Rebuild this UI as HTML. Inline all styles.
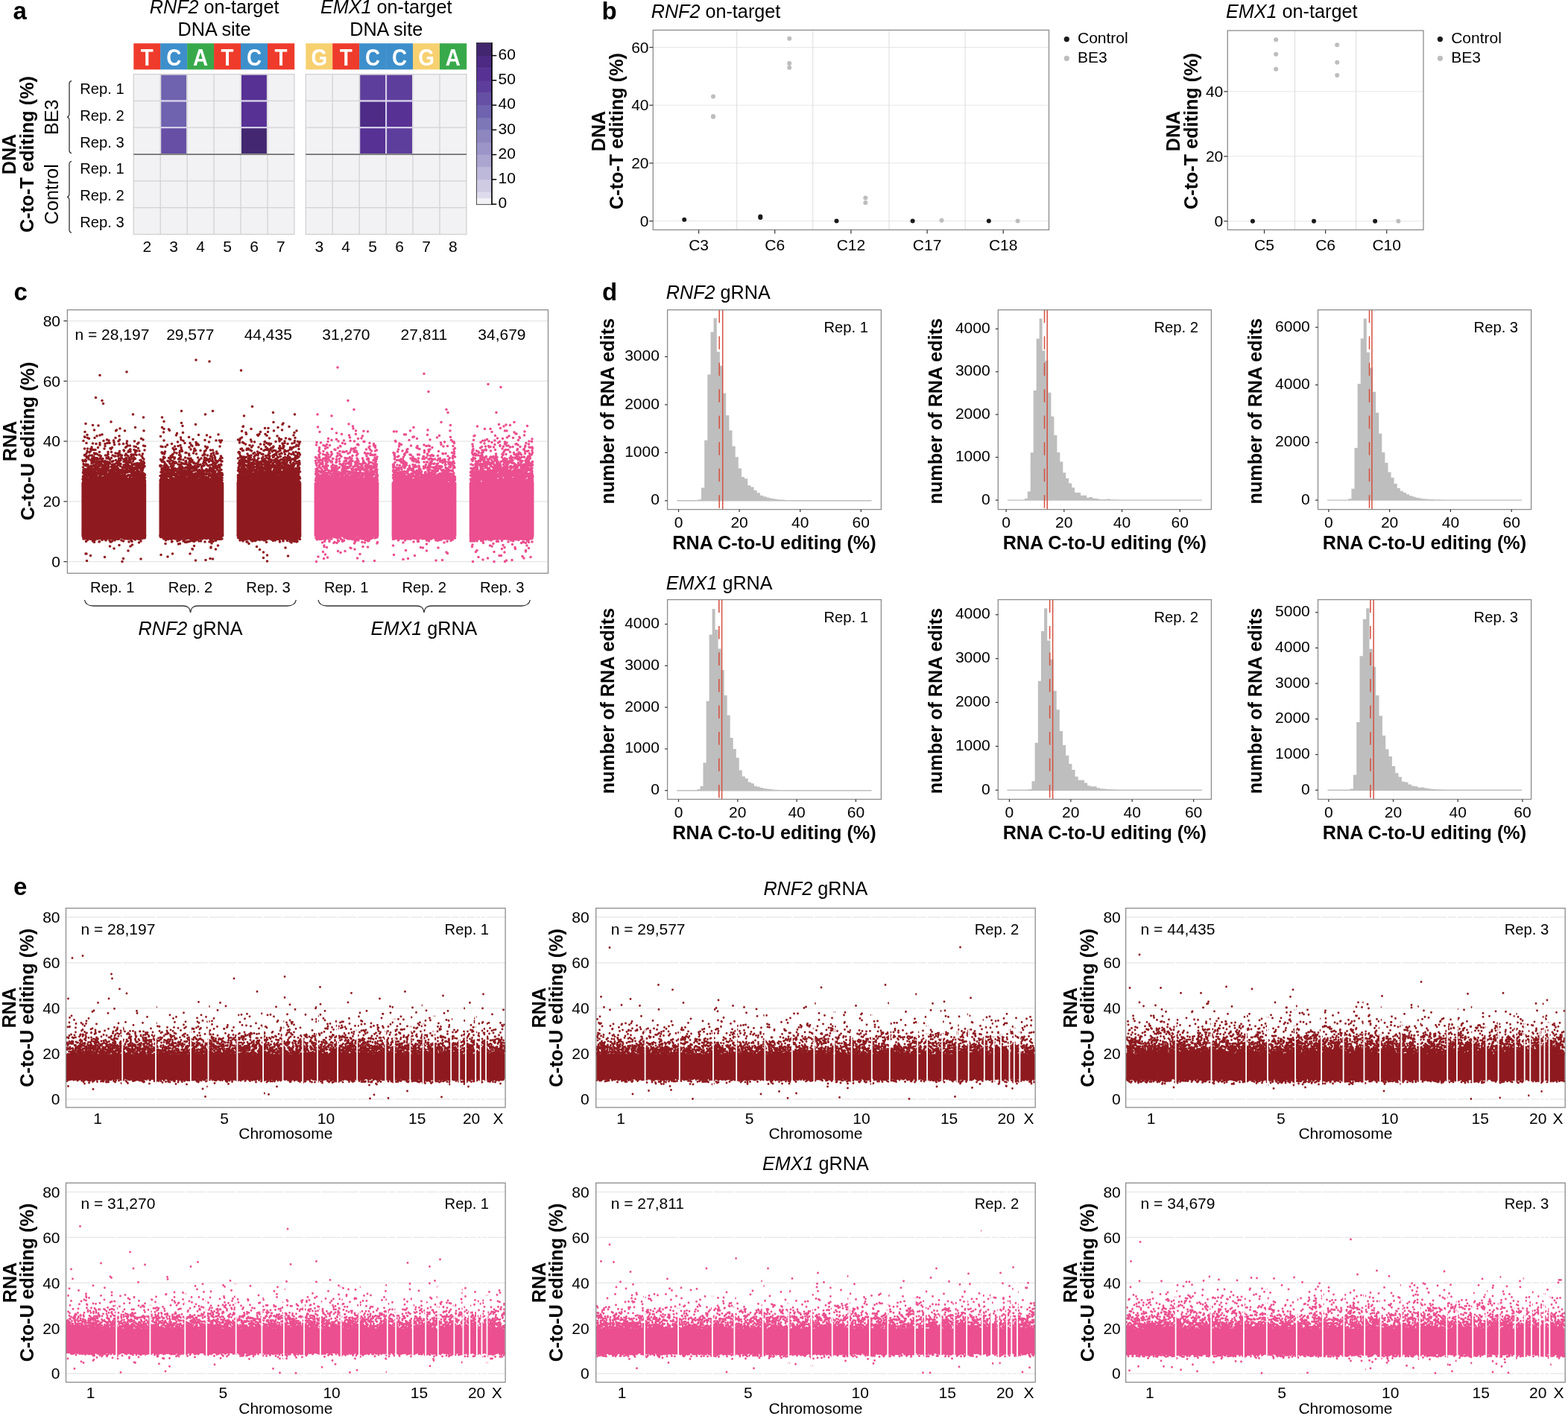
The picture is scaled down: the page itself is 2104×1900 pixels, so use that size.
<!DOCTYPE html>
<html><head><meta charset="utf-8"><title>Figure</title>
<style>html,body{margin:0;padding:0;background:#fff;overflow:hidden;width:2104px;height:1900px;}svg{display:block;}</style>
</head><body>
<svg width="2104" height="1900" viewBox="0 0 2104 1900" font-family="'Liberation Sans', Arial, sans-serif" font-size="21" fill="#000">
<rect width="2104" height="1900" fill="#fff"/>
<text x="17.5" y="25.5" font-size="33" font-weight="bold">a</text>
<text x="287.6" y="17.9" font-size="25.2" text-anchor="middle"><tspan font-style="italic">RNF2</tspan> on-target</text>
<text x="287.6" y="47.6" font-size="25.2" text-anchor="middle">DNA site</text>
<rect x="179.3" y="58.2" width="36.2" height="35.1" fill="#EE3B2C"/>
<text transform="translate(197.3 87.9) scale(0.91 1)" font-size="30.6" text-anchor="middle" font-weight="bold" fill="#fff">T</text>
<rect x="215.2" y="58.2" width="36.2" height="35.1" fill="#3D8FCB"/>
<text transform="translate(233.2 87.9) scale(0.91 1)" font-size="30.6" text-anchor="middle" font-weight="bold" fill="#fff">C</text>
<rect x="251.2" y="58.2" width="36.2" height="35.1" fill="#38A94B"/>
<text transform="translate(269.1 87.9) scale(0.91 1)" font-size="30.6" text-anchor="middle" font-weight="bold" fill="#fff">A</text>
<rect x="287.1" y="58.2" width="36.2" height="35.1" fill="#EE3B2C"/>
<text transform="translate(305.1 87.9) scale(0.91 1)" font-size="30.6" text-anchor="middle" font-weight="bold" fill="#fff">T</text>
<rect x="323" y="58.2" width="36.2" height="35.1" fill="#3D8FCB"/>
<text transform="translate(341 87.9) scale(0.91 1)" font-size="30.6" text-anchor="middle" font-weight="bold" fill="#fff">C</text>
<rect x="359" y="58.2" width="36.2" height="35.1" fill="#EE3B2C"/>
<text transform="translate(376.9 87.9) scale(0.91 1)" font-size="30.6" text-anchor="middle" font-weight="bold" fill="#fff">T</text>
<rect x="179.3" y="99.6" width="215.6" height="214.9" fill="#F2F2F5"/>
<line x1="215.2" y1="99.6" x2="215.2" y2="314.5" stroke="#D2D2D4" stroke-width="1.3"/>
<line x1="251.2" y1="99.6" x2="251.2" y2="314.5" stroke="#D2D2D4" stroke-width="1.3"/>
<line x1="287.1" y1="99.6" x2="287.1" y2="314.5" stroke="#D2D2D4" stroke-width="1.3"/>
<line x1="323" y1="99.6" x2="323" y2="314.5" stroke="#D2D2D4" stroke-width="1.3"/>
<line x1="359" y1="99.6" x2="359" y2="314.5" stroke="#D2D2D4" stroke-width="1.3"/>
<line x1="179.3" y1="135.4" x2="394.9" y2="135.4" stroke="#D2D2D4" stroke-width="1.3"/>
<line x1="179.3" y1="171.2" x2="394.9" y2="171.2" stroke="#D2D2D4" stroke-width="1.3"/>
<line x1="179.3" y1="242.9" x2="394.9" y2="242.9" stroke="#D2D2D4" stroke-width="1.3"/>
<line x1="179.3" y1="278.7" x2="394.9" y2="278.7" stroke="#D2D2D4" stroke-width="1.3"/>
<rect x="179.3" y="99.6" width="215.6" height="214.9" fill="none" stroke="#D0D0D2" stroke-width="1.3"/>
<rect x="216.2" y="100.6" width="33.9" height="33.8" fill="#6F62AE"/>
<rect x="216.2" y="136.4" width="33.9" height="33.8" fill="#6F62AE"/>
<rect x="216.2" y="172.2" width="33.9" height="33.8" fill="#664FA5"/>
<rect x="324" y="100.6" width="33.9" height="33.8" fill="#573194"/>
<rect x="324" y="136.4" width="33.9" height="33.8" fill="#573194"/>
<rect x="324" y="172.2" width="33.9" height="33.8" fill="#432871"/>
<line x1="215.2" y1="135.4" x2="251.2" y2="135.4" stroke="#D8D0EE" stroke-width="1.5"/>
<line x1="215.2" y1="171.2" x2="251.2" y2="171.2" stroke="#D8D0EE" stroke-width="1.5"/>
<line x1="323" y1="135.4" x2="359" y2="135.4" stroke="#D8D0EE" stroke-width="1.5"/>
<line x1="323" y1="171.2" x2="359" y2="171.2" stroke="#D8D0EE" stroke-width="1.5"/>
<line x1="179.3" y1="207.1" x2="394.9" y2="207.1" stroke="#707070" stroke-width="1.6"/>
<text x="197.3" y="337.9" text-anchor="middle">2</text>
<text x="233.2" y="337.9" text-anchor="middle">3</text>
<text x="269.1" y="337.9" text-anchor="middle">4</text>
<text x="305.1" y="337.9" text-anchor="middle">5</text>
<text x="341" y="337.9" text-anchor="middle">6</text>
<text x="376.9" y="337.9" text-anchor="middle">7</text>
<text x="518.2" y="17.9" font-size="25.2" text-anchor="middle"><tspan font-style="italic">EMX1</tspan> on-target</text>
<text x="518.2" y="47.6" font-size="25.2" text-anchor="middle">DNA site</text>
<rect x="410.3" y="58.2" width="36.2" height="35.1" fill="#F7D070"/>
<text transform="translate(428.3 87.9) scale(0.91 1)" font-size="30.6" text-anchor="middle" font-weight="bold" fill="#fff">G</text>
<rect x="446.2" y="58.2" width="36.2" height="35.1" fill="#EE3B2C"/>
<text transform="translate(464.2 87.9) scale(0.91 1)" font-size="30.6" text-anchor="middle" font-weight="bold" fill="#fff">T</text>
<rect x="482.2" y="58.2" width="36.2" height="35.1" fill="#3D8FCB"/>
<text transform="translate(500.1 87.9) scale(0.91 1)" font-size="30.6" text-anchor="middle" font-weight="bold" fill="#fff">C</text>
<rect x="518.1" y="58.2" width="36.2" height="35.1" fill="#3D8FCB"/>
<text transform="translate(536.1 87.9) scale(0.91 1)" font-size="30.6" text-anchor="middle" font-weight="bold" fill="#fff">C</text>
<rect x="554" y="58.2" width="36.2" height="35.1" fill="#F7D070"/>
<text transform="translate(572 87.9) scale(0.91 1)" font-size="30.6" text-anchor="middle" font-weight="bold" fill="#fff">G</text>
<rect x="590" y="58.2" width="36.2" height="35.1" fill="#38A94B"/>
<text transform="translate(607.9 87.9) scale(0.91 1)" font-size="30.6" text-anchor="middle" font-weight="bold" fill="#fff">A</text>
<rect x="410.3" y="99.6" width="215.6" height="214.9" fill="#F2F2F5"/>
<line x1="446.2" y1="99.6" x2="446.2" y2="314.5" stroke="#D2D2D4" stroke-width="1.3"/>
<line x1="482.2" y1="99.6" x2="482.2" y2="314.5" stroke="#D2D2D4" stroke-width="1.3"/>
<line x1="518.1" y1="99.6" x2="518.1" y2="314.5" stroke="#D2D2D4" stroke-width="1.3"/>
<line x1="554" y1="99.6" x2="554" y2="314.5" stroke="#D2D2D4" stroke-width="1.3"/>
<line x1="590" y1="99.6" x2="590" y2="314.5" stroke="#D2D2D4" stroke-width="1.3"/>
<line x1="410.3" y1="135.4" x2="625.9" y2="135.4" stroke="#D2D2D4" stroke-width="1.3"/>
<line x1="410.3" y1="171.2" x2="625.9" y2="171.2" stroke="#D2D2D4" stroke-width="1.3"/>
<line x1="410.3" y1="242.9" x2="625.9" y2="242.9" stroke="#D2D2D4" stroke-width="1.3"/>
<line x1="410.3" y1="278.7" x2="625.9" y2="278.7" stroke="#D2D2D4" stroke-width="1.3"/>
<rect x="410.3" y="99.6" width="215.6" height="214.9" fill="none" stroke="#D0D0D2" stroke-width="1.3"/>
<rect x="483.2" y="100.6" width="33.9" height="33.8" fill="#5E3E9C"/>
<rect x="483.2" y="136.4" width="33.9" height="33.8" fill="#4D2B86"/>
<rect x="483.2" y="172.2" width="33.9" height="33.8" fill="#573194"/>
<rect x="519.1" y="100.6" width="33.9" height="33.8" fill="#5E3E9C"/>
<rect x="519.1" y="136.4" width="33.9" height="33.8" fill="#573194"/>
<rect x="519.1" y="172.2" width="33.9" height="33.8" fill="#5E3E9C"/>
<line x1="482.2" y1="135.4" x2="518.1" y2="135.4" stroke="#D8D0EE" stroke-width="1.5"/>
<line x1="482.2" y1="171.2" x2="518.1" y2="171.2" stroke="#D8D0EE" stroke-width="1.5"/>
<line x1="518.1" y1="135.4" x2="554" y2="135.4" stroke="#D8D0EE" stroke-width="1.5"/>
<line x1="518.1" y1="171.2" x2="554" y2="171.2" stroke="#D8D0EE" stroke-width="1.5"/>
<line x1="518.1" y1="99.6" x2="518.1" y2="207.1" stroke="#D8D0EE" stroke-width="1.5"/>
<line x1="410.3" y1="207.1" x2="625.9" y2="207.1" stroke="#707070" stroke-width="1.6"/>
<text x="428.3" y="337.9" text-anchor="middle">3</text>
<text x="464.2" y="337.9" text-anchor="middle">4</text>
<text x="500.1" y="337.9" text-anchor="middle">5</text>
<text x="536.1" y="337.9" text-anchor="middle">6</text>
<text x="572" y="337.9" text-anchor="middle">7</text>
<text x="607.9" y="337.9" text-anchor="middle">8</text>
<text x="107.2" y="125.8" font-size="20.2">Rep. 1</text>
<text x="107.2" y="161.6" font-size="20.2">Rep. 2</text>
<text x="107.2" y="197.5" font-size="20.2">Rep. 3</text>
<text x="107.2" y="233.3" font-size="20.2">Rep. 1</text>
<text x="107.2" y="269.1" font-size="20.2">Rep. 2</text>
<text x="107.2" y="304.9" font-size="20.2">Rep. 3</text>
<path d="M96 108.5 C92 109.5 93 112.5 93 115.5 L93 152.1 C93 155.1 92 157.1 90 157.1 C92 157.1 93 159.1 93 162.1 L93 198.7 C93 201.7 92 204.7 96 205.7" fill="none" stroke="#333" stroke-width="1.3"/>
<path d="M96 216.3 C92 217.3 93 220.3 93 223.3 L93 259.3 C93 262.3 92 264.3 90 264.3 C92 264.3 93 266.3 93 269.3 L93 305.3 C93 308.3 92 311.3 96 312.3" fill="none" stroke="#333" stroke-width="1.3"/>
<text x="78" y="157.3" font-size="25.2" text-anchor="middle" transform="rotate(-90 78 157.3)">BE3</text>
<text x="78" y="260.7" font-size="25.2" text-anchor="middle" transform="rotate(-90 78 260.7)">Control</text>
<text x="21.3" y="207" font-size="25.2" text-anchor="middle" font-weight="bold" transform="rotate(-90 21.3 207)">DNA</text>
<text x="45.3" y="207" font-size="25.2" text-anchor="middle" font-weight="bold" transform="rotate(-90 45.3 207)">C-to-T editing (%)</text>
<rect x="639.5" y="265.7" width="20.5" height="8.7" fill="#F2F1F5"/>
<rect x="639.5" y="257.4" width="20.5" height="8.7" fill="#DDDBEC"/>
<rect x="639.5" y="240.8" width="20.5" height="17" fill="#CFCBE3"/>
<rect x="639.5" y="224.2" width="20.5" height="17" fill="#BDB9DA"/>
<rect x="639.5" y="207.5" width="20.5" height="17" fill="#ABA6D0"/>
<rect x="639.5" y="190.9" width="20.5" height="17" fill="#9C95C8"/>
<rect x="639.5" y="174.3" width="20.5" height="17" fill="#8D86BF"/>
<rect x="639.5" y="157.7" width="20.5" height="17" fill="#7D77B8"/>
<rect x="639.5" y="141.1" width="20.5" height="17" fill="#6F62AE"/>
<rect x="639.5" y="124.5" width="20.5" height="17" fill="#6650A5"/>
<rect x="639.5" y="107.8" width="20.5" height="17" fill="#5E3E9C"/>
<rect x="639.5" y="91.2" width="20.5" height="17" fill="#573194"/>
<rect x="639.5" y="74.6" width="20.5" height="17" fill="#4D2B85"/>
<rect x="639.5" y="57.7" width="20.5" height="17.3" fill="#42276F"/>
<rect x="639.5" y="57.5" width="20.5" height="216.8" fill="none" stroke="#222" stroke-width="0.8"/>
<line x1="660" y1="56.9" x2="660" y2="274.9" stroke="#000" stroke-width="1.5"/>
<line x1="660" y1="274" x2="666.3" y2="274" stroke="#000" stroke-width="1.5"/>
<text x="668.5" y="279.3">0</text>
<line x1="660" y1="240.8" x2="666.3" y2="240.8" stroke="#000" stroke-width="1.5"/>
<text x="668.5" y="246.1">10</text>
<line x1="660" y1="207.5" x2="666.3" y2="207.5" stroke="#000" stroke-width="1.5"/>
<text x="668.5" y="212.8">20</text>
<line x1="660" y1="174.3" x2="666.3" y2="174.3" stroke="#000" stroke-width="1.5"/>
<text x="668.5" y="179.6">30</text>
<line x1="660" y1="141.1" x2="666.3" y2="141.1" stroke="#000" stroke-width="1.5"/>
<text x="668.5" y="146.4">40</text>
<line x1="660" y1="107.8" x2="666.3" y2="107.8" stroke="#000" stroke-width="1.5"/>
<text x="668.5" y="113.1">50</text>
<line x1="660" y1="74.6" x2="666.3" y2="74.6" stroke="#000" stroke-width="1.5"/>
<text x="668.5" y="79.9">60</text>
<text x="807.5" y="25.5" font-size="33" font-weight="bold">b</text>
<line x1="876.3" y1="296.6" x2="1407.5" y2="296.6" stroke="#E6E6E6" stroke-width="1"/>
<line x1="876.3" y1="218.9" x2="1407.5" y2="218.9" stroke="#E6E6E6" stroke-width="1"/>
<line x1="876.3" y1="141.2" x2="1407.5" y2="141.2" stroke="#E6E6E6" stroke-width="1"/>
<line x1="876.3" y1="63.5" x2="1407.5" y2="63.5" stroke="#E6E6E6" stroke-width="1"/>
<line x1="988.7" y1="40.4" x2="988.7" y2="308.4" stroke="#DCDCDC" stroke-width="1"/>
<line x1="1090.8" y1="40.4" x2="1090.8" y2="308.4" stroke="#DCDCDC" stroke-width="1"/>
<line x1="1193" y1="40.4" x2="1193" y2="308.4" stroke="#DCDCDC" stroke-width="1"/>
<line x1="1295.1" y1="40.4" x2="1295.1" y2="308.4" stroke="#DCDCDC" stroke-width="1"/>
<rect x="876.3" y="40.4" width="531.2" height="268" fill="none" stroke="#8C8C8C" stroke-width="1.3"/>
<line x1="871.3" y1="296.6" x2="876.3" y2="296.6" stroke="#333" stroke-width="1.2"/>
<text x="870.5" y="303.6" text-anchor="end">0</text>
<line x1="871.3" y1="218.9" x2="876.3" y2="218.9" stroke="#333" stroke-width="1.2"/>
<text x="870.5" y="225.9" text-anchor="end">20</text>
<line x1="871.3" y1="141.2" x2="876.3" y2="141.2" stroke="#333" stroke-width="1.2"/>
<text x="870.5" y="148.2" text-anchor="end">40</text>
<line x1="871.3" y1="63.5" x2="876.3" y2="63.5" stroke="#333" stroke-width="1.2"/>
<text x="870.5" y="70.5" text-anchor="end">60</text>
<line x1="937.6" y1="308.4" x2="937.6" y2="313.4" stroke="#333" stroke-width="1.2"/>
<text x="937.6" y="335.9" text-anchor="middle">C3</text>
<line x1="1039.7" y1="308.4" x2="1039.7" y2="313.4" stroke="#333" stroke-width="1.2"/>
<text x="1039.7" y="335.9" text-anchor="middle">C6</text>
<line x1="1141.9" y1="308.4" x2="1141.9" y2="313.4" stroke="#333" stroke-width="1.2"/>
<text x="1141.9" y="335.9" text-anchor="middle">C12</text>
<line x1="1244.1" y1="308.4" x2="1244.1" y2="313.4" stroke="#333" stroke-width="1.2"/>
<text x="1244.1" y="335.9" text-anchor="middle">C17</text>
<line x1="1346.2" y1="308.4" x2="1346.2" y2="313.4" stroke="#333" stroke-width="1.2"/>
<text x="1346.2" y="335.9" text-anchor="middle">C18</text>
<circle cx="918.2" cy="294.7" r="3" fill="#1A1A1A"/>
<circle cx="957" cy="129.5" r="3" fill="#BDBDBD"/>
<circle cx="957" cy="156.7" r="3" fill="#BDBDBD"/>
<circle cx="957" cy="156" r="3" fill="#BDBDBD"/>
<circle cx="1020.3" cy="291.9" r="3" fill="#1A1A1A"/>
<circle cx="1020.3" cy="290.4" r="3" fill="#1A1A1A"/>
<circle cx="1059.2" cy="51.8" r="3" fill="#BDBDBD"/>
<circle cx="1059.2" cy="84.9" r="3" fill="#BDBDBD"/>
<circle cx="1059.2" cy="90.7" r="3" fill="#BDBDBD"/>
<circle cx="1122.5" cy="296.6" r="3" fill="#1A1A1A"/>
<circle cx="1161.3" cy="265.5" r="3" fill="#BDBDBD"/>
<circle cx="1161.3" cy="272.1" r="3" fill="#BDBDBD"/>
<circle cx="1224.6" cy="296.6" r="3" fill="#1A1A1A"/>
<circle cx="1263.5" cy="295.8" r="3" fill="#BDBDBD"/>
<circle cx="1326.8" cy="296.6" r="3" fill="#1A1A1A"/>
<circle cx="1365.6" cy="296.6" r="3" fill="#BDBDBD"/>
<text x="873.7" y="23.9" font-size="25.2"><tspan font-style="italic">RNF2</tspan> on-target</text>
<circle cx="1431.3" cy="52.6" r="3.6" fill="#1A1A1A"/>
<circle cx="1431.3" cy="78.3" r="3.6" fill="#BDBDBD"/>
<text x="1446" y="58.2">Control</text>
<text x="1446" y="83.8">BE3</text>
<text x="812" y="176" font-size="25.2" text-anchor="middle" font-weight="bold" transform="rotate(-90 812 176)">DNA</text>
<text x="836.3" y="176" font-size="25.2" text-anchor="middle" font-weight="bold" transform="rotate(-90 836.3 176)">C-to-T editing (%)</text>
<line x1="1647.2" y1="296.8" x2="1910" y2="296.8" stroke="#E6E6E6" stroke-width="1"/>
<line x1="1647.2" y1="209.8" x2="1910" y2="209.8" stroke="#E6E6E6" stroke-width="1"/>
<line x1="1647.2" y1="122.8" x2="1910" y2="122.8" stroke="#E6E6E6" stroke-width="1"/>
<line x1="1737.5" y1="41" x2="1737.5" y2="308.4" stroke="#DCDCDC" stroke-width="1"/>
<line x1="1819.7" y1="41" x2="1819.7" y2="308.4" stroke="#DCDCDC" stroke-width="1"/>
<rect x="1647.2" y="41" width="262.8" height="267.4" fill="none" stroke="#8C8C8C" stroke-width="1.3"/>
<line x1="1642.2" y1="296.8" x2="1647.2" y2="296.8" stroke="#333" stroke-width="1.2"/>
<text x="1641.3" y="303.8" text-anchor="end">0</text>
<line x1="1642.2" y1="209.8" x2="1647.2" y2="209.8" stroke="#333" stroke-width="1.2"/>
<text x="1641.3" y="216.8" text-anchor="end">20</text>
<line x1="1642.2" y1="122.8" x2="1647.2" y2="122.8" stroke="#333" stroke-width="1.2"/>
<text x="1641.3" y="129.8" text-anchor="end">40</text>
<line x1="1696.5" y1="308.4" x2="1696.5" y2="313.4" stroke="#333" stroke-width="1.2"/>
<text x="1696.5" y="335.9" text-anchor="middle">C5</text>
<line x1="1778.6" y1="308.4" x2="1778.6" y2="313.4" stroke="#333" stroke-width="1.2"/>
<text x="1778.6" y="335.9" text-anchor="middle">C6</text>
<line x1="1860.7" y1="308.4" x2="1860.7" y2="313.4" stroke="#333" stroke-width="1.2"/>
<text x="1860.7" y="335.9" text-anchor="middle">C10</text>
<circle cx="1680.9" cy="296.8" r="3" fill="#1A1A1A"/>
<circle cx="1712.1" cy="53.2" r="3" fill="#BDBDBD"/>
<circle cx="1712.1" cy="72.8" r="3" fill="#BDBDBD"/>
<circle cx="1712.1" cy="92.8" r="3" fill="#BDBDBD"/>
<circle cx="1763" cy="296.8" r="3" fill="#1A1A1A"/>
<circle cx="1794.2" cy="60.2" r="3" fill="#BDBDBD"/>
<circle cx="1794.2" cy="83.7" r="3" fill="#BDBDBD"/>
<circle cx="1794.2" cy="101.1" r="3" fill="#BDBDBD"/>
<circle cx="1845.1" cy="296.8" r="3" fill="#1A1A1A"/>
<circle cx="1876.3" cy="296.8" r="3" fill="#BDBDBD"/>
<text x="1645" y="23.9" font-size="25.2"><tspan font-style="italic">EMX1</tspan> on-target</text>
<circle cx="1932.4" cy="52.6" r="3.6" fill="#1A1A1A"/>
<circle cx="1932.4" cy="78.3" r="3.6" fill="#BDBDBD"/>
<text x="1947.2" y="58.2">Control</text>
<text x="1947.2" y="83.8">BE3</text>
<text x="1583" y="176" font-size="25.2" text-anchor="middle" font-weight="bold" transform="rotate(-90 1583 176)">DNA</text>
<text x="1607" y="176" font-size="25.2" text-anchor="middle" font-weight="bold" transform="rotate(-90 1607 176)">C-to-T editing (%)</text>
<text x="18.5" y="402.7" font-size="33" font-weight="bold">c</text>
<line x1="90.4" y1="753.6" x2="735.5" y2="753.6" stroke="#E6E6E6" stroke-width="1.3"/>
<line x1="85.4" y1="753.6" x2="90.4" y2="753.6" stroke="#333" stroke-width="1.2"/>
<text x="81" y="760.9" text-anchor="end">0</text>
<line x1="90.4" y1="672.9" x2="735.5" y2="672.9" stroke="#E6E6E6" stroke-width="1.3"/>
<line x1="85.4" y1="672.9" x2="90.4" y2="672.9" stroke="#333" stroke-width="1.2"/>
<text x="81" y="680.1" text-anchor="end">20</text>
<line x1="90.4" y1="592.1" x2="735.5" y2="592.1" stroke="#E6E6E6" stroke-width="1.3"/>
<line x1="85.4" y1="592.1" x2="90.4" y2="592.1" stroke="#333" stroke-width="1.2"/>
<text x="81" y="599.4" text-anchor="end">40</text>
<line x1="90.4" y1="511.4" x2="735.5" y2="511.4" stroke="#E6E6E6" stroke-width="1.3"/>
<line x1="85.4" y1="511.4" x2="90.4" y2="511.4" stroke="#333" stroke-width="1.2"/>
<text x="81" y="518.6" text-anchor="end">60</text>
<line x1="90.4" y1="430.6" x2="735.5" y2="430.6" stroke="#E6E6E6" stroke-width="1.3"/>
<line x1="85.4" y1="430.6" x2="90.4" y2="430.6" stroke="#333" stroke-width="1.2"/>
<text x="81" y="437.9" text-anchor="end">80</text>
<rect x="109.4" y="647.4" width="86.8" height="72.3" fill="#8E1A1F"/>
<path transform="scale(0.5)" fill="none" stroke="#8E1A1F" stroke-width="7.2" stroke-linecap="round" d="M222 1235h0m0 51h0m1 2h0m0 6h0m0 147h0m0-3h0m0-152h0m0-32h0m0-16h0m0 40h0m0-9h0m0 169h0m0-158h0m0-13h0m0 29h0m1 3h0m0-116h0m0 103h0m0 160h0m0-8h0m0-144h0m0 150h0m0-199h0m0 16h0m0 176h0m0 0h0m0-145h0m0-5h0m0 150h0m1-190h0m0 196h0m0-165h0m0-16h0m0 176h0m0 0h0m0-2h0m0 1h0m0-139h0m0 1h0m0 141h0m1-151h0m0 9h0m0 139h0m0-166h0m0 23h0m0-6h0m0 155h0m0-6h0m0-166h0m0 167h0m0-157h0m0-8h0m0 25h0m0 138h0m0-146h0m0 148h0m0-144h0m0-8h0m1-65h0m0 220h0m0 5h0m0-5h0m0 2h0m0-176h0m0 25h0m0-70h0m0 54h0m0 17h0m0-121h0m0 32h0m1-31h0m0 106h0m0 15h0m0 146h0m0-3h0m0-178h0m0-100h0m0 106h0m0 26h0m0-24h0m0 17h0m0-16h0m0 22h0m0-16h0m0 8h0m0-10h0m0 17h0m0 148h0m0 1h0m0-201h0m1 48h0m0 12h0m0-31h0m0 27h0m0-44h0m0 29h0m0-1h0m0-7h0m0-36h0m0 205h0m1-152h0m0 152h0m0-302h0m0 307h0m0-1h0m0-5h0m0-144h0m0 192h0m0-49h0m0-1h0m0-198h0m0 23h0m0 177h0m0-159h0m0 159h0m1-140h0m0-28h0m0-20h0m0 29h0m0 159h0m0 0h0m0 15h0m0-229h0m0 46h0m0 24h0m0-58h0m0 10h0m0 39h0m0 159h0m1-147h0m0-35h0m0 16h0m0-9h0m0-44h0m0-36h0m0 72h0m0 25h0m0 200h0m0-49h0m0-157h0m0 158h0m0-170h0m0-51h0m0 60h0m0 21h0m0 138h0m0-155h0m1 165h0m0-175h0m0 234h0m0-210h0m0-6h0m0-61h0m0 41h0m0 14h0m0 12h0m0 1h0m0-29h0m1 169h0m0-142h0m0-23h0m0 173h0m0-7h0m0-168h0m0-102h0m0 120h0m0 150h0m0-179h0m0-47h0m0 227h0m0-1h0m0 2h0m1-227h0m0 224h0m0-232h0m0 84h0m0 8h0m0-19h0m0 0h0m0 160h0m0 1h0m0-166h0m0 172h0m0-269h0m0 274h0m0-182h0m1 175h0m0-4h0m0-1h0m0-175h0m0-15h0m0 21h0m0 177h0m1-215h0m0 41h0m0 22h0m0 151h0m0-175h0m0 172h0m0-167h0m0 172h0m0-10h0m0-183h0m0 186h0m0 3h0m0-4h0m1-147h0m0-67h0m0 30h0m0 9h0m0 175h0m0-207h0m0 31h0m0 176h0m0-206h0m0 36h0m0 19h0m1-35h0m0 185h0m0-151h0m0-8h0m0 161h0m0-141h0m0-7h0m0-35h0m0 31h0m0 151h0m0-261h0m0 122h0m0-21h0m1 168h0m0-150h0m0 0h0m0 142h0m0 7h0m0-161h0m0 6h0m0 147h0m0 6h0m0-190h0m0 41h0m0-22h0m0 19h0m0-10h0m0 1h0m0 14h0m0 142h0m0-162h0m0-62h0m1 225h0m0-157h0m0 160h0m0-220h0m0 224h0m0-158h0m0-1h0m0 158h0m0-8h0m0 0h0m0-139h0m0-9h0m0 4h0m0 146h0m0-141h0m0-28h0m0 19h0m0-29h0m0 177h0m0-170h0m0 28h0m1 150h0m0-171h0m0 163h0m0-173h0m0 32h0m0-16h0m0 14h0m0 151h0m0-162h0m0 156h0m0-227h0m0 69h0m0 161h0m1-145h0m0 2h0m0-9h0m0 146h0m0 2h0m0 0h0m0-154h0m0-4h0m0 13h0m0-2h0m0-4h0m0-82h0m0 87h0m0 199h0m0-216h0m0 17h0m0 6h0m1 142h0m0-190h0m0 29h0m0 159h0m0-163h0m0 172h0m0-212h0m0 57h0m0-3h0m1-81h0m0 50h0m0 184h0m0 4h0m0-176h0m0 169h0m0-154h0m0 153h0m0 0h0m0 7h0m0-153h0m0 145h0m0 0h0m0-140h0m0-19h0m1-35h0m0 43h0m0-81h0m0 51h0m0-56h0m0 238h0m0-144h0m0-55h0m0 29h0m0 26h0m0 144h0m1-144h0m0-3h0m0-69h0m0 50h0m0 22h0m0-20h0m0-12h0m0 183h0m0-215h0m0 206h0m0-198h0m0-15h0m0 34h0m1-19h0m0 50h0m0-5h0m0 161h0m0-176h0m0 169h0m0-141h0m0 141h0m0-152h0m0 8h0m0 3h0m0 140h0m1 3h0m0-207h0m0 218h0m0-260h0m0 77h0m0 21h0m0-3h0m0 11h0m0-26h0m0-129h0m0 311h0m1-162h0m0-6h0m0-20h0m0-13h0m0 187h0m0-153h0m0 154h0m0 0h0m0-158h0m0-22h0m1 37h0m0 141h0m0-141h0m0-21h0m0 13h0m0-11h0m0 171h0m0-10h0m0-1h0m0 1h0m0-190h0m0-41h0m0 42h0m0 44h0m0 146h0m0-170h0m0 22h0m0 145h0m0-143h0m1-12h0m0-22h0m0 23h0m0 155h0m0 3h0m0-199h0m0 57h0m0-72h0m0 212h0m0 2h0m0-158h0m1-5h0m0-123h0m0 83h0m0 218h0m0-183h0m0 0h0m0 7h0m0-63h0m0 227h0m0-161h0m0-5h0m0 7h0m0-6h0m0 160h0m0 2h0m0-177h0m0 177h0m0-142h0m0 139h0m0 14h0m1-219h0m0 28h0m0 17h0m0 7h0m0-65h0m0-44h0m0 106h0m0-28h0m0 43h0m0 144h0m0-3h0m0-147h0m0-29h0m0-8h0m0 24h0m0 161h0m1 0h0m0-142h0m0 141h0m0-150h0m0 149h0m0-141h0m0-1h0m0 2h0m0 142h0m0-209h0m0 56h0m0-30h0m0 32h0m0-23h0m0 15h0m1 163h0m0 6h0m0-11h0m0-158h0m0 158h0m0-159h0m0 18h0m0-7h0m0 5h0m0-8h0m0-15h0m0-64h0m1-140h0m0 371h0m0-192h0m0 23h0m0 21h0m0 153h0m0-193h0m0 45h0m0 146h0m0-171h0m0 7h0m0 1h0m0-18h0m1 27h0m0 0h0m0 156h0m0-187h0m0-16h0m0 197h0m0-220h0m0 221h0m0-247h0m0 251h0m0-156h0m1-47h0m0 199h0m0-2h0m0-146h0m0-8h0m0-4h0m0 11h0m0-4h0m0 160h0m0-213h0m0 41h0m0-3h0m0-27h0m1 55h0m0-128h0m0 126h0m0 142h0m0 4h0m0-4h0m0-144h0m0-65h0m0 44h0m0 15h0m0 5h0m0 5h0m0-3h0m0 2h0m0-38h0m0-15h0m0-10h0m1-4h0m0 207h0m0-143h0m0 152h0m0-10h0m0 2h0m0 4h0m0 2h0m0-225h0m0 11h0m0 66h0m1-28h0m0-4h0m0 28h0m0-39h0m0 41h0m0-3h0m0 155h0m0-3h0m1-6h0m0 0h0m0 4h0m0-3h0m0-237h0m0 58h0m0 180h0m1-1h0m0-176h0m0-13h0m0 15h0m0-122h0m0 143h0m1-46h0m0 47h0m0 152h0m0-151h0m0-15h0m0 10h0m0 2h0m0 153h0m0-205h0m0 63h0m0 142h0m0-151h0m0 10h0m0 3h0m1-50h0m0 20h0m0 0h0m0-47h0m0 36h0m0-15h0m0 211h0m0-175h0m0-11h0m0 177h0m0-155h0m0 152h0m1-191h0m0-38h0m0 81h0m0 4h0m0 139h0m0 2h0m0-198h0m0 212h0m0-156h0m0 143h0m0 2h0m0-5h0m1-248h0m0 96h0m0-117h0m0 273h0m0-156h0m0 156h0m0-434h0m0 290h0m0-75h0m0 77h0m0-25h0m0 0h0m0-32h0m0 17h0m0 180h0m0-197h0m0-48h0m1 65h0m0 181h0m0-165h0m0-45h0m0 65h0m0-57h0m0 200h0m0-150h0m0-26h0m0 15h0m0 159h0m0-144h0m1-3h0m0 156h0m0-220h0m0 212h0m0 0h0m0-190h0m0 47h0m0-35h0m0 39h0m0 140h0m0 0h0m0 7h0m0-185h0m1-29h0m0 57h0m0-19h0m0 3h0m0 0h0m0 4h0m0-52h0m0 213h0m0-146h0m0 147h0m1-156h0m0 1h0m0-10h0m0 10h0m0-43h0m0 42h0m0-14h0m0 25h0m0 145h0m0 3h0m0-145h0m0-58h0m1 59h0m0 143h0m0-4h0m0 3h0m0-170h0m0-22h0m0 199h0m0-208h0m0 204h0m0-176h0m0 0h0m0-18h0m0 49h0m0-23h0m1 169h0m0-368h0m0 192h0m0 20h0m0 9h0m0 0h0m0-32h0m0-4h0m0 189h0m0-12h0m0-183h0m0 30h0m0-38h0m0-80h0m0 121h0m1 5h0m0 148h0m0 2h0m0-6h0m0-203h0m0-2h0m0 52h0m0 2h0m0 161h0m0-8h0m0-1h0m0 0h0m0-147h0m1-26h0m0 178h0m0 1h0m0-212h0m0 56h0m0-28h0m0 6h0m0 177h0m1-4h0m0-1h0m0-354h0m0 189h0m0 174h0m0-6h0m0-147h0m0 152h0m0-9h0m0-155h0m0 162h0m0-170h0m1-2h0m0-15h0m0-17h0m0 14h0m0 6h0m0 14h0m0 170h0m0-260h0m1 105h0m0-33h0m0 27h0m0 158h0m0-3h0m0-155h0m0-33h0m0 45h0m0-35h0m0 25h0m1 4h0m0 8h0m0-92h0m0 242h0m0-150h0m0 148h0m0-157h0m0-38h0m0 24h0m0 165h0m0-173h0m0 21h0m0 152h0m0 0h0m1-195h0m0 201h0m0-7h0m0 5h0m0-168h0m0 5h0m0-8h0m0 166h0m0 58h0m1-298h0m0 246h0m0-184h0m0-22h0m0 36h0m0 165h0m0-143h0m0-7h0m0 152h0m0-167h0m0 24h0m0-54h0m0 49h0m0-101h0m0 50h0m1 27h0m0 170h0m0-150h0m0 10h0m0 139h0m0-189h0m0 198h0m0-224h0m0 222h0m0-147h0m0-11h0m1 13h0m0-16h0m0-11h0m0 173h0m0-160h0m0 1h0m0 150h0m0 0h0m0-162h0m0-28h0m0 197h0m0-177h0m0 31h0m0 153h0m0-158h0m0-40h0m0 46h0m1-34h0m0 173h0m0-169h0m0 27h0m0 142h0m0-180h0m0 18h0m0 10h0m1 162h0m0-182h0m0 171h0m0-206h0m0 36h0m0 175h0m0-186h0m0-25h0m0 50h0m0 13h0m0-64h0m0 34h0m0 27h0m0 147h0m1-145h0m0 146h0m0-146h0m0 151h0m0-152h0m0 5h0m0-116h0m0 109h0m0 7h0m0 0h0m0 140h0m0-176h0m1-4h0m0 17h0m0 163h0m0-194h0m0 53h0m0-14h0m0-42h0m0 199h0m0-156h0m0 9h0m0-102h0m0 33h0m1 215h0m0-144h0m0 144h0m0-150h0m0 150h0m0-145h0m0-15h0m0 159h0m0-163h0m0-12h0m1 180h0m0-154h0m0-74h0m0 63h0m0-58h0m0 219h0m0-148h0m0 8h0m0-78h0m0 11h0m0 207h0m0-189h0m1-5h0m0 55h0m0-10h0m0 148h0m0 4h0m0-188h0m0 186h0m0-182h0m0 38h0m0 150h0m0-193h0m0 187h0m0-211h0m1 62h0m0-17h0m0 3h0m0 17h0m0 145h0m0-162h0m0 162h0m0 0h0m0-142h0m0-17h0m0 159h0m0 1h0m0-256h0m0 48h0m0 51h0m1 3h0m0 9h0m0-14h0m0 7h0m0 151h0m0 2h0m0-155h0m0-21h0m0 182h0m0-204h0m0 39h0m0 161h0m0-253h0m0 81h0m1 171h0m0 2h0m0-253h0m0 248h0m0 13h0m0-10h0m0-2h0m0-175h0m0 32h0m1-3h0m0-6h0m0 150h0m0-140h0m0-25h0m0 18h0m0-55h0m0 203h0m0-1h0m0-170h0m0-22h0m0 222h0m0-29h0m0 2h0m1-158h0m0 173h0m0-165h0m0 7h0m0 2h0m0 141h0m0-167h0m0 166h0m0-141h0m0 140h0m0 3h0m0-156h0m0 158h0m0-150h0m0 148h0m0 2h0m0-239h0m1 237h0m0-153h0m0-11h0m0-1h0m0-14h0m0 13h0m0 170h0m1-164h0m0 2h0m0 1h0m0 15h0m0-11h0m0-34h0m0 201h0m0-171h0m0-80h0m0 93h0m0-91h0m0 232h0m0 1h0m0-306h0m0 161h0m1 145h0m0-161h0m0 9h0m0-7h0m0 157h0m0-172h0m0-3h0m0-48h0m0 16h0m0 47h0m0 163h0m0-147h0m0-3h0m0 155h0m0-167h0m1-11h0m0 8h0m0-35h0m0 199h0m0-175h0m0 175h0m0-187h0m0 28h0m0 19h0m0 139h0m0 8h0m0-164h0m1-10h0m0-70h0m0 97h0m0 148h0m0-167h0m0 16h0m0 143h0m0 14h0m0-193h0m0-12h0m0 191h0m0-157h0m0-42h0m0 38h0m0-29h0m1 2h0m0 29h0m0 5h0m0-1h0m0 154h0m0 0h0m0 1h0m0 4h0m0-149h0m0-17h0m0 162h0m0-185h0m0-31h0m0 25h0m1 38h0m0 151h0m0 9h0m0-156h0m0 148h0m0-151h0m0 152h0m1-154h0m0-47h0m0 200h0m0-168h0m0-23h0m0 20h0m0-1h0m0 180h0m0-7h0m0 8h0m1-177h0m0 169h0m0 7h0m0-181h0m0 174h0m0-150h0m0 2h0m0 1h0m0 148h0m0-257h0m0 116h0m0 138h0m0-145h0m0-8h0m0-31h0m1 184h0m0 1h0m0-142h0m0 177h0m0-32h0m0-142h0m0-18h0m0 14h0m0-4h0m0-103h0m0 102h0m0-31h0m1 179h0m0-244h0m0 96h0m0 6h0m0-1h0m0-26h0m0-44h0m0 51h0m0-2h0m0 19h0m0-9h0m0-37h0m0 29h0m0 12h0m1-7h0m0-11h0m0 169h0m0-155h0m0-6h0m0 173h0m0-166h0m0 13h0m0-11h0m0 151h0m0-165h0m1 10h0m0-13h0m0 168h0m0-154h0m0 154h0m0-156h0m0-1h0m0 164h0m0-7h0m0 1h0m0-176h0m0-11h0m0 19h0m0 26h0m0-3h0m0-36h0m1 182h0m0 1h0m0-144h0m0-24h0m0-56h0m0 221h0m0-183h0m0-4h0m0-26h0m0-49h0m0 262h0m0 0h0m0-153h0m0 153h0m0-151h0m1-6h0m0 165h0m0-175h0m0 16h0m0 11h0m0 0h0m0-141h0m0 114h0m0-10h0m0 185h0m0-210h0m0 211h0m0-10h0m1-142h0m0-51h0m0 34h0m0 1h0m0 159h0m0 9h0m1-292h0m0 283h0m0-177h0m0 177h0m0 6h0m0 0h0m0-153h0m0 7h0m0-23h0m0 166h0m0-158h0m0 0h0m0 14h0m1 141h0m0-149h0m0 4h0m0 146h0m0-146h0m0-28h0m0 35h0m0 139h0m0 0h0m0-1h0m0-164h0m0 21h0m0-23h0m0 12h0m1-5h0m0 19h0m0-47h0m0 37h0m0 150h0m0-140h0m0 140h0m0 0h0m0-198h0m0 37h0m0 162h0m0-164h0m0 165h0m0-222h0m0 72h0m0-33h0m0 16h0m0 166h0m0-159h0m1 14h0m0 154h0m0-166h0m0-13h0m0 17h0m0-8h0m0 159h0m0 1h0m0 1h0m0-1h0m0-141h0m0 141h0m0-1h0m1-162h0m0 165h0m0-152h0m0-63h0m0 217h0m0-159h0m0-4h0m0-12h0m0 172h0m0-175h0m0-1h0m0-5h0m0-10h0m0 190h0m0 8h0m1-8h0m0 0h0m0 1h0m0-1h0m0-154h0m0-2h0m0 159h0m0-196h0m0 47h0m0-49h0m0 38h0m0-11h0m0-85h0m0 35h0m0 79h0m1 140h0m0 0h0m0-148h0m0 147h0m0 3h0m0-2h0m0 7h0m0-182h0m0 4h0m0-31h0m0 203h0m0-147h0m0-58h0m0 206h0m0-141h0m0 139h0m0-207h0m0 17h0m1-33h0m0-23h0m0 254h0m0-276h0m0 272h0m0-4h0m0-201h0m0 61h0m0 148h0m0-205h0m0 38h0m0-39h0m0 50h0m0 147h0m0 26h0m1-25h0m0-164h0m0 5h0m0 160h0m0-1h0m0-206h0m0 53h0m0 156h0m0-5h0m0-256h0m0 257h0m0-191h0m0-35h0m1 226h0m0-287h0m0 130h0m0 160h0m0-2h0m0-144h0m0-64h0m0 210h0m0-2h0m0-155h0m0-2h0m1 158h0m0-140h0m0-3h0m0-28h0m0-48h0m0 63h0m0-22h0m0 24h0m0 0h0m0-34h0m1 32h0m0-5h0m0 160h0m0-1h0m0-202h0m0-12h0m0 40h0m0 174h0m0-139h0m0-53h0m0 47h0m0-30h0m0 37h0m0 137h0m0 1h0m1 2h0m0-1h0m0-160h0m0 159h0m0-141h0m0-11h0m0 153h0m0-150h0m0-24h0m1 174h0m0-147h0m0 7h0m0-14h0m0 4h0m0 0h0m0 162h0m0-152h0m0-13h0m0 11h0m1-1h0m0 148h0m0-221h0m0 76h0m0-20h0m0-49h0m0 210h0m0-169h0m0 27h0m0-20h0m1 10h0m0 156h0m0-5h0m0-146h0m0-38h0m0 39h0m0-3h0m0-3h0m0 5h0m0 3h0m0-6h0m0-14h0m0 232h0m1-228h0m0-11h0m0 28h0m0 0h0m0 0h0m0-9h0m0 150h0m0 1h0m0-1h0m0-163h0m0 163h0m0-1h0m0-176h0m1 177h0m0-142h0m0 142h0m0-144h0m0-39h0m0 28h0m0-24h0m0 30h0m0-3h0m0 8h0m1-13h0m0 1h0m0 155h0m0-170h0m0-75h0m0 89h0m0 219h0m0-201h0m0-2h0m0-33h0m0 175h0m0-145h0m0 146h0m0-163h0m0 1h0m0 175h0m1-161h0m0 145h0m0-228h0m0 40h0m0 32h0m0-2h0m0 162h0m0-207h0m0 206h0m0-2h0m0-182h0m0 183h0m0-183h0m0 184h0m0-200h0m1 204h0m0-233h0m0 69h0m0 159h0m0-140h0m0-30h0m0 170h0m0 3h0m0-1h0m0-149h0m0 154h0m0-166h0m0-16h0m0 174h0m0 3h0m0-231h0m0 66h0m0 166h0m1-150h0m0-3h0m0 149h0m0 7h0m0-2h0m0-147h0m1 151h0m0-9h0m0-141h0m0-12h0m0 154h0m0-282h0m0 118h0m0 171h0m0-6h0m0-152h0m0 7h0m0 143h0m0-152h0m1 4h0m0 3h0m0 147h0m0-2h0m0-190h0m0-25h0m0 25h0m0 47h0m0 2h0m0-9h0m0-17h0m0-33h0m0-2h0m0 14h0m1-48h0m0 46h0m0 48h0m0 4h0m0-3h0m0 141h0m0 0h0m0-159h0m0 1h0m0-25h0m0 26h0m0 156h0m0-141h0m0-65h0m0 34h0m1 172h0m0-198h0m0 28h0m0 14h0m0-22h0m0 2h0m0 176h0m0 1h0m0-192h0m0-4h0m0-23h0m0 15h0m0 204h0m1-208h0m0-30h0m0 31h0m0 17h0m0 3h0m0-16h0m0 204h0m0-1h0m0-238h0m0 42h0m0 196h0m1 2h0m0-141h0m0-30h0m0 170h0m0-176h0m0-264h0m0 439h0m0-216h0m0-31h0m0 100h0m0-24h0m0-11h0m0 182h0m0 8h0m1-161h0m0 160h0m0-150h0m0-6h0m0 149h0m0-150h0m0-103h0m0 262h0m0-9h0m0 4h0m0-2h0m0-1h0m1-188h0m0 27h0m0 8h0m0-34h0m0-7h0m0 50h0m0 4h0m0 146h0m0-149h0m0 150h0m0-6h0m0-149h0m0-46h0m0 6h0m0 8h0m1 30h0m0 151h0m0 2h0m0-245h0m0 71h0m0 19h0m0-31h0m1 191h0m0 32h0m0-191h0m0 150h0m0-147h0m0-5h0m0-61h0m0 214h0m0-144h0m0 143h0m0-146h0m0-78h0m0 62h0m0 20h0m0-39h0m0 180h0m0-173h0m1 2h0m0-28h0m0 11h0m0 49h0m0 1h0m0-58h0m0 46h0m0 13h0m0 138h0m0 3h0m0-190h0m0-40h0m0 228h0m0-1h0m1 1h0m0-163h0m0-44h0m0 207h0m0 4h0m0 4h0m0-8h0m0 7h0m0-4h0m0-148h0m0 145h0m0 16h0m0-155h0m1 138h0m0-208h0m0 209h0m0-152h0m0-30h0m0-15h0m0 196h0m0 1h0m0 0h0m0 2h0m0-202h0m0 16h0m1 39h0m0 144h0m0-174h0m0 3h0m0 172h0m0 6h0m0-190h0m0 41h0m0 149h0m0-160h0m0-32h0m0 189h0m1-149h0m0-96h0m0 84h0m0-22h0m0-21h0m0 60h0m0 1h0m0 147h0m0-167h0m0-72h0m0 232h0m1-174h0m0 202h0m0-169h0m0-85h0m0 228h0m0-161h0m0-21h0m0 179h0m0-1h0m0-155h0m0 5h0m0 159h0m0-239h0m1 91h0m0-22h0m0-24h0m0 187h0m0-163h0m0 11h0m0-53h0m0 59h0m0 146h0m0-152h0m1 8h0m0-6h0m0-11h0m0-9h0m0 170h0m0-213h0m0 33h0m0 34h0m0 151h0m0-180h0m0 187h0m0-193h0m0 31h0m0-68h0m0 22h0m0 53h0m0 142h0m0-139h0m0-6h0m1 145h0m0-140h0m0-44h0m0 186h0m0 12h0m0-166h0m0 154h0m0-164h0m0-10h0m0 173h0m1-168h0m0 173h0m0 10h0m0-207h0m0 192h0m0 6h0m0-5h0m0-167h0m0 25h0m0 139h0m0 1h0m0 1h0m0-192h0m0 191h0m0-148h0m0 148h0m1 0h0m0 25h0m0-165h0m0 141h0m0-208h0m0 43h0m1-4h0m0 24h0m0 145h0m0 5h0m0-184h0m0-3h0m0-2h0m0 183h0m0-190h0m0-27h0m0 218h0m0 1h0m0-164h0m0 23h0m0-11h0m0 151h0m1 2h0m0-162h0m0-40h0m0 59h0m0-14h0m0-9h0m0-2h0m0-160h0m0 183h0m0-39h0m1 187h0m0-177h0m0 8h0m0-9h0m0 171h0m0-146h0m0-5h0m0 152h0m0-217h0m0 66h0m0-30h0m0-34h0m0 217h0m0-167h0m1 15h0m0 158h0m0-148h0m0-29h0m0 169h0m0-159h0m0 20h0m0-22h0m0 160h0m0 1h0m0-175h0m0-29h0m0 206h0m0-3h0m0 10h0m0-10h0m1-191h0m0 40h0m0 152h0m0 8h0m0-247h0m0 95h0m0-1h0m0 2h0m0 1h0m0 151h0m0-218h0m0 67h0m0-88h0m0 90h0m0-26h0m1 13h0m0 158h0m0-154h0m0 150h0m0-191h0m0 189h0m0 2h0m0-153h0m0 151h0m0 7h0m0-4h0m0-144h0m0-11h0m0-9h0m0 13h0m0-104h0m0 108h0m0-5h0m1 4h0m0-45h0m0 197h0m0-176h0m0 27h0m0 144h0m0-2h0m0 5h0m0-152h0m0-7h0m1 8h0m0-13h0m0 160h0m0-206h0m0-18h0m0 71h0m0-9h0m0-16h0m0 185h0m0-149h0m0-148h0m0 107h0m0 5h0m0 189h0m0-173h0m0-56h0m0 222h0m1-184h0m0 33h0m0-77h0m0 54h0m0 170h0m0 8h0m0-152h0m0 143h0m0-158h0m0 159h0m0 2h0m0-170h0m0 26h0m0-86h0m0 89h0m1-4h0m0-4h0m0 147h0m0-166h0m0-2h0m0 174h0m0 2h0m0-157h0m0 10h0m0 144h0m0 4h0m0-157h0m0-45h0m0 52h0m0-97h0m1 238h0m0-156h0m0 156h0m0-152h0m0-64h0m0 63h0m0 157h0m0-167h0m1-25h0m0 189h0m0-153h0m0-26h0m0 12h0m0 172h0m0-233h0m0 228h0m0-140h0m0-30h0m0 170h0m0-146h0m0 1h0m0-38h0m0 183h0m1-180h0m0 39h0m0 141h0m0-164h0m0 9h0m0-6h0m0-23h0m0-8h0m0 51h0m0-34h0m1 23h0m0-29h0m0 4h0m0-70h0m0 249h0m0-197h0m0 7h0m0 41h0m1-41h0m0 17h0m0 171h0m0-175h0m0 174h0m0 7h0m0-1h0m0-157h0m0-32h0m0-3h0m0 40h0m0 149h0m1-142h0m0 146h0m0-2h0m0 1h0m0-197h0m0 32h0m0 20h0m0-22h0m0 163h0m0-1h0m0-235h0m0 77h0m0 10h0m0 151h0m0 5h0m0-168h0m0 163h0m1 6h0m0-172h0m0 6h0m0 9h0m0 8h0m0-110h0m0 249h0m0-184h0m0 193h0m0-157h0m0-10h0m0 11h0m0 4h0m0-24h0m0 11h0m1-27h0m0 202h0m0-176h0m0 157h0m0-142h0m0-3h0m0 150h0m0-145h0m0-26h0m0 15h0m1 157h0m0-233h0m0 61h0m0-5h0m0 172h0m0 0h0m0-149h0m0 157h0m0-163h0m0 154h0m0 9h0m0-202h0m0 193h0m0-139h0m0-1h0m0-27h0m0-50h0m0 36h0m0 42h0m0 138h0m0 6h0m0-196h0m0 40h0m0 13h0m1-14h0m0-4h0m0 165h0m0-10h0m0 2h0m0-167h0m0 15h0m0-37h0m0 45h0m0 144h0m1-147h0m0-18h0m0 7h0m0 157h0m0-138h0m0-25h0m0 166h0m0-205h0m0 60h0m1-22h0m0 164h0m0 8h0m0-153h0m0-49h0m0 202h0m0-158h0m0-30h0m1 186h0m0 9h0m0-162h0m0 148h0m0-184h0m0 22h0m0 8h0m0 216h0m0-55h0m0-171h0m0-14h0m0-25h0m0 61h0m1-41h0m0-18h0m0 206h0m0-181h0m0 176h0m0-261h0m0 81h0m0 35h0m0 152h0m0-158h0m0 6h0m0 0h0m0-22h0m0 168h0m1-2h0m0 1h0m0-148h0m0 155h0m0-156h0m0 4h0m0 149h0m0 3h0m0-221h0m0 212h0m1 6h0m0-195h0m0 50h0m0-22h0m0 23h0m0 147h0m0-157h0m0-21h0m0 28h0m0-71h0m0 221h0m0-191h0m1 27h0m0-18h0m0 20h0m0 162h0m0-157h0m0-30h0m0 15h0m0-12h0m0 37h0m0-1h0m0-5h0m0-42h0m1 19h0m0 23h0m0-13h0m0-5h0m0-31h0m0-14h0m0 52h0m0-63h0m0 43h0m0 21h0m0 155h0m0-138h0m0-45h0m1-74h0m0 256h0m0-139h0m0-1h0m0-16h0m0 17h0m0 140h0m0-140h0m0-27h0m0 168h0m0-189h0m0 189h0m1-318h0m0 176h0m0 1h0m0-101h0m0 59h0m0 20h0m0-36h0m0 199h0m0-141h0m0-22h0m0 15h0m0 153h0m1-194h0m0 43h0m0-3h0m0 7h0m0-140h0m0 133h0m0-9h0m0 158h0m0-197h0m0 46h0m0 8h0m0-63h0m0 62h0m0 143h0m1 0h0m0-147h0m0 3h0m0-8h0m0 157h0m0-6h0m0-164h0m0 165h0m0-194h0m0 194h0m0-1h0m1-148h0m0-16h0m0 11h0m0-8h0m0 161h0m0-140h0m0 141h0m0-144h0m0-85h0m0 236h0m0-193h0m0 187h0m1 1h0m0-149h0m0 153h0m0-4h0m0-1h0m0-163h0m0 17h0m0-10h0m0 156h0m0-241h0m0 240h0m0 0h0"/>
<text x="150.4" y="456.3" text-anchor="middle">n = 28,197</text>
<text x="150.7" y="795.2" font-size="20.2" text-anchor="middle">Rep. 1</text>
<rect x="213.5" y="647.4" width="86.8" height="72.3" fill="#8E1A1F"/>
<path transform="scale(0.5)" fill="none" stroke="#8E1A1F" stroke-width="7.2" stroke-linecap="round" d="M430 1291h0m0-40h0m0-2h0m0 28h0m0 161h0m1-205h0m0 205h0m0-2h0m0-149h0m0-116h0m0 121h0m0-2h0m0 0h0m0 151h0m1 48h0m0-240h0m0 192h0m0-243h0m0 69h0m0 27h0m1-11h0m0 154h0m0 0h0m0-187h0m0 187h0m0-145h0m0-4h0m0 4h0m0 4h0m0 0h0m0-60h0m0 201h0m0 1h0m0-204h0m1 27h0m0 13h0m0 11h0m0-4h0m0-67h0m0 82h0m0 143h0m0-2h0m0-180h0m1 6h0m0 174h0m0-142h0m0-56h0m0 54h0m0 2h0m0 141h0m0-289h0m0-27h0m0 94h0m0 62h0m1 11h0m0 2h0m0 2h0m0-20h0m0-72h0m0 89h0m0-53h0m0 202h0m0 3h0m0-155h0m0-68h0m0 48h0m0 173h0m0-1h0m1-144h0m0-16h0m0 4h0m0 161h0m0-167h0m0 10h0m1-29h0m0 187h0m0-154h0m0-27h0m0 178h0m0-4h0m0-139h0m1 148h0m0-219h0m0 214h0m0-181h0m0 36h0m0-56h0m0 31h0m0-40h0m0-70h0m0 109h0m0 15h0m1 15h0m0-69h0m0 216h0m0-4h0m0-260h0m0 90h0m0-121h0m0 286h0m0-172h0m0-134h0m0 96h0m0 23h0m0 47h0m1-5h0m0 145h0m0-165h0m0 18h0m0-72h0m0 36h0m0 16h0m0 7h0m0 6h0m0 159h0m0-202h0m0 20h0m0 33h0m0 145h0m1-1h0m0 0h0m0-194h0m0 195h0m0-162h0m0-48h0m0 42h0m0 11h0m0 10h0m0 146h0m0 3h0m0-186h0m0-39h0m0 60h0m0-20h0m1-9h0m0 31h0m0-65h0m0 81h0m0-1h0m0-19h0m0 165h0m0-188h0m1 188h0m0-161h0m0-78h0m0 87h0m0 157h0m0-5h0m0 0h0m0 21h0m0-163h0m1 142h0m0-178h0m0 181h0m0-158h0m0 167h0m0-188h0m1-14h0m0 32h0m0 1h0m0 164h0m0-198h0m1 40h0m0 0h0m0-19h0m0 170h0m0-153h0m0 6h0m0 147h0m0 0h0m0-183h0m0 41h0m0-36h0m1 186h0m0-9h0m0 2h0m0-169h0m0 5h0m0-16h0m0-4h0m0 31h0m0 153h0m0-1h0m1-152h0m0 5h0m0 2h0m0-30h0m0 5h0m0-12h0m0 6h0m0 10h0m0-78h0m0 105h0m0-48h0m0 7h0m1 13h0m0-34h0m0 200h0m0 1h0m0 8h0m0-1h0m0-1h0m0-4h0m0 54h0m1-53h0m0-186h0m0 42h0m0 140h0m0-170h0m0-3h0m0 180h0m0-4h0m1-146h0m0-36h0m0 180h0m0-159h0m0 157h0m0 2h0m0-184h0m0 190h0m0 3h0m0-10h0m0 0h0m0 0h0m0-172h0m1 176h0m0-3h0m0-209h0m0 39h0m0-30h0m0 201h0m0-1h0m0-148h0m0-138h0m1 118h0m0 19h0m0-28h0m0 27h0m0 153h0m0-148h0m0-5h0m0 157h0m0-156h0m0-17h0m0-33h0m0 59h0m1-58h0m0 197h0m0-176h0m0-106h0m0 281h0m0-143h0m0-63h0m0 43h0m0 165h0m0-141h0m0-24h0m1 20h0m0-49h0m0 53h0m0-19h0m0 13h0m1 146h0m0-140h0m0-65h0m0 205h0m0-155h0m0-14h0m0 4h0m0-10h0m1 176h0m0-1h0m0 9h0m0-9h0m0 0h0m0-213h0m1 217h0m0-189h0m0-6h0m0 195h0m0-213h0m0 57h0m0 159h0m0-193h0m1 35h0m0-50h0m0 202h0m0-176h0m0 182h0m0-194h0m0 28h0m0-3h0m0 19h0m0 153h0m0-10h0m0-171h0m0 179h0m1 9h0m0-16h0m0-214h0m0-33h0m0 60h0m0 16h0m0 179h0m0-9h0m0-179h0m0 11h0m0 4h0m0-1h0m1 181h0m0-11h0m0-180h0m0 174h0m0-164h0m0-18h0m0 34h0m0-67h0m0 38h0m0 27h0m0 155h0m0-165h0m0 165h0m0-156h0m0 153h0m1-195h0m0 51h0m0-22h0m0 23h0m0 145h0m0-181h0m0 36h0m0 191h0m1-203h0m0 12h0m0-6h0m0 148h0m0-143h0m0-91h0m0 72h0m0-56h0m1 8h0m0 34h0m0 5h0m0-28h0m0 59h0m0-8h0m0 149h0m0 3h0m0-153h0m0-26h0m0 0h0m0-24h0m0 199h0m0 1h0m0-2h0m0-139h0m1-5h0m0-43h0m0 39h0m0 148h0m0 8h0m0-188h0m0 181h0m0-140h0m0 146h0m0-175h0m1 170h0m0-2h0m0-150h0m0-17h0m0 168h0m0 3h0m0-1h0m0-1h0m0 4h0m0-1h0m0 4h0m0-178h0m0-60h0m1 82h0m0-16h0m0 165h0m0 0h0m0-224h0m0 223h0m0-145h0m0 145h0m0-173h0m0 11h0m0-44h0m0 42h0m0 18h0m1 7h0m0-70h0m0 56h0m0 4h0m0-28h0m0 185h0m0-150h0m0-97h0m0 240h0m0 0h0m0-195h0m0 28h0m1 169h0m0-149h0m0 147h0m0-181h0m0 29h0m0 9h0m0-19h0m0 160h0m0-148h0m0 9h0m0-20h0m0 10h0m0 159h0m1-153h0m0 0h0m0 152h0m0-152h0m0 144h0m0-144h0m0-53h0m1 19h0m0 27h0m0 2h0m0 155h0m0-182h0m0 34h0m0-12h0m0 155h0m0-233h0m1 238h0m0-5h0m0-145h0m0-125h0m0 125h0m0-20h0m0 4h0m0 169h0m0-204h0m0 54h0m0 141h0m1 1h0m0 0h0m0-222h0m0 224h0m0-153h0m0-23h0m0 179h0m0-151h0m0 4h0m0-35h0m0 34h0m0 2h0m0-2h0m0-7h0m0-14h0m1-3h0m0 2h0m0 26h0m0-8h0m0 2h0m0-23h0m0-11h0m0-96h0m0 275h0m1-160h0m0 20h0m0 138h0m0-140h0m0 156h0m0-14h0m0 0h0m0 7h0m0-154h0m1 5h0m0 142h0m0 0h0m0 1h0m0-144h0m0-109h0m1 252h0m0-155h0m0 3h0m0-89h0m0 93h0m0-44h0m0 193h0m0-145h0m0 142h0m0 9h0m1-178h0m0 179h0m0 14h0m0-191h0m0-37h0m0 64h0m0 141h0m0-149h0m1 150h0m0 0h0m0-181h0m0 40h0m0 140h0m0-148h0m0 5h0m0 1h0m0 142h0m1 13h0m0-196h0m0 26h0m0 18h0m0-3h0m0 148h0m0-155h0m0-6h0m0-19h0m0-42h0m0 18h0m1-25h0m0 85h0m0-20h0m0 159h0m0-209h0m0 46h0m0 163h0m0-155h0m0 155h0m0-150h0m0-41h0m0 30h0m0-17h0m0-40h0m1 64h0m0 156h0m0-158h0m0 12h0m0-44h0m0 187h0m0-172h0m0 173h0m0-228h0m0 249h0m0-16h0m0-164h0m0 17h0m1 143h0m0-149h0m0 154h0m0-7h0m0-215h0m0 33h0m0 15h0m0 178h0m0-11h0m0-157h0m0 156h0m0 2h0m0-243h0m0 244h0m0-169h0m0-8h0m0 25h0m0-27h0m0 19h0m0-2h0m0 10h0m1-6h0m0 156h0m0-146h0m0-117h0m0 110h0m0-51h0m0 204h0m0 4h0m0-5h0m0-210h0m0 61h0m1-30h0m0 37h0m0-18h0m0-75h0m0 243h0m0-8h0m0 1h0m0-257h0m0 110h0m0-43h0m1 39h0m0 156h0m0-144h0m0-163h0m0 71h0m0 82h0m0-31h0m0 181h0m0-160h0m0 13h0m0 154h0m0 0h0m0-203h0m0 194h0m0-148h0m0-23h0m0 173h0m0-335h0m0 343h0m1-10h0m0 1h0m0-178h0m0 18h0m0 16h0m0 145h0m0-229h0m0 80h0m1 5h0m0-19h0m0 162h0m0-141h0m0-85h0m0 42h0m0 20h0m0-19h0m0 19h0m0 172h0m0-147h0m1-12h0m0 5h0m0 3h0m0 144h0m0-177h0m0 175h0m0 4h0m0-297h0m0 115h0m0 12h0m0 0h0m0-14h0m0 184h0m0-3h0m0 1h0m0-148h0m1-1h0m0 148h0m0-144h0m0 144h0m0-142h0m0-134h0m0 124h0m0-41h0m0 39h0m0 163h0m0-8h0m0-1h0m0-141h0m1-113h0m0 106h0m0 157h0m0-170h0m0-42h0m0 10h0m0 208h0m0-14h0m0-141h0m0-26h0m0 0h0m1 166h0m0-157h0m0 9h0m0 7h0m0-30h0m0 19h0m0 153h0m0-1h0m0 0h0m0-145h0m0 147h0m1-162h0m0 169h0m0-7h0m0-170h0m0 178h0m1-176h0m0 177h0m0-10h0m0-151h0m0 150h0m0 0h0m0 1h0m0-140h0m1 143h0m0-5h0m0 17h0m0-16h0m0-192h0m0-56h0m0 98h0m0-31h0m0 8h0m1 25h0m0-17h0m0-10h0m0 17h0m0 176h0m0-171h0m0-13h0m0 2h0m0-45h0m0 58h0m0 152h0m0-150h0m1 157h0m0-206h0m0 57h0m0-81h0m0 73h0m0-43h0m0 25h0m0 172h0m0-150h0m0 146h0m1-1h0m0-151h0m0 155h0m0-187h0m0 184h0m0-198h0m0-3h0m0 57h0m1 144h0m0-146h0m0 145h0m0 4h0m0-226h0m0 223h0m0 8h0m0-204h0m0 195h0m0-152h0m0-20h0m1 10h0m0 8h0m0 16h0m0-44h0m0 35h0m0 165h0m1-14h0m0-151h0m0 2h0m0 6h0m0-26h0m0 165h0m0 3h0m0-146h0m0-25h0m0 168h0m1 0h0m0 5h0m0-4h0m0 0h0m0 5h0m0-5h0m0-191h0m0 40h0m0-29h0m0 17h0m0 20h0m0-48h0m0 191h0m0 15h0m0-166h0m0-16h0m1-4h0m0 177h0m0-184h0m0 183h0m0-6h0m0-167h0m0-40h0m0 208h0m0-208h0m0 224h0m0-168h0m0 152h0m1-188h0m0 11h0m0 12h0m0 165h0m0 0h0m0-184h0m0 14h0m0 29h0m0-20h0m1-24h0m0 41h0m0-27h0m0 4h0m0 15h0m0 152h0m0-140h0m0 138h0m0-153h0m0 158h0m0-3h0m0-160h0m1 8h0m0 150h0m0-150h0m0 159h0m0-214h0m0 39h0m0 24h0m0 143h0m0-219h0m0 219h0m0-264h0m0 272h0m0-163h0m0-18h0m1-64h0m0 87h0m0 3h0m0 6h0m0-51h0m0-23h0m0 20h0m0 196h0m0-198h0m0 16h0m0 14h0m0 183h0m1-198h0m0 27h0m0 3h0m0-9h0m0-39h0m0 48h0m0-7h0m0-18h0m0-25h0m0 60h0m0-1h0m1-105h0m0 62h0m0 35h0m0 200h0m0-48h0m0-1h0m0-204h0m0 203h0m0 2h0m0-157h0m0-2h0m0-12h0m1 176h0m0-169h0m0 178h0m0-7h0m0-171h0m0-5h0m0 174h0m0-197h0m0 45h0m0-1h0m0 0h0m1-84h0m0 80h0m0-17h0m0 174h0m0-156h0m0 151h0m0-151h0m0-7h0m0-3h0m0 3h0m0 157h0m0 8h0m0-215h0m0 53h0m0 153h0m0-147h0m0-25h0m0-32h0m0 50h0m0 164h0m0-152h0m1-43h0m0 14h0m0-71h0m0 70h0m0 177h0m0-157h0m0 157h0m0 10h0m1-7h0m0-7h0m0-198h0m0 30h0m0 28h0m0 140h0m0-153h0m0-19h0m0 172h0m0 4h0m0-149h0m1 151h0m0-191h0m0 186h0m0-155h0m0-26h0m0 17h0m0 176h0m0-13h0m0 6h0m0-5h0m1 35h0m0-191h0m0 156h0m0 0h0m0 0h0m0-203h0m0 61h0m0-43h0m0-56h0m0 241h0m1-152h0m0-13h0m0-9h0m0 34h0m0 140h0m0 8h0m0-206h0m0 55h0m0-16h0m0 158h0m0 37h0m0-193h0m0 13h0m0-9h0m1 167h0m0-166h0m0-107h0m0 96h0m0 7h0m0 156h0m0 7h0m0-172h0m0 169h0m1-1h0m0 5h0m0-9h0m0-221h0m0 228h0m0-8h0m0-149h0m1-2h0m0 11h0m0 142h0m0-166h0m0 10h0m0-25h0m0 25h0m0 163h0m0-204h0m0 22h0m0-8h0m0 31h0m0 152h0m0-158h0m0 11h0m0-18h0m0-30h0m1 222h0m0-213h0m0 186h0m0-228h0m0 65h0m0 5h0m0 173h0m0-159h0m0-5h0m0-8h0m1 8h0m0 7h0m0-43h0m0 185h0m0-233h0m0 51h0m0 182h0m0-2h0m0-232h0m0 239h0m0-6h0m0-139h0m0-20h0m1 16h0m0-22h0m0 179h0m0-164h0m0 150h0m0-141h0m0-46h0m0 36h0m0 5h0m0 145h0m0 1h0m1-179h0m0 4h0m0 25h0m0 5h0m0-7h0m0 3h0m0 154h0m0-5h0m0 0h0m0-154h0m0 162h0m1-172h0m0 18h0m0 151h0m0-161h0m0-11h0m0-61h0m0 69h0m0 17h0m0-156h0m0 144h0m0 221h0m0-68h0m0 10h0m0-160h0m0-14h0m0 165h0m0-176h0m1 25h0m0 152h0m0 12h0m0-263h0m0 57h0m0 193h0m0-471h0m0 322h0m0 156h0m1-252h0m0 2h0m0 79h0m0 166h0m0-250h0m0 29h0m0 218h0m0-158h0m0 21h0m0 140h0m0-1h0m0-1h0m1-157h0m0-28h0m0 31h0m0 155h0m0-143h0m0-20h0m0 170h0m0-7h0m0 4h0m0-186h0m1 15h0m0 20h0m0 146h0m0 1h0m0-187h0m0 42h0m0-31h0m1 1h0m0 33h0m0 142h0m0-139h0m0 139h0m0 7h0m0-162h0m0 8h0m0-100h0m0 246h0m1 0h0m0-139h0m0-52h0m0 46h0m0-15h0m0 168h0m0-178h0m0 170h0m0-209h0m0 217h0m0-165h0m0 13h0m0 146h0m0-149h0m0 158h0m1-151h0m0 139h0m0-146h0m0-50h0m0 50h0m0-11h0m0-5h0m0 164h0m0-2h0m0-184h0m0 27h0m1-85h0m0-27h0m0 85h0m0 19h0m0-2h0m0 3h0m0 165h0m0-143h0m0 1h0m0 0h0m0-29h0m0 179h0m0-182h0m0 26h0m1-22h0m0 170h0m0-150h0m0 11h0m0-19h0m0-4h0m0 177h0m0-182h0m0-35h0m0 35h0m0-7h0m1 174h0m0-203h0m0 205h0m0 0h0m0-1h0m0-204h0m0 27h0m1 175h0m0-173h0m0 30h0m0 3h0m0 2h0m0 140h0m0-1h0m0 1h0m1 0h0m0-153h0m0-18h0m0 29h0m0-49h0m0 194h0m1-157h0m0 14h0m0 140h0m0 8h0m0-10h0m0-189h0m0 190h0m0-228h0m0 228h0m0-167h0m1 21h0m0 154h0m0 7h0m0-15h0m0-165h0m0 16h0m0 149h0m0-168h0m0 168h0m0 1h0m0-155h0m1 5h0m0 0h0m0 7h0m0-21h0m0-44h0m0 67h0m0-18h0m1 158h0m0 1h0m0-145h0m0-6h0m0 150h0m0-153h0m0-9h0m0 5h0m0 161h0m0-147h0m0-27h0m0 11h0m0-13h0m0 34h0m0-21h0m0 160h0m0-184h0m0 19h0m0 163h0m1-151h0m0-34h0m0 192h0m0-149h0m0-7h0m0 155h0m0-168h0m0-15h0m0 17h0m0-5h0m0 8h0m0 9h0m1 152h0m0-148h0m0-15h0m0 161h0m0-153h0m0 152h0m0-149h0m0 5h0m0-8h0m0 161h0m0-157h0m1-8h0m0-30h0m0 32h0m0-8h0m0 164h0m0-217h0m0 55h0m0 15h0m1-29h0m0 180h0m0-199h0m0 48h0m0-12h0m0-13h0m1 9h0m0 161h0m0 1h0m0-142h0m0-2h0m0 142h0m0-159h0m0 19h0m0-26h0m0 11h0m1-18h0m0 173h0m0-144h0m0-20h0m0 12h0m0 153h0m0-168h0m0-30h0m1 50h0m0 148h0m0-140h0m0-80h0m0 63h0m0 6h0m0-37h0m0-15h0m0 208h0m0-5h0m0 1h0m0-144h0m0 1h0m0-9h0m0 3h0m0-19h0m1-42h0m0-17h0m0 233h0m0-160h0m0 5h0m0-17h0m0 166h0m0-147h0m0-3h0m0-47h0m1 39h0m0-99h0m0 39h0m0 62h0m0 172h0m0-14h0m0 1h0m1-3h0m0-326h0m0 173h0m0 152h0m0-140h0m0-26h0m0 166h0m0 1h0m0-240h0m0 97h0m0-2h0m0-7h0m1 152h0m0-144h0m0-9h0m0 13h0m0-55h0m0 20h0m0-54h0m0 227h0m0 2h0m0 65h0m0-66h0m0-150h0m1 154h0m0-197h0m0 201h0m0-165h0m0-44h0m0-3h0m0 62h0m0-22h0m0 19h0m1-21h0m0-12h0m0 2h0m0-31h0m0 42h0m1 166h0m0-270h0m0 128h0m0 149h0m0-8h0m0-150h0m0-84h0m0 63h0m0 15h0m0 7h0m0 151h0m1-147h0m0-44h0m0 192h0m0-145h0m0 2h0m0-49h0m0 39h0m0 11h0m0-8h0m1-68h0m0 50h0m0-72h0m0 83h0m0 13h0m0-3h0m0 148h0m0-146h0m0 2h0m1-35h0m0 25h0m0 0h0m0 150h0m0-148h0m0 3h0m0-2h0m0 150h0m0-151h0m1 8h0m0-16h0m0 156h0m0 0h0m0-204h0m0 54h0m0 11h0m0 139h0m0-165h0m0 20h0m0-3h0m0-3h0m0-36h0m1 37h0m0-50h0m0 200h0m0-175h0m0 32h0m0 3h0m0-12h0m0 4h0m0-10h0m0 10h0m0 152h0m0-149h0m1-27h0m0-26h0m0 24h0m0 10h0m0 26h0m0 145h0m0-153h0m0-2h0m0 8h0m0 139h0m0 1h0m0-139h0m0 140h0m0-167h0m0-10h0m0-75h0m0 88h0m0 20h0m1-6h0m0 149h0m0-144h0m0 161h0m0-484h0m0 316h0m0 0h0m0 12h0m0-28h0m0 1h0m0 20h0m0-18h0m0 19h0m0 153h0m0-6h0m1-181h0m0 33h0m0-31h0m0 177h0m0 2h0m0 5h0m0-3h0m0-210h0m0 59h0m1-29h0m0 186h0m0-154h0m0-20h0m0 3h0m0 162h0m0-265h0m0 273h0m0-191h0m0 31h0m0-38h0m0 14h0m0 12h0m0 225h0m0-204h0m0 158h0m1-245h0m0 234h0m0 11h0m0-16h0m0-150h0m0 157h0m0-220h0m0 64h0m0-1h0m1 8h0m0 173h0m0-22h0m0-159h0m0 183h0m0-24h0m0-8h0m1-142h0m0-60h0m0 49h0m0 11h0m0-8h0m0 148h0m0 5h0m0-223h0m0 56h0m0 0h0m0-17h0m1 36h0m0-68h0m0 66h0m0 147h0m0-173h0m0 26h0m0-13h0m0 2h0m0 165h0m0-179h0m0 22h0m0 9h0m0-22h0m0 183h0m0-162h0m0-13h0m0 10h0m1-20h0m0 6h0m0 159h0m0-191h0m0 20h0m0 184h0m0-13h0m0-176h0m0 174h0m0-137h0m1-24h0m0 162h0m0-145h0m0 153h0m0-154h0m0-1h0m0-61h0m0 68h0m0-63h0m0 203h0m0 0h0m1-173h0m0 30h0m0 143h0m0-145h0m0-3h0m0 149h0m0-165h0m0-65h0m0 232h0m0-2h0m0 62h0m0-261h0m0 42h0m0-43h0m0-135h0m1 178h0m0 172h0m0-15h0m0-185h0m0-10h0m0 17h0m0 185h0m0-7h0m0-188h0m0 45h0m0 2h0m0 147h0m0-6h0m0-160h0m1-8h0m0 23h0m0-29h0m0 16h0m0-21h0m0 23h0m0-67h0m0 221h0m1 1h0m0-161h0m0 18h0m0-6h0m0 7h0m0-11h0m0 8h0m0-71h0m0 224h0m0-154h0m0-34h0m0 179h0m0-149h0m0 158h0m0-204h0m1 48h0m0 148h0m0 6h0m0-4h0m0-171h0m0-46h0m1 42h0m0 173h0m0-167h0m0 166h0m0 4h0m0-2h0m0-1h0m0-145h0m0-2h0m1 159h0m0-176h0m0-44h0m0 215h0m0-3h0m0-148h0m0-45h0m0 27h0m0 1h0m0-49h0m1 38h0m0 172h0m0-151h0m0 152h0m0-167h0m0 8h0m0-6h0m0-30h0m0 54h0m0-63h0m0 1h0m0 61h0m0-6h0m0-39h0m0-1h0m0 22h0m0-20h0m1 45h0m0 154h0m0-7h0m0-188h0m0-11h0m0 44h0m0-11h0m0 196h0m0-193h0m0 3h0m0 6h0m0 7h0m0 140h0m0-146h0m1 152h0m0-151h0m0 7h0m0-44h0m0 24h0m0 160h0m0-186h0m0 184h0m0-255h0m1 55h0m0 201h0m0 6h0m0-227h0m0 225h0m0 0h0m0-205h0m0 199h0m0-185h0m0 186h0m0-225h0m1 232h0m0-203h0m0 47h0m0-13h0m0 167h0m0-166h0m0 169h0m0-8h0m0-153h0m1 153h0m0 7h0m0-146h0m0-1h0m0-37h0m0 187h0m0-167h0m0-7h0m1-34h0m0 55h0m0-19h0m0 12h0m0 154h0m0-147h0m0 142h0m0-219h0m0 63h0m0 157h0m0-149h0m1 155h0m0-158h0m0 179h0m0-27h0m0-183h0m0 28h0m0-12h0m1 174h0m0-4h0m0-2h0m0-1h0m0-1h0m0-173h0m0 27h0m0 148h0m0-2h0m0-270h0m1 272h0m0-145h0m0 145h0m0-144h0m0 149h0m0-148h0m0-15h0m0 14h0m0-46h0m1 189h0m0-166h0m0-20h0m0 47h0m0-10h0m0 149h0m0-187h0m0 35h0m0 162h0m0-197h0m0-15h0m0 202h0m1-154h0m0 15h0m0 139h0m0-255h0m0 254h0m0 1h0m0 0h0m0-174h0m0 182h0m0-155h0m0 150h0m0-156h0m0 13h0m1-3h0m0 3h0m0-23h0m0-13h0m0 177h0m0-170h0m0 169h0m0-150h0m0 5h0m0-43h0m0 48h0m0-28h0m0 24h0m0-95h0m0 57h0m0 43h0m1-51h0m0 27h0m0 166h0m0-210h0m0 54h0m0-52h0m1 58h0m0 157h0m0-260h0m0 60h0m0 25h0m0 170h0m0-164h0m0 19h0m1-20h0m0 164h0m0-154h0m0 150h0m0-145h0m0-23h0m0-23h0m0 51h0m0-22h0m0-51h0m1 37h0m0 29h0m0 147h0m0-1h0m0 1h0m0 1h0m0-1h0m0-200h0m0 50h0m0-49h0m0 200h0m0-200h0m0 10h0m1 190h0m0-256h0m0 91h0m0 18h0m0 146h0m0-143h0m1 152h0m0-150h0m0-7h0m0-51h0m0 32h0m0-41h0m0 208h0m0-155h0m0 155h0m0-154h0m1-9h0m0 163h0m0 1h0m0-163h0m0 162h0"/>
<text x="255.3" y="456.3" text-anchor="middle">29,577</text>
<text x="255.6" y="795.2" font-size="20.2" text-anchor="middle">Rep. 2</text>
<rect x="317.5" y="647.4" width="86.8" height="72.3" fill="#8E1A1F"/>
<path transform="scale(0.5)" fill="none" stroke="#8E1A1F" stroke-width="7.2" stroke-linecap="round" d="M639 1277h0m0 166h0m0-147h0m0-8h0m0 155h0m0-213h0m0 208h0m0-163h0m0 16h0m0-9h0m0-102h0m0 101h0m0 157h0m0-147h0m0 146h0m0-143h0m0-11h0m0-20h0m0 180h0m0-146h0m0 141h0m1 0h0m0 1h0m0-160h0m0-15h0m0-50h0m0 224h0m0-182h0m0 40h0m0-39h0m0-14h0m1 31h0m0 11h0m0 158h0m0-146h0m0-35h0m0 23h0m0 5h0m0-28h0m0-9h0m0 185h0m0-225h0m0 79h0m0-1h0m0 150h0m0-148h0m0-9h0m0-9h0m0-33h0m0 196h0m1-157h0m0 157h0m0 0h0m0 6h0m0-150h0m0 143h0m0 4h0m0-189h0m0 44h0m0-1h0m0-3h0m0 3h0m0 142h0m0-188h0m1-35h0m0 70h0m0-47h0m0 200h0m0-1h0m0 6h0m0-4h0m0-146h0m0-25h0m0 27h0m0 3h0m0-115h0m0 105h0m0-46h0m0 54h0m0 146h0m0-4h0m0-219h0m0 55h0m0-9h0m0 179h0m0-6h0m0 0h0m0-186h0m0-63h0m1 73h0m0 185h0m0-2h0m0-6h0m0-164h0m0 163h0m0-178h0m0 23h0m0 13h0m0 150h0m0 5h0m0-173h0m0 159h0m0 1h0m0 0h0m0-170h0m0 178h0m0-163h0m0 162h0m0-6h0m0-154h0m0-5h0m0 13h0m1-5h0m0 159h0m0-163h0m0-60h0m0 72h0m0-28h0m0 5h0m0-45h0m0 59h0m0 12h0m0 0h0m0-63h0m0 10h0m0 193h0m0 0h0m0 7h0m0-268h0m0 90h0m1 175h0m0-180h0m0 176h0m0 0h0m0-142h0m0-10h0m0 154h0m0-235h0m0 89h0m0 2h0m0-18h0m0 158h0m0-142h0m0-6h0m0 8h0m0 141h0m0 7h0m0-2h0m1-154h0m0-3h0m0-44h0m0 42h0m0 9h0m0 1h0m0-16h0m0 160h0m0-210h0m0 215h0m0-148h0m0 1h0m0-301h0m0 231h0m1 62h0m0 6h0m0-31h0m0 17h0m0 159h0m0-146h0m0 1h0m0 2h0m0-14h0m0 159h0m0 2h0m0-196h0m0 198h0m0 2h0m0-151h0m0-11h0m0-16h0m1 171h0m0-3h0m0-170h0m0-11h0m0-10h0m0 9h0m0-9h0m0 50h0m0-12h0m0 154h0m0-199h0m0 199h0m0-205h0m0 66h0m0-141h0m0 136h0m0-89h0m0 39h0m0 45h0m0 1h0m0-41h0m0-74h0m0 118h0m0-31h0m0 188h0m0-192h0m1-14h0m0 18h0m0 176h0m0 0h0m0-161h0m0-42h0m0 202h0m0-206h0m0 50h0m0 158h0m0-145h0m0-37h0m0 182h0m0-142h0m0-8h0m0 9h0m0-67h0m1 208h0m0-170h0m0 176h0m0-7h0m0-158h0m0-70h0m0 235h0m0-214h0m0 39h0m0 169h0m0-148h0m0-64h0m0-39h0m1 110h0m0-6h0m0 161h0m0-164h0m0-143h0m0 299h0m0-3h0m0-146h0m0 146h0m0-169h0m0-2h0m0 15h0m0 154h0m0 5h0m0-6h0m1-229h0m0 60h0m0-125h0m0 142h0m0-4h0m0 154h0m0-198h0m0 51h0m0-58h0m0 211h0m0-203h0m0 20h0m0 186h0m0-194h0m0 186h0m0 0h0m0-162h0m0 8h0m0-19h0m0 174h0m0-182h0m0 190h0m0-149h0m1-2h0m0 143h0m0-203h0m0 32h0m0 171h0m0 0h0m0-175h0m0-16h0m0-1h0m0-9h0m0 34h0m0-40h0m0 52h0m0 155h0m0-190h0m0 40h0m0-47h0m0 196h0m0 1h0m0-206h0m0 206h0m0-151h0m0-98h0m0 97h0m0-29h0m0 19h0m0 161h0m1-145h0m0-49h0m0 11h0m0 191h0m0-219h0m0 72h0m0-17h0m0 157h0m0-322h0m0 322h0m0 3h0m0-211h0m0 36h0m0 173h0m0-164h0m0-36h0m0 200h0m0 7h0m0-210h0m1 42h0m0 165h0m0-164h0m0-9h0m0 167h0m0-173h0m0 173h0m0-143h0m0-31h0m0 177h0m0-2h0m0 0h0m0-140h0m0-32h0m0-34h0m0 33h0m1 21h0m0-16h0m0 21h0m0-8h0m0 16h0m0-5h0m0 143h0m0 0h0m0-187h0m0 187h0m0 11h0m1-155h0m0-2h0m0-1h0m0-27h0m0 173h0m0 2h0m0 7h0m0-150h0m0 142h0m0 0h0m0 0h0m0-148h0m0 150h0m0 5h0m0-1h0m0-160h0m1-47h0m0 43h0m0-52h0m0 211h0m0-180h0m0 189h0m0-153h0m0-24h0m0 171h0m0-157h0m0 6h0m0 149h0m0-191h0m0 20h0m0 9h0m0 159h0m0-244h0m0 99h0m0 1h0m0 150h0m0-145h0m1 1h0m0-2h0m0 144h0m0 6h0m0-8h0m0-160h0m0 3h0m0 3h0m0 152h0m0-140h0m0-57h0m0 199h0m0-154h0m0-57h0m0-66h0m1 276h0m0-156h0m0-42h0m0 23h0m0 0h0m0 2h0m0 176h0m0-2h0m0 4h0m0-146h0m0 143h0m0-156h0m0 15h0m0-3h0m0-32h0m0-26h0m0 59h0m0-17h0m0-114h0m0 280h0m1-7h0m0-152h0m0-14h0m0 9h0m0 15h0m0-15h0m0-74h0m0 230h0m0 7h0m0-6h0m0 7h0m0-157h0m0 166h0m0-7h0m0-176h0m0 167h0m0-198h0m1 37h0m0 163h0m0-236h0m0 234h0m0-1h0m0-150h0m0-38h0m0 188h0m0 2h0m0-177h0m0 175h0m0-146h0m0-41h0m0 187h0m1-148h0m0-51h0m0 199h0m0-1h0m0-145h0m0-7h0m0 1h0m0-67h0m0 236h0m0-167h0m0 7h0m0 143h0m0-184h0m0-16h0m0 12h0m0 42h0m0 149h0m0-2h0m0-158h0m0 157h0m0 7h0m0-6h0m1-157h0m0 18h0m0-9h0m0-10h0m0 10h0m0-26h0m0 174h0m0-162h0m0 14h0m0-22h0m1-6h0m0 32h0m0 146h0m0-160h0m0 158h0m0-160h0m0 161h0m0-3h0m0-151h0m0-28h0m0-33h0m0 213h0m0-143h0m0-2h0m0 152h0m0-213h0m0 55h0m1-45h0m0 38h0m0-12h0m0 171h0m0-140h0m0-94h0m0 233h0m0-158h0m0 11h0m0 147h0m0-175h0m0 27h0m0-3h0m0-20h0m0 177h0m0-5h0m0 0h0m0-232h0m0 235h0m0-196h0m0 33h0m0 160h0m1-140h0m0-53h0m0 32h0m0 161h0m0-164h0m0-13h0m0 198h0m0-221h0m0 19h0m0 181h0m0-144h0m0 152h0m0-193h0m0-30h0m0 215h0m0 7h0m0-175h0m0 26h0m0-28h0m0 27h0m0-9h0m0 9h0m1-21h0m0 20h0m0 145h0m0 1h0m0-143h0m0-65h0m0 56h0m0-13h0m0-3h0m1 14h0m0 0h0m0-9h0m0 18h0m0 151h0m0-159h0m0-5h0m0 14h0m0 142h0m0-1h0m0-147h0m0-95h0m0 99h0m0-3h0m0-42h0m0 48h0m0-36h0m0-16h0m0 47h0m0-65h0m0 39h0m0 170h0m0-139h0m1-25h0m0 165h0m0-140h0m0-11h0m0-31h0m0 185h0m0 1h0m0-146h0m0-21h0m0 5h0m0-8h0m0-12h0m0 7h0m0 172h0m0-154h0m0 154h0m0 3h0m0-152h0m1 155h0m0-169h0m0 165h0m0-183h0m0-6h0m0 32h0m0 12h0m0-53h0m0-34h0m0 69h0m0-30h0m0-18h0m0 66h0m0-28h0m0 174h0m0-154h0m0 149h0m0-147h0m1-61h0m0 219h0m0-153h0m0-15h0m0 159h0m0 8h0m0-9h0m0 8h0m0-7h0m0-258h0m0 109h0m0-8h0m0 15h0m0-25h0m0-26h0m0 24h0m0-7h0m0 33h0m0-61h0m1 203h0m0 4h0m0-146h0m0 143h0m0-1h0m0-286h0m0 146h0m0-20h0m0 4h0m0-4h0m0 173h0m0-156h0m0-72h0m0 74h0m0 146h0m0-146h0m0-2h0m0-45h0m1 24h0m0 166h0m0-169h0m0 24h0m0 0h0m0 150h0m0-158h0m0-36h0m0 187h0m0-237h0m0 95h0m0-9h0m0-18h0m0-17h0m0 24h0m0 162h0m0-161h0m0 10h0m0 6h0m0-1h0m0-38h0m0-68h0m0 252h0m0 1h0m0-228h0m1 49h0m0 20h0m0 160h0m0-195h0m0 193h0m0 0h0m0-194h0m0 49h0m0-15h0m0 10h0m0 149h0m0 0h0m0 0h0m0-172h0m0 27h0m0 146h0m0-182h0m0 31h0m1-15h0m0 27h0m0-16h0m0 155h0m0 15h0m0-4h0m0 1h0m0-173h0m0 160h0m0-150h0m0-195h0m0 349h0m0-4h0m0 11h0m0-151h0m0-9h0m0-14h0m0 22h0m0 150h0m1-160h0m0 151h0m0-146h0m0 148h0m0 14h0m0-14h0m0-197h0m0 33h0m0 163h0m0-241h0m0 242h0m0 7h0m0-169h0m0 15h0m0 6h0m0-18h0m0 17h0m1 149h0m0-171h0m0 164h0m0-194h0m0 46h0m0 2h0m0-59h0m0 56h0m0-18h0m0-31h0m0 58h0m0 141h0m0 0h0m0 2h0m1-156h0m0 4h0m0 0h0m0-10h0m0-3h0m0 162h0m0 0h0m0-139h0m0-12h0m0 159h0m0-10h0m0 0h0m0-161h0m0 7h0m0 5h0m0 151h0m0-221h0m0 30h0m0 43h0m0 152h0m0-194h0m0 0h0m0 189h0m0 14h0m0-14h0m1 3h0m0-177h0m0 17h0m0-24h0m0 180h0m0-160h0m0-22h0m0-8h0m0 42h0m0-6h0m0 160h0m0-5h0m0 2h0m0-160h0m0 159h0m0-195h0m0 199h0m1-160h0m0 14h0m0 141h0m0 7h0m0 4h0m0-175h0m0 169h0m0-5h0m0-183h0m0 24h0m0 162h0m0-154h0m0 155h0m0 0h0m0-146h0m0-18h0m0-51h0m0 58h0m0 156h0m1 11h0m0-4h0m0-194h0m0 193h0m0-168h0m0-63h0m0 47h0m0-76h0m0 89h0m0 162h0m0-176h0m0 24h0m0 3h0m0-52h0m0 52h0m0-18h0m0-38h0m0 65h0m0 141h0m0-148h0m0 4h0m0-29h0m1-21h0m0 204h0m0-156h0m0-29h0m0-40h0m0 62h0m0 152h0m0 10h0m0-156h0m0-12h0m0 5h0m0 5h0m0 5h0m0 157h0m0-14h0m1-160h0m0 169h0m0-152h0m0-32h0m0 175h0m0-148h0m0 149h0m0-158h0m0 162h0m0-151h0m0 147h0m0-144h0m0 4h0m0-24h0m0 22h0m0-29h0m0-2h0m0 173h0m0-1h0m0 1h0m0-162h0m0 15h0m0-25h0m1 29h0m0 1h0m0 143h0m0-168h0m0 15h0m0-10h0m0 175h0m0-163h0m0 152h0m0 4h0m0-7h0m0 1h0m0-193h0m0 43h0m0 150h0m1-1h0m0-163h0m0 6h0m0 162h0m0 3h0m0-184h0m0 33h0m0 144h0m0-164h0m0 21h0m0 146h0m0-204h0m1 6h0m0 198h0m0-187h0m0-34h0m0 225h0m0-208h0m0 23h0m0 31h0m0 149h0m0-143h0m0-4h0m0-19h0m0 162h0m1 9h0m0-177h0m0-17h0m0 186h0m0 0h0m0-173h0m0-9h0m0 212h0m0-175h0m0 146h0m0-154h0m0-10h0m0 163h0m0-142h0m0-13h0m0 163h0m0-1h0m0-5h0m0 6h0m0-6h0m1-182h0m0-10h0m0 199h0m0 0h0m0-8h0m0-146h0m0-1h0m0 152h0m0-2h0m0-3h0m0-146h0m0-57h0m1-68h0m0 85h0m0-40h0m0 67h0m0 14h0m0-21h0m0-34h0m0 200h0m1-153h0m0 158h0m0-157h0m0 151h0m0 1h0m0-150h0m0 150h0m0 10h0m0-226h0m0 49h0m0-13h0m0 178h0m0-193h0m1-27h0m0 74h0m0-49h0m0 197h0m0 0h0m0-1h0m0 0h0m0-159h0m0-48h0m0 214h0m0-153h0m0-122h0m0 49h0m0 222h0m1 3h0m0-154h0m0-59h0m0 16h0m0-46h0m0 97h0m0 146h0m0-165h0m0 160h0m0-171h0m1 29h0m0 1h0m0 140h0m0-158h0m0-27h0m0 13h0m0 178h0m0-164h0m0 164h0m0-149h0m0-38h0m0 11h0m0 179h0m0-9h0m1-149h0m0 148h0m0 1h0m0-155h0m0 8h0m0 5h0m0 149h0m0-187h0m0 42h0m0-59h0m0 20h0m0 33h0m0 5h0m0-133h0m0 272h0m0 1h0m0-1h0m0-140h0m0-14h0m0 153h0m1 1h0m0-160h0m0 163h0m0-160h0m0 1h0m0 168h0m0-12h0m0-164h0m0-3h0m0 29h0m0 139h0m0 3h0m0-4h0m0 0h0m0-143h0m0-79h0m0 79h0m0 181h0m0-35h0m0-149h0m1 152h0m0-148h0m0-15h0m0 158h0m0-144h0m0-5h0m0 148h0m0-143h0m0 150h0m0-171h0m0 6h0m0 163h0m0-197h0m0 43h0m0 157h0m0-158h0m0 8h0m0 143h0m0-172h0m0 11h0m1 16h0m0 153h0m0-254h0m0 48h0m0 197h0m0-191h0m0 51h0m0-138h0m0 106h0m0 180h0m0-7h0m0-142h0m0 143h0m0-186h0m0 193h0m0-8h0m1-152h0m0 160h0m0-8h0m0-149h0m0 7h0m0-19h0m0-32h0m0 194h0m0-159h0m0 156h0m0-190h0m0 192h0m0-164h0m0 18h0m0-31h0m0 37h0m0-3h0m1-52h0m0 49h0m0-17h0m0 14h0m0-35h0m0 42h0m0 140h0m0 1h0m0-232h0m0 236h0m0-163h0m0 8h0m0 155h0m0-143h0m0-18h0m0 164h0m0-146h0m0-59h0m0 206h0m1-5h0m0-180h0m0 27h0m0 153h0m0-167h0m0-20h0m0 18h0m0-4h0m0-49h0m0 37h0m0 183h0m0-143h0m0-45h0m0-10h0m0 35h0m0 10h0m0-29h0m1 33h0m0-43h0m0-16h0m0 210h0m0 8h0m0-11h0m0 2h0m0 3h0m0-158h0m0-13h0m0 167h0m0-201h0m0 60h0m0-1h0m0 140h0m1-149h0m0 150h0m0-144h0m0 148h0m0-4h0m0-155h0m0 2h0m0 161h0m0-159h0m0 150h0m0 9h0m0-8h0m0-160h0m0-7h0m0 26h0m0-14h0m0-43h0m0 49h0m0-23h0m1 4h0m0 177h0m0-213h0m0 64h0m0 141h0m0-1h0m0-162h0m0 15h0m0-9h0m0 15h0m0-1h0m0 144h0m0-185h0m0 22h0m0 161h0m1 4h0m0-158h0m0 4h0m0-6h0m0 158h0m0-157h0m0-43h0m0 53h0m0 145h0m0-173h0m0 179h0m0-6h0m0-218h0m0 223h0m0-145h0m0-71h0m0 58h0m0 154h0m0-146h0m0-56h0m1 202h0m0 4h0m0-158h0m0 213h0m0-205h0m0-21h0m0 211h0m0-205h0m0 161h0m0-2h0m0-141h0m0-16h0m0-4h0m0 12h0m0 2h0m0-31h0m0-20h0m1 201h0m0 10h0m0-154h0m0 150h0m0-167h0m0-32h0m0 30h0m0-6h0m0 167h0m0-228h0m0 228h0m0-179h0m0 26h0m0 9h0m1 143h0m0 0h0m0 5h0m0-4h0m0-148h0m0 2h0m0-2h0m0 148h0m0-244h0m0 102h0m0 144h0m0 11h0m0-163h0m0 150h0m0-159h0m0 159h0m0 0h0m0-1h0m1-141h0m0 142h0m0-167h0m0 9h0m0-5h0m0-4h0m0-15h0m0 19h0m0 8h0m0-34h0m0 6h0m0 19h0m0 24h0m0-65h0m0 211h0m0-154h0m0-3h0m0 2h0m0 148h0m0 4h0m0 2h0m0-256h0m1 96h0m0 155h0m0 0h0m0-288h0m0 138h0m0 152h0m0-197h0m0-57h0m0 252h0m0 6h0m0-171h0m0-13h0m0 11h0m0 21h0m1 153h0m0-6h0m0-1h0m0 2h0m0 3h0m0 2h0m0-8h0m0-201h0m0 32h0m0 30h0m0-90h0m0 38h0m0 192h0m0-171h0m0-26h0m0 53h0m0 0h0m0 144h0m0-140h0m0-17h0m0-115h0m0 93h0m1-59h0m0 78h0m0 172h0m0-183h0m0 170h0m0 6h0m0-158h0m0-39h0m0 47h0m0-13h0m0 17h0m0-15h0m0-5h0m0-53h0m1 59h0m0 11h0m0 144h0m0 1h0m0-168h0m0 169h0m0-2h0m0-161h0m0-16h0m0 180h0m0-158h0m0 155h0m0-163h0m0-19h0m0 181h0m0-146h0m0 2h0m0 154h0m0-154h0m0-44h0m0 46h0m0-15h0m0 19h0m0-61h0m0 52h0m1-44h0m0 24h0m0-18h0m0-5h0m0 39h0m0 8h0m0-45h0m0 189h0m0-209h0m0 65h0m0 145h0m0-151h0m0-3h0m0 171h0m0-17h0m0 9h0m1-6h0m0-172h0m0 13h0m0 163h0m0-9h0m0-140h0m0-7h0m0 148h0m0-159h0m0 160h0m0-147h0m0-1h0m0 9h0m0-110h0m0 98h0m0 11h0m0-4h0m0 149h0m0-185h0m0-89h0m0 83h0m0 191h0m1-168h0m0 8h0m0 207h0m0-46h0m0-7h0m0-154h0m0 7h0m0-32h0m0 178h0m0-179h0m0 16h0m0 172h0m0-242h0m0 4h0m0 61h0m0 172h0m0 66h0m0-68h0m0-187h0m1 190h0m0 0h0m0 1h0m0-152h0m0 156h0m0-159h0m0-2h0m0-42h0m0 45h0m0 148h0m0-154h0m0 156h0m0-141h0m0 140h0m0-145h0m0-41h0m1-92h0m0 133h0m0 146h0m0-152h0m0-64h0m0 21h0m0 195h0m0 7h0m0-215h0m0 207h0m0-170h0m0 8h0m0 163h0m0-142h0m0-24h0m0 165h0m0-174h0m0 31h0m0-42h0m0 190h0m0-4h0m0-162h0m0 4h0m0 6h0m0 160h0m0-185h0m0 176h0m0 0h0m1-156h0m0 2h0m0 9h0m0-51h0m0 53h0m0 143h0m0-141h0m0-48h0m0 9h0m0 187h0m0-295h0m0 289h0m0-199h0m0 25h0m0 177h0m0-150h0m0-45h0m0 44h0m0-40h0m0-59h0m0 89h0m0 3h0m1-51h0m0 205h0m0-172h0m0 174h0m0-220h0m0 57h0m0 166h0m0-212h0m0 210h0m0-1h0m0-1h0m0-144h0m0-47h0m0 51h0m0 140h0m0-2h0m0 1h0m1 1h0m0-231h0m0 230h0m0 2h0m0-141h0m0-26h0m0 22h0m0 145h0m0-226h0m0 67h0m0 156h0m0-144h0m0-31h0m0-71h0m0 97h0m0 158h0m1-269h0m0 30h0m0 83h0m0 147h0m0-208h0m0 67h0m0 145h0m0-4h0m0-138h0m0 141h0m0-147h0m0 1h0m0-49h0m0 194h0m0-143h0m0 145h0m0-157h0m0-7h0m0-23h0m0 13h0m0 171h0m0-146h0m1-33h0m0 22h0m0 2h0m0-58h0m0 73h0m0-26h0m0 12h0m0-10h0m0 17h0m0-56h0m0 208h0m0-4h0m0 4h0m0-226h0m0-22h0m0 243h0m0-161h0m1 169h0m0-9h0m0-199h0m0 200h0m0-204h0m0 58h0m0 147h0m0-160h0m0 167h0m0-148h0m0 140h0m0-171h0m0 9h0m0 165h0m0 6h0m0-8h0m0-174h0m0 23h0m0-17h0m0 168h0m0-166h0m0 12h0m0-11h0m0 19h0m1-23h0m0 167h0m0-163h0m0 164h0m0 1h0m0 1h0m0-179h0m0 182h0m0-176h0m0-27h0m0 205h0m0-164h0m0-31h0m0 189h0m0-203h0m0 48h0m0-75h0m1 228h0m0-184h0m0 189h0m0-156h0m0-2h0m0 163h0m0-9h0m0-246h0m0 104h0m0 144h0m0-168h0m1 12h0m0 159h0m0-167h0m0-26h0m0 6h0m0-15h0m0 198h0m0-236h0m0 66h0m0-63h0m0-3h0m0 86h0m0-54h0m0 64h0m1 138h0m0 12h0m0-10h0m0-146h0m0 154h0m0-150h0m0-44h0m0 14h0m0 179h0m0-3h0m0-147h0m0-25h0m0 2h0m0 172h0m0-148h0m1-27h0m0 23h0m0-14h0m0 20h0m0 145h0m0-153h0m0 6h0m0-45h0m0 187h0m0-141h0m0-43h0m0-6h0m0 26h0m0 7h0m0 7h0m0 1h0m0-54h0m0 64h0m0 145h0m0-148h0m1 141h0m0 3h0m0-156h0m0 157h0m0-153h0m0-42h0m0 191h0m0 2h0m0-146h0m0 143h0m0-170h0m0-54h0m0 224h0m1-184h0m0 36h0m0 153h0m0-3h0m0-157h0m0 163h0m0-6h0m0-142h0m0-48h0m0 49h0m0 140h0m0 0h0m0-142h0m0-5h0m0-11h0m0 162h0m0-143h0m0-75h0m1 217h0m0 11h0m0-152h0m0-4h0m0-7h0m0 3h0m0 149h0m0-333h0m0 333h0m0-162h0m0-51h0m0 71h0m0 141h0m0-167h0m0 6h0m0 161h0m0-141h0m0-5h0m0-92h0m0 69h0m0 178h0m0-206h0m0 3h0m0 192h0m1 6h0m0-164h0m0-28h0m0 28h0m0-70h0m0 68h0m0 7h0m0 13h0m0-28h0m0-48h0m0 58h0m0-2h0m0 165h0m0-5h0m0 13h0m0-179h0m0 175h0m0-1h0m0-8h0m0-153h0m0 153h0m0 0h0m0-304h0m0 133h0m0-68h0m1 81h0m0 165h0m0 2h0m0-8h0m0-1h0m0-160h0m0 12h0m0-64h0m0 61h0m0 155h0m0-149h0m0-31h0m0-105h0m0 122h0m0-14h0m0 10h0m1-39h0m0 60h0m0-2h0m0-53h0m0 204h0m0-7h0m0-153h0m0 152h0m0-215h0m0 216h0m0-143h0m0-40h0m0 184h0m0 0h0m0 2h0m0-1h0m0 7h0m0-170h0m1 9h0m0-14h0m0 5h0m0-17h0m0 33h0m0 153h0m0-8h0m0-157h0m0 15h0m0 1h0m0-16h0m1 5h0m0 151h0m0-184h0m0-43h0m0 228h0m0-154h0m0-34h0m0 188h0m0-149h0m0-14h0m0-55h0m0 228h0m0-187h0m0 8h0m0-10h0m1 30h0m0 155h0m0 2h0m0-210h0m0 202h0m0 7h0m0-2h0m0-6h0m0 1h0m0 4h0m0-3h0m0 3h0m0-2h0m0 11h0m1-156h0m0-9h0m0 14h0m0-20h0m0 9h0m0-3h0m0-54h0m0 62h0m0 144h0m0 0h0m0-184h0m0-43h0m0-25h0m0 103h0m0 10h0m0-34h0m0 173h0m1 1h0m0-185h0m0 190h0m0-161h0m0-2h0m0 14h0m0 150h0m0-211h0m0 56h0m0-31h0m0 180h0m0 6h0m1-153h0m0-38h0m0 43h0m0 1h0m0-32h0m0 23h0m0 149h0m0 3h0m0-161h0m0-58h0m0 75h0m0-16h0m0-48h0m0 34h0m0 32h0m0 140h0m0-159h0m0-28h0m0 34h0m0-47h0m0 5h0m0 11h0m0 182h0m0-147h0m0-74h0m1 80h0m0 142h0m0-152h0m0 0h0m0-5h0m0-3h0m0 169h0m0-163h0m0 14h0m0 149h0m0-189h0m0 188h0m1-7h0m0-204h0m0 206h0m0-151h0m0-52h0m0 199h0m0-266h0m0 273h0m0-204h0m0 32h0m0-33h0m0 49h0m0 9h0m0-4h0m0-44h0m0 189h0m0-173h0m1-19h0m0-18h0m0 71h0m0-13h0m0 157h0m0 5h0m0-202h0m0 51h0m0-8h0m0-37h0m0 45h0m0 141h0m0-149h0m0 148h0m0-155h0m0 163h0m0-195h0m0 188h0m1-144h0m0-48h0m0 196h0m0-3h0m0-151h0m0 153h0m0-159h0m0 164h0m0-163h0m0-2h0m0-14h0m0 17h0m0 9h0m0-4h0m0 1h0m0 9h0m0 140h0m0-291h0m0 148h0m0-28h0m0 12h0m0 158h0m0-182h0m0 26h0m0-2h0m0 13h0m1-2h0m0 148h0m0-226h0m0 227h0m0-145h0m0 144h0m0 2h0m0 3h0m0-5h0m0-180h0m0 181h0m0-3h0m0-141h0m0-13h0m0 6h0m0 150h0m0 0h0m0-202h0m0-9h0m1 66h0m0-22h0m0 19h0m0-2h0m0 151h0m0 8h0m0-7h0m0 4h0m0-159h0m0 7h0m0-4h0m0 150h0m0-150h0m0-16h0m0 164h0m0-166h0m0 24h0m0-9h0m0 153h0m0-175h0m1-10h0m0 184h0m0 1h0m0 7h0m0-7h0m0-235h0m0 68h0m0-16h0m0-79h0m0 111h0m0 159h0m0-182h0m0 181h0m0-152h0m0 6h0m0-34h0m0 24h0m0 5h0m0-8h0m0 3h0m0-39h0m0 48h0m0-41h0m1 185h0m0-2h0m0-1h0m0-220h0m0 221h0m0-179h0m0 18h0m0-95h0m0 253h0m0-257h0m0 257h0m0-176h0m0 5h0m0 27h0m0-21h0m0 173h0m0-2h0m0-167h0m0-18h0m0 180h0m0-148h0m0-49h0m0 195h0m1-255h0m0 92h0m0 15h0m0 10h0m0-27h0m0-65h0m0 88h0m0 143h0m0-240h0m0 49h0m0 14h0m0 194h0m0-17h0m0 0h0m0-171h0m0 187h0m1-16h0m0-151h0m0-13h0m0-64h0m0 237h0m0-177h0m0-44h0m0 218h0m0-7h0m0 1h0m0 1h0m0-203h0m0 52h0m0-52h0m0 26h0m1 33h0m0 143h0m0 4h0m0-174h0m0 171h0m0-171h0m0 32h0m0-74h0m0 211h0m0 3h0m0-195h0m0 193h0m0-180h0m0-23h0m0 63h0m1-1h0m0-27h0m0 5h0m0 9h0m0-3h0m0-77h0m0 85h0m0-18h0m0 174h0m0-155h0m0 148h0m0-169h0m1-18h0m0 24h0m0 168h0m0-6h0m0-203h0m0 9h0m0-26h0m0 81h0m0-7h0m0-3h0m0-10h0m0 162h0m0-260h0m1 258h0m0-153h0m0-14h0m0 171h0m0-3h0m0-142h0m0-79h0m0 64h0m0-15h0m0 26h0m0-23h0m0 24h0m0 144h0m0 7h0m0-172h0m0-19h0m0 185h0m1-171h0m0 170h0m0 1h0m0-151h0m0 5h0m0-37h0m0 1h0m0-102h0m0 98h0m0 189h0m0 3h0m0-3h0m0-2h0m1-154h0m0 3h0m0 149h0m0 9h0m0-307h0m0 149h0m0-98h0m0 92h0m0 15h0m0-1h0m0 151h0m0-8h0m0-2h0m0-196h0m0 54h0m0 143h0m0-144h0m0-6h0m0 7h0m0 142h0m0 0h0m1-154h0m0 157h0m0-147h0m0 144h0m0-152h0m0-82h0m0 83h0m0-52h0m0 204h0m0-185h0m0 185h0m0-246h0m0 246h0m1-1h0m0-142h0m0 2h0m0-26h0m0 174h0m0-199h0m0 8h0m0 27h0m0 12h0m0 159h0m0-158h0m0 144h0m0-302h0m0 62h0m0 59h0m0 189h0m0-174h0m1 2h0m0-41h0m0 31h0m0 174h0m0-163h0m0 167h0m0 0h0m0-165h0m0 163h0m0-2h0m0-208h0m0 208h0m0-140h0m0-14h0m0-29h0m0-55h0m0 93h0m0 145h0m0-209h0m0 53h0m1 16h0m0-38h0m0-63h0m0 242h0m0-151h0m0-49h0m0 38h0m0 163h0m0-198h0m0-7h0m0 24h0m0 18h0m0 160h0m0 6h0m0-186h0m0 181h0m0 2h0m1-3h0m0 3h0m0-158h0m0-26h0m0 12h0m0 24h0m0 147h0m0-162h0m0 17h0m0 152h0m0-168h0m0 2h0m0-67h0m1 224h0m0 5h0m0-181h0m0 23h0m0 14h0m0 139h0m0-198h0m0 14h0m0-69h0m0 63h0m0 50h0m0 141h0m0-165h0m0 17h0m0-101h0m0 19h0m0 230h0m1 0h0m0-143h0m0 145h0m0-188h0m0 185h0m0 0h0m0 1h0m0-211h0m0-8h0m0 61h0m0-19h0m0 180h0m0-4h0m0-151h0m0-20h0m0 18h0m0-41h0m0 194h0m0-175h0m1 174h0m0 2h0m0 5h0m0-186h0m0 22h0m0-11h0m0 168h0m0-144h0m0-22h0m0 24h0m0-1h0m0-38h0m0 189h0m0-2h0m0-160h0m0 188h0m0-236h0m1 40h0m0 19h0m0 2h0m0-119h0m0 262h0m0 0h0m0-152h0m0-44h0m0 34h0m0-7h0m0 0h0m0-7h0m0 34h0m0-32h0m0 13h0m0 160h0m1 6h0m0-162h0m0-1h0m0 15h0m0-49h0m0 39h0m0 1h0m0-75h0m0 59h0m0-2h0m0-18h0m0 47h0m0 140h0m0 9h0m0-8h0m1-143h0m0 149h0m0-7h0m0-180h0m0 23h0m0 15h0m0-61h0m0 202h0m0 4h0m0 3h0m0-5h0m0 0h0m0-150h0m0-24h0m0-17h0m0 25h0m0 26h0m0 140h0m0-167h0m1-5h0m0-16h0m0 186h0m0-208h0m0 69h0m0-15h0m0-41h0m0 204h0m0-217h0m0 210h0m0 5h0m0-159h0m0 6h0m0-16h0m1-11h0m0 26h0m0 153h0m0-5h0m0 10h0m0-199h0m0 192h0m0-155h0m0-37h0m0-11h0m0 45h0m0 157h0m0-147h0m0-62h0m0 67h0m0 0h0m0-28h0m0 169h0m0-147h0m0 3h0m0-32h0m0 189h0m1-13h0m0 8h0m0-10h0m0-170h0m0 171h0m0 0h0m0 1h0m0-167h0m0 166h0m0-148h0m0-25h0m0-33h0m0 35h0m0-75h0m0 247h0m0 0h0m0-165h0m0 15h0m1 150h0m0-140h0m0-12h0m0-18h0m0 7h0m0 14h0m0 155h0m0 48h0m0-282h0m0 38h0m0 13h0m0 15h0m0 161h0m0 1h0m0-149h0m0 2h0m0-68h0m0 42h0m0 29h0m0 0h0m0-16h0m0 168h0m1-154h0m0-39h0m0 191h0m0-175h0m0 13h0m0-6h0m0-22h0m0 185h0m0 7h0m0-8h0m0-145h0m0-24h0m0 178h0m0-159h0m0 148h0m1-155h0m0 1h0m0 16h0m0-24h0m0 23h0m0-22h0m0 161h0m0-142h0m0-16h0m0-23h0m0 20h0m0 162h0m0-177h0m1-3h0m0 40h0m0-15h0m0 156h0m0-2h0m0-147h0m0-31h0m0 182h0m0 2h0m0-264h0m0 85h0m0 175h0m0-150h0m0-32h0m0 181h0m0-167h0m0 167h0m0-145h0m0-9h0m0-138h0m0 72h0m0 47h0m1 175h0m0-1h0m0-143h0m0 142h0m0-154h0m0-9h0m0-19h0m0 23h0m0-51h0m0 63h0m0 156h0m0-211h0m0 54h0m0-9h0m0-30h0m0-20h0m0 207h0m0-183h0m1 17h0m0 182h0m0-224h0m0 53h0m0 11h0m0 0h0m0 144h0m0 1h0m0 0h0m0 6h0m0 3h0m0-9h0m0-1h0m0 0h0m0-209h0m0 40h0m0-62h0m0 66h0m1 14h0m0 160h0m0-8h0m0-196h0m0 53h0m0 3h0m0 140h0m0 0h0m0-1h0m0-149h0m0 9h0m0-118h0m0 115h0m0 145h0m0-146h0m0-38h0m0-54h0m0 60h0m0 19h0m1 6h0m0 156h0m0-144h0m0-1h0m0 0h0m0-25h0m0 25h0m0-45h0m0-15h0m0-5h0m0 41h0m0 165h0m0-156h0m0 167h0m1-200h0m0 2h0m0 29h0m0 158h0m0-1h0m0-138h0m0 139h0m0-184h0m0 183h0m0-1h0m0-183h0m0 25h0m0 167h0m0-8h0m0-185h0m0 40h0m0-22h0m0 169h0m0-162h0m1-19h0m0-52h0m0 250h0m0-161h0m0-2h0m0 143h0m0-142h0m0 145h0m0-172h0m0 19h0m0-21h0m0 176h0m0-222h0m0 226h0m0-7h0m0 0h0m0-1h0m1-190h0m0 42h0m0-3h0m0-7h0m0 167h0m0-9h0m0-155h0m0 16h0m0-27h0m0 6h0m0 163h0m0-169h0m0 15h0m0 154h0m0-165h0m0 164h0m1-249h0m0 97h0m0-19h0m0 177h0m0-243h0m0 47h0m0 38h0m0 149h0m0-139h0m0-40h0m0 36h0m0 144h0m0-165h0m0 1h0m0-41h0m0 29h0m0 176h0m1 1h0m0-141h0m0-12h0m0 13h0m0 138h0m0-167h0m0 26h0m0-5h0m0 156h0m0-3h0m0-1h0m0 8h0m0-185h0m0-6h0m0-57h0m0 60h0m1 176h0m0-171h0m0 174h0m0-159h0m0-13h0m0-2h0m0 14h0m0 14h0m0-1h0m0 143h0m0 3h0m0-156h0m0-38h0m0 198h0m0-159h0m0 151h0m0 8h0m0-197h0m0 13h0m0 14h0m0-1h0m0 165h0m0 10h0m0-164h0m0 4h0m0 163h0m1-197h0m0 22h0m0 167h0m0-211h0m0 208h0m0-3h0m0-221h0m0 54h0m0 168h0m0-224h0m0 42h0m0 34h0m0-48h0m0 36h0m0 159h0m1-172h0m0-65h0m0 51h0m0 192h0m0-210h0m0 31h0m0 24h0m0 148h0m0 9h0m0-195h0m0 187h0m0 1h0m0 4h0m0 1h0m0-6h0m0-269h0m0 104h0m0 166h0m0 8h0m0-149h0m0-31h0m0 32h0m0 148h0m0 0h0m0-163h0m1 154h0m0 1h0m0-189h0m0 43h0m0-24h0m0 14h0m0 156h0m0-147h0m0 146h0m0-161h0m0 162h0m0-169h0m0 5h0m0 164h0m0-218h0m1 217h0m0-166h0m0 182h0m0-158h0m0 150h0m0-257h0m0 249h0m0 6h0m0-5h0m0-141h0m0 2h0m0-8h0m0 149h0m0 4h0m0 0h0m0-154h0m0-11h0m0 174h0m0-186h0m0 28h0m0 141h0m0 11h0m0-11h0m0-139h0m0 141h0m0-175h0m0-102h0m1 275h0m0-174h0m0 20h0m0-37h0m0 192h0m0 1h0m0-326h0m0 325h0m0 1h0m0-202h0m0 32h0m0 26h0m0-35h0m0-76h0m0 262h0m1-8h0m0 1h0m0-142h0m0-59h0m0 201h0m0-1h0m0-139h0m0-20h0m0-50h0m0 211h0m0-159h0m0 158h0m0-145h0m0-118h0m1 123h0m0-8h0m0 155h0m0-164h0m0 165h0m0-155h0m0 153h0m0-4h0m0-3h0m0 6h0m0-156h0m0 1h0m0-21h0m0 179h0m0-9h0m0-141h0m0-33h0m0-40h0m0 228h0m0-219h0m0 36h0m0 171h0m1-153h0m0-10h0m0 14h0m0-12h0m0-21h0m0 9h0m0 171h0m0-239h0m0 101h0m0 149h0m0-152h0m0 144h0m0-149h0m0-25h0m0 172h0m0-225h0m0 18h0m0 55h0m1 12h0m0-15h0m0 160h0m0-157h0m0-27h0m0 8h0m0 171h0m0-153h0m0-21h0m0 16h0m0 158h0m0-199h0m1 56h0m0 141h0m0-171h0m0 22h0m0-93h0m0 83h0m0 0h0m0 177h0m0-16h0m0-145h0m0-20h0m0 168h0m0-285h0m0 282h0m0-162h0m1 21h0m0 0h0m0 1h0m0-56h0m0 55h0m0-36h0m0 186h0m0-9h0m0-142h0m0 148h0m0-157h0m1 150h0m0-193h0m0 50h0m0-6h0m0 150h0m0-143h0m0 0h0m0 142h0m0 1h0m0-141h0m0-25h0m0 17h0m0-64h0m0 66h0m0 0h0m0-20h0m0 11h0m0-53h0m0 64h0m0 144h0m0 0h0m0 9h0m0-223h0m0 230h0m0-154h0m1-8h0m0-25h0m0 171h0m0-163h0m0 13h0m0 155h0m0-216h0m0-9h0m0 46h0m0 32h0m0 142h0m0 2h0m0-254h0m0 253h0m0-145h0m0-4h0m0-38h0m0 40h0m0 0h0m1 147h0m0-155h0m0 13h0m0-6h0m0 7h0m0-50h0m0 194h0m0-182h0m0 179h0m0-165h0m0 173h0m0-177h0m0 26h0m0-5h0m0-2h0m0-32h0m0 40h0m0-17h0m0 10h0m0 3h0m0-1h0m0 1h0m1-95h0m0 102h0m0-23h0m0-38h0m0 200h0m0-143h0m0-57h0m0 45h0m0-35h0m0 25h0m0 169h0m0-185h0m0 180h0m0-152h0m0 11h0m0-6h0m0 147h0m0-222h0m0 57h0m0-13h0m1 178h0m0-221h0m0 229h0m0-9h0m0-156h0m0 18h0m0-3h0m0-3h0m0-8h0m0-58h0m0 69h0m0 149h0m0-239h0m0 94h0m0 144h0m1-147h0m0-59h0m0 18h0m0 183h0m0 4h0m0-251h0m0 93h0m0-18h0m0 172h0m0-146h0m0 150h0m0-226h0m0 81h0m0-38h0m1 177h0m0-153h0m0-17h0m0-24h0m0 4h0m0 38h0m0-4h0m0 0h0m0 158h0m0 3h0m0-148h0m0-12h0m0 156h0m0-141h0m0 142h0m0 0h0m1-218h0m0-34h0m0 80h0m0 171h0m0 3h0m0 7h0m0-10h0m0-153h0"/>
<text x="359.8" y="456.3" text-anchor="middle">44,435</text>
<text x="360.1" y="795.2" font-size="20.2" text-anchor="middle">Rep. 3</text>
<rect x="421.6" y="647.4" width="86.8" height="72.3" fill="#EB4F8F"/>
<path transform="scale(0.5)" fill="none" stroke="#EB4F8F" stroke-width="7.2" stroke-linecap="round" d="M847 1227h0m0 10h0m0 52h0m0-17h0m1-13h0m0 32h0m0-7h0m0-18h0m0 22h0m0 3h0m0 153h0m0-7h0m0-150h0m0 4h0m0-48h0m0 200h0m1 64h0m0-220h0m0 0h0m0 0h0m0-42h0m0-51h0m0 67h0m1 31h0m0-49h0m0-56h0m0 43h0m0 50h0m0-3h0m0-5h0m0 0h0m0 164h0m0-137h0m0-50h0m1 199h0m0-188h0m0 30h0m0 6h0m0-6h0m0-11h0m0 0h0m0 159h0m0-2h0m0 2h0m1 0h0m0-142h0m0 1h0m0-185h0m0 156h0m0 170h0m0-181h0m0-1h0m0 26h0m0 156h0m0 3h0m0 6h0m0-156h0m1-15h0m0 18h0m0-17h0m0-131h0m0 128h0m0-11h0m0 178h0m0-155h0m0 158h0m1-160h0m0 4h0m0 148h0m0-201h0m0 202h0m0-171h0m0 228h0m1-231h0m0 175h0m0-165h0m0 163h0m0-148h0m0-8h0m0 1h0m0-6h0m1-49h0m0 216h0m0-4h0m0-148h0m0-10h0m0 159h0m0-141h0m0-87h0m0 29h0m0-19h0m1 15h0m0 17h0m0 45h0m0-33h0m0-37h0m0-2h0m0 59h0m0-79h0m0 233h0m0-189h0m0 186h0m0-235h0m0 235h0m0-155h0m1 2h0m0 154h0m0 0h0m0-152h0m0-20h0m0-18h0m0-88h0m0 138h0m0 150h0m1-161h0m0 151h0m0-153h0m0-49h0m0-19h0m0 222h0m1-204h0m0 203h0m0-146h0m0 146h0m0-141h0m0-40h0m1 40h0m0-28h0m0-25h0m0-55h0m0 90h0m0 6h0m1 160h0m0-8h0m0-160h0m0 21h0m1-22h0m0-33h0m0 42h0m0 155h0m0-161h0m0 169h0m0-3h0m1-182h0m0-17h0m0 19h0m0 180h0m0-7h0m0-139h0m0-38h0m0-25h0m1 44h0m0 177h0m0-170h0m0-6h0m0 157h0m0-142h0m1-52h0m0 3h0m0 42h0m0-36h0m0 33h0m0-48h0m1 31h0m0 213h0m0-43h0m0-143h0m0-5h0m0-71h0m0 66h0m0 1h0m0-55h0m0 42h0m0-5h0m0 15h0m0-5h0m0 164h0m0-5h0m0-163h0m1-79h0m0 57h0m0-41h0m0 67h0m0 9h0m0-6h0m0 3h0m0-12h0m0 10h0m0 7h0m1-22h0m0-2h0m0 178h0m0-169h0m0 4h0m0 221h0m0-53h0m0-164h0m1 154h0m0 1h0m0 27h0m0 3h0m0-202h0m0 15h0m0-1h0m0-49h0m0 42h0m0-2h0m0 167h0m0 2h0m0-171h0m1 169h0m0 16h0m0-16h0m0-140h0m0-41h0m0 31h0m0-17h0m0 24h0m1-5h0m0 5h0m0-1h0m0 145h0m0-156h0m0 8h0m0 148h0m0-144h0m0-16h0m0-23h0m0 183h0m0-160h0m0 159h0m1-161h0m0-4h0m0-68h0m0 29h0m0 29h0m0-33h0m0 209h0m0 2h0m0 8h0m0-251h0m0 94h0m0 197h0m0-192h0m0-75h0m0 30h0m1 25h0m0 0h0m0-5h0m0 14h0m0 160h0m0-191h0m0-18h0m0 2h0m0 17h0m0 183h0m0-156h0m1-27h0m0 23h0m0-46h0m0 20h0m0 34h0m0 151h0m0-144h0m0 2h0m0 142h0m0-143h0m0-49h0m0 15h0m0-2h0m0 38h0m0-27h0m1-32h0m0 61h0m0-47h0m0-16h0m0-10h0m0 60h0m0-59h0m0 211h0m0 6h0m0-196h0m0 190h0m0 1h0m0 4h0m1-152h0m0 2h0m0 1h0m0 3h0m0-39h0m0 38h0m0 174h0m0-184h0m0 3h0m0-95h0m1 81h0m0-13h0m0-41h0m0-5h0m0 67h0m1 14h0m0 146h0m0-202h0m0 42h0m0 214h0m0-265h0m0-30h0m0 85h0m1 12h0m0-48h0m0 19h0m0 176h0m0-149h0m0-16h0m0 19h0m0-6h0m0-108h0m1 102h0m0-67h0m0 75h0m0-26h0m0-92h0m0 119h0m0-5h0m0-62h0m0-2h0m0 53h0m1 18h0m0-14h0m0-6h0m0-15h0m0 28h0m0 146h0m0-149h0m0 154h0m1-144h0m0 139h0m0-142h0m0 3h0m0-16h0m0-5h0m0 19h0m0-10h0m1-4h0m0-47h0m0 60h0m0-3h0m0-4h0m0 165h0m0-165h0m0 150h0m0 12h0m0-154h0m1 146h0m0-247h0m0 242h0m0-145h0m0-7h0m1-14h0m0 19h0m0-26h0m0 33h0m0-71h0m0 70h0m0-1h0m0-31h0m1 174h0m0-151h0m0 151h0m0-150h0m0 3h0m0 148h0m1-173h0m0-27h0m0 206h0m0-155h0m0-8h0m0 1h0m0 6h0m1 6h0m0-55h0m0-27h0m0 224h0m0-157h0m0 7h0m0-66h0m0 216h0m0 1h0m0-157h0m1-27h0m0-73h0m0 70h0m0 186h0m0 9h0m0-10h0m0-198h0m0-122h0m0 182h0m0-24h0m1 163h0m0-198h0m0 1h0m0-22h0m0 70h0m0-2h0m0 3h0m0 149h0m0-174h0m0-113h0m0 109h0m1 12h0m0 4h0m0 162h0m0 1h0m0-176h0m1-8h0m0-8h0m0 16h0m0-16h0m0 50h0m0-66h0m0 206h0m1-153h0m0 154h0m0-182h0m0-25h0m0 207h0m0-146h0m0 148h0m0-183h0m0 28h0m1-15h0m0 168h0m0-155h0m0 8h0m0 7h0m0-21h0m0 161h0m0-141h0m0-1h0m1 140h0m0 1h0m0-154h0m0 6h0m0 168h0m0-16h0m0-152h0m1-21h0m0 169h0m0-155h0m0 10h0m0 144h0m0-145h0m0 146h0m0-143h0m0-24h0m1 22h0m0-32h0m0 4h0m0 173h0m0-231h0m0 249h0m0-18h0m0 0h0m0-160h0m0-17h0m0-10h0m1 13h0m0 3h0m0-10h0m0 31h0m0 5h0m0-20h0m0 169h0m0-171h0m1 168h0m0-2h0m0-152h0m0 153h0m0-161h0m0 13h0m0-21h0m0-61h0m0 47h0m1 5h0m0 35h0m0-3h0m0 4h0m0 143h0m1-197h0m0 201h0m0-192h0m0 30h0m1-40h0m0-61h0m0 108h0m0-36h0m0-15h0m0 206h0m0-280h0m0 102h0m0 30h0m0-17h0m0 162h0m0-207h0m1 62h0m0 3h0m0-22h0m0-12h0m0 27h0m0 153h0m0-218h0m0 8h0m0 37h0m0 12h0m0 14h0m0 161h0m1-178h0m0-8h0m1 173h0m0-221h0m0 76h0m0 140h0m0-144h0m0-309h0m0 272h0m0 24h0m0-66h0m1 224h0m0 39h0m0-189h0m0-9h0m0 11h0m0-21h0m0 11h0m0 168h0m0-248h0m1 54h0m0 22h0m0-94h0m0 268h0m0-168h0m0-5h0m0 159h0m0-140h0m0 142h0m0-144h0m1-22h0m0 25h0m0 138h0m0 15h0m0-14h0m0-144h0m1-27h0m0 25h0m0-37h0m0 16h0m0 166h0m0 1h0m0 1h0m0-151h0m1-6h0m0 155h0m0-183h0m0-16h0m0-7h0m0 40h0m0 169h0m0 2h0m1-5h0m0-218h0m0 219h0m0-227h0m0 34h0m0 193h0m1-145h0m0-7h0m0-89h0m0 101h0m0-6h0m0-70h0m1 261h0m0-285h0m0 247h0m0-158h0m0-1h0m1 152h0m0 9h0m0-173h0m0 2h0m0 161h0m1 1h0m0-152h0m0 2h0m0-17h0m0-46h0m0 47h0m1 18h0m0 158h0m0-174h0m0-109h0m0 129h0m0 143h0m0-141h0m0-28h0m0 12h0m0-32h0m0 47h0m1-35h0m0 2h0m0 176h0m0-162h0m0 4h0m1-7h0m0-12h0m0 6h0m0 19h0m0-2h0m0-16h0m0 18h0m0-97h0m0 264h0m0-167h0m0 7h0m1-27h0m0 10h0m0-64h0m0 1h0m0 84h0m0-7h0m0-39h0m0 4h0m0 11h0m0 22h0m0-17h0m0 19h0m0-45h0m0 53h0m1-53h0m0 51h0m0-24h0m0 166h0m0-153h0m0 152h0m0-191h0m0 191h0m0-148h0m0-33h0m0 38h0m1 144h0m0-194h0m0 17h0m0 178h0m0-146h0m0-13h0m0 157h0m1-1h0m0 15h0m0-198h0m0 33h0m0-104h0m0 268h0m0-13h0m1-168h0m0 13h0m0-12h0m0 27h0m0-43h0m0 4h0m0-5h0m0 1h0m0-41h0m0 25h0m0 205h0m0-150h0m1-24h0m0-1h0m0 23h0m0 6h0m0-33h0m0 30h0m0 1h0m0 142h0m0-185h0m0 45h0m0 1h0m1-20h0m0-27h0m0 19h0m0 1h0m0 21h0m0 144h0m0-141h0m0 4h0m0 180h0m0-250h0m0-38h0m0 106h0m1-29h0m0-6h0m0 175h0m0 0h0m0-201h0m0 45h0m0-23h0m0 23h0m0-2h0m0 162h0m0-171h0m1 18h0m0-2h0m0-5h0m0-15h0m0 6h0m0-8h0m0-19h0m0 33h0m0 9h0m0 9h0m1-11h0m0 13h0m0-10h0m0 8h0m0-60h0m0 201h0m0-181h0m0-18h0m0 46h0m1 152h0m0-182h0m0 184h0m0-227h0m0 233h0m0-161h0m1 5h0m0-58h0m0 208h0m0-152h0m0-29h0m0 41h0m0-11h0m1-3h0m0 153h0m0-144h0m0 152h0m1-168h0m0-24h0m0 29h0m0-17h0m0 30h0m1-52h0m0 43h0m0 4h0m0-73h0m0 229h0m0-169h0m0-2h0m0 170h0m0-158h0m0-212h0m0 371h0m0-10h0m0-183h0m1 43h0m0-28h0m0-12h0m0 31h0m0-43h0m0 26h0m0 9h0m0 160h0m0-159h0m0 13h0m0-13h0m0-12h0m0 22h0m1-152h0m0 300h0m0 0h0m0 0h0m0-142h0m0-24h0m0-42h0m0 69h0m1 143h0m0-274h0m0 73h0m0 55h0m0-1h0m0 142h0m0 0h0m0-157h0m0-26h0m0 39h0m0 2h0m0 148h0m0 2h0m0-7h0m1 2h0m0-170h0m0 176h0m0-206h0m0 47h0m0 12h0m0-33h0m0-28h0m0 199h0m0 1h0m1 2h0m0 6h0m0-219h0m0-13h0m0 224h0m0-264h0m0 269h0m0-163h0m0 8h0m0 9h0m1-46h0m0 219h0m0-190h0m0 13h0m0-7h0m0 7h0m0-45h0m0 41h0m0 9h0m0-4h0m0 0h0m0 142h0m0-253h0m0 114h0m1 140h0m0-193h0m0 47h0m0 153h0m0-173h0m0 16h0m0-5h0m1-1h0m0 157h0m0-2h0m0-192h0m0 194h0m0 33h0m0-237h0m0-26h0m0 236h0m0-146h0m0 139h0m0-188h0m0 28h0m0 17h0m0 144h0m1-234h0m0 236h0m0-202h0m0 20h0m0 21h0m0 20h0m0-5h0m0 145h0m0-162h0m1 19h0m0-8h0m0 149h0m0 6h0m0-152h0m0-22h0m0 167h0m0 2h0m0 5h0m0-213h0m0 207h0m0 2h0m1-176h0m0 184h0m0-182h0m0 31h0m1-73h0m0 36h0m0 178h0m0-173h0m0 1h0m0 180h0m0-157h0m0 0h0m0-10h0m0-41h0m0 23h0m1 31h0m0 151h0m0-150h0m0 2h0m0 143h0m0-293h0m0 136h0m0-12h0m0 171h0m1-167h0m0 11h0m0 155h0m0-154h0m0-8h0m0 162h0m0-288h0m0 103h0m0 193h0m0-163h0m1 154h0m0-233h0m0 234h0m0-167h0m0 169h0m0-161h0m0 6h0m0 155h0m0-3h0m1-230h0m0 83h0m0-78h0m0 236h0m0-168h0m0-181h0m0 339h0m0-155h0m0 12h0m1-27h0m0 170h0m0-254h0m0 106h0m0 168h0m0-21h0m1 7h0m0 30h0m0-181h0m0-7h0m0-3h0m0-32h0m0 29h0m0 14h0m0 151h0m0-185h0m1 9h0m0-8h0m0 177h0m0-153h0m0-72h0m0 241h0m0-160h0m0-20h0m0 3h0m0 17h0m0-54h0m0 27h0m1 15h0m0-3h0m0-12h0m0 17h0m0-16h0m0 16h0m0-3h0m0-79h0m0 44h0m0 51h0m0 142h0m1-153h0m0-121h0m0 81h0m0 21h0m0 169h0m0-140h0m0-140h0m1 140h0m0-20h0m0-66h0m0 48h0m0 192h0m0-183h0m0 171h0m0-150h0m0 10h0m0 139h0m0-142h0m0-1h0m0-24h0m0 26h0m1-74h0m0 27h0m0 47h0m0-83h0m0 74h0m0-15h0m0 21h0m0-21h0m0 21h0m0-44h0m0 48h0m0-12h0m0-43h0m0 39h0m0 157h0m0-188h0m0 32h0m1 163h0m0-7h0m0-1h0m0-140h0m0-60h0m0 36h0m0 16h0m0-28h0m0 14h0m0-3h0m0-42h0m1 20h0m0 195h0m0 53h0m0-200h0m0-105h0m0 76h0m0 169h0m0-201h0m1 61h0m0-5h0m0 1h0m0-12h0m0-90h0m0 244h0m0-218h0m0 15h0m1 64h0m0 139h0m0 2h0m0-181h0m0-80h0m1 113h0m0-46h0m0 8h0m0 22h0m0 11h0m0 165h0m0-13h0m0-152h0m0-91h0m0 44h0m0 198h0m1-167h0m0 6h0m0 170h0m0-7h0m0-185h0m1 35h0m0 4h0m0 3h0m0-4h0m0 145h0m0-158h0m0 160h0m0-168h0m0-9h0m1 7h0m0 169h0m0 0h0m1 0h0m0-148h0m0 198h0m0-195h0m0 144h0m0 1h0m0-192h0m1 42h0m0 1h0m0 151h0m0-176h0m0 24h0m0-31h0m0 185h0m0-3h0m1 2h0m0-143h0m0 141h0m0-155h0m0 8h0m0-9h0m0-13h0m0 1h0m0 16h0m1 152h0m0-147h0m0-12h0m0 158h0m0-143h0m1 152h0m0-9h0m0-187h0m0-74h0m0 264h0m0-164h0m0-29h0m1 32h0m0 166h0m0-165h0m0 4h0m0-2h0m0 156h0m0-188h0m0 0h0m0 32h0m0-25h0m0 39h0m0 141h0m1-160h0m0 178h0m0-165h0m0-31h0m0 179h0m0-142h0m0-10h0m0-27h0m0 11h0m0 167h0m0-186h0m0 37h0m1-44h0m0 194h0m0-182h0m0-26h0m0 65h0m0-125h0m0 118h0m1-30h0m0 186h0m0-167h0m0 15h0m0 0h0m0 150h0m0-172h0m0 2h0m0-16h0m0 211h0m1-181h0m0-44h0m0 44h0m0-15h0m0 15h0m0 220h0m0-262h0m0 202h0m0 0h0m0-9h0m0-201h0m0 24h0m0-22h0m1-53h0m0 111h0m0-139h0m0 281h0m0-154h0m0-41h0m0 17h0m1-20h0m0 197h0m0-145h0m0-2h0m1 153h0m0-181h0m0 27h0m0 148h0m0 0h0m0-252h0m0 257h0m0-155h0m1 154h0m0-157h0m0-12h0m0 23h0m0 4h0m0-84h0m0 79h0m0 162h0m0-19h0m1 12h0m0-163h0m0-35h0m0 11h0m0 176h0m0-147h0m0-22h0m0 27h0m0 149h0m0-8h0m1-145h0m0-11h0m0 155h0m0-146h0m0 147h0m0-193h0m0 0h0m0 33h0m0 15h0m0-21h0m1 168h0m0-1h0m0-167h0m0 10h0m0-24h0m0-3h0m0 37h0m0 7h0m0-80h0m1 58h0m0-70h0m0 44h0m0 32h0m0-3h0m0 168h0m0-9h0m0-1h0m0-154h0m0 3h0m0-22h0m0 4h0m0 3h0m0 24h0m1-27h0m0 8h0m0-17h0m0 36h0m0-15h0m0-14h0m0 28h0m0 143h0m0 1h0m0-214h0m0 68h0m1 6h0m0-48h0m0 48h0m0-66h0m0 48h0m0 160h0m0-2h0m0-152h0m0 160h0m0-152h0m1-28h0m0 170h0m0-154h0m0-1h0m0 6h0m0 11h0m0-22h0m0 175h0m0-155h0m0 151h0m0-199h0m1-31h0m0 62h0m0 158h0m0-150h0m0 181h0m0-189h0m0 8h0m0 2h0m0-131h0m1 131h0m0-16h0m0 7h0m0-16h0m0 30h0m0-38h0m0 31h0m0-53h0m0 218h0m0-222h0m0 52h0m0 5h0m1-56h0m0 2h0m1 10h0m0 35h0m0 18h0m0-26h0m0-69h0m0 72h0m0 17h0m0-51h0m0 16h0m0 38h0m0 5h0m1-17h0m0 7h0m0 162h0m0-7h0m0-166h0m0-27h0m0 43h0m1 2h0m0 151h0m0-8h0m0 2h0m0-155h0m0-8h0m0 12h0m0-91h0m0-9h0m1 105h0m0-3h0m0 154h0m0-7h0m0-163h0m0-69h0m0 93h0m1-8h0m0 146h0m0-220h0m0 219h0m0-161h0m0 12h0m0-66h0m0 39h0m0 34h0m1-21h0m0 6h0m0-28h0m0 34h0m0-16h0m0 2h0m0-1h0m0 8h0m0 14h0m0-26h0m0-9h0m0 185h0m0-165h0m1-14h0m0 182h0m0-157h0m0 4h0m0-7h0m0-44h0m0 45h0m0-36h0m1-40h0m0 58h0m0 170h0m0-1h0m0-178h0m0 36h0m0-33h0m0 28h0m0-3h0m1 150h0m0 1h0m0-170h0m0 20h0m0-14h0m0 163h0m0-185h0m1 15h0m0 177h0m0-146h0m0-77h0m0 50h0m0-7h0m0 175h0m0-153h0m0-10h0m0 162h0m0-142h0m1 142h0m0-151h0m0-5h0m0 12h0m0-7h0m0 2h0m1-33h0m0 19h0m0-54h0m0 22h0m1 194h0m0-142h0m0-60h0m0 53h0m0 6h0m1-103h0m0 55h0m0-50h0m0 91h0m0 7h0m0-6h0m0 148h0m1-163h0m0 14h0m0 11h0m0 140h0m0-186h0m1 185h0m0-216h0m0 12h0m0 32h0m0 173h0m0 67h0m0-238h0m0 27h0m1-4h0m0 154h0m0-3h0m0-178h0m0-15h0m0 190h0m0 2h0m0-212h0m0 67h0m0-12h0m1 155h0m0-144h0m0-74h0m0 217h0m0 1h0m0-199h0m0-29h0m0 226h0m0-240h0m0 60h0m0-55h0m1 236h0m0-139h0m0-31h0m0 14h0m0-19h0m0 21h0m0-23h0m0-16h0m0-14h0m1 48h0m0-16h0m0-24h0m0 25h0m0 30h0m0 144h0m0-179h0m1 27h0m0-34h0m0 37h0m0-35h0m0-6h0m0 191h0m0 0h0m0 4h0m0-193h0m0 38h0m1 9h0m0-88h0m0 24h0m0 65h0m0-51h0m0 49h0m0-22h0m0-8h0m0 32h0m0-14h0m0-13h0m0 24h0m0 143h0m1-153h0m0-4h0m0 162h0m0-150h0m0 5h0m0-71h0m0 34h0m0 37h0m0-1h0m0-9h0m0 171h0m1-159h0m0-24h0m0 163h0m0-140h0m0-21h0m0 160h0m0-141h0m0-7h0m0 166h0"/>
<text x="464.4" y="456.3" text-anchor="middle">31,270</text>
<text x="464.7" y="795.2" font-size="20.2" text-anchor="middle">Rep. 1</text>
<rect x="525.6" y="647.4" width="86.8" height="72.3" fill="#EB4F8F"/>
<path transform="scale(0.5)" fill="none" stroke="#EB4F8F" stroke-width="7.2" stroke-linecap="round" d="M1055 1247h0m0 200h0m0-183h0m0 200h0m0-24h0m0-3h0m0-183h0m0 189h0m0-6h0m0-155h0m0-7h0m0 162h0m1-186h0m0 10h0m0 33h0m0 3h0m0-51h0m0 3h0m0-34h0m1 52h0m0 170h0m0-152h0m0-31h0m0 182h0m0-156h0m0 209h0m0-207h0m0-13h0m0 167h0m0-182h0m0 186h0m0-154h0m0-38h0m0 190h0m0-154h0m0-126h0m1 288h0m0-169h0m0 14h0m0-27h0m0 31h0m0 142h0m0-217h0m0 217h0m1-220h0m0 222h0m0-207h0m0-9h0m0 62h0m0 160h0m0 1h0m0-165h0m1 155h0m0-167h0m0-6h0m0 174h0m0-147h0m0 147h0m0 0h0m0 1h0m0 2h0m0-3h0m0-210h0m0 68h0m0-41h0m0-13h0m0 203h0m1-152h0m0-14h0m0 20h0m0-11h0m0 2h0m0-16h0m0 168h0m0-4h0m0-254h0m1 102h0m0-1h0m0 13h0m0-33h0m0-79h0m0 98h0m0 157h0m0-2h0m1-1h0m0 4h0m0-5h0m0-145h0m0-14h0m0 19h0m0-9h0m1 156h0m0-187h0m0-98h0m0 131h0m0-4h0m0 153h0m0 2h0m0-178h0m1-3h0m0 26h0m0 152h0m0 1h0m0-148h0m0 148h0m0 7h0m0-210h0m0 59h0m0-7h0m0-10h0m1 1h0m0 14h0m0-23h0m0 168h0m0-151h0m0-38h0m0 20h0m0 168h0m0 5h0m0-2h0m1-227h0m0 76h0m0-16h0m0 12h0m0-58h0m0 69h0m1 150h0m0-7h0m0 3h0m0 2h0m0-6h0m0-164h0m1 8h0m0 155h0m0-152h0m0 158h0m0-236h0m0 244h0m0-157h0m0-21h0m0 19h0m1 145h0m0 2h0m0-214h0m0 56h0m0 158h0m0-168h0m0-35h0m0 201h0m0 0h0m0-181h0m0 6h0m0 175h0m0 2h0m1 4h0m0-4h0m0-163h0m0-16h0m0 187h0m0-1h0m0-7h0m0-158h0m0-82h0m1 98h0m0-103h0m0 252h0m0-147h0m0-31h0m0 23h0m0-100h0m0 253h0m0-158h0m1 152h0m0 0h0m0-155h0m0-15h0m0-18h0m0 191h0m0-3h0m0-162h0m0-3h0m0 22h0m0 142h0m0 3h0m1-153h0m0 6h0m0 1h0m0 144h0m0 2h0m0-2h0m0-146h0m0-5h0m1-14h0m0-35h0m0 1h0m0 41h0m0-3h0m0 8h0m1-1h0m0-11h0m0-40h0m0 66h0m0-59h0m0 199h0m0-166h0m1 165h0m0 8h0m0-149h0m0 141h0m0-168h0m0 3h0m0 165h0m0-147h0m0-97h0m0 88h0m0-26h0m0-14h0m0 197h0m1-179h0m0 15h0m0 11h0m0 11h0m0 0h0m0 0h0m0-31h0m0 171h0m0-147h0m0 0h0m0 149h0m1 8h0m0-207h0m0 49h0m0 150h0m0 1h0m0 7h0m0-163h0m0 10h0m0 150h0m0-201h0m0 196h0m1-168h0m0-60h0m0 69h0m0 163h0m0-159h0m0 14h0m0-30h0m0 170h0m1-161h0m0 161h0m0 0h0m0 0h0m0-144h0m0-50h0m0 36h0m0-47h0m0 58h0m1 151h0m0-146h0m0 145h0m0 61h0m0-63h0m0-1h0m0 1h0m0-188h0m0 22h0m0 165h0m0 8h0m0-153h0m0 4h0m0 0h0m0 160h0m0-165h0m0-1h0m1-15h0m0 15h0m0 147h0m0 1h0m0-1h0m0-192h0m0 49h0m0-43h0m0 47h0m0-4h0m0-57h0m0 205h0m0-147h0m0-27h0m0-42h0m0 218h0m0-169h0m0 161h0m1 2h0m0-189h0m0 188h0m0-184h0m0 25h0m0 13h0m0 4h0m0 0h0m0 4h0m0-26h0m0-25h0m1 45h0m0-74h0m0 67h0m0 11h0m0-14h0m0 12h0m0-6h0m0-23h0m0-1h0m0-99h0m0 74h0m0 45h0m0 152h0m0-154h0m1 158h0m0-151h0m0-17h0m0-18h0m0 184h0m0-183h0m0 19h0m0 13h0m0 7h0m0 1h0m0 142h0m0 2h0m0-174h0m0-45h0m1 71h0m0 1h0m0 0h0m0-10h0m0 155h0m0 2h0m0-2h0m0 12h0m0-5h0m0-205h0m0 57h0m1-81h0m0 70h0m0 151h0m0 1h0m0-189h0m0 188h0m0 1h0m0-2h0m0-153h0m0-35h0m0 194h0m1-197h0m0 39h0m0-34h0m0 30h0m0 157h0m0 0h0m0 2h0m0-142h0m0-131h0m0 311h0m1-187h0m0 150h0m0 0h0m0-2h0m0 4h0m0-164h0m0 168h0m0-5h0m0-1h0m0-2h0m1 4h0m0-199h0m0 43h0m0-6h0m0 5h0m0-37h0m0 21h0m0-57h0m0 233h0m1-163h0m0 13h0m0 146h0m0-3h0m0-231h0m0 89h0m0 140h0m0 3h0m0-174h0m0 175h0m1-4h0m0-158h0m0 3h0m0 7h0m0-75h0m0 72h0m0 152h0m0 0h0m1 0h0m0-140h0m0 140h0m0-232h0m0 59h0m0 15h0m0 157h0m1 63h0m0-208h0m0-20h0m0 171h0m0 4h0m0-182h0m0 22h0m0-1h0m0 151h0m0-144h0m0-33h0m0 179h0m1-148h0m0 0h0m0 147h0m0 7h0m0-167h0m0 20h0m0 139h0m0 10h0m0-3h0m0-5h0m0 4h0m1-144h0m0-4h0m0 4h0m0 140h0m0 0h0m0-140h0m1-14h0m0 152h0m0 1h0m0-256h0m0 105h0m0-30h0m0 30h0m0 12h0m0 140h0m1-159h0m0 13h0m0-38h0m0-4h0m0 189h0m0-185h0m0 187h0m1-221h0m0 57h0m0 160h0m0-1h0m0 1h0m0 1h0m1 0h0m0-164h0m0 9h0m0 154h0m0 9h0m0-151h0m0 3h0m0-142h0m0 104h0m0-2h0m0 17h0m1 22h0m0 150h0m0-8h0m0 2h0m0-161h0m0 11h0m0-11h0m0-50h0m0 214h0m0-1h0m1-149h0m0-73h0m0 68h0m0-10h0m0 4h0m0 156h0m0-158h0m0-6h0m0 7h0m0 10h0m0-96h0m1 75h0m0 14h0m0 5h0m0-12h0m0 5h0m0-25h0m0 180h0m0-1h0m0-162h0m0 161h0m0-152h0m0 152h0m1-159h0m0 21h0m0 0h0m0-19h0m0-2h0m0-15h0m0 179h0m0-4h0m0-150h0m1 4h0m0 3h0m0 144h0m0-144h0m0-2h0m0 145h0m0-202h0m1 43h0m0 166h0m0-154h0m0 147h0m0-150h0m0 150h0m0-158h0m0-1h0m0 0h0m1 160h0m0-145h0m0 146h0m0-148h0m0-44h0m0-21h0m0 73h0m0 141h0m0-167h0m0 21h0m0 1h0m0-66h0m0 209h0m0-145h0m0-120h0m1 270h0m0-177h0m0-8h0m0 178h0m0-174h0m0 2h0m0 174h0m1-1h0m0-199h0m0 205h0m0-7h0m0-199h0m0 199h0m0-289h0m0 121h0m0 1h0m0-2h0m0-3h0m0-33h0m0 223h0m0-203h0m0 38h0m0 147h0m0-182h0m1 0h0m0 25h0m0 16h0m0 150h0m0-8h0m0-160h0m0-105h0m1 120h0m0 1h0m0 149h0m0-155h0m0 9h0m0-19h0m0 160h0m0-141h0m0 149h0m0-155h0m1 146h0m0-158h0m0 159h0m0 54h0m0-194h0m0-8h0m0 149h0m0-151h0m0-55h0m1 67h0m0-18h0m0 159h0m0 3h0m0-5h0m0 0h0m0-142h0m0-48h0m1 40h0m0 5h0m0 4h0m0 140h0m0-168h0m0 20h0m1-36h0m0 13h0m0 171h0m0-160h0m0-44h0m0 205h0m0-168h0m0 19h0m1-50h0m0 44h0m0 154h0m0-1h0m0-162h0m0 5h0m0-8h0m0-3h0m0-16h0m0 47h0m0 138h0m1 9h0m0-245h0m0 74h0m0-12h0m0-23h0m0 197h0m0-1h0m1 1h0m0-173h0m0 174h0m0-147h0m0-114h0m0 105h0m0-11h0m0 173h0m0-5h0m0-169h0m0 3h0m0 0h0m0 2h0m0 15h0m1-9h0m0-4h0m0 163h0m0-174h0m0-69h0m0 240h0m1-234h0m0 92h0m0-75h0m0 71h0m0-4h0m0 166h0m1-216h0m0 58h0m0 145h0m0-143h0m0-27h0m0 9h0m0 10h0m0 155h0m0 5h0m0-162h0m0-20h0m0 171h0m0-1h0m0 1h0m0-158h0m0-2h0m1 11h0m0-26h0m0 190h0m0-160h0m0 148h0m0-3h0m0 0h0m0-145h0m0 144h0m0 0h0m0-207h0m0 67h0m0 141h0m0-148h0m1-2h0m0-47h0m0 205h0m0-155h0m0 6h0m0-25h0m0 165h0m0-174h0m0 33h0m0-35h0m0 6h0m0-12h0m0 43h0m0-48h0m0 190h0m0-187h0m0 184h0m1 1h0m0-178h0m0 178h0m0 0h0m0-186h0m0 47h0m0-26h0m0 164h0m0-217h0m0 217h0m0 7h0m1-7h0m0-155h0m0-77h0m0 238h0m1-7h0m0 8h0m0-161h0m0-18h0m0 172h0m1-168h0m0 23h0m0-33h0m0 12h0m0 166h0m0-157h0m1 157h0m0-144h0m0 3h0m0 141h0m0 3h0m0-147h0m0-12h0m0 188h0m0-176h0m1-12h0m0 159h0m0 4h0m0-174h0m0 5h0m0 18h0m1 4h0m0-4h0m0-20h0m0 165h0m0-141h0m0-10h0m0-22h0m0 29h0m0-28h0m0 172h0m1-1h0m0 5h0m0-6h0m0-157h0m0 2h0m1 156h0m0 1h0m0-147h0m0 150h0m0-145h0m0 144h0m1 6h0m0-167h0m0-48h0m1 65h0m0-21h0m0-44h0m0 50h0m0-1h0m0 7h0m0 8h0m0 175h0m0-174h0m1 141h0m0-212h0m0 220h0m0-148h0m1-45h0m0-27h0m0 62h0m0 151h0m0-1h0m0 1h0m0 0h0m0-181h0m0 38h0m0 144h0m1-245h0m0 92h0m0-92h0m0 58h0m0 37h0m0 153h0m0-161h0m0 158h0m0-199h0m0-237h0m0 290h0m1-62h0m0 44h0m0 162h0m0-149h0m0 149h0m0-226h0m0 76h0m0 151h0m0-229h0m0 5h0m0 223h0m0 0h0m0 2h0m0-1h0m1-148h0m0 151h0m0 0h0m0-185h0m0 182h0m0-1h0m1 1h0m0-185h0m0 184h0m0-169h0m0 1h0m0 167h0m0-164h0m0 173h0m0-8h0m0-162h0m1 162h0m0-154h0m0-15h0m0-1h0m0 26h0m0-14h0m0 1h0m0 8h0m0 151h0m0-150h0m0 1h0m1 148h0m0-155h0m0-36h0m0 35h0m0 155h0m0 1h0m0 2h0m0-163h0m0 17h0m0 144h0m1-241h0m0 86h0m0 161h0m0-164h0m0 161h0m0-145h0m0 148h0m0-216h0m1 222h0m0-4h0m0-8h0m0 1h0m0-147h0m0-19h0m0-33h0m0 220h0m0-182h0m0 9h0m0 191h0m0-194h0m0-8h0m0 20h0m0 149h0m0-8h0m1-148h0m0 153h0m0-5h0m0-1h0m0 2h0m0-147h0m0-5h0m0 151h0m1-197h0m0 39h0m0-24h0m0-37h0m0 63h0m0 157h0m0-2h0m0-269h0m0 270h0m1-215h0m0 64h0m0 164h0m0-296h0m0 134h0m0-33h0m0 6h0m0 27h0m0 149h0m1-184h0m0 30h0m0-31h0m0 47h0m0-14h0m0 157h0m0 0h0m0-157h0m0-27h0m0 28h0m0-24h0m0 14h0m0 165h0m0-157h0m0 154h0m1 0h0m0 0h0m0-206h0m0-36h0m0-145h0m0 386h0m0-175h0m0 5h0m0-60h0m0 63h0m0 11h0m0 164h0m1-174h0m0-59h0m0 227h0m0-152h0m0-33h0m0 43h0m0 141h0m0-152h0m0-13h0m0 175h0m0-177h0m0 165h0m0 16h0m1-192h0m0 7h0m0-34h0m0 209h0m0-150h0m0 144h0m0 5h0m0-157h0m0 159h0m0-4h0m0-193h0m0 193h0m1-171h0m0 14h0m0-37h0m0 200h0m0 1h0m0-249h0m1 51h0m0 189h0m0 0h0m0-206h0m0 207h0m0-232h0m0 81h0m0-107h0m0 258h0m0-164h0m0 23h0m0-37h0m1-13h0m0 22h0m0-46h0m0 215h0m0-152h0m0 159h0m0-9h0m0-157h0m0-26h0m0-13h0m0 199h0m0-150h0m0 148h0m0-152h0m1 7h0m0-15h0m0 21h0m0 1h0m0-69h0m0 215h0m0-9h0m0-142h0m0 152h0m0-8h0m0-1h0m0-154h0m0-4h0m1-2h0m0 165h0m0 2h0m0-148h0m0 141h0m0-148h0m0-10h0m0 10h0m1-10h0m0 17h0m0-6h0m0-11h0m0-9h0m0 13h0m0 8h0m0-1h0m0 156h0m0-202h0m0-13h0m0 43h0m1 11h0m0-47h0m0 200h0m0-147h0m0 145h0m0-215h0m0 16h0m0 36h0m0 164h0m0 0h0m0 0h0m1 7h0m0-243h0m0 88h0m0-23h0m0-3h0m0 8h0m0 26h0m1 140h0m0-172h0m0-11h0m0 27h0m0 158h0m0-216h0m0 75h0m1-4h0m0 142h0m0-146h0m0-57h0m0 210h0m0-153h0m0 6h0m0-16h0m0 19h0m0-16h0m1 156h0m0-141h0m0 139h0m0-214h0m0 68h0m1-9h0m0-37h0m0 51h0m0-10h0m0 5h0m0-27h0m0 9h0m0-18h0m0 185h0m1-159h0m0-7h0m0 3h0m0 163h0m1 0h0m0-196h0m0 23h0m0-11h0m0 181h0m0-1h0m0-164h0m0 166h0m0-178h0m1 22h0m0 3h0m0 152h0m0-205h0m0 56h0m0 149h0m0 6h0m0-154h0m1-17h0m0 9h0m0-17h0m0 182h0m0-193h0m0 18h0m0 165h0m0 7h0m0-157h0m0 9h0m0 143h0m0 2h0m0-3h0m1 0h0m0-142h0m0 141h0m0 0h0m0 2h0m0-156h0m0-2h0m1 2h0m0 16h0m0 206h0m0-54h0m0-152h0m0-7h0m0-1h0m0 0h0m0 155h0m0-189h0m0-3h0m1 183h0m0-182h0m0 24h0m0 167h0m0-8h0m1-172h0m0 33h0m0 140h0m0-151h0m0 150h0m0-188h0m0 30h0m1 158h0m0 1h0m0-148h0m0-45h0m0 37h0m0 154h0m0-262h0m0 103h0m0 2h0m0-17h0m0 16h0m0 159h0m0-192h0m1-10h0m0 62h0m0 140h0m0-1h0m0-152h0m0 6h0m1 151h0m0-163h0m0 173h0m0-191h0m0 3h0m0 13h0m0-19h0m0 32h0m0 149h0m0-147h0m0 145h0m0-213h0m0 21h0m0 43h0m0 149h0m1-149h0m0-8h0m0 7h0m0 9h0m0-1h0m0-21h0m0 171h0m0 26h0m0-176h0m0-8h0m1-11h0m0 22h0m0-66h0m0 68h0m0 143h0m0-160h0m0 159h0m0 8h0m0-152h0m0-86h0m1 86h0m0 141h0m0-158h0m0-4h0m0 3h0m0 159h0m0-142h0m0-5h0m0-7h0m0-33h0m1 27h0m0 160h0m0-184h0m0 35h0m0 1h0m0-36h0m0-85h0m0 112h0m0 9h0m1 7h0m0-6h0m0 152h0m0-148h0m0 141h0m0 3h0m0-158h0m0-50h0m0 205h0m0-165h0m0 12h0m1 2h0m0-3h0m0-52h0m0 59h0m0-32h0m0 25h0m0-25h0m0 15h0m0-38h0m0 210h0m0-205h0m0 58h0m0 152h0m0-11h0m0 0h0m0-143h0m0-43h0m1 186h0m0 9h0m0-10h0m0-155h0m0 16h0m0-3h0m0-44h0m1-63h0m0 250h0m0-2h0m0-149h0m0-12h0m0 167h0m0-3h0m0-141h0m1-165h0m0 313h0m0-164h0m0 159h0m0 1h0m0-163h0m0-5h0m0 164h0m0-184h0m0-61h0m0 247h0m0-203h0m1 40h0m0 4h0m0 11h0m0-30h0m0 186h0m0-210h0m0 200h0m0 0h0m0-168h0m0 24h0m1 143h0m0-141h0m0-19h0m0 161h0m0-154h0m0-3h0m0 156h0m0 0h0m0-185h0m0 44h0m0 140h0m1 3h0m0 4h0m0-162h0m0 11h0m0-2h0m0 147h0m0 66h0m0-240h0m0 180h0m0-1h0m0-144h0m1-81h0m0 220h0m0-142h0m0 0h0m0 3h0m0 146h0m0-6h0m0-196h0m0 37h0m1-5h0m0 12h0m0 151h0m0 0h0m0-1h0m0-202h0m0 65h0m0-12h0m0-26h0m0-43h0m0 72h0m0 153h0m1-245h0m0 89h0m0-22h0m0 1h0m0 11h0m0 165h0m0-146h0m0 3h0m0-26h0m1 165h0m0-144h0m0-24h0m0 167h0m0-170h0m0 31h0m0-6h0m0-21h0m0 166h0m1-170h0m0 178h0m0-2h0m0-169h0m0 163h0m0 19h0m0-18h0m0 0h0m0-199h0m0 35h0m1 163h0m0 0h0m0-251h0m0 93h0m0 157h0m1-203h0m0 44h0m0 7h0m0-11h0m0 21h0m0 148h0m1 2h0m0-166h0m0 7h0m0 153h0m0-159h0m0 11h0m0-2h0m0 158h0m0-184h0m0-15h0m0 34h0m0 157h0m0 6h0m0-203h0m0 7h0m1 188h0m0-189h0m0 191h0m0-154h0m0 0h0m0-11h0m0 172h0m0-190h0m0-38h0m0 63h0m0-41h0m1 58h0m0-8h0m0 148h0m0-174h0m0 177h0m0-157h0m0 5h0m0 150h0m0-160h0m1 204h0m0-198h0m0-6h0m0 20h0m0-30h0m0 170h0m0-150h0m0 2h0m0-191h0m0 344h0m0 2h0m0-147h0m1 139h0m0-1h0m0-139h0m0-1h0m1-11h0m0 11h0m0 149h0m0-188h0m0 38h0m0-19h0m0 162h0m0 15h0m0-16h0m1-167h0m0 28h0m0 141h0m0-163h0m0 209h0m0-288h0m0 63h0m0 186h0m0-184h0m0 6h0m1 29h0m0-40h0m0-33h0m0 216h0m0-333h0m0 163h0m0 10h0m0 157h0m0-152h0m1 158h0m0-154h0m0-4h0m0 154h0m0-199h0m0 204h0m0-6h0m1-1h0m0-166h0m0 175h0m0-148h0m0 143h0m0-153h0m0 156h0m0-170h0m0-41h0m0 45h0m0 167h0m0-200h0m0 193h0m0-160h0m1 160h0m0-166h0m0-8h0m0 177h0m0-180h0m0 24h0m1-33h0m0 25h0m0-1h0m0 3h0m0 0h0m0 3h0m0 0h0m0-10h0m1 172h0m0-215h0m0 207h0m0-140h0m0 140h0m0-196h0m0 58h0m1-16h0m0-126h0m0 284h0m0-157h0m0 15h0m0-22h0m0 19h0m0-5h0m1-10h0m0-9h0m0 11h0m0-109h0m0 77h0m0 4h0m0 191h0m0-203h0m0 54h0m0-155h0m0 145h0m0 7h0m0 144h0m1-195h0m0 195h0m0-1h0m0 15h0m0-170h0m0-35h0m1 197h0m0-262h0m0 257h0m0 5h0m0-5h0m0 6h0m0-6h0m0-175h0m1 35h0m0-10h0m0 150h0m0-149h0m0 150h0m0-151h0m1-44h0m0 45h0m0-2h0m0-6h0m0 157h0m0-142h0m0-13h0m0-68h0m0 58h0m1 8h0m0 161h0m0 2h0m0-182h0m1 12h0m0 165h0m0-254h0m0 40h0m0 213h0m0-143h0m0-9h0m0-46h0m0 208h0m0-218h0m0 10h0m0 24h0m0 179h0m0-164h0m0-14h0m0 173h0m0 8h0m0-10h0m1-147h0m0-66h0m0 58h0m0 14h0m0-10h0m0-35h0m0-53h0m0 101h0m0 140h0m0 1h0m0-3h0m0 0h0m0-143h0m0 144h0m1 0h0m0 5h0m0-161h0m0-43h0m0 59h0m0 140h0m0-187h0m0 6h0m1-70h0m0 112h0m0-92h0m0 231h0m0-151h0m0-16h0m0 7h0m1 161h0m0-160h0m0-60h0m0 34h0m0 40h0m0-80h0m0 68h0m0-91h0m0 54h0m1 56h0m0 143h0m0-5h0m0 4h0m0-145h0m0-13h0m0 154h0m0-182h0m0 183h0m1 6h0m0-241h0m0 83h0m0-60h0m0 54h0m0 8h0"/>
<text x="568.9" y="456.3" text-anchor="middle">27,811</text>
<text x="569.2" y="795.2" font-size="20.2" text-anchor="middle">Rep. 2</text>
<rect x="629.7" y="647.4" width="86.8" height="72.3" fill="#EB4F8F"/>
<path transform="scale(0.5)" fill="none" stroke="#EB4F8F" stroke-width="7.2" stroke-linecap="round" d="M1263 1448h0m0-2h0m0-8h0m0-162h0m0-8h0m0 184h0m0-11h0m0-155h0m0 151h0m0 6h0m0-176h0m0 171h0m1 3h0m0-1h0m0 0h0m0-144h0m0 2h0m0 140h0m0-1h0m0 0h0m0-147h0m0 148h0m0-192h0m0 198h0m0-187h0m0 180h0m1 2h0m0-174h0m0 173h0m0-152h0m0 10h0m0-7h0m1-3h0m0 151h0m0-204h0m0 62h0m0-17h0m0 159h0m0 0h0m0 6h0m0-168h0m0 163h0m0-145h0m1-36h0m0 37h0m0 151h0m0-5h0m0 27h0m0-190h0m0-12h0m0 172h0m0-159h0m0-63h0m0 79h0m0-6h0m0 150h0m0-168h0m0 167h0m0 1h0m1-148h0m0-23h0m0-75h0m0 102h0m0 144h0m0-164h0m0 9h0m0-74h0m0 51h0m0 28h0m0-5h0m0-46h0m0 225h0m0-19h0m0 9h0m0-15h0m0 1h0m1 8h0m0-8h0m0 0h0m0-179h0m0-11h0m0 189h0m0 3h0m0 6h0m0-3h0m0-146h0m0-99h0m0 22h0m0 54h0m0 233h0m0-66h0m0-176h0m0 31h0m1-7h0m0 157h0m0-148h0m0 144h0m0-157h0m0-76h0m0 229h0m0 0h0m0-149h0m0 148h0m0-232h0m0 233h0m0-144h0m0 144h0m0-156h0m0 5h0m0 2h0m0-61h0m0 46h0m1 1h0m0-94h0m0 112h0m0-17h0m0-44h0m0 57h0m0 9h0m0 140h0m1-158h0m0 19h0m0 137h0m0 1h0m0-152h0m0 151h0m0-216h0m0 77h0m0-18h0m0-109h0m0 268h0m0-1h0m0 0h0m0 5h0m0 4h0m0-226h0m0 65h0m0 161h0m0-164h0m1 156h0m0-168h0m0 0h0m0 2h0m0 168h0m0-154h0m0-31h0m0 5h0m0-39h0m0 216h0m0-170h0m0 23h0m0-10h0m0 157h0m0 15h0m0-156h0m1-1h0m0 148h0m0-151h0m0 146h0m0 2h0m0-181h0m0 32h0m0 150h0m0-272h0m0 268h0m0-148h0m0-6h0m0-66h0m0 221h0m0 0h0m0-207h0m1 211h0m0-5h0m0-167h0m0 14h0m0-16h0m0 170h0m0-208h0m1 209h0m0-2h0m0-190h0m0 190h0m0-143h0m0 3h0m0 1h0m0 139h0m0-160h0m0 161h0m0-169h0m0-24h0m0 191h0m0-159h0m0 20h0m1-77h0m0 219h0m0-155h0m0-33h0m0 187h0m0-148h0m0 191h0m0-199h0m0 165h0m0-176h0m0 166h0m0-215h0m0 215h0m0-199h0m0 205h0m0-148h0m1-20h0m0-9h0m0-10h0m0 182h0m0-154h0m0 9h0m0-74h0m0 219h0m0 10h0m0-11h0m0-158h0m0 3h0m0-34h0m0 189h0m0-167h0m0 18h0m0 149h0m0-143h0m0-33h0m0 20h0m1 157h0m0-1h0m0-163h0m0 164h0m0-154h0m0 160h0m0-7h0m0-227h0m0 227h0m0-146h0m0-26h0m0 33h0m0 140h0m0-152h0m0 1h0m1 3h0m0-5h0m0 151h0m0-187h0m0 196h0m0 1h0m0-181h0m0 173h0m0-1h0m0-187h0m0 227h0m0-217h0m0 38h0m0 146h0m0 8h0m0-177h0m1 163h0m0-174h0m0 174h0m0 0h0m0-185h0m0 184h0m0-148h0m0-47h0m0 54h0m0 141h0m0-179h0m0 178h0m0-166h0m0 168h0m0 1h0m0-295h0m0 144h0m1 158h0m0-9h0m0-175h0m0 176h0m0 1h0m0-147h0m0 155h0m0-6h0m0-3h0m0 6h0m0-155h0m0 150h0m0 4h0m0 0h0m0-5h0m0-157h0m1 12h0m0-71h0m0 76h0m0 143h0m0-164h0m0 16h0m0 146h0m0-1h0m0-149h0m1-52h0m0 48h0m0-46h0m0 7h0m0 192h0m0 57h0m0-56h0m0-151h0m0 155h0m0-159h0m0-72h0m0 225h0m1 6h0m0-147h0m0 143h0m0 0h0m0-169h0m0 26h0m0 141h0m0 1h0m0 1h0m0-2h0m0 2h0m0 5h0m0-153h0m0-15h0m0-4h0m0 18h0m0 147h0m0-162h0m0-8h0m0 27h0m0 143h0m0-222h0m1 80h0m0 151h0m0-7h0m0 5h0m0-6h0m0 5h0m0-5h0m0-152h0m0 156h0m0-5h0m0-140h0m0-3h0m0 151h0m0-9h0m0-159h0m1 165h0m0-152h0m0 147h0m0 3h0m0-164h0m0 7h0m0 156h0m0-146h0m0-14h0m0 2h0m0 164h0m0-9h0m0 5h0m1-196h0m0 193h0m0 0h0m0 3h0m0 4h0m0-7h0m0-189h0m0-2h0m0 190h0m0-155h0m0-47h0m0 46h0m0 7h0m0 150h0m0 3h0m1-164h0m0 163h0m0-158h0m0 6h0m0-65h0m0 215h0m0 8h0m0-160h0m0 151h0m0-139h0m0 138h0m0 2h0m0-176h0m0 24h0m0 150h0m0-234h0m0 27h0m1 26h0m0 8h0m0-76h0m0 256h0m0-6h0m0-164h0m0 168h0m0-157h0m0 158h0m0-179h0m0-19h0m0 200h0m0-7h0m0-190h0m0-10h0m0-4h0m0 33h0m1 172h0m0-1h0m0 9h0m0-212h0m0 36h0m0 166h0m0-171h0m0 15h0m0 157h0m0 0h0m0-192h0m0 200h0m0-186h0m0 183h0m0-5h0m0 1h0m0-174h0m0 19h0m0 168h0m1-9h0m0-176h0m0-34h0m0 65h0m0 141h0m0-222h0m0 44h0m0 19h0m0 158h0m0-168h0m0-4h0m0 171h0m0-138h0m0 140h0m0-175h0m0 35h0m0 140h0m0-1h0m1-182h0m0-9h0m0 26h0m0-73h0m0 238h0m0 1h0m0 4h0m0-4h0m0-166h0m0 165h0m0-158h0m0-46h0m0 207h0m0-156h0m0-1h0m1-75h0m0 233h0m0-3h0m0-214h0m0 75h0m0-47h0m0-37h0m0 6h0m0 60h0m0 155h0m0 2h0m0-143h0m0 3h0m0 140h0m0 0h0m1-140h0m0-115h0m0 261h0m0-6h0m0-170h0m0-4h0m0 14h0m0 16h0m0 146h0m0-183h0m0 22h0m0 158h0m0-1h0m0 4h0m0-4h0m0-206h0m0 207h0m0 1h0m0 9h0m1-183h0m0 182h0m0-185h0m0 177h0m0 64h0m0-230h0m0 25h0m0 141h0m0 0h0m0-193h0m0 207h0m0-163h0m0 149h0m0 8h0m0-175h0m0 166h0m0-144h0m0 145h0m0 0h0m0-224h0m1 225h0m0 18h0m0-9h0m0-10h0m0-153h0m0 5h0m0 155h0m0 3h0m1-11h0m0-209h0m0 210h0m0-200h0m0 208h0m0-161h0m0 158h0m0-6h0m0-150h0m0 154h0m0-177h0m0 3h0m0 175h0m0-211h0m0 206h0m0-140h0m0 148h0m0-236h0m1 229h0m0 5h0m0-178h0m0 172h0m0-197h0m0 55h0m0 148h0m0-175h0m0 19h0m0-49h0m0 2h0m0 10h0m0-15h0m0 203h0m0 4h0m1-200h0m0 195h0m0-188h0m0 36h0m0 152h0m0-204h0m0 42h0m0 18h0m0 149h0m0-168h0m0 2h0m0 10h0m0 152h0m0-143h0m0 1h0m0-13h0m0-1h0m0-92h0m0 89h0m0-42h0m1-55h0m0 255h0m0-157h0m0 158h0m0 5h0m0-154h0m0-138h0m0 142h0m0-1h0m0 144h0m0 0h0m0 1h0m1-142h0m0 141h0m0 0h0m0-162h0m0-35h0m0 205h0m0-188h0m0 34h0m0-19h0m0 166h0m0-172h0m0 18h0m0 6h0m0-16h0m0 166h0m0-187h0m0 186h0m0 3h0m0-160h0m1 159h0m0-146h0m0 150h0m0-202h0m0-44h0m0 79h0m0 170h0m0-241h0m0 238h0m0-6h0m0-141h0m0-70h0m0 48h0m0 164h0m0-194h0m0-18h0m0 27h0m0 182h0m1-149h0m0-6h0m0 161h0m0-5h0m0-140h0m0 141h0m0 0h0m0 10h0m0-162h0m0 151h0m0 1h0m0-157h0m1 2h0m0-12h0m0 14h0m0-43h0m0 43h0m0 8h0m0-68h0m0 211h0m0 1h0m0 1h0m0-230h0m0 230h0m0 7h0m0-149h0m0-26h0m0 23h0m0-22h0m0 15h0m0 151h0m0-146h0m0-4h0m0-41h0m1 199h0m0-157h0m0 158h0m0-149h0m0-48h0m0 188h0m0 3h0m0-4h0m0 3h0m0-164h0m0-31h0m0 47h0m0-38h0m0 190h0m0 1h0m0-6h0m1-191h0m0 29h0m0 161h0m0 7h0m0-6h0m0-1h0m0-1h0m0 1h0m0 0h0m0-258h0m0 259h0m0-1h0m0 4h0m0-147h0m1 150h0m0-1h0m0-211h0m0 205h0m0 1h0m0-166h0m0 13h0m0-46h0m0 26h0m0 179h0m0-4h0m0-141h0m0-16h0m0 154h0m1-164h0m0 225h0m0-55h0m0-187h0m0 20h0m0 12h0m0 149h0m0-145h0m0-6h0m0-16h0m0 21h0m0 148h0m0 6h0m0 0h0m0-185h0m0 180h0m0-164h0m0 16h0m0-9h0m0-16h0m0 4h0m0 165h0m0-196h0m1 41h0m0 161h0m0-411h0m0 406h0m0 0h0m0-157h0m0 166h0m0-10h0m0 6h0m0-4h0m0-1h0m0-198h0m0 37h0m0 161h0m0-163h0m0 162h0m0 1h0m0-164h0m1-4h0m0 11h0m0 16h0m0 147h0m0 4h0m0-171h0m0-13h0m0 17h0m0 160h0m0-157h0m0-49h0m0 6h0m0 198h0m0 0h0m0-151h0m0 151h0m0-163h0m0 162h0m0-240h0m0 92h0m0 149h0m0 1h0m1 9h0m0-186h0m0 36h0m0 140h0m0-194h0m0 1h0m0-12h0m0 208h0m0-4h0m0-253h0m0 260h0m0-146h0m0-22h0m0-4h0m1-7h0m0 172h0m0-181h0m0 7h0m0 8h0m0 23h0m0 145h0m0-198h0m0 197h0m0-150h0m0 3h0m0-5h0m0 9h0m0 150h0m0-245h0m0 71h0m0 15h0m1 159h0m0-151h0m0-2h0m0-17h0m0 162h0m0-138h0m0 139h0m0-171h0m0 171h0m0-148h0m0 152h0m0-152h0m1 8h0m0-7h0m0 146h0m0 1h0m0-168h0m0 0h0m0 13h0m0 161h0m0-216h0m0 19h0m0 217h0m0-187h0m0-16h0m0 26h0m0 152h0m0 1h0m1-170h0m0 171h0m0-4h0m0-149h0m0 150h0m0 0h0m0 4h0m0-151h0m0 146h0m0-286h0m0 48h0m0 44h0m0 52h0m0-18h0m0 160h0m0-173h0m1-17h0m0-21h0m0 210h0m0 2h0m0-156h0m0 155h0m0-187h0m0-40h0m1 228h0m0 5h0m0-6h0m0 9h0m0-8h0m0-149h0m0 148h0m0-151h0m0-23h0m0 4h0m0 179h0m0-9h0m0-192h0m0 205h0m0-154h0m1 140h0m0-159h0m0-7h0m0 22h0m0 144h0m0 6h0m0-160h0m0 16h0m0-20h0m0-44h0m0 210h0m0-6h0m0-143h0m0 142h0m0-167h0m0 1h0m0-1h0m1-111h0m0 132h0m0 154h0m0-7h0m0-145h0m0 173h0m0-28h0m0-157h0m0-10h0m0 23h0m0-13h0m0 160h0m0 6h0m0-155h0m0-4h0m0 151h0m0-158h0m0-94h0m0 110h0m0-56h0m0 56h0m1-70h0m0 210h0m0-184h0m0 20h0m0 164h0m0 4h0m0-150h0m0-28h0m0 175h0m0 7h0m0-8h0m0-145h0m1 146h0m0 5h0m0 2h0m0-7h0m0 4h0m0-179h0m0 184h0m1-9h0m0-174h0m0 25h0m0-45h0m0 196h0m0-3h0m0 8h0m0-206h0m0 197h0m0-153h0m0-20h0m1 175h0m0-196h0m0 217h0m0-234h0m0 213h0m0-155h0m0 159h0m0-173h0m0 175h0m0-183h0m1-61h0m0 72h0m0 165h0m0 2h0m0 2h0m0-150h0m0-14h0m0-19h0m0 181h0m0-151h0m0 4h0m0-4h0m0 150h0m0 0h0m0 5h0m1-213h0m0 24h0m0 227h0m0-202h0m0 161h0m0-144h0m0 147h0m0-196h0m0 192h0m0-149h0m0 217h0m0-221h0m0 151h0m0-140h0m0 143h0m1-154h0m0-33h0m0 40h0m0 144h0m0 4h0m0-155h0m0-54h0m0 61h0m0-19h0m0 19h0m0-30h0m0 183h0m0-8h0m0-179h0m0 25h0m0 8h0m1-56h0m0 201h0m0-154h0m0-27h0m0-63h0m0 245h0m0 0h0m0-256h0m0 264h0m0-159h0m1-118h0m0 270h0m0-149h0m0-20h0m0 168h0m0-203h0m0-28h0m0 84h0m0 151h0m0-4h0m0-156h0m1 156h0m0-1h0m0-148h0m0 8h0m0-64h0m0 39h0m0-41h0m0 20h0m0 189h0m0-2h0m0-160h0m0-11h0m0 170h0m0-148h0m0 149h0m1 1h0m0-145h0m0-32h0m0-37h0m0 212h0m0-214h0m0 33h0m0-38h0m0 64h0m0-33h0m0 47h0m0-9h0m0-4h0m0 153h0m1-204h0m0 17h0m0 188h0m0-147h0m0-21h0m0 167h0m0 3h0m0-1h0m0 4h0m0-335h0m0 330h0m0 0h0m0-143h0m0 143h0m0 2h0m0-152h0m0 4h0m0 147h0m1 8h0m0-5h0m0-5h0m0-142h0m0 147h0m0 12h0m0-11h0m0-6h0m0 2h0m0-194h0m0 12h0m0-16h0m0 201h0m0-3h0m1-140h0m0 146h0m0-8h0m0 4h0m0-176h0m0 174h0m0-2h0m0-156h0m0-23h0m0 181h0m0-211h0m0 211h0m0 7h0m0-192h0m0 191h0m0-210h0m0 211h0m0-151h0m0 5h0m0-34h0m0-20h0m1 50h0m0-42h0m0 195h0m0-10h0m0-164h0m0 163h0m0-191h0m0 191h0m0-173h0m0 34h0m0-122h0m0 274h0m0-6h0m1-205h0m0 19h0m0 17h0m0 162h0m0 7h0m0-156h0m0 150h0m0 6h0m0-191h0m0 186h0m0 0h0m0-182h0m0 180h0m0-1h0m0-190h0m0 9h0m1 5h0m0 181h0m0 3h0m0 9h0m0-160h0m0-43h0m0 195h0m0-154h0m0-103h0m0 90h0m0 160h0m0 7h0m0-7h0m0-161h0m0-35h0m0 51h0m1-1h0m0 6h0m0-40h0m0-14h0m0 17h0m0 33h0m0-44h0m0 187h0m0 1h0m0-139h0m1 139h0m0-144h0m0-30h0m0 29h0m0 144h0m0-298h0m0 159h0m0 147h0m0-174h0m0 167h0m0 5h0m0-7h0m0-144h0m0 2h0m0 144h0m0-159h0m0 159h0m1-1h0m0-142h0m0 143h0m0 1h0m0-149h0m0-46h0m0 194h0m0 0h0m0-1h0m0 0h0m0 0h0m0 54h0m0-246h0m0 200h0m0-151h0m0 143h0m0 1h0m0-191h0m0 190h0m1-155h0m0 155h0m0-252h0m0 100h0m0 156h0m0-167h0m0 170h0m0-175h0m0 169h0m0 7h0m0-177h0m0 23h0m0 1h0m0 149h0m0-4h0m1-156h0m0 14h0m0 143h0m0-140h0m0-32h0m0-8h0m0-1h0m0 41h0m0-36h0m0-65h0m0 57h0m0-9h0m0 44h0m0 153h0m0 3h0m0-199h0m0 192h0m0-158h0m0 15h0m0-100h0m1 241h0m0 0h0m0 3h0m0-3h0m0 0h0m0-181h0m0 40h0m0-40h0m0 188h0m0-6h0m0-288h0m1 109h0m0 181h0m0 3h0m0-161h0m0-1h0m0 157h0m0-198h0m0 46h0m0 153h0m0-139h0m0-1h0m0-10h0m0 2h0m0 146h0m0-162h0m0-24h0m0-211h0m1 399h0m0-142h0m0-11h0m0-25h0m0 186h0m0-6h0m0 3h0m0-6h0m0 7h0m0-174h0m0-8h0m0-2h0m0 231h0m0-50h0m1-178h0m0 184h0m0-1h0m0-163h0m0 160h0m0-1h0m0-5h0m0 1h0m0 0h0m1 35h0m0-178h0m0-14h0m0 9h0m0-16h0m0 167h0m0 2h0m0-216h0m0 42h0m0 25h0m0 157h0m0-163h0m0-20h0m0 179h0m1-157h0m0 155h0m0 2h0m0-4h0m0-145h0m0-79h0m0 52h0m0-12h0m0-55h0m0 234h0m1 7h0m0 0h0m0-224h0m0 221h0m0-205h0m0 35h0m0-95h0m0 265h0m0-4h0m0 1h0m0-166h0m0 167h0m0-2h0m0-141h0m0 140h0m1 3h0m0-142h0m0-43h0m0 183h0m0-1h0m0 0h0m0-216h0m0 219h0m0-168h0m0 166h0m0 25h0m1-25h0m0-171h0m0 26h0m0-31h0m0 176h0m0 4h0m0-227h0m0 72h0m0-52h0m0-3h0m0 14h0m0 199h0m0-247h0m0 90h0m1 149h0m0-163h0m0 164h0m0-1h0m0-179h0m0-114h0m0 95h0m0 200h0m0 2h0m0-164h0m0 22h0m0 139h0m0 3h0m0-3h0m0 6h0m0-7h0m0-139h0m0 139h0m1-201h0m0 201h0m0-143h0m0 145h0m0 1h0m0-184h0m0 185h0m0-144h0m0 140h0m0 9h0m0-8h0m0-146h0m0 2h0m0-26h0m0-57h0m0 230h0m0-208h0m0 203h0m0-168h0m0 29h0m0-28h0m0-17h0m0 185h0m0 6h0m1-187h0m0 182h0m0 2h0m0-4h0m0-172h0m0 173h0m0-196h0m0 203h0m0-189h0m0-24h0m0 57h0m0 3h0m0 147h0m0 31h0m0-33h0m0 46h0m1-37h0m0-8h0m0-154h0m0-75h0m0 28h0m0 205h0m0-3h0m0-148h0m0 217h0m0-316h0m0 61h0m0-96h0m0 287h0m0-257h0m0 44h0m0 66h0m0 149h0m1-9h0m0-181h0m0 25h0m0 158h0m0-144h0m0 148h0m0-250h0m0 251h0m0-150h0m0-7h0m0-22h0m0 28h0m0-1h0m0 5h0m0 144h0m0-248h0m0 245h0m0-141h0m0 144h0m1-1h0m0-157h0m0 162h0m0-165h0m0 159h0m0-140h0m0-29h0m0 174h0m0-158h0m0-43h0m0 57h0m0-15h0m0 152h0m0-175h0m0 8h0m0 18h0m1-20h0m0 171h0m0-1h0m0-1h0m0-157h0m0-60h0m0-79h0m0 125h0m0 12h0m0 161h0m0-231h0m0 48h0m0 27h0m0 160h0m0-169h0m0-11h0m0 179h0m0-3h0m0 7h0m0-198h0m0 192h0m1-150h0m0-8h0m0 157h0m0 0h0m0 4h0m0 3h0m0-154h0m0 152h0m0 3h0m0-153h0m0-24h0m0 174h0m0-182h0m0-28h0m0 25h0m0 246h0m0-215h0m0 148h0m0 4h0m1-285h0m0 131h0m0-5h0m0 156h0m0-206h0m0 205h0m0-241h0m0-8h0m0 101h0m0-6h0m0 2h0m0-28h0m0 181h0m0-157h0m1 159h0m0-189h0m0 188h0m0 1h0m0-147h0m0-119h0m0 267h0m0 4h0m0-170h0m0 161h0m0-147h0m0 157h0m0-187h0m0 40h0m0 143h0m0-204h0m1 198h0m0 1h0m0-195h0m0 32h0m0 17h0m0 147h0m0-182h0m0 180h0m0 2h0m0-1h0m0-161h0m0 161h0m0 1h0m0-1h0m0 0h0m0-152h0m0 2h0m0-15h0m1 171h0m0 2h0m0-171h0m0 4h0m0-2h0m0-30h0m0 191h0m0 0h0m0-139h0m0 138h0m1-169h0m0 21h0m0 149h0m0-171h0m0-70h0m0 242h0m0 7h0m0-166h0m0-12h0m0-60h0m0 247h0m0-183h0m0 167h0m1 9h0m0-4h0m0 0h0m0-6h0m0-195h0m0 195h0m0-150h0m0 0h0m0 151h0m0-139h0m0-35h0m0 179h0m0-150h0m0-53h0m0 205h0m1-3h0m0-5h0m0 1h0m0-198h0m0 47h0m0 157h0m0-157h0m0-24h0m0 173h0m0-173h0m0-93h0m0 99h0m0 27h0m0 145h0m0-160h0m1-7h0m0 169h0m0-6h0m0 1h0m0-200h0m0 199h0m0 0h0m0 0h0m0-142h0m0 143h0m1 0h0m0-172h0m0 180h0m0-6h0m0-162h0m0 159h0m0-174h0m0 175h0m0 7h0m0-8h0m0-140h0m0-61h0m0 200h0m0-183h0m0 183h0m0-158h0m0 160h0m0 0h0m0-209h0m1 61h0m0 148h0m0-2h0m0 2h0m0-225h0m0 232h0m0-304h0m0 122h0m0-1h0m0 11h0m0 164h0m0 6h0m0-2h0m0 2h0m0-178h0m0 171h0m0-236h0m1 71h0m0 172h0m0-159h0m0 153h0m0 2h0m0-180h0m0 179h0m0-178h0m0 16h0m0-25h0m0 188h0m0-185h0m0-18h0m0 48h0m1-43h0m0 196h0m0-145h0m0 158h0m0-152h0m0-15h0m0 154h0m0 5h0m0-167h0m0-51h0m0 58h0m0-29h0m0 36h0m0-20h0m0 25h0m1 143h0m0 0h0m0-186h0m0 5h0m0 181h0m0-199h0m0 52h0m0-14h0m1 162h0m0-1h0m0 0h0m0-206h0m0 206h0m0 1h0m0-142h0m0 143h0m0-142h0m0 143h0m0 0h0m0 4h0m0-154h0m0-23h0m1 236h0m0-66h0m0-169h0m0 16h0m0 153h0m1-164h0m0 164h0m0-170h0m0 194h0m0-166h0m0-67h0m0 57h0m0 5h0m0 151h0m0 4h0m0-5h0m0-197h0m0 51h0m0 144h0m1-161h0m0 168h0m0-180h0m0 2h0m0 175h0m0 4h0m0-9h0m0-202h0m0-36h0m0 55h0m0 40h0m1-1h0m0 152h0m0-2h0m0-1h0m0 10h0m0-159h0m0-29h0m0 173h0m0-262h0m0 270h0m0-8h0m0-195h0m0 32h0m1 20h0m0 3h0m0 140h0m0-148h0m0 3h0m0 150h0m0-177h0m0 172h0m0-174h0m0 174h0m1-162h0m0-60h0m0 71h0m0 152h0m0 3h0m0-171h0m0 169h0m0-170h0m0-17h0m0 32h0m0 13h0m0 143h0m0-197h0m0 195h0m1-305h0m0 127h0m0 181h0m0-222h0m0 79h0m0-28h0m0 168h0m0 2h0m0-154h0m0-1h0m0-15h0m0 177h0m0-287h0m0 282h0m1-5h0m0 2h0m0-177h0m0 177h0m0 0h0m0-211h0m0 42h0m0 16h0m0-1h0m0 152h0m0-143h0m0 144h0m0 7h0m0-159h0m0 156h0m0-151h0m0-4h0m0 152h0m0-3h0m0-187h0m0-4h0m1-15h0m0 59h0m0 156h0m0-149h0m0 173h0m0-188h0m0-22h0m0-9h0m0 192h0m0 4h0m0-8h0m0-172h0m0 0h0m0 10h0m1-25h0m0 187h0m0 7h0m0 3h0m0-186h0m0 211h0m0-217h0m0-36h0m0 216h0m0-180h0m0 34h0m0 8h0m0-3h0m0 148h0m0-176h0m0-14h0m1 39h0m0 5h0m0-24h0m0 166h0m0 5h0m0-252h0m0 245h0m0-140h0m0 141h0m0-146h0m0-10h0m0 14h0m0-132h0m0 273h0m0-162h0m0-28h0m1 196h0m0-156h0m0 151h0m0 2h0m0-170h0m0-6h0m0 173h0m0 6h0m0-148h0m0 151h0m0-174h0m0 173h0m0-164h0m1-1h0m0-116h0m0 116h0m0 160h0m0-4h0m0 10h0m0-165h0m0-51h0m0 206h0m0 9h0m0-8h0m0-210h0m0 218h0m0-9h0m0 2h0m0-247h0m1 81h0m0 169h0m0-149h0m0 144h0m0-161h0m0-51h0m0 214h0m0-1h0m0 10h0m0-7h0m0-184h0m0 19h0m1 3h0m0-25h0m0-35h0m0 77h0m0 143h0m0 0h0m0-144h0m0 148h0m0-4h0m0 0h0m0-1h0m0-140h0m0-22h0m0 5h0m0-72h0m1-2h0m0 83h0m0-57h0m0 29h0m0 183h0m0-6h0m0 6h0m0-239h0m0 92h0m0 139h0m0 8h0m0-154h0m0-36h0m0 42h0m0-9h0m0 4h0m1 5h0m0-47h0m0-55h0m0 101h0m0 4h0m0 139h0m0-149h0m0-22h0m0 8h0m0 162h0m1-203h0m0 211h0m0-1h0m0-8h0m0-255h0m0 256h0m0-194h0m0 204h0m0 2h0m0-11h0m0-168h0m0 7h0m0 159h0m0-206h0m0 207h0m0-195h0m1-22h0m0 221h0m0 8h0m0-6h0m0-166h0m0 161h0m0-151h0m0 150h0m0-161h0m0-2h0m0 7h0m1 15h0m0-35h0m0 13h0m0 163h0m0 3h0m0-3h0m0-157h0m0 1h0m0-54h0m0-13h0m0 81h0m0-10h0m0-8h0m0 165h0m0-211h0m0 214h0m0-7h0m0-150h0m1 156h0m0-8h0m0 2h0m0 1h0m0-1h0m0 8h0m0-185h0m0-13h0m0 190h0m0-1h0m0 1h0m0-158h0m0 156h0m0-153h0m0 158h0m0-268h0m0 268h0m1-143h0m0-22h0m0 168h0m0-269h0m0 106h0m0-18h0m1 0h0m0 26h0m0-73h0m0 51h0m0 27h0m0 143h0m0-153h0m0 152h0m0-237h0m0 90h0m0 152h0m0-207h0m0 54h0m0-8h0m0 2h0m0-36h0m0-17h0m0 38h0m1 170h0m0 1h0m0-200h0m0 54h0m0 144h0m0-149h0m0-38h0m0 13h0m0 174h0m0 4h0m0-2h0m0-165h0m0 164h0m0 1h0m1-175h0m0 174h0m0 1h0m0 5h0m0-166h0m0 169h0m0-9h0m0-153h0m0 156h0m0-157h0m0 8h0m0 151h0m0 4h0m0-10h0m0-172h0m0 174h0m0-191h0m0 8h0m0 20h0m0-11h0m1 177h0m0-159h0m0-5h0m0 10h0m0 8h0m0-2h0m0 153h0m0-226h0m0 42h0m0 183h0m0-7h0m0-141h0m0-60h0m0 46h0m0 163h0m0-172h0m0 183h0m0-216h0m1 196h0m0-145h0m0 149h0m0-214h0m0 31h0m0 40h0m0-29h0m0 12h0m0-32h0m0 187h0m0 2h0m0 2h0m0-166h0m0-8h0m0 173h0m0-1h0m0 4h0m0-194h0m0 35h0m0 153h0m0-187h0m0 188h0m1 2h0m0-3h0m0 1h0m0-177h0m0 178h0m0-144h0m0 143h0m0-150h0m0 9h0m0 140h0m0 2h0m0 6h0m0-188h0m1 182h0m0 2h0m0-142h0m0 143h0m0-152h0m0-39h0m0 194h0m0-207h0m0 256h0m0-220h0m0 165h0m1-140h0m0-35h0m0-1h0m0 178h0m0-160h0m0 159h0m0-188h0m0 187h0m0 1h0m0 16h0m0-158h0m1 143h0m0-3h0m0 0h0m0-184h0m0 185h0m0-164h0m0 174h0m0-3h0m0-8h0m0-165h0m0 14h0m0 151h0m0-1h0m1 0h0m0 8h0m0-4h0m0-160h0m0-24h0m0 180h0m0-230h0m0 48h0m0-1h0m0 185h0m0-142h0m0-7h0m0 151h0m0-2h0m0 0h0m0-2h0m0 11h0m0-152h0m0-15h0m1 175h0m0-177h0m0 162h0m0-170h0m0 174h0m0-148h0m0-13h0m0-6h0m0 221h0m0-272h0m0 20h0m0 199h0m0-151h0m0 143h0m0 0h0m0-152h0m1 153h0m0-169h0m0 175h0m0-8h0m0-169h0m0-99h0m0 59h0m0 24h0m0 38h0m0-32h0m0 2h0m0-54h0m1-47h0m0 281h0m0-161h0m0 169h0m0-172h0m0 164h0m0-143h0m0-26h0m0 17h0m0-17h0m0 168h0m0 6h0m0-146h0m0-1h0m0-10h0m0 2h0m1 148h0m0 0h0m0-148h0m0 148h0m0-220h0m0-18h0m0 238h0m0 7h0m0-6h0m0-160h0m0 159h0m0-226h0m0 49h0m0 181h0m1-144h0m0 141h0m0-185h0m0 29h0m0 14h0m0-24h0m0-36h0m0 42h0m0 160h0m0-2h0m0 6h0m0-168h0m0 164h0m0-242h0m1 84h0m0-33h0m0-9h0m0 242h0m0-210h0m0 23h0m0 145h0m0-188h0m0 187h0m0 1h0m0 39h0m0-20h0m0-161h0m0 146h0m0-205h0m1 52h0m0 149h0m0-184h0m0-12h0m0 47h0m0 9h0m0-34h0m0-7h0m0 190h0m0-1h0m0-257h0m0 248h0m0 1h0m1-141h0m0 141h0m0 9h0m0-184h0m0 32h0m0 142h0m0-201h0m0 205h0m0-2h0m0-172h0m0 27h0m0 143h0m0-146h0m0-31h0m0 177h0m0-177h0m1-1h0m0 1h0m0-30h0m0 64h0m0-45h0m0 39h0m0-56h0m0 32h0m0-23h0m0 195h0m0-142h0m0 143h0m0 27h0m0-18h0m0-10h0m0-199h0m0 199h0m0-183h0m1 183h0m0 2h0m0-208h0m0-87h0m0 293h0m0 1h0m0-226h0m0 25h0m0 20h0m0 33h0m0-17h0m0 179h0m1-173h0m0 166h0m0-154h0m0 4h0m0 143h0m0 5h0m0-185h0m0 179h0m0-178h0m0 2h0m0 13h0m0 167h0m0-3h0m1-149h0m0-62h0m0 20h0m0-21h0m0 218h0m0-5h0m0-142h0m0-23h0m0 3h0m0 162h0m1-2h0m0-163h0m0 1h0m0 13h0m0-77h0m0 241h0m0-193h0m0 178h0m0-161h0m0 167h0m1 29h0m0-236h0m0-43h0m0 65h0m0 180h0m0 7h0m0-166h0m0 19h0m0-47h0m0 189h0m0-200h0m0 20h0m0 30h0m0 153h0m0-2h0m0 15h0m0-212h0m0 45h0m0 5h0m0-4h0m0 149h0m0 1h0m0-2h0m0-155h0m1 162h0m0-7h0m0-190h0m0 27h0m0-74h0m0 71h0m0 166h0m0-176h0m0-3h0m0 188h0m0-262h0m0 62h0m0 25h0m0 166h0m0-1h0m0-148h0m0-43h0m0 197h0m0-169h0m1-27h0m0 37h0m0-39h0m0 193h0m0-220h0m0 220h0m0-209h0m0 34h0m0 33h0m0-6h0m1 149h0m0-177h0m0 17h0m0 160h0m0-213h0m0 55h0m0-59h0m0 75h0m0 142h0m0 1h0m0-2h0m0-145h0m0 0h0m1-34h0m0 187h0m0-4h0m0-3h0m0-191h0m0 49h0m0 141h0m0-187h0m0 32h0m0 155h0m0 7h0m0-5h0m0-160h0m0-78h0m0 75h0m0 0h0m0-33h0m0-13h0m0 209h0m1 3h0m0-144h0m0-19h0m0 167h0m0-3h0m0-5h0m0-1h0m0-164h0m0 222h0m0-58h0m0-140h0m0-27h0m1 168h0m0 2h0m0-165h0m0 1h0m0 15h0m0 153h0m0-5h0m0 1h0m0-171h0m0 16h0m0 2h0m0 154h0m0-4h0m1-161h0m0 163h0m0-148h0m0 150h0m0-4h0m0-163h0m0 170h0m0-188h0m0 19h0m0-26h0m0 188h0m0-173h0m0-21h0m0 194h0m1-141h0m0-22h0m0-30h0m0 44h0m0 149h0m0 0h0m0-252h0m0 95h0m0 157h0m0 0h0m0-178h0m0 9h0m0 169h0m0-217h0m0 217h0m0-138h0m1-50h0m0 188h0m0-228h0m0 82h0m0 148h0m0-174h0m0-87h0m0 259h0m0 0h0m0-152h0m0 169h0m0-17h0m0-188h0m0 196h0m0-5h0m0-240h0m0 236h0m0-165h0m0 167h0m0-182h0m0 183h0m1-152h0m0 1h0m0-40h0m0 190h0m0-235h0m0 234h0m0 1h0m0-223h0m0 60h0m0 163h0m0-1h0m0-146h0m0 5h0m0-57h0m0 8h0m0-7h0m0 199h0m0-146h0m0-12h0m0 160h0m1-162h0"/>
<text x="673.4" y="456.3" text-anchor="middle">34,679</text>
<text x="673.7" y="795.2" font-size="20.2" text-anchor="middle">Rep. 3</text>
<rect x="90.4" y="415.8" width="645.1" height="353.4" fill="none" stroke="#8C8C8C" stroke-width="1.3"/>
<path d="M113.5 805 C114.5 811 118.5 813 125.5 813 L245.6 813 C251.6 813 254.6 815 255.6 822 C256.6 815 259.6 813 265.6 813 L385.3 813 C392.3 813 396.3 811 397.3 805" fill="none" stroke="#333" stroke-width="1.3"/>
<text x="255.6" y="851.6" font-size="25.2" text-anchor="middle"><tspan font-style="italic">RNF2</tspan> gRNA</text>
<path d="M427 805 C428 811 432 813 439 813 L559 813 C565 813 568 815 569 822 C570 815 573 813 579 813 L699.3 813 C706.3 813 710.3 811 711.3 805" fill="none" stroke="#333" stroke-width="1.3"/>
<text x="569" y="851.6" font-size="25.2" text-anchor="middle"><tspan font-style="italic">EMX1</tspan> gRNA</text>
<text x="22" y="592" font-size="25.2" text-anchor="middle" font-weight="bold" transform="rotate(-90 22 592)">RNA</text>
<text x="45.6" y="592" font-size="25.2" text-anchor="middle" font-weight="bold" transform="rotate(-90 45.6 592)">C-to-U editing (%)</text>
<text x="808" y="403" font-size="33" font-weight="bold">d</text>
<text x="893.8" y="401.3" font-size="25.2"><tspan font-style="italic">RNF2</tspan> gRNA</text>
<text x="893.8" y="791.3" font-size="25.2"><tspan font-style="italic">EMX1</tspan> gRNA</text>
<line x1="908.3" y1="671.8" x2="1169.5" y2="671.8" stroke="#BEBEBE" stroke-width="1.4"/>
<path d="M936.9 671.8V670.3H941V654.6H945.2V590.8H949.3V502.6H953.5V445.5H957.6V427.1H961.8V471.9H965.9V490.7H970.1V527.4H974.2V557.3H978.4V577.5H982.5V598.7H986.7V613.2H990.8V628.4H995V640.1H999.1V642.3H1003.3V651.3H1007.4V653.4H1011.6V658H1015.7V661.3H1019.9V664.7H1024V666.2H1028.2V667.4H1032.3V668.5H1036.5V669.2H1040.6V669.9H1044.8V670.4H1049V670.6H1053.1V670.9H1057.3V671.2H1061.4V671.3H1065.6V671.4H1069.7V671.5H1073.9V671.8 Z" fill="#BEBEBE"/>
<line x1="965.2" y1="415.8" x2="965.2" y2="683.6" stroke="#D4503F" stroke-width="1.5" stroke-dasharray="17.5 18"/>
<line x1="969.7" y1="415.8" x2="969.7" y2="683.6" stroke="#D4503F" stroke-width="1.5"/>
<rect x="895.6" y="415.8" width="286.8" height="267.8" fill="none" stroke="#8C8C8C" stroke-width="1.3"/>
<line x1="892.1" y1="671.8" x2="895.6" y2="671.8" stroke="#333" stroke-width="1.2"/>
<text x="884.9" y="677.3" text-anchor="end">0</text>
<line x1="892.1" y1="607.4" x2="895.6" y2="607.4" stroke="#333" stroke-width="1.2"/>
<text x="884.9" y="612.9" text-anchor="end">1000</text>
<line x1="892.1" y1="543" x2="895.6" y2="543" stroke="#333" stroke-width="1.2"/>
<text x="884.9" y="548.5" text-anchor="end">2000</text>
<line x1="892.1" y1="478.6" x2="895.6" y2="478.6" stroke="#333" stroke-width="1.2"/>
<text x="884.9" y="484.1" text-anchor="end">3000</text>
<line x1="910.5" y1="683.6" x2="910.5" y2="687.1" stroke="#333" stroke-width="1.2"/>
<text x="910.5" y="708.2" text-anchor="middle">0</text>
<line x1="992.1" y1="683.6" x2="992.1" y2="687.1" stroke="#333" stroke-width="1.2"/>
<text x="992.1" y="708.2" text-anchor="middle">20</text>
<line x1="1073.7" y1="683.6" x2="1073.7" y2="687.1" stroke="#333" stroke-width="1.2"/>
<text x="1073.7" y="708.2" text-anchor="middle">40</text>
<line x1="1155.3" y1="683.6" x2="1155.3" y2="687.1" stroke="#333" stroke-width="1.2"/>
<text x="1155.3" y="708.2" text-anchor="middle">60</text>
<text x="1039" y="737.2" font-size="25.2" text-anchor="middle" font-weight="bold">RNA C-to-U editing (%)</text>
<text x="1164.9" y="445.8" font-size="20.2" text-anchor="end">Rep. 1</text>
<text x="823.9" y="551.7" font-size="25.2" text-anchor="middle" font-weight="bold" transform="rotate(-90 823.9 551.7)">number of RNA edits</text>
<line x1="1351.9" y1="671.1" x2="1612.8" y2="671.1" stroke="#BEBEBE" stroke-width="1.4"/>
<path d="M1374.8 671.1V669.1H1378.8V659.6H1382.7V607.2H1386.7V523.9H1390.6V454.6H1394.6V427.5H1398.6V470.5H1402.5V483.9H1406.5V526.8H1410.4V558.7H1414.4V583.9H1418.4V606.9H1422.3V619.5H1426.3V634.3H1430.2V641.7H1434.2V648.4H1438.2V654.3H1442.1V661H1446.1V661H1450V664.7H1454V664.7H1458V667.7H1461.9V667H1465.9V668.7H1469.8V669.1H1473.8V669.9H1477.8V670.2H1481.7V669.9H1485.7V669.6H1489.6V670.5H1493.6V670.6H1497.6V670.8H1501.5V671.1 Z" fill="#BEBEBE"/>
<line x1="1401.5" y1="415.8" x2="1401.5" y2="683.6" stroke="#D4503F" stroke-width="1.5" stroke-dasharray="17.5 18"/>
<line x1="1405.2" y1="415.8" x2="1405.2" y2="683.6" stroke="#D4503F" stroke-width="1.5"/>
<rect x="1339.3" y="415.8" width="286.1" height="267.8" fill="none" stroke="#8C8C8C" stroke-width="1.3"/>
<line x1="1335.8" y1="671.1" x2="1339.3" y2="671.1" stroke="#333" stroke-width="1.2"/>
<text x="1328.6" y="676.6" text-anchor="end">0</text>
<line x1="1335.8" y1="613.6" x2="1339.3" y2="613.6" stroke="#333" stroke-width="1.2"/>
<text x="1328.6" y="619.1" text-anchor="end">1000</text>
<line x1="1335.8" y1="556.2" x2="1339.3" y2="556.2" stroke="#333" stroke-width="1.2"/>
<text x="1328.6" y="561.7" text-anchor="end">2000</text>
<line x1="1335.8" y1="498.8" x2="1339.3" y2="498.8" stroke="#333" stroke-width="1.2"/>
<text x="1328.6" y="504.2" text-anchor="end">3000</text>
<line x1="1335.8" y1="441.3" x2="1339.3" y2="441.3" stroke="#333" stroke-width="1.2"/>
<text x="1328.6" y="446.8" text-anchor="end">4000</text>
<line x1="1350.1" y1="683.6" x2="1350.1" y2="687.1" stroke="#333" stroke-width="1.2"/>
<text x="1350.1" y="708.2" text-anchor="middle">0</text>
<line x1="1427.8" y1="683.6" x2="1427.8" y2="687.1" stroke="#333" stroke-width="1.2"/>
<text x="1427.8" y="708.2" text-anchor="middle">20</text>
<line x1="1505.5" y1="683.6" x2="1505.5" y2="687.1" stroke="#333" stroke-width="1.2"/>
<text x="1505.5" y="708.2" text-anchor="middle">40</text>
<line x1="1583.2" y1="683.6" x2="1583.2" y2="687.1" stroke="#333" stroke-width="1.2"/>
<text x="1583.2" y="708.2" text-anchor="middle">60</text>
<text x="1482.3" y="737.2" font-size="25.2" text-anchor="middle" font-weight="bold">RNA C-to-U editing (%)</text>
<text x="1607.9" y="445.8" font-size="20.2" text-anchor="end">Rep. 2</text>
<text x="1263.9" y="551.7" font-size="25.2" text-anchor="middle" font-weight="bold" transform="rotate(-90 1263.9 551.7)">number of RNA edits</text>
<line x1="1781.1" y1="671.1" x2="2042" y2="671.1" stroke="#BEBEBE" stroke-width="1.4"/>
<path d="M1809.3 671.1V669.2H1813.4V655.8H1817.5V601H1821.6V515H1825.7V454.2H1829.7V427.5H1833.8V472.7H1837.9V493.5H1842V525.8H1846.1V553.8H1850.2V581.7H1854.3V606.9H1858.4V621H1862.5V633.6H1866.6V641H1870.6V649.1H1874.7V655.1H1878.8V658.8H1882.9V661H1887V663.3H1891.1V665.2H1895.2V666.5H1899.3V667.7H1903.4V668.4H1907.5V669.2H1911.5V669.6H1915.6V669.9H1919.7V669.9H1923.8V670.4H1927.9V670.6H1932V670.8H1936.1V670.9H1940.2V671.1 Z" fill="#BEBEBE"/>
<line x1="1837.5" y1="415.8" x2="1837.5" y2="683.6" stroke="#D4503F" stroke-width="1.5" stroke-dasharray="17.5 18"/>
<line x1="1840.9" y1="415.8" x2="1840.9" y2="683.6" stroke="#D4503F" stroke-width="1.5"/>
<rect x="1768.5" y="415.8" width="286.1" height="267.8" fill="none" stroke="#8C8C8C" stroke-width="1.3"/>
<line x1="1765" y1="671.1" x2="1768.5" y2="671.1" stroke="#333" stroke-width="1.2"/>
<text x="1757.8" y="676.6" text-anchor="end">0</text>
<line x1="1765" y1="593.8" x2="1768.5" y2="593.8" stroke="#333" stroke-width="1.2"/>
<text x="1757.8" y="599.3" text-anchor="end">2000</text>
<line x1="1765" y1="516.5" x2="1768.5" y2="516.5" stroke="#333" stroke-width="1.2"/>
<text x="1757.8" y="522" text-anchor="end">4000</text>
<line x1="1765" y1="439.2" x2="1768.5" y2="439.2" stroke="#333" stroke-width="1.2"/>
<text x="1757.8" y="444.7" text-anchor="end">6000</text>
<line x1="1782.8" y1="683.6" x2="1782.8" y2="687.1" stroke="#333" stroke-width="1.2"/>
<text x="1782.8" y="708.2" text-anchor="middle">0</text>
<line x1="1864.6" y1="683.6" x2="1864.6" y2="687.1" stroke="#333" stroke-width="1.2"/>
<text x="1864.6" y="708.2" text-anchor="middle">20</text>
<line x1="1946.4" y1="683.6" x2="1946.4" y2="687.1" stroke="#333" stroke-width="1.2"/>
<text x="1946.4" y="708.2" text-anchor="middle">40</text>
<line x1="2028.2" y1="683.6" x2="2028.2" y2="687.1" stroke="#333" stroke-width="1.2"/>
<text x="2028.2" y="708.2" text-anchor="middle">60</text>
<text x="1911.5" y="737.2" font-size="25.2" text-anchor="middle" font-weight="bold">RNA C-to-U editing (%)</text>
<text x="2037.1" y="445.8" font-size="20.2" text-anchor="end">Rep. 3</text>
<text x="1693.1" y="551.7" font-size="25.2" text-anchor="middle" font-weight="bold" transform="rotate(-90 1693.1 551.7)">number of RNA edits</text>
<line x1="908.3" y1="1060.7" x2="1169.5" y2="1060.7" stroke="#BEBEBE" stroke-width="1.4"/>
<path d="M935.5 1060.7V1059.1H939.5V1055.1H943.5V1023.4H947.6V940.8H951.6V851.6H955.6V817H959.6V844.9H963.6V870.5H967.7V898.9H971.7V933H975.7V959.8H979.7V989.9H983.7V1005.1H987.8V1016.7H991.8V1033.5H995.8V1041.7H999.8V1044.6H1003.8V1049.5H1007.9V1051.3H1011.9V1054.7H1015.9V1055.8H1019.9V1056.9H1023.9V1058H1028V1058.5H1032V1059H1036V1059.5H1040V1059.8H1044V1060H1048.1V1060.2H1052.1V1060.3H1056.1V1060.4H1060.1V1060.7 Z" fill="#BEBEBE"/>
<line x1="964.8" y1="804.6" x2="964.8" y2="1072.5" stroke="#D4503F" stroke-width="1.5" stroke-dasharray="17.5 18"/>
<line x1="968.6" y1="804.6" x2="968.6" y2="1072.5" stroke="#D4503F" stroke-width="1.5"/>
<rect x="895.6" y="804.6" width="286.8" height="267.9" fill="none" stroke="#8C8C8C" stroke-width="1.3"/>
<line x1="892.1" y1="1060.7" x2="895.6" y2="1060.7" stroke="#333" stroke-width="1.2"/>
<text x="884.9" y="1066.2" text-anchor="end">0</text>
<line x1="892.1" y1="1004.9" x2="895.6" y2="1004.9" stroke="#333" stroke-width="1.2"/>
<text x="884.9" y="1010.4" text-anchor="end">1000</text>
<line x1="892.1" y1="949.1" x2="895.6" y2="949.1" stroke="#333" stroke-width="1.2"/>
<text x="884.9" y="954.6" text-anchor="end">2000</text>
<line x1="892.1" y1="893.3" x2="895.6" y2="893.3" stroke="#333" stroke-width="1.2"/>
<text x="884.9" y="898.8" text-anchor="end">3000</text>
<line x1="892.1" y1="837.5" x2="895.6" y2="837.5" stroke="#333" stroke-width="1.2"/>
<text x="884.9" y="843" text-anchor="end">4000</text>
<line x1="910.5" y1="1072.5" x2="910.5" y2="1076" stroke="#333" stroke-width="1.2"/>
<text x="910.5" y="1097.1" text-anchor="middle">0</text>
<line x1="989.8" y1="1072.5" x2="989.8" y2="1076" stroke="#333" stroke-width="1.2"/>
<text x="989.8" y="1097.1" text-anchor="middle">20</text>
<line x1="1069.1" y1="1072.5" x2="1069.1" y2="1076" stroke="#333" stroke-width="1.2"/>
<text x="1069.1" y="1097.1" text-anchor="middle">40</text>
<line x1="1148.4" y1="1072.5" x2="1148.4" y2="1076" stroke="#333" stroke-width="1.2"/>
<text x="1148.4" y="1097.1" text-anchor="middle">60</text>
<text x="1039" y="1126.1" font-size="25.2" text-anchor="middle" font-weight="bold">RNA C-to-U editing (%)</text>
<text x="1164.9" y="834.6" font-size="20.2" text-anchor="end">Rep. 1</text>
<text x="823.9" y="940.5" font-size="25.2" text-anchor="middle" font-weight="bold" transform="rotate(-90 823.9 940.5)">number of RNA edits</text>
<line x1="1351.4" y1="1060.2" x2="1612.8" y2="1060.2" stroke="#BEBEBE" stroke-width="1.4"/>
<path d="M1380.3 1060.2V1059H1384.5V1048.3H1388.6V996.8H1392.8V913.7H1396.9V847H1401.1V816.3H1405.2V859.6H1409.4V884.8H1413.5V927.1H1417.7V952.3H1421.8V980.9H1426V999.7H1430.1V1013.8H1434.3V1024.9H1438.4V1033.1H1442.6V1042H1446.7V1046.7H1450.9V1046.7H1455V1050.5H1459.2V1054.3H1463.3V1055.3H1467.5V1055.3H1471.6V1057.3H1475.8V1058.3H1479.9V1058.6H1484.1V1059H1488.2V1059.3H1492.4V1059.4H1496.5V1059.7H1500.7V1059.9H1504.8V1060.2 Z" fill="#BEBEBE"/>
<line x1="1408.6" y1="804.6" x2="1408.6" y2="1072.5" stroke="#D4503F" stroke-width="1.5" stroke-dasharray="17.5 18"/>
<line x1="1412.6" y1="804.6" x2="1412.6" y2="1072.5" stroke="#D4503F" stroke-width="1.5"/>
<rect x="1339.3" y="804.6" width="286.1" height="267.9" fill="none" stroke="#8C8C8C" stroke-width="1.3"/>
<line x1="1335.8" y1="1060.2" x2="1339.3" y2="1060.2" stroke="#333" stroke-width="1.2"/>
<text x="1328.6" y="1065.7" text-anchor="end">0</text>
<line x1="1335.8" y1="1001.4" x2="1339.3" y2="1001.4" stroke="#333" stroke-width="1.2"/>
<text x="1328.6" y="1006.9" text-anchor="end">1000</text>
<line x1="1335.8" y1="942.5" x2="1339.3" y2="942.5" stroke="#333" stroke-width="1.2"/>
<text x="1328.6" y="948" text-anchor="end">2000</text>
<line x1="1335.8" y1="883.7" x2="1339.3" y2="883.7" stroke="#333" stroke-width="1.2"/>
<text x="1328.6" y="889.2" text-anchor="end">3000</text>
<line x1="1335.8" y1="824.8" x2="1339.3" y2="824.8" stroke="#333" stroke-width="1.2"/>
<text x="1328.6" y="830.3" text-anchor="end">4000</text>
<line x1="1354.4" y1="1072.5" x2="1354.4" y2="1076" stroke="#333" stroke-width="1.2"/>
<text x="1354.4" y="1097.1" text-anchor="middle">0</text>
<line x1="1436.8" y1="1072.5" x2="1436.8" y2="1076" stroke="#333" stroke-width="1.2"/>
<text x="1436.8" y="1097.1" text-anchor="middle">20</text>
<line x1="1519.2" y1="1072.5" x2="1519.2" y2="1076" stroke="#333" stroke-width="1.2"/>
<text x="1519.2" y="1097.1" text-anchor="middle">40</text>
<line x1="1601.6" y1="1072.5" x2="1601.6" y2="1076" stroke="#333" stroke-width="1.2"/>
<text x="1601.6" y="1097.1" text-anchor="middle">60</text>
<text x="1482.3" y="1126.1" font-size="25.2" text-anchor="middle" font-weight="bold">RNA C-to-U editing (%)</text>
<text x="1607.9" y="834.6" font-size="20.2" text-anchor="end">Rep. 2</text>
<text x="1263.9" y="940.5" font-size="25.2" text-anchor="middle" font-weight="bold" transform="rotate(-90 1263.9 940.5)">number of RNA edits</text>
<line x1="1781.5" y1="1060.2" x2="2042" y2="1060.2" stroke="#BEBEBE" stroke-width="1.4"/>
<path d="M1811.5 1060.2V1058.6H1815.8V1039.7H1820.2V969H1824.5V880.3H1828.8V830.7H1833.2V816.3H1837.5V870.7H1841.8V894.7H1846.2V933H1850.5V960.4H1854.9V987.1H1859.2V1005.2H1863.5V1015H1867.9V1027.9H1872.2V1037.2H1876.5V1042.4H1880.9V1048.7H1885.2V1049.4H1889.5V1052.6H1893.9V1054.6H1898.2V1055.3H1902.5V1056.8H1906.9V1056.5H1911.2V1057.5H1915.5V1058.3H1919.9V1058.7H1924.2V1059.2H1928.5V1059.5H1932.9V1059.7H1937.2V1059.9H1941.6V1060.2 Z" fill="#BEBEBE"/>
<line x1="1838.9" y1="804.6" x2="1838.9" y2="1072.5" stroke="#D4503F" stroke-width="1.5" stroke-dasharray="17.5 18"/>
<line x1="1843.1" y1="804.6" x2="1843.1" y2="1072.5" stroke="#D4503F" stroke-width="1.5"/>
<rect x="1768.5" y="804.6" width="286.1" height="267.9" fill="none" stroke="#8C8C8C" stroke-width="1.3"/>
<line x1="1765" y1="1060.2" x2="1768.5" y2="1060.2" stroke="#333" stroke-width="1.2"/>
<text x="1757.8" y="1065.7" text-anchor="end">0</text>
<line x1="1765" y1="1012.5" x2="1768.5" y2="1012.5" stroke="#333" stroke-width="1.2"/>
<text x="1757.8" y="1018" text-anchor="end">1000</text>
<line x1="1765" y1="964.8" x2="1768.5" y2="964.8" stroke="#333" stroke-width="1.2"/>
<text x="1757.8" y="970.3" text-anchor="end">2000</text>
<line x1="1765" y1="917.1" x2="1768.5" y2="917.1" stroke="#333" stroke-width="1.2"/>
<text x="1757.8" y="922.6" text-anchor="end">3000</text>
<line x1="1765" y1="869.4" x2="1768.5" y2="869.4" stroke="#333" stroke-width="1.2"/>
<text x="1757.8" y="874.9" text-anchor="end">4000</text>
<line x1="1765" y1="821.7" x2="1768.5" y2="821.7" stroke="#333" stroke-width="1.2"/>
<text x="1757.8" y="827.2" text-anchor="end">5000</text>
<line x1="1782.8" y1="1072.5" x2="1782.8" y2="1076" stroke="#333" stroke-width="1.2"/>
<text x="1782.8" y="1097.1" text-anchor="middle">0</text>
<line x1="1869.5" y1="1072.5" x2="1869.5" y2="1076" stroke="#333" stroke-width="1.2"/>
<text x="1869.5" y="1097.1" text-anchor="middle">20</text>
<line x1="1956.2" y1="1072.5" x2="1956.2" y2="1076" stroke="#333" stroke-width="1.2"/>
<text x="1956.2" y="1097.1" text-anchor="middle">40</text>
<line x1="2042.9" y1="1072.5" x2="2042.9" y2="1076" stroke="#333" stroke-width="1.2"/>
<text x="2042.9" y="1097.1" text-anchor="middle">60</text>
<text x="1911.5" y="1126.1" font-size="25.2" text-anchor="middle" font-weight="bold">RNA C-to-U editing (%)</text>
<text x="2037.1" y="834.6" font-size="20.2" text-anchor="end">Rep. 3</text>
<text x="1693.1" y="940.5" font-size="25.2" text-anchor="middle" font-weight="bold" transform="rotate(-90 1693.1 940.5)">number of RNA edits</text>
<text x="18" y="1201.3" font-size="33" font-weight="bold">e</text>
<text x="1094.4" y="1201.3" font-size="25.2" text-anchor="middle"><tspan font-style="italic">RNF2</tspan> gRNA</text>
<text x="1094.4" y="1570" font-size="25.2" text-anchor="middle"><tspan font-style="italic">EMX1</tspan> gRNA</text>
<line x1="88.5" y1="1474.9" x2="678.1" y2="1474.9" stroke="#E6E6E6" stroke-width="1.3"/>
<text x="80.5" y="1482.1" text-anchor="end">0</text>
<line x1="88.5" y1="1413.9" x2="678.1" y2="1413.9" stroke="#E6E6E6" stroke-width="1.3"/>
<text x="80.5" y="1421.1" text-anchor="end">20</text>
<line x1="88.5" y1="1352.8" x2="678.1" y2="1352.8" stroke="#E6E6E6" stroke-width="1.3"/>
<text x="80.5" y="1360" text-anchor="end">40</text>
<line x1="88.5" y1="1291.8" x2="678.1" y2="1291.8" stroke="#E6E6E6" stroke-width="1.3"/>
<text x="80.5" y="1299" text-anchor="end">60</text>
<line x1="88.5" y1="1230.7" x2="678.1" y2="1230.7" stroke="#E6E6E6" stroke-width="1.3"/>
<text x="80.5" y="1237.9" text-anchor="end">80</text>
<rect x="89" y="1414.2" width="588.6" height="33.6" fill="#8E1A1F"/>
<path transform="scale(0.5)" fill="none" stroke="#8E1A1F" stroke-width="5.8" stroke-linecap="round" d="M179 2784h0m1 117h0m0-99h0m0 10h0m0 5h0m0-19h0m0 98h0m2-67h0m0-30h0m0 7h0m0-50h0m1-76h0m0 135h0m0 100h0m0-86h0m1-43h0m0-2h0m0 114h0m1-97h0m0 97h0m0-76h0m1-10h0m0 3h0m0-36h0m0 16h0m0-51h0m1 12h0m0-25h0m0 24h0m0 142h0m0-68h0m0 67h0m1 1h0m0-87h0m0 6h0m1 7h0m0 6h0m1-29h0m0 14h0m0 11h0m0 72h0m0-98h0m1 2h0m0-4h0m0 28h0m0-49h0m0 120h0m0-2h0m1-68h0m0 2h0m0-6h0m0-96h0m0 102h0m1-4h0m0-27h0m0 99h0m0-102h0m0 33h0m1-43h0m0 14h0m0 23h0m0-250h0m1 242h0m0-12h0m0 14h0m0 14h0m1-29h0m0 16h0m0 9h0m0-3h0m0-2h0m0-25h0m0 31h0m1 0h0m0-40h0m0 112h0m1 0h0m0-2h0m0-111h0m0 35h0m1 7h0m0-90h0m1 159h0m0 1h0m0-92h0m0-27h0m0 51h0m1-7h0m1 73h0m0-67h0m0-13h0m0-10h0m1 5h0m0 4h0m0-44h0m0 48h0m0-60h0m0 68h0m0 71h0m0-113h0m0 21h0m1-9h0m0-49h0m0 148h0m2-1h0m0-67h0m0 70h0m1-99h0m0 96h0m0-73h0m0-7h0m1-5h0m0 91h0m0-75h0m0 69h0m1-70h0m0-26h0m0 17h0m1 5h0m0 6h0m0-15h0m0 83h0m0-72h0m0 2h0m0 74h0m0-2h0m1-75h0m1 74h0m0-89h0m0 90h0m0-89h0m0 90h0m1-84h0m0 13h0m0 2h0m0-2h0m0-44h0m0 45h0m0-17h0m0 7h0m1 8h0m0 70h0m0-77h0m0-2h0m0 10h0m0-34h0m0 21h0m0 83h0m1-117h0m0 31h0m0-10h0m0 7h0m0-6h0m1-11h0m0-14h0m0 40h0m0 6h0m0-17h0m1 2h0m0-12h0m0 15h0m0 8h0m0 11h0m0-19h0m0 12h0m1 73h0m0-150h0m1 51h0m0 101h0m0 3h0m0-73h0m0-20h0m0-41h0m0 62h0m1-35h0m0 10h0m0 97h0m0-74h0m1-1h0m0 72h0m0-67h0m0-12h0m1 0h0m0-4h0m0-65h0m0 14h0m0 13h0m0-211h0m0 251h0m0-10h0m0-25h0m1 19h0m0 14h0m0 7h0m1 82h0m0-77h0m0 3h0m0 68h0m0-120h0m1 47h0m0 72h0m1-89h0m0 93h0m1-98h0m0-13h0m0 119h0m0-79h0m0-30h0m0-46h0m0 16h0m0 45h0m1 0h0m0 83h0m0-97h0m0 1h0m0 7h0m0 21h0m1-14h0m0 15h0m0-19h0m0-2h0m0 86h0m0-85h0m0 12h0m1-30h0m0-13h0m0 40h0m0 78h0m0-76h0m0-35h0m0 23h0m0 15h0m0 73h0m0-83h0m1-41h0m0 121h0m0-111h0m0-36h0m1 147h0m0-86h0m0 15h0m0 72h0m0-155h0m0 88h0m0-15h0m0 84h0m1-86h0m0 6h0m0-45h0m0 50h0m0 4h0m1-1h0m0 72h0m1-84h0m0-11h0m1 23h0m0 69h0m0-72h0m0 0h0m1 1h0m0-17h0m0 94h0m0-103h0m0 26h0m0 5h0m1-14h0m0-81h0m0 79h0m0 83h0m0-110h0m1 30h0m0 7h0m0-3h0m0 87h0m0-97h0m0-3h0m0 18h0m1-19h0m0 24h0m0-18h0m1 90h0m0-3h0m0-87h0m1-4h0m0 23h0m0-33h0m0 17h0m1 4h0m0-7h0m0 6h0m0-2h0m0 10h0m0 2h0m0-4h0m1-61h0m0 38h0m0 3h0m0 9h0m0 86h0m0-75h0m1-20h0m0-19h0m0-12h0m0 58h0m0-59h0m0 58h0m0-17h0m1 2h0m0 84h0m0-92h0m0-12h0m0 31h0m0-3h0m0-32h0m1 107h0m0-84h0m1-98h0m0 45h0m0 49h0m0 90h0m1-77h0m0 2h0m0 79h0m1-8h0m0-79h0m0-9h0m0 89h0m0-2h0m0 29h0m1-128h0m0 33h0m0-8h0m0-32h0m0 108h0m1-69h0m0-16h0m0 86h0m0-185h0m0 183h0m1-87h0m0 5h0m0 2h0m0-5h0m0 90h0m0-104h0m1 100h0m0-96h0m0 26h0m0-11h0m0-40h0m1 41h0m0 8h0m0-12h0m0-23h0m0 22h0m0 83h0m1-89h0m0-6h0m0 97h0m0-101h0m0 101h0m0-67h0m0-60h0m0-5h0m1 59h0m0-19h0m0 25h0m0-38h0m0 32h0m0-13h0m0-5h0m0 13h0m0-10h0m0-7h0m0 4h0m0-32h0m1 122h0m0-65h0m1-40h0m0 39h0m0-4h0m0-9h0m0 4h0m0 74h0m0-68h0m0-36h0m0-42h0m0 77h0m0-41h0m1 1h0m0 113h0m0-101h0m0 29h0m0-5h0m1-30h0m0 7h0m0 21h0m0 3h0m0 81h0m0-110h0m0-4h0m0 114h0m1-81h0m0-17h0m0 89h0m0-81h0m1 3h0m0-8h0m0 14h0m0-34h0m0-97h0m0 126h0m1-20h0m0 19h0m0 79h0m0-79h0m0-8h0m1 88h0m0-85h0m0 2h0m1-44h0m0 32h0m1 23h0m0 3h0m0-19h0m1-39h0m0 54h0m0-16h0m0 88h0m0-82h0m1 8h0m0 73h0m0 1h0m0-69h0m1-9h0m0-14h0m0 93h0m1-71h0m0 77h0m0-81h0m0-2h0m1-25h0m0 27h0m0 3h0m0-42h0m0 46h0m1-22h0m0 21h0m0 69h0m0-69h0m1 2h0m0-5h0m0-22h0m1 22h0m0-23h0m0 98h0m0-85h0m1-3h0m0 5h0m0 86h0m1-3h0m0-80h0m0 5h0m0 75h0m1 3h0m0-74h0m0-35h0m0-16h0m0 42h0m0 77h0m0-74h0m0-3h0m0-9h0m0 90h0m1-2h0m0-101h0m1 2h0m0 23h0m0 75h0m0-3h0m0-79h0m1-49h0m0 47h0m1 10h0m0 6h0m0-6h0m1-8h0m0 13h0m0-4h0m0-13h0m0-20h0m1 10h0m0 25h0m0-9h0m1-23h0m0 23h0m0-10h0m0 88h0m0 9h0m0-3h0m1 3h0m0-102h0m0-23h0m0 50h0m1 66h0m0-70h0m0-18h0m0 20h0m1 67h0m0-73h0m0-17h0m0 13h0m0 4h0m0-24h0m1 100h0m0-73h0m1-20h0m0 90h0m0-76h0m0-7h0m0-92h0m1 182h0m0-140h0m0 143h0m0-9h0m0-74h0m1-141h0m0 146h0m0-17h0m0 4h0m0 4h0m0 7h0m0 72h0m0-2h0m0-70h0m0-40h0m0 28h0m1 4h0m0-21h0m0 102h0m1-1h0m0 1h0m0-87h0m1 85h0m0-70h0m0-23h0m0 93h0m0-76h0m0-10h0m0-7h0m1 1h0m0 3h0m0-2h0m0 2h0m0-22h0m0 113h0m1-75h0m0-15h0m0 6h0m1 5h0m0 78h0m0 2h0m0-76h0m0-40h0m0 37h0m1-205h0m0 206h0m0-31h0m0 105h0m0-114h0m1 33h0m1 11h0m0-198h0m0 181h0m0-4h0m0 15h0m1 77h0m0-83h0m0 6h0m0-5h0m1-42h0m0 57h0m0-55h0m0 25h0m0 29h0m0-36h0m0 29h0m1 74h0m0 2h0m0-128h0m0 59h0m0-20h0m0 15h0m1 79h0m0-7h0m0-96h0m0 97h0m1-83h0m0 1h0m0-14h0m0-11h0m0 39h0m1-34h0m0-7h0m0-29h0m0 139h0m0-72h0m0-14h0m0-6h0m0-97h0m0 99h0m0 22h0m1-48h0m0 42h0m0-26h0m0 30h0m0-30h0m0 3h0m1-4h0m0 109h0m1-80h0m0-48h0m0 24h0m0 24h0m0-26h0m0 20h0m1 79h0m0-110h0m0 40h0m0-61h0m0 46h0m0 82h0m0-88h0m0 94h0m1-6h0m0-66h0m1-8h0m0-56h0m0 66h0m1-67h0m1 52h0m0-57h0m0 52h0m0-5h0m0 9h0m0-41h0m0 32h0m0-44h0m0 57h0m0-30h0m1 40h0m1 67h0m0-79h0m0 11h0m0-20h0m1 1h0m0 17h0m0-4h0m0-40h0m0-35h0m1 154h0m0-71h0m0-15h0m0 6h0m0 5h0m1-50h0m1-121h0m0 172h0m0-7h0m1 11h0m0-29h0m0-3h0m0 25h0m1-11h0m0 85h0m0-88h0m0 7h0m0-10h0m1 13h0m0-24h0m0-29h0m0 43h0m0 11h0m1-21h0m0 99h0m0-76h0m0-50h0m1 8h0m0 20h0m0 6h0m0 101h0m1-13h0m0-82h0m0 85h0m0-76h0m1 74h0m0-91h0m0 26h0m0-63h0m0 131h0m1-77h0m0 75h0m0-67h0m0-3h0m0-5h0m0 5h0m1-32h0m0 34h0m0-5h0m0-65h0m0 69h0m0-10h0m1-27h0m0-28h0m1 132h0m0-69h0m0 5h0m0-8h0m0 76h0m0-73h0m1 3h0m0-15h0m0 16h0m0-13h0m0-2h0m0-6h0m1 21h0m0-3h0m0-2h0m0 5h0m1-61h0m0 44h0m1-11h0m0 2h0m1 10h0m0-70h0m1 85h0m0 73h0m0-89h0m1-16h0m0 99h0m0-85h0m0 19h0m1-16h0m0 3h0m0-26h0m0-124h0m0 237h0m0-9h0m0-82h0m0 15h0m0-16h0m0 5h0m1-22h0m0 100h0m0-66h0m0-53h0m1 44h0m0 75h0m0-80h0m0 81h0m1-101h0m0 101h0m0 12h0m0-80h0m0 0h0m1-24h0m0 16h0m0 8h0m0 70h0m0-75h0m0-50h0m1 36h0m0 88h0m0-66h0m0 0h0m0-9h0m1-7h0m0 15h0m0-12h0m0-42h0m0 11h0m1 19h0m0 2h0m0 13h0m0-36h0m1 39h0m0 75h0m0-116h0m0-6h0m0 49h0m1-9h0m0-16h0m0-33h0m0 34h0m1 19h0m0 7h0m0-41h0m0 111h0m0-110h0m1 6h0m0 4h0m0-8h0m0 33h0m0-31h0m1 14h0m0-23h0m0 113h0m0-87h0m0-3h0m0 91h0m1-78h0m0-3h0m2-8h0m0-7h0m0 23h0m0-10h0m1-5h0m0 87h0m0 5h0m0-93h0m0-6h0m0 13h0m0 5h0m0-15h0m1-37h0m0 134h0m0-75h0m0-9h0m1 84h0m0-78h0m0-1h0m0-71h0m0 146h0m1-76h0m0 77h0m1-72h0m0-9h0m1-14h0m0 16h0m0-12h0m0 88h0m1 5h0m0-82h0m1-5h0m0-23h0m0-16h0m0-4h0m0 18h0m1 20h0m0 22h0m0-18h0m0-19h0m0-14h0m0 118h0m0-92h0m0 20h0m1-1h0m0-41h0m0 46h0m0 67h0m1 0h0m0-99h0m0 31h0m0-47h0m0 117h0m0-70h0m0-1h0m1-114h0m0 108h0m0-8h0m1-94h0m0 107h0m0-14h0m0 1h0m1-2h0m0 5h0m0-20h0m1 32h0m0-8h0m0-16h0m0 92h0m0 2h0m1-81h0m0 81h0m0-3h0m0-77h0m1-29h0m0 25h0m1-3h0m0 5h0m0 81h0m1-105h0m0 9h0m0 96h0m1-67h0m0-17h0m0-45h0m0 132h0m0-85h0m0-9h0m0 14h0m1-7h0m0 11h0m0-14h0m0 16h0m0-58h0m0 60h0m1-26h0m0 97h0m0-84h0m1 14h0m0-49h0m0 24h0m0 11h0m0-9h0m0-28h0m0 47h0m1-24h0m0 93h0m0-95h0m0 97h0m0-95h0m0 27h0m1 67h0m0-79h0m0-1h0m1 83h0m0-75h0m0 78h0m1-83h0m0 8h0m0-5h0m0 4h0m0 71h0m0-82h0m0 12h0m1 75h0m0-71h0m0-85h0m0 39h0m1 44h0m0 75h0m0-3h0m0-76h0m0-8h0m0-28h0m1-10h0m0 24h0m0 2h0m0-36h0m0 25h0m1 28h0m0 5h0m0 78h0m0-9h0m0-94h0m0 25h0m1-8h0m0 2h0m0-9h0m0 3h0m0-5h0m0 94h0m0-80h0m0 5h0m1-21h0m0 7h0m0 9h0m0 3h0m0-25h0m0 95h0m0-95h0m0-7h0m0 24h0m1-27h0m0 103h0m0-99h0m0-10h0m0 25h0m1 84h0m0-67h0m0-2h0m0 0h0m0-48h0m0 119h0m1-125h0m0 46h0m0-45h0m1 13h0m0 1h0m1 22h0m0-15h0m0 19h0m0 82h0m0-96h0m0-7h0m0 8h0m0 96h0m1 2h0m1-94h0m0-28h0m0-46h0m1 96h0m0-33h0m0-21h0m1 48h0m0-3h0m0 4h0m0-5h0m0 11h0m0-12h0m1-4h0m1-10h0m0-20h0m0 38h0m0 5h0m0 1h0m0-45h0m0 44h0m0-41h0m1 31h0m0 4h0m0-35h0m0 113h0m0-1h0m0-70h0m1-29h0m0 113h0m0-102h0m0 14h0m0 9h0m0-38h0m0 12h0m0-7h0m0 99h0m1-81h0m0 9h0m0 76h0m0-77h0m0 5h0m1 71h0m0-68h0m0 67h0m0-70h0m0 69h0m0-80h0m0 4h0m1 76h0m0-71h0m0-6h0m1-13h0m0-46h0m1 31h0m0 103h0m0-85h0m0-13h0m1 19h0m0 15h0m1-8h0m0 1h0m0-45h0m0 45h0m0-3h0m0 75h0m0-93h0m0 6h0m1 15h0m1-53h0m0 51h0m1-7h0m0 81h0m1-82h0m0 83h0m0-114h0m0 112h0m0-106h0m1 29h0m0-6h0m0 5h0m1 3h0m0-28h0m0 107h0m0 3h0m0-73h0m0-39h0m1 13h0m0 94h0m1 0h0m0-82h0m0-35h0m0 41h0m1-21h0m0 20h0m1 84h0m0-101h0m1-56h0m0-43h0m0 194h0m0-108h0m0 11h0m0-7h0m1 12h0m0 12h0m0 8h0m0 71h0m1-97h0m0 97h0m0-67h0m0 66h0m1 5h0m0-81h0m0 10h0m0-8h0m0-11h0m0-2h0m0-14h0m1 23h0m0-63h0m0 56h0m0 15h0m0-32h0m0 105h0m1-3h0m0-75h0m1-34h0m0 31h0m1 84h0m0-4h0m1 0h0m0-104h0m0 104h0m1-130h0m0 59h0m0 70h0m0-141h0m0 72h0m1-4h0m0 2h0m0 3h0m0-8h0m1-2h0m0-34h0m0 6h0m0 105h0m0-75h0m1-12h0m0 1h0m0 15h0m0-4h0m1-14h0m0 91h0m0-90h0m0 18h0m0-53h0m0 129h0m0-112h0m1 9h0m0 29h0m1 1h0m1-43h0m0-15h0m0 51h0m0-1h0m0 7h0m1 68h0m0-83h0m0 5h0m0 88h0m1-78h0m1-17h0m0-5h0m0 16h0m0 75h0m1-69h0m0 71h0m0-70h0m0 0h0m0-10h0m1 78h0m0-69h0m0-30h0m0 102h0m0-119h0m1 11h0m1 22h0m0-22h0m0 28h0m0 77h0m1-87h0m0 12h0m0-9h0m0 83h0m1-72h0m0 71h0m0-68h0m0-50h0m0 53h0m0-3h0m1 77h0m0-86h0m1-24h0m0 21h0m0 8h0m1-24h0m0 12h0m1 14h0m0 4h0m0-62h0m0 9h0m0 26h0m1 95h0m0-126h0m0 29h0m0-42h0m0 67h0m0-10h0m0 16h0m0-38h0m1 33h0m0 4h0m0-32h0m0 27h0m1 78h0m0-112h0m0-17h0m0 54h0m1-37h0m0-17h0m0 47h0m0-12h0m0 92h0m0 3h0m0-106h0m0 26h0m1-9h0m0 80h0m0-104h0m0 107h0m0-86h0m0 83h0m1-74h0m0-20h0m0 26h0m1 71h0m0-93h0m0 19h0m1 72h0m0-171h0m0 173h0m0 7h0m0-110h0m0 32h0m1-13h0m0 81h0m0-117h0m1 12h0m0-7h0m0 116h0m0-77h0m0-57h0m0 40h0m1 2h0m0 91h0m0-1h0m1 2h0m0-114h0m0 42h0m1-46h0m0 118h0m0-72h0m0-25h0m1 19h0m0-39h0m0 116h0m0-72h0m0 69h0m0 1h0m1-80h0m0 7h0m0-31h0m0 8h0m0 28h0m0-22h0m0 92h0m0-101h0m0 18h0m0 83h0m1-130h0m0 59h0m0-22h0m1-71h0m0 75h0m0-2h0m0 17h0m0-11h0m1 13h0m0-25h0m0 101h0m0-80h0m0 75h0m1-116h0m0-23h0m1 69h0m0-54h0m0 47h0m1 78h0m0-3h0m0-109h0m0 112h0m0-67h0m0-87h0m0 159h0m0-1h0m1-112h0m0 20h0m0 88h0m0-2h0m0-96h0m0 26h0m1-12h0m0-5h0m1 101h0m0-135h0m0 45h0m0-19h0m1 14h0m0 5h0m0 7h0m0-97h0m1 86h0m0-28h0m1 30h0m0 79h0m0-90h0m1 21h0m0-12h0m0 80h0m1-91h0m0 91h0m0-1h0m0 3h0m0-75h0m0-5h0m1 87h0m0-8h0m0-137h0m0 63h0m0-24h0m0 28h0m1-21h0m0 3h0m0 92h0m0-75h0m0-3h0m0 73h0m0-79h0m0-20h0m0 102h0m0-2h0m1-76h0m0 2h0m0 1h0m1 71h0m0-96h0m0-1h0m0 28h0m1 70h0m0-93h0m1 23h0m0-41h0m1 41h0m0-29h0m0 101h0m1-132h0m0 59h0m0 5h0m0 0h0m1-38h0m0 34h0m0-20h0m0-3h0m0 93h0m0 2h0m0-70h0m1-10h0m0-15h0m0 98h0m0-73h0m1 69h0m0-2h0m0 8h0m1-76h0m0-2h0m0 79h0m0-93h0m1 87h0m0-2h0m0-87h0m0 8h0m0-12h0m0-25h0m0 45h0m0-24h0m1 8h0m0 87h0m0 2h0m0-2h0m1-67h0m0-11h0m0 2h0m1-1h0m0 79h0m0-121h0m0 50h0m0-76h0m0-32h0m1 107h0m0 1h0m0-6h0m0 74h0m1-135h0m0 36h0m0 34h0m0-8h0m0-18h0m0 93h0m0 5h0m0-119h0m2 114h0m0-122h0m0 41h0m1-73h0m0 73h0m0 10h0m0-12h0m1 13h0m0-17h0m0-13h0m0-1h0m0-39h0m0 69h0m0 0h0m0 2h0m0 71h0m1-4h0m0-81h0m0 8h0m0 6h0m1 83h0m0-15h0m0-87h0m1 6h0m0 82h0m0-101h0m0 12h0m0 9h0m0 10h0m1 73h0m0-113h0m0 25h0m0-4h0m0-29h0m1 46h0m0-6h0m0-29h0m0 22h0m1 12h0m0 0h0m1 71h0m0-87h0m0 12h0m0 3h0m0 77h0m1-2h0m0-113h0m0 111h0m1 1h0m0-104h0m0 37h0m0-29h0m1 26h0m0 73h0m0-93h0m0-8h0m1 99h0m0-103h0m0 35h0m0-1h0m0-39h0m0 38h0m0-10h0m1-14h0m0-1h0m0 94h0m0-95h0m1-31h0m0 37h0m0 88h0m1-99h0m0 100h0m0 1h0m0-109h0m0 109h0m0-109h0m0-26h0m0 132h0m0-73h0m1-4h0m0 77h0m0-105h0m0 36h0m1-65h0m0 60h0m0 78h0m0-82h0m0-10h0m0 23h0m1 69h0m0-81h0m1 9h0m0-21h0m0-2h0m0 26h0m0-30h0m0 96h0m0-77h0m1-57h0m0 136h0m0-84h0m0 84h0m0-72h0m1-22h0m0 95h0m0-3h0m0-78h0m0-27h0m1 13h0m0-42h0m0 24h0m0 42h0m0-2h0m0-3h0m0-13h0m1 88h0m0-71h0m0 70h0m0-81h0m0-46h0m1 61h0m0 66h0m0-82h0m0 9h0m0-23h0m1 94h0m0-111h0m1 43h0m0-17h0m0 89h0m0-79h0m1 78h0m0-70h0m0 67h0m0-68h0m0 71h0m1-109h0m0-1h0m1-29h0m0 138h0m0-86h0m0-6h0m0 90h0m1 2h0m0-77h0m0 83h0m0-77h0m0-28h0m0 20h0m0-28h0m0 109h0m1-166h0m0 86h0m1 11h0m0-50h0m0 48h0m0-2h0m0 3h0m0-86h0m0 80h0m1-30h0m0 14h0m0-6h0m0 23h0m0-22h0m0 2h0m1-1h0m0-3h0m0 17h0m0 83h0m0 5h0m0-104h0m0 1h0m0-46h0m1 148h0m0-100h0m0 21h0m0 76h0m0-70h0m0-141h0m1 56h0m0 152h0m1-3h0m0-106h0m0-16h0m0 17h0m0 106h0m1-95h0m0 95h0m0-70h0m0-63h0m0 56h0m1 76h0m0-77h0m0 7h0m0 74h0m0-119h0m1 118h0m0-78h0m0-32h0m1-28h0m0 140h0m0-94h0m0 89h0m0-88h0m0 93h0m1-175h0m0 176h0m0-80h0m0 8h0m0 68h0m0-70h0m0 70h0m1 0h0m0-77h0m0-6h0m0 81h0m0-77h0m0-27h0m0 29h0m0-15h0m0 25h0m1-2h0m0-5h0m1-1h0m0-2h0m0-11h0m0 18h0m0-23h0m0 25h0m0 1h0m1-5h0m0-85h0m0 77h0m0 6h0m0 73h0m0-78h0m0 105h0m1-114h0m0 5h0m0 83h0m0-104h0m0 20h0m1 86h0m0-89h0m0 87h0m0-73h0m0-27h0m0 28h0m1-3h0m1 0h0m0 75h0m1-1h0m0 2h0m0-1h0m0-75h0m0 75h0m0 2h0m1-83h0m0 7h0m0-47h0m1 120h0m0-66h0m0 114h0m0-116h0m0-21h0m0 89h0m0-90h0m0 91h0m0-85h0m1 16h0m0-25h0m0-2h0m1 94h0m0-165h0m0 173h0m1-81h0m0 4h0m0-9h0m0 11h0m1 0h0m0-9h0m0-16h0m1-44h0m1 45h0m0 113h0m0-112h0m0-62h0m1 155h0m0-98h0m0 101h0m0-4h0m0-2h0m1-67h0m0 69h0m0-154h0m0 152h0m0-72h0m0-21h0m0 9h0m0-21h0m1 107h0m0 2h0m1-197h0m0 40h0m0 155h0m0-95h0m0 26h0m0-31h0m0-28h0m0 45h0m0 15h0m0-56h0m1 124h0m0-72h0m0-48h0m1 48h0m0 74h0m0-83h0m0 80h0m0-93h0m0-2h0m1-35h0m0 27h0m0 102h0m0-74h0m0-12h0m0 21h0m0 65h0m1-76h0m0 10h0m0-7h0m0-45h0m1 46h0m0-6h0m0 7h0m1-9h0m0-6h0m0-10h0m0-4h0m0 15h0m0-7h0m0 15h0m1-35h0m0 4h0m0 13h0m0 95h0m0-65h0m1-5h0m0 5h0m0-80h0m0-9h0m0 87h0m1-1h0m0 72h0m0-92h0m0 21h0m0-11h0m1-27h0m0 41h0m0 65h0m1-86h0m0-24h0m0-9h0m1 9h0m0 9h0m0 8h0m1-41h0m0 135h0m0-76h0m0-29h0m0 22h0m0 81h0m0-91h0m0-70h0m0 71h0m1 90h0m0 0h0m0 4h0m0-71h0m0-32h0m0 13h0m0 90h0m1-79h0m0 88h0m0-97h0m1 85h0m0 4h0m0-73h0m0 71h0m1-3h0m0-70h0m0 4h0m0 69h0m0-84h0m0 81h0m0-64h0m1 0h0m0-35h0m0 18h0m0-26h0m0 5h0m0 15h0m1 93h0m0-86h0m1 16h0m0-20h0m0 4h0m0 14h0m0-12h0m1 80h0m0-71h0m1-70h0m0 45h0m0 22h0m1-22h0m0 25h0m0 71h0m0 0h0m0-185h0m0 86h0m0-18h0m1 29h0m0 15h0m0-27h0m0 22h0m0 79h0m1-72h0m0-15h0m1-1h0m0-19h0m0 23h0m0 82h0m0-67h0m1-7h0m0-34h0m0 14h0m1 21h0m0-14h0m0 89h0m0-72h0m0-24h0m1 15h0m0 8h0m0-7h0m1 6h0m0-132h0m0 208h0m0-80h0m1 76h0m0-93h0m0 28h0m0-42h0m0 1h0m1 18h0m0 18h0m0-11h0m0 80h0m1-90h0m0-14h0m0 104h0m1-97h0m0 31h0m0-22h0m0 92h0m0-109h0m0 38h0m1 70h0m0-92h0m0-1h0m0 10h0m1 82h0m0-81h0m0 84h0m0-89h0m0-17h0m1 101h0m1-75h0m0-33h0m0 16h0m1 23h0m0 70h0m0-92h0m0 17h0m0-15h0m0 25h0m1-34h0m0 99h0m0-134h0m0 58h0m0 4h0m0 0h0m0 72h0m0 0h0m0-86h0m1 6h0m0-54h0m0 59h0m1 2h0m0 6h0m0 66h0m0-65h0m1 68h0m1-3h0m0-96h0m0-25h0m1 127h0m0-200h0m0 123h0m0-17h0m0 21h0m0-4h0m0-3h0m1 3h0m0 5h0m0-8h0m0 74h0m0 8h0m1-77h0m0-10h0m0 7h0m1 75h0m0-73h0m0-67h0m0 140h0m0-81h0m1-60h0m0 147h0m0-78h0m0-10h0m0-8h0m0 22h0m0-4h0m0 74h0m1-1h0m0-79h0m0-14h0m0 92h0m0-146h0m0 47h0m1 19h0m0 1h0m0-37h0m1 33h0m0 9h0m0 72h0m0-103h0m0 6h0m0 111h0m1-122h0m0 35h0m0-45h0m1 49h0m0-13h0m0 12h0m0-1h0m0-39h0m1 37h0m0 78h0m0-70h0m0-14h0m0 13h0m0-15h0m1 4h0m0 76h0m0-65h0m0-20h0m0 10h0m0 78h0m1-93h0m0 26h0m0-21h0m1-16h0m0 7h0m0 94h0m1-71h0m0-28h0m0 25h0m0-15h0m0-20h0m0 44h0m1-26h0m0-3h0m0-3h0m0 100h0m1-72h0m0 3h0m0-10h0m0 5h0m1 72h0m0-75h0m0 79h0m0-78h0m0 82h0m0-137h0m0 49h0m1 6h0m0 73h0m0-104h0m0 28h0m1 77h0m0-68h0m0-21h0m0 16h0m0 74h0m0-83h0m1-27h0m0-9h0m1 44h0m0-33h0m0 26h0m0 9h0m0 74h0m0-140h0m1 138h0m0-71h0m0-198h0m0 204h0m1-24h0m1 18h0m0 72h0m1-105h0m0-7h0m0 27h0m1 3h0m1 84h0m0 0h0m0-74h0m0-45h0m0 37h0m1-5h0m0-19h0m0 37h0m0-32h0m0 26h0m0 6h0m1-23h0m0 23h0m0 65h0m0-67h0m0-7h0m0-6h0m0 7h0m0-4h0m1 9h0m0 69h0m0-92h0m0 94h0m0-74h0m0 0h0m0-25h0m0-8h0m0 37h0m0 3h0m0-12h0m1-18h0m0 16h0m0 11h0m0 1h0m0 72h0m0-82h0m1 3h0m0 74h0m0-94h0m0 27h0m0-38h0m1 21h0m0-1h0m0 10h0m0-45h0m0 54h0m0-24h0m1-6h0m0 100h0m0-175h0m0 104h0m1-15h0m0-28h0m0 22h0m0-1h0m1-8h0m0 30h0m1 68h0m0-84h0m0 6h0m0 76h0m0-105h0m0 20h0m0 11h0m0-47h0m1 125h0m0-2h0m0-153h0m0 43h0m0 31h0m1 4h0m0-15h0m0 90h0m0-1h0m0-1h0m1 6h0m0-2h0m0-68h0m0 65h0m1-97h0m0 22h0m0 7h0m0 70h0m0-87h0m0 3h0m1-32h0m0-58h0m1 88h0m0 84h0m0-80h0m0 5h0m0 7h0m0-43h0m1 44h0m0-77h0m1 146h0m0-71h0m0-37h0m0 14h0m1-22h0m0 115h0m0-96h0m0 11h0m0 13h0m1-9h0m0 79h0m0-69h0m0 71h0m0-105h0m0 103h0m0-74h0m0-39h0m1 45h0m0 4h0m0 66h0m0-111h0m0 38h0m1-11h0m0-30h0m0 16h0m0 25h0m0-14h0m1 19h0m0-2h0m0-9h0m0-47h0m1-36h0m0 73h0m1 19h0m0 75h0m0-88h0m0-37h0m1 50h0m0-6h0m0-31h0m0-9h0m0 36h0m0 79h0m1 2h0m0-83h0m0 83h0m0-88h0m0 89h0m0-77h0m1-69h0m0 68h0m0-13h0m1 7h0m0 0h0m1 16h0m0-109h0m1 85h0m0-28h0m0 30h0m0 19h0m0-15h0m0 83h0m0-98h0m1 98h0m0-70h0m1-15h0m0 8h0m0-5h0m0 83h0m0-95h0m0 11h0m1 7h0m1-3h0m0-13h0m0 5h0m0 90h0m0-2h0m1-121h0m0 30h0m0 13h0m0 10h0m0-24h0m1 14h0m0-90h0m0 99h0m0-47h0m0 34h0m0 3h0m0-40h0m0 24h0m1 26h0m0-17h0m0 85h0m0-1h0m0 7h0m0-119h0m1 9h0m0 0h0m0-7h0m0-6h0m0 117h0m1-141h0m0 143h0m0-125h0m1 52h0m0 4h0m1 68h0m0-97h0m0 0h0m0 27h0m1-52h0m0 22h0m0 23h0m0 78h0m0 0h0m0-74h0m1 76h0m0-91h0m1 86h0m0 1h0m0-90h0m0 13h0m1-1h0m0-1h0m0 81h0m0-101h0m0 30h0m0-5h0m0 74h0m1-71h0m0-3h0m0-5h0m0 78h0m1 0h0m0-100h0m0 6h0m0-7h0m0 25h0m1-14h0m0 20h0m0-51h0m0 37h0m1-4h0m0 1h0m0 91h0m1-84h0m0 11h0m0 71h0m0-86h0m0 86h0m0-67h0m0-20h0m1 3h0m1-4h0m0 87h0m1-91h0m0 100h0m0-6h0m0-71h0m0-13h0m0-68h0m1 150h0m0-91h0m0 91h0m0-99h0m0 14h0m0-25h0m1 108h0m0-119h0m1-114h0m0 140h0m1-15h0m0 7h0m1 28h0m0 74h0m0-100h0m1 33h0m0-35h0m0 102h0m0-95h0m1 96h0m0-98h0m1 101h0m0-139h0m0 65h0m0-5h0m0 75h0m0-121h0m0 43h0m1 5h0m0-30h0m0 10h0m0-9h0m0 14h0m1 90h0m0-70h0m0-14h0m0 83h0m0-91h0m1 89h0m0-70h0m0-1h0m1-3h0m1-11h0m0-2h0m1 6h0m0 17h0m0-4h0m0-5h0m0 81h0m0-75h0m0-42h0m0 32h0m0-7h0m1-58h0m0 67h0m0 9h0m1-108h0m0 177h0m0-80h0m0 13h0m0 68h0m1-100h0m0 12h0m1 8h0m0 11h0m1-8h0m0 6h0m0-18h0m0-53h0m0 143h0m0-74h0m1 69h0m0-109h0m0 19h0m0 9h0m1 10h0m0-21h0m1 7h0m0 2h0m0-20h0m0 16h0m0 9h0m0 118h0m1-35h0m0-4h0m0-88h0m0-15h0m0-11h0m0-7h0m0 124h0m0-69h0m0-58h0m1 57h0m0-5h0m0 75h0m0-69h0m0-38h0m0 104h0m1-73h0m0-7h0m0 81h0m0-91h0m0-3h0m1 93h0m0 1h0m0-141h0m0 35h0m0 106h0m0-90h0m0 19h0m0-1h0m1-13h0m0-14h0m1 7h0m0-12h0m1 35h0m0-42h0m0 119h0m0-146h0m0 140h0m1-88h0m1 18h0m0 69h0m0-71h0m0-36h0m0 14h0m0-80h0m0 92h0m0-4h0m1 83h0m0-71h0m1 77h0m0-102h0m1 30h0m0-2h0m0 110h0m0-42h0m0-95h0m0 27h0m1-7h0m0 5h0m1 0h0m0 3h0m0-22h0m0-21h0m0 33h0m1-3h0m0 82h0m1-86h0m0 12h0m0-4h0m1 1h0m0-97h0m0 97h0m0 78h0m0-77h0m0-33h0m0 114h0m1-85h0m0 78h0m0-92h0m1 10h0m0 4h0m0-1h0m1 2h0m0 76h0m0-77h0m0-22h0m0 100h0m0-77h0m1-35h0m0-12h0m0 57h0m1-18h0m0 92h0m0-80h0m1 3h0m0-8h0m0 7h0m0 72h0m0-73h0m0-54h0m0 46h0m1 79h0m0-76h0m1-34h0m0 114h0m1-3h0m0-167h0m1 170h0m0-98h0m0 94h0m0-74h0m0-18h0m0 8h0m1-5h0m0 19h0m0 73h0m0 5h0m0-94h0m1 86h0m1-114h0m0 37h0m1 77h0m0 3h0m0-73h0m1-42h0m0 8h0m0-88h0m0 124h0m0 2h0m1-25h0m0 0h0m0 21h0m0-9h0m0-11h0m0 11h0m1-14h0m0 115h0m1-174h0m0 152h0m0-64h0m0-28h0m0 94h0m1-72h0m0 72h0m0-66h0m0-24h0m0-15h0m0 29h0m1-81h0m0 161h0m0-2h0m0-100h0m0 11h0m1 85h0m0-102h0m0 105h0m0-91h0m1-1h0m0 91h0m0-121h0m0 39h0m0-6h0m0-17h0m1 105h0m0 1h0m0-72h0m0-18h0m0 7h0m1 6h0m2 75h0m0 0h0m0-81h0m0-48h0m0 36h0m0 18h0m0 74h0m0 2h0m0-73h0m0-37h0m1 26h0m0 13h0m0 71h0m0-1h0m0 1h0m0-73h0m0 77h0m0-86h0m0 3h0m1 79h0m0-135h0m0-3h0m0 55h0m0 2h0m1 13h0m0-41h0m0 110h0m0-84h0m0-11h0m1-25h0m0 36h0m0 4h0m0-38h0m1 41h0m0-31h0m0 108h0m1-102h0m0 31h0m0-25h0m0 2h0m1 27h0m1-89h0m0 17h0m0 42h0m0 14h0m1 80h0m0-85h0m0 8h0m0 3h0m1-7h0m0 4h0m0 9h0m0 70h0m0-85h0m1 6h0m0 78h0m0-100h0m0 102h0m0-84h0m0 7h0m1-199h0m0 56h0m0 145h0m0-9h0m0 7h0m1 3h0m0-21h0m0 23h0m0-26h0m1 21h0m0 9h0m0 65h0m1-72h0m0 72h0m0 3h0m0-77h0m0 4h0m0-20h0m0-4h0m0 30h0m0-3h0m1 68h0m0-117h0m0 26h0m0 21h0m0-1h0m1-48h0m0 53h0m0-85h0m1 53h0m0 9h0m0 0h0m0-7h0m0 96h0m1-173h0m0 100h0m0-50h0m0-22h0m0 49h0m1 96h0m0-90h0m0 22h0m0-62h0m0 60h0m0 70h0m1-105h0m0 22h0m0 87h0m0-105h0m0 5h0m1 27h0m0 0h0m0-71h0m0 45h0m1 1h0m0-3h0m0 98h0m0-69h0m0-1h0m1-16h0m0-40h0m0 45h0m0-30h0m1-22h0m0 133h0m0-77h0m0-22h0m0 100h0m0-133h0m0 49h0m1 84h0m0-85h0m0 84h0m0 3h0m0-161h0m0-42h0m0 207h0m1-9h0m0-74h0m1-38h0m0 34h0m0 80h0m0 7h0m0-4h0m0-84h0m0 10h0m0 78h0m1-130h0m1 2h0m0 50h0m0-82h0m0 71h0m1 84h0m0-73h0m0-78h0m1 72h0m1-7h0m0-69h0m0 55h0m0-21h0m0 40h0m1-16h0m0 95h0m0-67h0m0-8h0m0-12h0m0 17h0m1-15h0m0 18h0m0-22h0m1 20h0m1-77h0m0 43h0m0-23h0m0 125h0m0-73h0m1-39h0m0 117h0m0-72h0m1 69h0m0-104h0m0 37h0m0 68h0m0-4h0m1-185h0m0 90h0m0 28h0m1-4h0m0 71h0m1-99h0m0-34h0m0 46h0m0-5h0m0 0h0m0 25h0m1-9h0m0 80h0m0-83h0m1 1h0m0 78h0m0-82h0m0 13h0m0 3h0m1 69h0m0-1h0m0-90h0m1 90h0m0-68h0m0-6h0m0-11h0m0-3h0m1 14h0m0 73h0m0-68h0m0-2h0m0-7h0m1 79h0m0-71h0m0-41h0m0 33h0m1 80h0m0-98h0m0-3h0m0 104h0m1-83h0m0 81h0m0-75h0m1-31h0m0 104h0m0-90h0m1 11h0m0-2h0m0 3h0m1-4h0m0 88h0m0-85h0m0-8h0m1-15h0m0 103h0m0-91h0m0-13h0m0 26h0m0-11h0m0 19h0m0-11h0m0-28h0m0-31h0m1 71h0m0 0h0m0-50h0m0 25h0m0 24h0m0-28h0m0-4h0m0 101h0m0-84h0m0 14h0m1 69h0m0-68h0m1-15h0m0 86h0m1-71h0m0-15h0m0-31h0m1 45h0m1-18h0m0-16h0m0 103h0m0-1h0m0-68h0m0 69h0m0-104h0m0 104h0m1-102h0m0 7h0m0 12h0m0-12h0m0 20h0m0-9h0m1 83h0m0 10h0m0-89h0m0 79h0m0-78h0m1 12h0m0-10h0m0-13h0m0-18h0m0 39h0m1 73h0m0-104h0m1 33h0m0-1h0m0 2h0m0-52h0m0 41h0m0-11h0m0 5h0m0 82h0m1-75h0m0-6h0m1-1h0m0 10h0m0 79h0m0-74h0m1-14h0m0-91h0m0 59h0m0 17h0m0 23h0m0-5h0m0-18h0m0 22h0m0 81h0m1-7h0m0-70h0m0 72h0m0-80h0m0-4h0m0 0h0m1-11h0m0-26h0m0 121h0m1-88h0m0 88h0m0-86h0m0-5h0m0-28h0m0 35h0m0-11h0m1-18h0m0 34h0m0-4h0m0 13h0m0 1h0m0 1h0m1-21h0m0-1h0m0 21h0m0-29h0m0 19h0m0-3h0m1 79h0m0-76h0m0 79h0m0-70h0m1 1h0m0 1h0m0 0h0m1-3h0m0 70h0m0-75h0m0 6h0m1 67h0m0-66h0m1-2h0m0-1h0m0-43h0m0 115h0m0-2h0m0 1h0m0 0h0m1 1h0m0 0h0m0-69h0m1 74h0m0-107h0m0 102h0m0-67h0m0 64h0m1-82h0m0-4h0m1 17h0m0 0h0m0-16h0m0 20h0m0-38h0m0 36h0m1-15h0m0 5h0m0-32h0m1 26h0m1-11h0m0 30h0m0-34h0m0 30h0m0 1h0m0-14h0m0 91h0m0-119h0m1 30h0m0 80h0m0-159h0m0 29h0m1 15h0m0 35h0m0 81h0m0-73h0m0 73h0m0-99h0m1 27h0m0-19h0m0 91h0m0-94h0m1-3h0m0 27h0m1 1h0m0 2h0m0 68h0m0-116h0m1 27h0m0 1h0m0 17h0m0-8h0m1-43h0m1 41h0m0-7h0m0 95h0m0-91h0m0-14h0m1 98h0m0-106h0m0 13h0m0-17h0m0-6h0m1 37h0m0-112h0m0 191h0m0-70h0m1 67h0m0 3h0m0-75h0m1-20h0m0 22h0m0 5h0m0-87h0m0 154h0m0-70h0m0-123h0m0 125h0m0-93h0m1 87h0m0-10h0m0-20h0m0 37h0m1 70h0m0-5h0m0 2h0m0-100h0m0-20h0m0 25h0m1 14h0m0 3h0m0 2h0m0 76h0m0-81h0m1 88h0m0-6h0m0-2h0m0-168h0m0 13h0m1 157h0m0-101h0m0 11h0m0 20h0m0 71h0m1-1h0m0-75h0m0-12h0m0 10h0m1-46h0m0 38h0m0-17h0m0 99h0m1 0h0m0 4h0m0-74h0m0-1h0m0 4h0m1 0h0m0-51h0m0 37h0m0 8h0m0-43h0m1 117h0m0 2h0m0-1h0m0-247h0m0 163h0m0-1h0m0 14h0m1-21h0m0-81h0m0 106h0m0-134h0m0 132h0m1-3h0m0 78h0m0-85h0m1-10h0m0 3h0m0 20h0m0 0h0m0-4h0m1-4h0m0-5h0m0-45h0m0 24h0m1 34h0m0-15h0m0-12h0m0 93h0m0-80h0m0-14h0m1 92h0m0 12h0m0-87h0m0-22h0m0 104h0m1-85h0m0 13h0m1-8h0m0 0h0m0 76h0m1-164h0m0 76h0m0-18h0m0 6h0m1 99h0m0 0h0m0-81h0m1 81h0m0-66h0m0 67h0m0-128h0m0 50h0m0 5h0m1-10h0m0-23h0m0 37h0m1-28h0m0-87h0m0 25h0m0 68h0m1 90h0m0-1h0m0-83h0m0-52h0m0 69h0m0-3h0m1 3h0m0-34h0m0 3h0m1 98h0m0-111h0m0 15h0m1 29h0m0-13h0m0 1h0m0-6h0m0 84h0m0-98h0m0 3h0m1 0h0m0-40h0m0 65h0m0 69h0m0 2h0m1-70h0m0 3h0m0-13h0m0 81h0m1 4h0m0-93h0m0-60h0m0 11h0m0 2h0m0 138h0m1-145h0m2 140h0m0-84h0m0-3h0m1-3h0m0-1h0m0 99h0m0 2h0m1-75h0m1-47h0m0 114h0m0-80h0m0 2h0m0-28h0m0-8h0m0 114h0m1-149h0m0 80h0m0 0h0m1 73h0m0-81h0m0 0h0m0-3h0m0-12h0m1 96h0m0-130h0m0 125h0m0-68h0m0-29h0m0 14h0m0 8h0m0 9h0m1-44h0m0 12h0m0 33h0m0-5h0m0 69h0m1-97h0m0 23h0m0 8h0m1-47h0m0 24h0m0 93h0m0-91h0m0-50h0m1 148h0m0-8h0m0-68h0m1 75h0m0-81h0m0 1h0m0-25h0m0-22h0m0 120h0m0-3h0m0-80h0m0 2h0m1 3h0m0 8h0m1-49h0m0 45h0m0-60h0m0 65h0m0-17h0m1 10h0m0 82h0m0-76h0m0 2h0m0 1h0m1 68h0m1-75h0m0-19h0m0 92h0m0 1h0m0-2h0m0-79h0m0 14h0m1-6h0m0 2h0m0-33h0m0 107h0m0-74h0m0-35h0m0 1h0m0-8h0m0 33h0m0 12h0m1-12h0m0 9h0m0-18h0m1-6h0m0 19h0m0 73h0m0 2h0m1-80h0m0 2h0m0 2h0m0 0h0m0-79h0m0 78h0m0 83h0m0-97h0m1 20h0m0 70h0m0-82h0m0 82h0m0-114h0m1 47h0m0-31h0m0 24h0m0 77h0m0-77h0m0 2h0m0 6h0m0-76h0m1 30h0m0 112h0m0-99h0m0 21h0m0 10h0m0-25h0m1-39h0m0 61h0m0-11h0m0-16h0m1 97h0m0-96h0m0 97h0m0-135h0m1 68h0m1-74h0m0 149h0m0-88h0m0 5h0m1 2h0m0-42h0m1 43h0m0 72h0m0-109h0m0 114h0m0-88h0m1 14h0m0-44h0m0 25h0m0 20h0m0 67h0m0-64h0m1-24h0m0 3h0m0 7h0m0 80h0m0-152h0m0 48h0m0 37h0m1-2h0m0-7h0m0 75h0m0-69h0m1-44h0m0 37h0m0 81h0m0-81h0m0-11h0m0-49h0m1 137h0m0-89h0m0 2h0m0 21h0m1-40h0m0-38h0m0 74h0m0-42h0m1 20h0m0-62h0m1 74h0m0 4h0m0-63h0m1 23h0m0 117h0m0-69h0m0-12h0m0 88h0m0-76h0m1-6h0m0-12h0m0-9h0m0-59h0m0 72h0m0 1h0m0 10h0m0-2h0m0-3h0m1-4h0m0 5h0m0 76h0m1-67h0m0-47h0m0 37h0m1-47h0m0 53h0m0-42h0m1 39h0m0 0h0m0 4h0m0 67h0m1-69h0m0 4h0m0-36h0m0 18h0m0 2h0m0 10h0m0-67h0m1 47h0m0 93h0m0-118h0m0 52h0m0-10h0m0-36h0m0 112h0m1-68h0m0-38h0m0 17h0m0 20h0m1-66h0m0 135h0m0-69h0m0-9h0m1 77h0m0-95h0m0 13h0m1 7h0m0 10h0m0-12h0m1-18h0m0-15h0m0 40h0m0-12h0m0 13h0m0-32h0m0 15h0m1 88h0m0 1h0m0-102h0m0-1h0m0 28h0m0 1h0m1-3h0m0 8h0m0-139h0m0 138h0m0-1h0m0-20h0m0 7h0m1-23h0m0 23h0m0-21h0m0 1h0m0 26h0m0 8h0m1-55h0m0 126h0m0-100h0m0 12h0m0 85h0m0-80h0m1 13h0m0 74h0m0-91h0m0 8h0m0-87h0m0 85h0m1 2h0m0-13h0m0-60h0m0 53h0m0 97h0m1-93h0m0 5h0m0 8h0m0 1h0m1 79h0m0-92h0m0-20h0m0 112h0m0-2h0m1-66h0m0-16h0m0-12h0m0 28h0m0-8h0m1 7h0m0-13h0m0-27h0m0 39h0m0-23h0m0 10h0m0-5h0m0-47h0m1 67h0m0-20h0m0 21h0m0-165h0m0 141h0m0-8h0m0 98h0m0-109h0m0 10h0m1 104h0m0-86h0m0 82h0m0-67h0m0-3h0m0-1h0m0-3h0m0-52h0m1 34h0m0 23h0m0-7h0m0-24h0m1 32h0m0-3h0m0-22h0m0-11h0m0 7h0m0 95h0m1-74h0m0 5h0m0-45h0m0 36h0m0 86h0m1-82h0m0 77h0m0-88h0m0 19h0m1-12h0m0 10h0m0-18h0m0 87h0m0-90h0m0-15h0m0-16h0m1 119h0m0 1h0m0-80h0m0 82h0m0-2h0m0-126h0m1 54h0m0 78h0m0-78h0m0-18h0m2 13h0m0-19h0m0 16h0m0 9h0m0-71h0m1 75h0m0-19h0m0-15h0m0 100h0m0 1h0m1-81h0m0 13h0m0-14h0m1 16h0m0-12h0m0 10h0m0 1h0m1-36h0m0 105h0m0-67h0m0-3h0m0 1h0m0-27h0m1 93h0m0 0h0m0-65h0m0-1h0m0-30h0m0-33h0m0 54h0m0 76h0m0-80h0m1 80h0m0-84h0m0 86h0m0-75h0m0-19h0m1 91h0m0-67h0m0 1h0m0-5h0m0-3h0m0-23h0m1 20h0m0-38h0m0 25h0m0 91h0m0-142h0m0 64h0m0-8h0m1-6h0m0-1h0m1-74h0m0 91h0m0-29h0m0 36h0m0 68h0m1-64h0m0 71h0m0-5h0m0 4h0m1-106h0m0 100h0m0-76h0m0 78h0m0 2h0m0-3h0m0-125h0m1 58h0m0-10h0m0-11h0m0 89h0m0-106h0m0 6h0m0 33h0m0-111h0m0 78h0m1 18h0m0 6h0m0-13h0m1 9h0m0-4h0m0-5h0m1 23h0m0 66h0m0-157h0m0 156h0m0-71h0m0 73h0m1-76h0m0 3h0m0-21h0m0 12h0m0-66h0m0 66h0m0 88h0m0-111h0m0-26h0m1 63h0m0-1h0m0 66h0m0-83h0m1 9h0m0-79h0m0 153h0m0 4h0m0-84h0m0 12h0m0-38h0m1 108h0m0-95h0m0-9h0m0 107h0m0-73h0m1 77h0m0-97h0m0 91h0m0-1h0m0-110h0m0 36h0m0 3h0m0-26h0m0 22h0m0 5h0m1-36h0m0-25h0m0 59h0m0-3h0m1-43h0m0 38h0m0 4h0m0-9h0m0 86h0m0-3h0m0-65h0m0-28h0m1 102h0m0-79h0m0 72h0m0-79h0m0 5h0m0-8h0m0-19h0m0 29h0m1-14h0m0-21h0m0 29h0m0-19h0m0-33h0m1-18h0m0 21h0m0 51h0m0 9h0m0-2h0m0-15h0m1-6h0m0-6h0m0 18h0m0 85h0m0-104h0m1 29h0m0-30h0m0 96h0m0-84h0m0 20h0m0 72h0m0-128h0m1 38h0m0 8h0m0-56h0m0 55h0m0 2h0m1 3h0m0-8h0m1 4h0m0 0h0m0-107h0m0 112h0m1 4h0m0-26h0m0 19h0m0-7h0m1 13h0m0-57h0m0 123h0m0-76h0m0-21h0m0 9h0m1 21h0m0-32h0m0 19h0m0 15h0m0-9h0m1-4h0m0 81h0m0-1h0m1 1h0m0-90h0m0-12h0m0-8h0m0 42h0m0-11h0m0 85h0m0-87h0m0-14h0m1 94h0m0-110h0m1 126h0m0-87h0m1-13h0m0 13h0m0-5h0m0-12h0m1 140h0m0-120h0m0-22h0m0 19h0m1-12h0m0 9h0m0-27h0m0 0h0m0 101h0m1-140h0m0 70h0m0-1h0m0-37h0m0 116h0m1-75h0m0-73h0m0-10h0m0 39h0m0 40h0m1-19h0m0 14h0m1 82h0m0 2h0m0-124h0m1 29h0m0-1h0m0 18h0m0-15h0m0 5h0m1-19h0m1-9h0m0 38h0m0-14h0m1 83h0m0 3h0m0-109h0m0 109h0m0-77h0m1 5h0m0-12h0m0-6h0m0-55h0m1 66h0m0 3h0m0-1h0m0 117h0m1-121h0m0-42h0m0 36h0m1 85h0m0-89h0m0 1h0m0-1h0m0 4h0m1 5h0m0-3h0m0-13h0m0-4h0m1 30h0m0-1h0m0-14h0m0-10h0m1-14h0m0-15h0m0 123h0m0 13h0m0-79h0m0-19h0m0 15h0m1-2h0m0-3h0m0-9h0m0 84h0m0-84h0m0 18h0m0-4h0m1 85h0m0-13h0m0-80h0m1 77h0m0 4h0m0-81h0m0-10h0m0 7h0m0-15h0m0 28h0m0 71h0m0-118h0m0 36h0m1-6h0m0-59h0m0 78h0m0-13h0m1-54h0m0 141h0m0-146h0m0 69h0m0 3h0m0-28h0m0 8h0m0-15h0m1 34h0m0 67h0m1-66h0m0 66h0m0-137h0m0 9h0m0 61h0m1 0h0m0 68h0m0 1h0m0-84h0m0 9h0m1-7h0m0 80h0m0-110h0m0 115h0m0-96h0m1 93h0m0-123h0m0 35h0m0 14h0m0-143h0m1 113h0m0 22h0m1-11h0m0-12h0m0-22h0m1 59h0m0-8h0m0 8h0m0 65h0m0-109h0m0 33h0m0 10h0m0 75h0m0-92h0m1 14h0m0-16h0m0-17h0m0 103h0m0-1h0m0-91h0m1 93h0m0-102h0m0 27h0m0-89h0m0 164h0m0-87h0m1 87h0m0-103h0m0 25h0m0 9h0m1-15h0m0 16h0m0-12h0m0 81h0m1-143h0m0 70h0m0 6h0m0-109h0m0 78h0m1 4h0m0-82h0m0 177h0m0-3h0m0-94h0m0 96h0m1-139h0m0 26h0m0 31h0m0 11h0m1-7h0m1 75h0m0-69h0m0 5h0m0-6h0m0-9h0m1-7h0m0 21h0m1-41h0m0 26h0m0 84h0m0-92h0m0 90h0m0 0h0m1 1h0m0-77h0m1-52h0m0 28h0m1-21h0m0 42h0m0 79h0m1-1h0m0-123h0m0 40h0m0 84h0m0-94h0m0 3h0m0 19h0m1 71h0m0-80h0m0-7h0m0-5h0m0 25h0m1-8h0m0-29h0m0 4h0m0-2h0m1 36h0m0 68h0m0-1h0m0-106h0m0 25h0m0 1h0m1-49h0m0 31h0m0 31h0m1-43h0m0 16h0m0 98h0m0-87h0m0 82h0m0-93h0m0 7h0m0 12h0m0-66h0m0 147h0m0 45h0m1-138h0m0 15h0m0 1h0m0 3h0m1-17h0m0 14h0m1 70h0m1-118h0m0 118h0m0-71h0m1 73h0m0-85h0m0-111h0m0 127h0m0 67h0m1-146h0m0-31h0m0 53h0m0 51h0m0-17h0m1 12h0m0 79h0m0-69h0m0 67h0m0-72h0m1 80h0m0-104h0m0 96h0m0-69h0m0-22h0m1 98h0m0-75h0m0 3h0m1 70h0m0-111h0m0 23h0m1 15h0m0-1h0m0-12h0m0 15h0m0-34h0m0 101h0m1-66h0m0-126h0m0 126h0m0-85h0m0 53h0m0 19h0m0 3h0m1 85h0m0-94h0m0 90h0m0-83h0m1 11h0m0-6h0m0 5h0m0 68h0m0-66h0m1-4h0m0 72h0m1-68h0m0-51h0m0-43h0m0 160h0m0-103h0m0 103h0m0-110h0m0 109h0m0-128h0m1-2h0m0 45h0m0 87h0m2-75h0m0 7h0m0 69h0m1-120h0m0 38h0m0-13h0m0-35h0m1 136h0m0-107h0m0 7h0m1-27h0m0 11h0m0 43h0m0-18h0m0 17h0m0 74h0m1-83h0m0-32h0m0 17h0m0 25h0m0-67h0m1-9h0m0 143h0m0-1h0m0-71h0m1-30h0m0 33h0m1-7h0m0-5h0m0 83h0m0-1h0m0-96h0m0 101h0m1-8h0m0 2h0m0-2h0m0-160h0m0 160h0m1-100h0m0 18h0m0 8h0m0-10h0m1 84h0m0-88h0m0-36h0m0 55h0m1 3h0m0-8h0m0-15h0m0 23h0m0-2h0m0-1h0m1-23h0m0-2h0m0 27h0m0-3h0m0-5h0m0-8h0m0 7h0m0 81h0m1-127h0m0 35h0m0 91h0m0-151h0m0 26h0m1 44h0m0-29h0m0 32h0m1-1h0m0-57h0m0 65h0m0-17h0m0 90h0m0-116h0m0-57h0m1 97h0m1-25h0m0 94h0m0-67h0m0-7h0m0-17h0m0 25h0m1-14h0m0 82h0m0-68h0m1-1h0m0-27h0m0-37h0m0 134h0m0 0h0m0-89h0m1 88h0m0-84h0m0 85h0m1-69h0m0-14h0m0-4h0m1 17h0m0-9h0m0 1h0m0-36h0m0-47h0m1 75h0m0-32h0m0 3h0m0 33h0m1 9h0m0-27h0m0 100h0m0-103h0m0 30h0m0-62h0m1 62h0m0 70h0m1 3h0m0-83h0m0-8h0m0-145h0m0 163h0m0-17h0m1 3h0m1 86h0m0-69h0m0 70h0m0-73h0m1 72h0m0-73h0m0 6h0m0-23h0m0-22h0m0 44h0m1 67h0m0-88h0m0 87h0m0 8h0m0-87h0m1 2h0m0-22h0m0 106h0m0-103h0m1-8h0m0 24h0m0-30h0m0 113h0m0 31h0m0-111h0m0-29h0m0 25h0m0 13h0m0-72h0m1 50h0m0 98h0m0-74h0m0-46h0m0 41h0m1 7h0m0 64h0m0-70h0m0 80h0m0-9h0m0-86h0m1 86h0m0-78h0m1-39h0m0 35h0m0-5h0m1 20h0m0-25h0m1 5h0m0 18h0m0 69h0m0-85h0m0 91h0m1-72h0m0-29h0m0 94h0m1-77h0m0-17h0m0 2h0m0 11h0m0-58h0m1 139h0m0-79h0m0-33h0m0-13h0m0 29h0m0 97h0m0-65h0m1-19h0m0 10h0m0 1h0m0-33h0m1 32h0m0-91h0m0 65h0m2 8h0m0 98h0m0 1h0m0-129h0m0 127h0m0-4h0m1-75h0m0 5h0m0-12h0m0-34h0m0-76h0m1 116h0m0 77h0m0 0h0m1-89h0m0-18h0m0 107h0m0 0h0m1-2h0m0 3h0m0-89h0m0 5h0m0 2h0m0 10h0m0-4h0m0 78h0m0-73h0m1 74h0m0-6h0m0-126h0m0 42h0m0-53h0m0 139h0m0-78h0m1-13h0m0-38h0m1 52h0m0 8h0m0-7h0m1-8h0m0 84h0m0-73h0m0 4h0m0-13h0m0 85h0m1-73h0m0-18h0m0 15h0m0-15h0m0-4h0m0-3h0m0 4h0m0 2h0m0 86h0m1-68h0m0 69h0m0-94h0m0 5h0m1 7h0m0 6h0m0-102h0m0 184h0m0-122h0m0-19h0m1 134h0m0-65h0m0-53h0m0 122h0m1-71h0m0-45h0m1 116h0m0-1h0m0-139h0m0 62h0m0 81h0m1-76h0m0 78h0m0-100h0m0-10h0m0 33h0m1-14h0m0 83h0m0-148h0m1 74h0m0 2h0m0-12h0m0 85h0m0-103h0m0 17h0m0 93h0m1-83h0m0-25h0m1 3h0m0-47h0m0 42h0m0 24h0m0-10h0m0-12h0m0 29h0m0 80h0m0-80h0m1-31h0m0 20h0m1-69h0m0 71h0m0-9h0m0 23h0m0-6h0m0 2h0m0-2h0m1 73h0m0 4h0m0 2h0m0-77h0m0 77h0m0-101h0m1-33h0m1 18h0m0 37h0m0-38h0m0 9h0m1 24h0m0 76h0m0-78h0m0 9h0m0-29h0m0 4h0m0 24h0m1-44h0m0 1h0m0-27h0m0 67h0m0-27h0m1 108h0m0-126h0m0 121h0m0-79h0m0 11h0m0 69h0m0-74h0m1-33h0m0 25h0m0-11h0m0-107h0m0 131h0m0-7h0m0-20h0m0 96h0m0-85h0m1 10h0m0 7h0m0-29h0m0 105h0m1-123h0m0 4h0m0 110h0m0-1h0m0-148h0m1 147h0m0 0h0m0-93h0m0 9h0m0 1h0m0 86h0m1-71h0m0-12h0m0 82h0m1-73h0m0 5h0m0 74h0m0-88h0m0-29h0m0-21h0m1 130h0m1 3h0m0 9h0m0-86h0m0-43h0m0 39h0m0 82h0m0-147h0m0 54h0m0 15h0m0 3h0m0 1h0m0-8h0m1-19h0m0 26h0m0-27h0m0-4h0m0 29h0m0 6h0m0-89h0m1 90h0m0 67h0m0 1h0m0-80h0m0 81h0m1-186h0m2 184h0m0-114h0m0 41h0m0-45h0m0 123h0m1-99h0m0 95h0m0-74h0m0 4h0m1 1h0m0-19h0m0-7h0m0-4h0m1 1h0m0 98h0m0-96h0m0 15h0m0-14h0m0 95h0m0-72h0m1-13h0m0 85h0m0-107h0m0 8h0m0 6h0m1 6h0m0-6h0m0 93h0m0-72h0m0 75h0m0-74h0m1 70h0m0-83h0m1 7h0m0 8h0m0 68h0m0-88h0m0-76h0m0 89h0m1 74h0m0-85h0m0 92h0m0-93h0m0 6h0m0 86h0m0-74h0m1-89h0m0 80h0m0-45h0m0 125h0m0-76h0m1 6h0m0 1h0m0-14h0m0 13h0m1 1h0m0 67h0m0-94h0m0 105h0m0-94h0m1 83h0m0-94h0m0 16h0m0 0h0m0-12h0m1 17h0m0-44h0m0 40h0m1-17h0m0 18h0m0 84h0m1-90h0m0 3h0m0 10h0m0 67h0m0-66h0m1 69h0m0-118h0m0 21h0m0 16h0m0-12h0m0 100h0m0-84h0m1 5h0m0 69h0m0-80h0m0 10h0m1-56h0m0 129h0m0-1h0m0-95h0m0 95h0m1-66h0m0-2h0m0-3h0m0-98h0m1 75h0m0 97h0m0-77h0m0-1h0m0-44h0m1 120h0m0-111h0m0 33h0m1-30h0m0 24h0m0 0h0m0-5h0m0-3h0m1-2h0m0 23h0m0-13h0m0 5h0m1 5h0m0 1h0m0-23h0m0 97h0m0-69h0m0 73h0m1-72h0m0-3h0m0-8h0m0 79h0m1-77h0m0 74h0m1-72h0m0-1h0m0 6h0m0 68h0m0-85h0m1-43h0m0 48h0m0 11h0m1-17h0m0-55h0m0 30h0m0 117h0m0-89h0m0-19h0m1 10h0m0 90h0m1-64h0m0-28h0m0-56h0m0 151h0m0-87h0m0 85h0m1-92h0m0 10h0m0 84h0m1-79h0m0-1h0m0 2h0m0 85h0m1-81h0m0-62h0m0 52h0m0 11h0m0-60h0m0 44h0m0 21h0m1 67h0m0-70h0m0 71h0m1-72h0m0-42h0m0 17h0m1-45h0m0 7h0m0 65h0m0 75h0m0-122h0m1 118h0m0-84h0m0-3h0m1 10h0m0 73h0m0 50h0m0-48h0m0 0h0m0-95h0m0 0h0m0-17h0m0 34h0m1 10h0m0-10h0m0-5h0m1 6h0m0-3h0m0 11h0m0 69h0m0-103h0m1 11h0m0 1h0m0-23h0m0 8h0m1 106h0m0-224h0m0 230h0m0-103h0m0 8h0m1 21h0m0 67h0m0-71h0m0 6h0m1-47h0m0 117h0m1-4h0m0-73h0m0 4h0m0-20h0m0-88h0m0 110h0m1-1h0m0 68h0m0 4h0m0-5h0m1-72h0m0 2h0m0 74h0m0-88h0m0 8h0m0 4h0m0-8h0m1 15h0m0 65h0m0 0h0m0-84h0m0-26h0m0 10h0m0 34h0m1-3h0m1 70h0m0-67h0m0-35h0m0 36h0m0-1h0m0-34h0m0 103h0m0-75h0m1-86h0m0 160h0m1-1h0m0-83h0m1 3h0m0 87h0m0-73h0m0-6h0m0-2h0m1-47h0m0 44h0m0-51h0m1 128h0m0-75h0m0-25h0m0 100h0m0-74h0m0-109h0m1 100h0m0 84h0m0-3h0m0-84h0m0 13h0m1-84h0m0 90h0m0-40h0m0 39h0m0 0h0m1-9h0m0 6h0m0-33h0m0-36h0m0 32h0m1 21h0m0 11h0m0 78h0m0-95h0m0-5h0m0 12h0m0 12h0m0-71h0m0 47h0m0 106h0m0-10h0m0-91h0m1 92h0m0 15h0m0-14h0m0-85h0m0 19h0m1 66h0m0 3h0m0-71h0m0-18h0m1 17h0m0-1h0m0-25h0m0 19h0m1 5h0m0-11h0m0 7h0m0-7h0m0 7h0m1-1h0m0-12h0m0-26h0m0 26h0m0-4h0m0 6h0m0-3h0m0 12h0m1-30h0m0 39h0m0 67h0m0-160h0m1 159h0m0-109h0m0 35h0m0 74h0m1-72h0m0-37h0m0 20h0m0 89h0m0-76h0m0 8h0m0-15h0m1-2h0m0 88h0m0-96h0m0-31h0m0 55h0m0 1h0m0-39h0m0 25h0m0-31h0m0 47h0m0-19h0m0-5h0m1 93h0m1-116h0m0 115h0m0-97h0m1 96h0m0-70h0m0-13h0m0 86h0m0-81h0m0 8h0m1 5h0m0-26h0m0-40h0m0 133h0m1-79h0m0-1h0m0 8h0m1 1h0m0 3h0m0-43h0m0 110h0m0 1h0m0-73h0m1-9h0m0 15h0m0-20h0m0 14h0m0-24h0m1-30h0m0 51h0m0 0h0m0-2h0m0 5h0m0 3h0m1-14h0m0 88h0m0-78h0m0-21h0m0 12h0m1-45h0m0 129h0m0-79h0m0 7h0m0-22h0m1-17h0m0 38h0m0-9h0m1 10h0m0-1h0m1 71h0m0-79h0m0 6h0m0-23h0m0 24h0m1-26h0m0 11h0m0 17h0m0 0h0m0-61h0m1 34h0m0 30h0m0-24h0m0 12h0m0 81h0m0 1h0m1-73h0m0 77h0m1-110h0m0 13h0m0 1h0m0 91h0m1-106h0m0 0h0m0 14h0m1 92h0m0-78h0m0 75h0m0-68h0m1-17h0m0-2h0m1 18h0m1-4h0m0-5h0m1 77h0m0 9h0m0-77h0m0-29h0m0 97h0m1-115h0m0 116h0m0-1h0m1-88h0m0 89h0m0-68h0m0 67h0m1-81h0m0 82h0m1-81h0m0-8h0m0-11h0m0 10h0m0 17h0m0 74h0m1 7h0m0-8h0m0-91h0m1-11h0m0 30h0m0-1h0m1-45h0m0-9h0m0 20h0m1 30h0m0 1h0m0 90h0m0-96h0m0 86h0m0-101h0m1 19h0m0 87h0m0-198h0m0 33h0m0 56h0m0 6h0m1 16h0m0 80h0m0-84h0m0-39h0m0 21h0m0 99h0m0 2h0m1-74h0m0-3h0m0 9h0m1-6h0m0 75h0m0-82h0m0 1h0m0-1h0m0-32h0m0 35h0m1 8h0m0-25h0m0 11h0m0 18h0m0-4h0m1-23h0m0 1h0m0 20h0m0 1h0m0-15h0m0 86h0m0-74h0m0 7h0m1 74h0m0-75h0m0 68h0m0-103h0m0-7h0m0 32h0m0 8h0m0-40h0m0 23h0m1 86h0m0 3h0m0-68h0m1-29h0m0 23h0m0-56h0m1 13h0m0 39h0m0-14h0m0 3h0m1 19h0m0-22h0m0 8h0m0 14h0m0 67h0m0 21h0m0-102h0m0 80h0m0-115h0m0 34h0m1 85h0m0-75h0m0-13h0m0 15h0m0 72h0m0-76h0m0-7h0m0 3h0m1 8h0m0 4h0m0-54h0m0 124h0m1 1h0m0-92h0m0 89h0m0 2h0m0-85h0m0-10h0m1 1h0m0-114h0m0 127h0m0 9h0m0-15h0m0-24h0m1 19h0m1 10h0m0 2h0m0-55h0m0 133h0m0-85h0m1 2h0m0 5h0m0 5h0m0-3h0m0-70h0m0 54h0m0 5h0m0 11h0m1 82h0m0-8h0m0-66h0m0-1h0m0-33h0m1 100h0m0-79h0m0-25h0m0 36h0m0-4h0m0-2h0m0-30h0m1-22h0m0 24h0m0 25h0m0-33h0m0 22h0m0 17h0m1-2h0m0-24h0m0 11h0m0 87h0m0-131h0m0 64h0m0 1h0m1-21h0m0-4h0m0 16h0m0 75h0m0-66h0m1-73h0m0 11h0m0 45h0m1-17h0m0 102h0m0 4h0m0-124h0m1 40h0m0-18h0m0 22h0m1 75h0m0-2h0m0-92h0m0 15h0m0-26h0m0 104h0m0-76h0m1-25h0m0-51h0m0 157h0m0-161h0m0 80h0m1-87h0m0 86h0m0 75h0m0-65h0m1-73h0m0 140h0m0-67h0m1 1h0m0-1h0m0-100h0m1 41h0m0 41h0m0 15h0m0-22h0m0 90h0m2 6h0m0-99h0m0 21h0m0 6h0m1-1h0m0-7h0m0-11h0m1 88h0m0-92h0m0-14h0m1 104h0m0-72h0m0 2h0m1-46h0m0 33h0m0 16h0m0-2h0m1 70h0m0-86h0m0 85h0m0-67h0m0-55h0m1 38h0m0-19h0m0-45h0m0 61h0m0 17h0m1-14h0m0 86h0m0-107h0m0-9h0m0 30h0m0 83h0m1-79h0m0 81h0m1-79h0m0 5h0m0 8h0m1 71h0m0-74h0m0-9h0m0 8h0m0-21h0m0 17h0m1 0h0m0 83h0m0-92h0m0-8h0m1-7h0m0 31h0m0-3h0m1-13h0m0 9h0m0-6h0m0 81h0m1-131h0m0 138h0m0-116h0m0 32h0m0-75h0m0 51h0m0 20h0m0 79h0m0-79h0m1 80h0m0-67h0m0-7h0m0 2h0m0-5h0m0-113h0m1 37h0m0 68h0m0 13h0m0 3h0m0-27h0m1 8h0m0-14h0m0 36h0m0-162h0m0 126h0m0 20h0m1-42h0m0 55h0m0 68h0m0-74h0m1-20h0m0 23h0m0-16h0m0 11h0m1-1h0m0-23h0m0-19h0m0-15h0m0 48h0m0 4h0m0-3h0m0-4h0m1-5h0m0 14h0m0-23h0m0-20h0m0 124h0m1-77h0m0 79h0m0-103h0m0 8h0m0 94h0m0-100h0m0 29h0m0-12h0m1 83h0m0-86h0m1 10h0m0 3h0m0-16h0m0 86h0m1-64h0m0-9h0m0 8h0m0-19h0m1 88h0m0-100h0m0 5h0m1-56h0m0 78h0m0 0h0m0 70h0m0-66h0m0-33h0m0 33h0m0-14h0m1 3h0m0-51h0m0 36h0m0 15h0m0 77h0m0-113h0m0 3h0m0 17h0m1 92h0m0-106h0m1 106h0m0-67h0m0 75h0m0-76h0m1-7h0m0-12h0m1 0h0m0 91h0m0-153h0m0 78h0m1-49h0m0 29h0m0 95h0m0-77h0m2-10h0m0-52h0m0 137h0m0-67h0m0 68h0m0-2h0m0-82h0m0 90h0m1-102h0m0-9h0m1 17h0m0 14h0m0 77h0m0-71h0m1-11h0m0-26h0m0 16h0m0 87h0m1-92h0m1-37h0m0 129h0m0-83h0m0 83h0m1-69h0m0-104h0m0 175h0m1-2h0m0-78h0m0 81h0m1-107h0m0 18h0m0 20h0m0 66h0m0 8h0m0-85h0m0 6h0m1 72h0m0-66h0m0-58h0m1 54h0m0 71h0m0-101h0m0-32h0m0 62h0m0 0h0m0 70h0m0-84h0m1 13h0m1 69h0m0-68h0m0-2h0m1 1h0m0-26h0m0-17h0m0 30h0m0-20h0m0 3h0m1 101h0m0-67h0m0-14h0m0-25h0m0 104h0m0-96h0m0 22h0m0 84h0m0-122h0m1 48h0m0-1h0m0-66h0m0 135h0m0-83h0m1 10h0m0-14h0m0 4h0m0 85h0m0-84h0m1 6h0m1-8h0m0 15h0m0-4h0m1 69h0m0 1h0m0-107h0m0 31h0m0 4h0m0-14h0m1 6h0m1 0h0m0-1h0m0 84h0m0-97h0m0 16h0m1 8h0m0-37h0m0 11h0m0 24h0m1-7h0m0-18h0m0 98h0m0-80h0m0 13h0m1-35h0m0 21h0m0-26h0m0-11h0m0 122h0m1-78h0m0 1h0m0 73h0m0-82h0m0 6h0m0 76h0m0-2h0m0-64h0m1-13h0m0 79h0m1-83h0m0 14h0m0 70h0m0-103h0m0 30h0m1-17h0m0-62h0m0 26h0m0 41h0m0 96h0m0-80h0m0-34h0m1 34h0m0-25h0m0 24h0m0-29h0m0 26h0m0-33h0m1 15h0m0 92h0m0-83h0m0-6h0m0 88h0m0 0h0m0-79h0m1-5h0m0-11h0m0 27h0m0-14h0m0 11h0m0 3h0m0-45h0m0 33h0m0 3h0m0-31h0m1-38h0m0 61h0m1 86h0m0-136h0m0 36h0m0 24h0m0 74h0m0-88h0m1 18h0m0-72h0m1 67h0m0 0h0m0-15h0m0 90h0m0-71h0m0-4h0m0 8h0m1 68h0m0-105h0m0-82h0m0 108h0m1 5h0m0 6h0m1-30h0m0-49h0m0 68h0m1 4h0m0-16h0m0 14h0m0-7h0m0-3h0"/>
<line x1="164.2" y1="1219.6" x2="164.2" y2="1485" stroke="#fff" stroke-width="1.8"/>
<line x1="209" y1="1219.6" x2="209" y2="1485" stroke="#fff" stroke-width="1.8"/>
<line x1="255.9" y1="1219.6" x2="255.9" y2="1485" stroke="#fff" stroke-width="1.8"/>
<line x1="279.5" y1="1219.6" x2="279.5" y2="1485" stroke="#fff" stroke-width="1.8"/>
<line x1="318.4" y1="1219.6" x2="318.4" y2="1485" stroke="#fff" stroke-width="1.8"/>
<line x1="353.1" y1="1219.6" x2="353.1" y2="1485" stroke="#fff" stroke-width="1.8"/>
<line x1="379.5" y1="1219.6" x2="379.5" y2="1485" stroke="#fff" stroke-width="1.8"/>
<line x1="406.2" y1="1219.6" x2="406.2" y2="1485" stroke="#fff" stroke-width="1.8"/>
<line x1="426" y1="1219.6" x2="426" y2="1485" stroke="#fff" stroke-width="1.8"/>
<line x1="453.1" y1="1219.6" x2="453.1" y2="1485" stroke="#fff" stroke-width="1.8"/>
<line x1="479.2" y1="1219.6" x2="479.2" y2="1485" stroke="#fff" stroke-width="1.8"/>
<line x1="517.4" y1="1219.6" x2="517.4" y2="1485" stroke="#fff" stroke-width="1.8"/>
<line x1="528.8" y1="1219.6" x2="528.8" y2="1485" stroke="#fff" stroke-width="1.8"/>
<line x1="550.3" y1="1219.6" x2="550.3" y2="1485" stroke="#fff" stroke-width="1.8"/>
<line x1="567.7" y1="1219.6" x2="567.7" y2="1485" stroke="#fff" stroke-width="1.8"/>
<line x1="582.3" y1="1219.6" x2="582.3" y2="1485" stroke="#fff" stroke-width="1.8"/>
<line x1="605.2" y1="1219.6" x2="605.2" y2="1485" stroke="#fff" stroke-width="1.8"/>
<line x1="616.3" y1="1219.6" x2="616.3" y2="1485" stroke="#fff" stroke-width="1.8"/>
<line x1="625" y1="1219.6" x2="625" y2="1485" stroke="#fff" stroke-width="1.8"/>
<line x1="638.2" y1="1219.6" x2="638.2" y2="1485" stroke="#fff" stroke-width="1.8"/>
<line x1="644.8" y1="1219.6" x2="644.8" y2="1485" stroke="#fff" stroke-width="1.8"/>
<line x1="652.1" y1="1219.6" x2="652.1" y2="1485" stroke="#fff" stroke-width="1.8"/>
<rect x="88.5" y="1218.6" width="589.6" height="267.4" fill="none" stroke="#8C8C8C" stroke-width="1.3"/>
<text x="131.2" y="1507.5" text-anchor="middle">1</text>
<text x="301" y="1507.5" text-anchor="middle">5</text>
<text x="437.5" y="1507.5" text-anchor="middle">10</text>
<text x="559.7" y="1507.5" text-anchor="middle">15</text>
<text x="632.6" y="1507.5" text-anchor="middle">20</text>
<text x="668.4" y="1507.5" text-anchor="middle">X</text>
<text x="383.3" y="1528.3" text-anchor="middle">Chromosome</text>
<text x="108.5" y="1253.6">n = 28,197</text>
<text x="656.1" y="1253.6" font-size="20.2" text-anchor="end">Rep. 1</text>
<text x="21.5" y="1352.3" font-size="25.2" text-anchor="middle" font-weight="bold" transform="rotate(-90 21.5 1352.3)">RNA</text>
<text x="45.2" y="1352.3" font-size="25.2" text-anchor="middle" font-weight="bold" transform="rotate(-90 45.2 1352.3)">C-to-U editing (%)</text>
<line x1="799.7" y1="1474.9" x2="1389.2" y2="1474.9" stroke="#E6E6E6" stroke-width="1.3"/>
<text x="790.7" y="1482.1" text-anchor="end">0</text>
<line x1="799.7" y1="1413.9" x2="1389.2" y2="1413.9" stroke="#E6E6E6" stroke-width="1.3"/>
<text x="790.7" y="1421.1" text-anchor="end">20</text>
<line x1="799.7" y1="1352.8" x2="1389.2" y2="1352.8" stroke="#E6E6E6" stroke-width="1.3"/>
<text x="790.7" y="1360" text-anchor="end">40</text>
<line x1="799.7" y1="1291.8" x2="1389.2" y2="1291.8" stroke="#E6E6E6" stroke-width="1.3"/>
<text x="790.7" y="1299" text-anchor="end">60</text>
<line x1="799.7" y1="1230.7" x2="1389.2" y2="1230.7" stroke="#E6E6E6" stroke-width="1.3"/>
<text x="790.7" y="1237.9" text-anchor="end">80</text>
<rect x="800.2" y="1414.2" width="588.5" height="33.6" fill="#8E1A1F"/>
<path transform="scale(0.5)" fill="none" stroke="#8E1A1F" stroke-width="5.8" stroke-linecap="round" d="M1601 2827h0m1-9h0m0-4h0m0 85h0m1-75h0m0-43h0m0 33h0m0 16h0m0-21h0m0-74h0m1 92h0m0-42h0m0 7h0m0 35h0m1-50h0m0-5h0m0 124h0m0-88h0m0 4h0m0-2h0m1 9h0m0 8h0m0-24h0m0 9h0m1-4h0m0 6h0m0-69h0m1 82h0m0 70h0m0-74h0m0-12h0m1-23h0m0 25h0m0 83h0m0-86h0m0-36h0m0-10h0m0 136h0m1-152h0m0 51h0m0-71h0m1 171h0m0-5h0m1-92h0m0 2h0m1 96h0m0-120h0m0 34h0m0 11h0m0-79h0m0-71h0m1 137h0m0-14h0m0 15h0m0-4h0m0 3h0m0 84h0m0-71h0m1-8h0m0 79h0m0-76h0m0-26h0m0 104h0m0-68h0m0 65h0m0-81h0m0 6h0m1 8h0m0-24h0m0-50h0m0 61h0m0 9h0m0-11h0m1 13h0m0-7h0m0-12h0m1 6h0m0 81h0m0-93h0m0-2h0m0 30h0m0-17h0m1 6h0m0-18h0m0-17h0m0 40h0m0 6h0m0-25h0m0-5h0m0 12h0m0-5h0m1 90h0m0-69h0m0-50h0m1 29h0m0-103h0m0 125h0m0-21h0m0-4h0m1 6h0m0-9h0m0 17h0m0 2h0m1 5h0m0-17h0m0 5h0m0-15h0m0 18h0m1 87h0m0-80h0m0 8h0m1-2h0m0 68h0m0-70h0m1-2h0m1-13h0m0 19h0m0-4h0m0 70h0m1-88h0m0 11h0m0 7h0m0-37h0m1 112h0m0-79h0m0 75h0m1-79h0m0-5h0m0 12h0m1-17h0m0-4h0m0-18h0m1 113h0m0-89h0m0 84h0m0-85h0m0-15h0m2 106h0m0-70h0m0-6h0m0 72h0m2-75h0m0-6h0m0-272h0m0 230h0m1 37h0m0-100h0m1 43h0m0 43h0m1 34h0m0-25h0m1 10h0m0 8h0m0-27h0m0 29h0m1 3h0m0 67h0m0-83h0m1 9h0m0-33h0m0 36h0m1-8h0m0 83h0m0-99h0m0-38h0m1 67h0m0-50h0m0 43h0m0-61h0m0 59h0m0 77h0m1-3h0m0 1h0m0-73h0m0 0h0m0-20h0m1 20h0m0 75h0m0-88h0m0-3h0m0 89h0m0-147h0m1 76h0m0-47h0m0 118h0m1 1h0m0-107h0m0 25h0m1 0h0m0 10h0m0 72h0m0-80h0m0 78h0m0-95h0m0 97h0m0 1h0m0-86h0m1-16h0m0-13h0m0 19h0m0-19h0m0 112h0m0 2h0m0-75h0m1 76h0m0-68h0m2 0h0m0-4h0m0-2h0m1-10h0m1 3h0m0-3h0m1-14h0m0 97h0m0-67h0m0-25h0m0 25h0m0-25h0m1 92h0m0-111h0m0 40h0m0 79h0m0-97h0m1-21h0m0 43h0m0-9h0m0 75h0m0-87h0m0 10h0m1 3h0m0 77h0m0-79h0m0-41h0m0 12h0m0 14h0m0 19h0m1-11h0m0 8h0m0 2h0m0-11h0m0-14h0m1-40h0m0 63h0m0-27h0m0 13h0m1 90h0m0-1h0m0-79h0m1 81h0m0-73h0m0 2h0m0-31h0m0 32h0m0 68h0m0-128h0m0 128h0m0-90h0m0 22h0m1-36h0m0 18h0m1-7h0m1-12h0m1 27h0m0 79h0m0-101h0m0 100h0m1-1h0m0-69h0m0-7h0m0-121h0m0 53h0m1 146h0m0-148h0m0 153h0m0-71h0m0 67h0m1-1h0m0-90h0m0 22h0m0-4h0m0 71h0m0-70h0m0 5h0m0-17h0m1 3h0m0-19h0m0 28h0m0-5h0m0-56h0m1 45h0m0 20h0m0-28h0m0 18h0m0 8h0m0-25h0m0 95h0m1 0h0m0 2h0m0-74h0m0-9h0m0 78h0m0-81h0m1 85h0m1-73h0m0 2h0m0-3h0m1-39h0m0 112h0m0-1h0m0-2h0m0 2h0m1-1h0m0 6h0m0-76h0m0-16h0m1 94h0m0-123h0m0 42h0m1 73h0m0-65h0m0-12h0m0 2h0m0-74h0m0 66h0m1 82h0m0 1h0m0-78h0m0 81h0m1-2h0m0-76h0m1 83h0m0-9h0m0-80h0m0-15h0m0-30h0m1 127h0m0-72h0m1-5h0m0-2h0m0 8h0m0-4h0m0 1h0m1-47h0m0 33h0m1-1h0m0-20h0m0 109h0m1-132h0m0 48h0m0-16h0m0 103h0m0-82h0m0 12h0m0-16h0m0-47h0m1 131h0m0-73h0m0 73h0m0-72h0m0 69h0m0-69h0m1 5h0m0-17h0m0-63h0m1 78h0m0-43h0m0 111h0m1-88h0m0-2h0m0 92h0m0-102h0m1-115h0m1 215h0m0-118h0m0-12h0m0 131h0m1-151h0m0 42h0m0 107h0m0-68h0m1-10h0m0-1h0m0 86h0m0-73h0m1-16h0m0 9h0m0 81h0m0-162h0m0 161h0m1-97h0m0 8h0m0 15h0m0-33h0m0 13h0m0-48h0m1 135h0m0-104h0m0 110h0m0 35h0m1-109h0m0 68h0m1-81h0m0 4h0m0 5h0m0-13h0m0 10h0m0-6h0m0 10h0m1-16h0m0 21h0m1-10h0m0 0h0m0-11h0m1-22h0m0 41h0m0-21h0m1 7h0m0 17h0m1 65h0m0-80h0m0-21h0m1 101h0m0-1h0m0-65h0m0-8h0m0-55h0m1 44h0m0 87h0m1-96h0m0 6h0m0 1h0m1 89h0m0-145h0m1 13h0m0-2h0m1 138h0m0-85h0m0 5h0m0-5h0m0 9h0m0 0h0m1-21h0m1 9h0m0 3h0m0 82h0m1-88h0m0 13h0m0 2h0m1-17h0m0 2h0m0 87h0m0-92h0m0 15h0m0-13h0m0 90h0m0 0h0m0-1h0m1-83h0m0-5h0m0-12h0m0 8h0m1 15h0m0-120h0m1 131h0m0-15h0m0 7h0m0-65h0m0 44h0m0 11h0m1 10h0m0-30h0m0 35h0m0-17h0m0-11h0m0 18h0m0 77h0m1 2h0m0-134h0m0 54h0m0 13h0m1-2h0m0-100h0m0 63h0m0 26h0m0 80h0m0-81h0m0-15h0m0 3h0m0 92h0m0-68h0m0-45h0m1 45h0m0 3h0m0-4h0m0-4h0m1-8h0m0 84h0m0-115h0m0 27h0m0 8h0m0 79h0m1-109h0m0 20h0m1 2h0m0-5h0m0 15h0m0-16h0m0 19h0m1 74h0m0-124h0m0 45h0m0 8h0m0-31h0m0 100h0m1-124h0m0 42h0m0 1h0m0 83h0m0-127h0m0 33h0m1 27h0m0-1h0m0 68h0m0-69h0m0-7h0m0 0h0m0 0h0m0-1h0m1 77h0m0 0h0m0-99h0m1 15h0m0-20h0m1 36h0m0-64h0m0 37h0m0-33h0m0 58h0m1 1h0m0-9h0m0 78h0m1-76h0m0-2h0m0 5h0m1-62h0m0 63h0m0 0h0m0-12h0m0 13h0m0-11h0m1-28h0m1 21h0m0 12h0m0-22h0m0 23h0m0 84h0m0-8h0m0-110h0m0 39h0m2-12h0m0-1h0m0 10h0m1-5h0m0-18h0m0 30h0m0-70h0m1 68h0m0-15h0m1 15h0m0-8h0m0 107h0m0-109h0m0 11h0m1 66h0m0-65h0m0-49h0m0 23h0m1 21h0m0 5h0m0-7h0m0 4h0m1-26h0m0-16h0m1 17h0m0 17h0m0-48h0m0-5h0m1 17h0m0 20h0m0 91h0m0-64h0m1-21h0m0 6h0m1 82h0m0-83h0m1 1h0m0 0h0m0 83h0m0-70h0m1 68h0m0 3h0m0 5h0m0-80h0m0-12h0m0-13h0m0 17h0m1 8h0m1-25h0m0 20h0m0 4h0m0 72h0m0-67h0m0-25h0m0 0h0m0-64h0m1 79h0m0-5h0m0 5h0m1 78h0m0-113h0m0 14h0m0 14h0m1 12h0m0-63h0m0 60h0m0 75h0m0 4h0m0-71h0m1-3h0m1 2h0m0 70h0m0-75h0m0 1h0m1-8h0m1 3h0m0-41h0m0 22h0m0 25h0m0 81h0m1 3h0m0-90h0m0 7h0m0-5h0m0 74h0m0-76h0m0-12h0m0 12h0m1 4h0m0-9h0m0 83h0m1-70h0m1-11h0m0-38h0m0 41h0m0-55h0m2 47h0m0-59h0m0 72h0m1 1h0m0 3h0m0 70h0m1-254h0m0 131h0m0 121h0m1-78h0m0 86h0m0-194h0m0 116h0m0 70h0m1-65h0m0-8h0m0-1h0m0-33h0m0-16h0m0 32h0m1 5h0m0-12h0m1 99h0m1-81h0m0 87h0m0 2h0m0-100h0m0 15h0m0-38h0m0 13h0m1 9h0m0 91h0m0 6h0m0-6h0m1-69h0m0 70h0m0-120h0m0 126h0m0-111h0m0 36h0m1 83h0m0-115h0m0 31h0m0 69h0m0-83h0m0-42h0m0 54h0m1-22h0m0 26h0m0-11h0m0 81h0m0 0h0m1-87h0m0-6h0m0 15h0m0-4h0m0 4h0m1 75h0m0-93h0m0 95h0m0-77h0m0 78h0m0-80h0m1 2h0m0-5h0m0 5h0m1 78h0m0-79h0m0 7h0m0-12h0m0 15h0m0 66h0m1-115h0m0-12h0m0 142h0m1-10h0m0-2h0m0-68h0m0 74h0m0-6h0m1-69h0m0 68h0m0-139h0m0 63h0m0-4h0m1 7h0m0 2h0m0-27h0m0 13h0m1 16h0m0 2h0m0 67h0m1-78h0m0 78h0m0-94h0m0 28h0m0-17h0m0-5h0m1 88h0m0-1h0m0 0h0m0 9h0m1-143h0m0 57h0m0 9h0m0-8h0m0 11h0m0-5h0m0-25h0m0 18h0m0 1h0m1-2h0m0 3h0m0 78h0m0-88h0m1 15h0m0-2h0m0-14h0m0 6h0m1 1h0m0 10h0m0-2h0m0-13h0m1 0h0m0 85h0m1-83h0m0 81h0m0-97h0m0 98h0m0-70h0m1-4h0m0-53h0m1 11h0m0 33h0m0-16h0m0 106h0m0-85h0m0-63h0m0 71h0m1-24h0m0 26h0m1-9h0m0-4h0m0 84h0m1-123h0m0 140h0m0-117h0m1 99h0m1-3h0m1-76h0m0 77h0m0 30h0m0-102h0m0-32h0m0 36h0m0-35h0m0 32h0m0 73h0m0-79h0m0 77h0m1-154h0m0 156h0m0 0h0m0-81h0m0-2h0m1-23h0m0 110h0m0-72h0m1 66h0m0-80h0m0 14h0m0 69h0m1-72h0m0-170h0m0 134h0m0 7h0m0-46h0m1 143h0m0-105h0m0 18h0m0 89h0m0-67h0m0-21h0m1-8h0m0 95h0m0-90h0m0 91h0m1 6h0m0-91h0m1 86h0m0-88h0m0 10h0m0 5h0m0-16h0m1 16h0m0 71h0m0-87h0m0 21h0m0-4h0m1-6h0m0 11h0m1-17h0m0-8h0m0 97h0m1-73h0m0-18h0m0 6h0m0 7h0m0-15h0m1-36h0m1 53h0m0-18h0m1 22h0m0-37h0m0 33h0m1 75h0m0-77h0m0 72h0m1-77h0m0 8h0m0-18h0m1 6h0m0 6h0m0 4h0m0-4h0m0 4h0m1-6h0m0-12h0m0-17h0m0 17h0m0-17h0m1 105h0m0-124h0m0 31h0m0 93h0m0-73h0m1 3h0m1 2h0m0 68h0m0-81h0m0 11h0m0-37h0m1-17h0m0 38h0m0 12h0m0 6h0m1-8h0m0 1h0m0 5h0m0-6h0m0 79h0m0-86h0m1-23h0m0 109h0m0-98h0m1 18h0m0-27h0m0 105h0m0-97h0m0 29h0m1-65h0m0 50h0m0 83h0m0-69h0m0 74h0m1-111h0m0 104h0m0-82h0m1 2h0m0 80h0m0 0h0m0-136h0m1 6h0m0 21h0m1 16h0m0-18h0m0 46h0m1-8h0m0 4h0m0-1h0m0 72h0m0-106h0m1-26h0m0 55h0m0 5h0m0-1h0m0-132h0m0 204h0m1-84h0m0 84h0m0-110h0m1 113h0m0-95h0m1 94h0m0-82h0m0 13h0m0 68h0m0-96h0m0 25h0m1-9h0m0-25h0m0 29h0m1-36h0m0 16h0m0 96h0m0-108h0m0 9h0m0-40h0m0 65h0m1 8h0m1-10h0m0-39h0m0 16h0m0 21h0m1 79h0m0-2h0m1-77h0m0 11h0m0-16h0m1 1h0m0 8h0m0-47h0m0 50h0m0-43h0m1 15h0m1 23h0m0 74h0m0-72h0m0 0h0m1 72h0m0-86h0m0-63h0m0 152h0m0-74h0m0-55h0m0 47h0m0 86h0m1-116h0m0 37h0m0-15h0m1 21h0m0-2h0m0-4h0m0-11h0m0 10h0m1-4h0m0-36h0m0 44h0m0-5h0m1 3h0m0-10h0m0 5h0m1 91h0m0-102h0m0 94h0m0-110h0m1 32h0m0 74h0m0-94h0m0 22h0m1-13h0m0-10h0m0 3h0m0 14h0m0-85h0m0 160h0m1-120h0m0 129h0m2-99h0m0 20h0m0 3h0m0-6h0m0 9h0m1 64h0m0-66h0m0-5h0m0 4h0m0 69h0m1-80h0m0 133h0m0-122h0m1 67h0m0 16h0m0-83h0m0-5h0m2 72h0m1-78h0m0-18h0m1 18h0m0 12h0m0-18h0m2-22h0m0 5h0m0 26h0m1 2h0m0-14h0m1 17h0m0-31h0m0 15h0m0 89h0m1-106h0m0 28h0m1-30h0m0 40h0m1-20h0m0-13h0m0 20h0m1 13h0m0 74h0m0-85h0m1 77h0m1-76h0m1-8h0m0-41h0m0 31h0m0 16h0m0 77h0m1-104h0m0 30h0m0 75h0m0-113h0m0-7h0m0 53h0m1-36h0m0 109h0m0-100h0m0 16h0m0-6h0m1-34h0m0 40h0m0 84h0m1-5h0m0-128h0m0 23h0m0 105h0m0-68h0m0 71h0m0-86h0m1 83h0m0 2h0m0-69h0m0-1h0m1 67h0m1-72h0m0 71h0m1 3h0m0-80h0m0 77h0m1 1h0m0-97h0m0 9h0m0 90h0m0-2h0m1-75h0m0 4h0m0 72h0m0-88h0m0 95h0m0-140h0m1 45h0m0-68h0m1 83h0m0-11h0m0 10h0m0-13h0m1 91h0m0-74h0m0 73h0m0-3h0m0-97h0m1 6h0m0-5h0m0-31h0m0 49h0m0 85h0m1-7h0m0-107h0m0-28h0m0 32h0m0 102h0m1 1h0m0-72h0m1 71h0m0 7h0m0-107h0m0-1h0m1 101h0m0-88h0m0-20h0m1 116h0m0-8h0m0-67h0m1 69h0m0-93h0m0 23h0m0 69h0m1-70h0m0 1h0m0-32h0m0 100h0m1-72h0m0-9h0m0 87h0m1-6h0m0-120h0m0 126h0m0-80h0m0 74h0m0-99h0m1 25h0m0 82h0m0-103h0m0-11h0m0 27h0m0-9h0m0 22h0m1 65h0m0-65h0m1 75h0m0-96h0m0 22h0m0-9h0m1-4h0m0-69h0m0 50h0m1 9h0m0 22h0m1-9h0m0-6h0m0-58h0m1 73h0m0 69h0m0-1h0m0-71h0m1-39h0m0 110h0m0-81h0m0-42h0m0 26h0m1 28h0m0 67h0m0-91h0m0 9h0m0-8h0m1 16h0m0 9h0m0-7h0m0-25h0m0 21h0m0-33h0m1 39h0m0 72h0m1-70h0m0-6h0m0 8h0m0 67h0m0-129h0m1 43h0m0 3h0m1 97h0m0-13h0m0-71h0m1 72h0m0-68h0m0-57h0m0 124h0m0-86h0m0 85h0m0-96h0m1 12h0m0 1h0m1 95h0m0-12h0m0-74h0m0-4h0m0 80h0m0-90h0m0 92h0m1-76h0m0-3h0m0 4h0m0 70h0m1-79h0m0-18h0m0 23h0m0-11h0m0 16h0m0 70h0m0-123h0m0 13h0m1 11h0m0 24h0m0-112h0m0 120h0m0 68h0m1-82h0m0 14h0m0-10h0m0-11h0m0 21h0m1-13h0m0 79h0m0-91h0m1 16h0m0-8h0m0-49h0m0 51h0m0 13h0m0-5h0m1 81h0m0-83h0m0-5h0m0-10h0m0-100h0m1 120h0m0-11h0m0 81h0m0-66h0m0-2h0m1-5h0m0-12h0m0-11h0m0-38h0m1 65h0m0-8h0m0 76h0m0 12h0m1-88h0m0 11h0m0-26h0m0 19h0m0-11h0m0-97h0m1 86h0m0 27h0m0-29h0m0 9h0m0-46h0m0 134h0m0 3h0m0-160h0m0 92h0m0 67h0m0-124h0m1 31h0m0-120h0m0 220h0m0-137h0m0 56h0m1 7h0m0 0h0m0-26h0m1 23h0m0-16h0m0 86h0m0-72h0m0-16h0m1 5h0m0 5h0m0 75h0m0-84h0m0-3h0m0 14h0m1 73h0m0-78h0m1 2h0m0 1h0m0 6h0m0-10h0m1 10h0m0-14h0m1-56h0m0 141h0m0-97h0m0 24h0m1-4h0m0-78h0m1 156h0m0-79h0m0-76h0m0 155h0m1-79h0m0-5h0m1 11h0m0-10h0m0-7h0m0 8h0m0 3h0m0 76h0m1-77h0m0-4h0m0 2h0m0 12h0m1 68h0m0-73h0m0 6h0m0 69h0m0-106h0m0 28h0m0-2h0m1-86h0m0 53h0m0 16h0m1 95h0m1-1h0m1-78h0m0 0h0m0 3h0m0 11h0m0-2h0m1 67h0m0-74h0m0-34h0m0 28h0m1 83h0m0-1h0m1-109h0m0 106h0m1 2h0m0-90h0m0 21h0m1 69h0m0-101h0m0 33h0m0-55h0m0 133h0m1-97h0m0 13h0m1 5h0m0-21h0m0 89h0m0-1h0m1-89h0m0 21h0m0 70h0m0-88h0m1 0h0m0 86h0m0-97h0m1 14h0m2 3h0m1 5h0m0 84h0m0-80h0m0 72h0m0-101h0m0 19h0m0 83h0m0-69h0m1-49h0m0 34h0m0-6h0m0 7h0m0 13h0m1 4h0m0-25h0m0-17h0m0 30h0m1 11h0m0-14h0m0 80h0m0-148h0m0 82h0m0-9h0m1-1h0m0-48h0m0 128h0m0-2h0m2-3h0m0 2h0m0-71h0m0 72h0m0-104h0m1 21h0m0-3h0m0 6h0m0-55h0m0 53h0m0 83h0m0-81h0m1 10h0m0-14h0m0 4h0m0 78h0m0-68h0m0-51h0m0 42h0m0 2h0m1-121h0m0 101h0m0 94h0m0-69h0m0-24h0m0 25h0m0-27h0m1 13h0m0-41h0m0 54h0m0-40h0m0 39h0m0-23h0m0 25h0m1 1h0m0-29h0m0-16h0m0 43h0m1 70h0m0-90h0m0 0h0m0-31h0m0 53h0m1-13h0m0 13h0m0 71h0m0-70h0m0-87h0m1 65h0m0 23h0m0 69h0m0-3h0m1-128h0m0 59h0m0 70h0m1-80h0m0 9h0m1-42h0m0 41h0m1 0h0m0 70h0m0-65h0m0-9h0m1-11h0m0-17h0m0 19h0m0-3h0m0 92h0m0-96h0m1 15h0m0 10h0m0 1h0m0-15h0m0-52h0m0 133h0m0 1h0m0-121h0m1 120h0m0-100h0m0-43h0m0 61h0m0 10h0m0-3h0m0 7h0m0-15h0m1-3h0m0 15h0m0 4h0m2-47h0m0 46h0m0-19h0m0 0h0m0 87h0m0-77h0m1 78h0m0-1h0m0-66h0m0 70h0m1-84h0m0 0h0m0 78h0m1 5h0m0-5h0m0-73h0m0-54h0m0 30h0m1 9h0m0 90h0m0 0h0m1-123h0m0 31h0m0 21h0m0 72h0m0-71h0m1-21h0m0 99h0m0-104h0m0 4h0m0-52h0m1 58h0m0-4h0m1 93h0m0-4h0m0-80h0m0 80h0m0 1h0m1 1h0m0 4h0m0-75h0m0-6h0m0 8h0m1-8h0m0-10h0m0 85h0m1-79h0m1-20h0m0 25h0m0 5h0m0-5h0m1 4h0m0 5h0m0-17h0m0-62h0m0 147h0m1-91h0m0-9h0m0 29h0m0 70h0m1-73h0m0-121h0m0 62h0m0 12h0m2 47h0m0-20h0m0 90h0m0 0h0m0-122h0m0 49h0m1-4h0m0 79h0m0-84h0m0 92h0m1-88h0m0 81h0m0-147h0m0 78h0m1 2h0m0-30h0m0 10h0m0-23h0m0 39h0m0 68h0m1-98h0m0 25h0m0 75h0m0 1h0m0-179h0m1 102h0m0-1h0m0 8h0m0-46h0m0 115h0m0-70h0m0-5h0m1-11h0m1-6h0m0 94h0m0 7h0m0-102h0m0 23h0m0-23h0m0 26h0m0 72h0m0-74h0m0 82h0m1-84h0m0 72h0m0-84h0m1 84h0m0-82h0m0 13h0m0 2h0m0 67h0m0-85h0m0-55h0m0 138h0m0-79h0m1 14h0m0-19h0m0 15h0m1 1h0m0-28h0m1 28h0m0-11h0m0 81h0m0-89h0m1 11h0m0-3h0m0 14h0m1-2h0m0-3h0m0 0h0m0 78h0m1-74h0m0 67h0m0-71h0m0-12h0m0 13h0m0 0h0m0-3h0m0-48h0m1 45h0m0 74h0m0-81h0m0 4h0m0 8h0m1 69h0m0-125h0m0 52h0m1-3h0m0 11h0m0-15h0m0 7h0m0-22h0m1 97h0m0-83h0m0 81h0m0-67h0m1-19h0m0 19h0m1-6h0m0-12h0m1-13h0m0-19h0m0 44h0m1-22h0m0 98h0m1-138h0m1 136h0m0 2h0m0 1h0m0-124h0m0 122h0m0-71h0m1-19h0m0 22h0m1 1h0m0-17h0m1 0h0m0 86h0m0-74h0m0-16h0m0-16h0m0 17h0m0 12h0m0 9h0m0 0h0m1 64h0m1-115h0m0 117h0m0-66h0m0 67h0m1 0h0m0-79h0m0-110h0m0 105h0m1 83h0m0-75h0m0-9h0m0 8h0m1-93h0m1 94h0m0 82h0m1-7h0m0-1h0m0 1h0m0-69h0m0-11h0m0-6h0m0 20h0m0-46h0m1 32h0m0-14h0m0 15h0m0-20h0m0-18h0m1 37h0m1-8h0m1 16h0m0-11h0m0 2h0m0 9h0m0 4h0m1 68h0m0-73h0m0-15h0m0 18h0m0 70h0m1-1h0m1 3h0m0-124h0m0-4h0m0 37h0m0 6h0m1 9h0m0 114h0m0-113h0m1 5h0m0 68h0m0-90h0m0-1h0m0 12h0m0-59h0m0 136h0m1-75h0m0 6h0m0-18h0m0 3h0m1 15h0m0-2h0m0-9h0m0 13h0m0-44h0m1 36h0m1 3h0m0 4h0m0 0h0m0-10h0m0 81h0m0-69h0m0 2h0m1-28h0m0 92h0m0 0h0m0 2h0m1-2h0m0-67h0m0 71h0m0-75h0m0-27h0m1 12h0m0-33h0m0 121h0m0-67h0m0-12h0m0-28h0m1 28h0m0-92h0m1 86h0m0 16h0m0-10h0m0-14h0m0 92h0m0-68h0m1-31h0m0 12h0m0 6h0m0 14h0m1-35h0m0 17h0m0 12h0m1 0h0m1-26h0m0 18h0m0 9h0m1 72h0m0-98h0m0-72h0m0 101h0m0 71h0m0-74h0m1 71h0m0 3h0m0 1h0m0-73h0m1-77h0m0 150h0m1-142h0m0 45h0m0 1h0m0 96h0m1-95h0m0-1h0m0 0h0m0 96h0m1 11h0m1-81h0m0-4h0m0-15h0m1-6h0m0 11h0m0 82h0m0-146h0m0 68h0m1-61h0m0 51h0m0 18h0m0-31h0m1 17h0m0 85h0m0-96h0m0 93h0m0-69h0m1 1h0m0-6h0m0-14h0m1-8h0m0 6h0m0 93h0m0 4h0m0-72h0m0-32h0m1 17h0m0 87h0m1-97h0m0 18h0m0-38h0m0 121h0m0-84h0m1 75h0m1-78h0m0-34h0m0 113h0m0-88h0m0-13h0m1-2h0m0 36h0m0-22h0m0 15h0m0 5h0m0 72h0m1-103h0m0 111h0m0-13h0m0 3h0m0-72h0m0-20h0m0 24h0m0 64h0m1-100h0m0 36h0m0-21h0m1 16h0m0-13h0m1 13h0m0-29h0m1 32h0m0-63h0m0 130h0m0-84h0m0-48h0m1 41h0m0 13h0m0-17h0m1 13h0m0 6h0m1 80h0m0-85h0m0 9h0m0 76h0m0-84h0m1 8h0m0 3h0m0 2h0m0-11h0m2 11h0m0-12h0m0-3h0m0 82h0m0-66h0m0-4h0m1-3h0m0 1h0m1-10h0m0 16h0m0 69h0m0-75h0m1 6h0m0-10h0m0 9h0m0-29h0m1 98h0m0-67h0m0-5h0m1 72h0m0-80h0m1 12h0m0-28h0m0 96h0m0-2h0m0-70h0m0-30h0m1 134h0m0-26h0m1-94h0m0 2h0m0 85h0m0-81h0m0 81h0m0-77h0m1-11h0m0 89h0m0-76h0m0 6h0m1 70h0m0-114h0m0 113h0m0-72h0m0-7h0m0 12h0m1-33h0m0 27h0m0-9h0m0 84h0m1-1h0m1 3h0m0-89h0m0-68h0m0 78h0m0-11h0m0-3h0m1 22h0m0-7h0m0-20h0m1 9h0m0 1h0m0 96h0m0-133h0m0 54h0m0-2h0m1-12h0m0 83h0m1-3h0m0-66h0m0-13h0m0 14h0m1-45h0m0 43h0m0-15h0m0-1h0m0 16h0m1-18h0m0 11h0m0-27h0m1 104h0m0-82h0m0 0h0m0 81h0m1-2h0m0-102h0m0-31h0m0 134h0m1-69h0m0-18h0m0 86h0m0-68h0m0-62h0m1 35h0m0 17h0m0 12h0m1-2h0m0-12h0m0 82h0m0-78h0m1 3h0m0-12h0m0 92h0m0-76h0m0-38h0m0 36h0m0-34h0m0 106h0m0-130h0m1 58h0m0 1h0m0 71h0m0 0h0m0-107h0m0 109h0m1-73h0m0 72h0m0-67h0m0-1h0m0 66h0m0-158h0m1 90h0m0-3h0m0 71h0m1-70h0m0-1h0m0-32h0m1 38h0m0-13h0m0 130h0m0-142h0m0-60h0m0 82h0m0-14h0m0 3h0m1 8h0m0-15h0m0 18h0m1-19h0m0 89h0m0-74h0m0-41h0m0 29h0m0 90h0m0-6h0m0-107h0m1 113h0m0-80h0m1 76h0m0-78h0m0 10h0m0-57h0m0 32h0m0 21h0m0-3h0m0 76h0m0 10h0m1-114h0m0 33h0m0 70h0m0-68h0m1-12h0m0-6h0m0 92h0m1-7h0m0-124h0m0 126h0m0-108h0m0-58h0m0 96h0m1 68h0m0 0h0m0-79h0m0 77h0m0 2h0m1-84h0m0 6h0m0 8h0m0 3h0m0-42h0m1 0h0m0 23h0m0 15h0m0 72h0m1-68h0m0-43h0m1 40h0m0 1h0m0 67h0m0 0h0m1-73h0m0-43h0m1 117h0m0-68h0m0 68h0m0-104h0m1-2h0m0 9h0m0 98h0m1-94h0m0 21h0m0 74h0m1-117h0m0 44h0m0-104h0m1 82h0m0 21h0m0 72h0m0-96h0m0 29h0m1-29h0m0 26h0m0 74h0m0-77h0m1-35h0m0 41h0m0-7h0m1-18h0m0 93h0m0-79h0m1 13h0m0-39h0m0 112h0m1-73h0m0 104h0m0-111h0m0-16h0m0 2h0m0-25h0m0 1h0m0 41h0m1-37h0m0-19h0m0 41h0m1 10h0m0 76h0m0-78h0m1-56h0m1 65h0m0-8h0m0 10h0m0-51h0m0-59h0m0 109h0m0-2h0m1-6h0m0-46h0m0 35h0m1 85h0m0 2h0m1-76h0m0-4h0m0 8h0m0 69h0m0-75h0m0-62h0m1 69h0m0 2h0m0-21h0m0 17h0m1-6h0m0 12h0m0-31h0m0 24h0m0-2h0m1-9h0m0 16h0m1 2h0m0-3h0m0-3h0m0-73h0m1 40h0m0 37h0m0-13h0m0 4h0m0 2h0m0 76h0m1-3h0m0-65h0m0 68h0m0-140h0m1 57h0m0-60h0m0 38h0m0 103h0m0-81h0m0 81h0m0-73h0m1-17h0m1-24h0m1 15h0m0 29h0m0 0h0m0-4h0m0 5h0m1-9h0m0-8h0m0-1h0m1-21h0m0 24h0m1 87h0m0-77h0m0 8h0m0-13h0m0 81h0m0-77h0m0 74h0m1-73h0m0-116h0m0 118h0m1-14h0m0-20h0m0 23h0m0 7h0m1-16h0m0 12h0m0 80h0m0-125h0m1 52h0m0 7h0m0-46h0m0 112h0m0-69h0m1-19h0m0 12h0m0-8h0m0-22h0m0 30h0m1 83h0m0-8h0m0-65h0m0-127h0m1 93h0m0 29h0m1-36h0m0 31h0m0 78h0m0 1h0m1-2h0m0-86h0m0-60h0m1 2h0m0 63h0m0-68h0m0 148h0m0 4h0m0-71h0m0-18h0m1 87h0m0-71h0m0-74h0m1 77h0m1-45h0m0 43h0m0-6h0m0 3h0m1 4h0m0-3h0m0 72h0m0-113h0m0 38h0m0 8h0m1 65h0m0-140h0m0 140h0m0-67h0m0 67h0m0 0h0m1-125h0m0 57h0m1 2h0m0-6h0m0 77h0m0-3h0m0-146h0m0 144h0m1-75h0m0-8h0m0 14h0m1 75h0m0-115h0m0 37h0m1 2h0m0 73h0m0-70h0m0 68h0m1-89h0m0-35h0m0 125h0m0-1h0m1 1h0m0-71h0m0-37h0m0 26h0m0-15h0m1 30h0m0-5h0m0 75h0m0-1h0m0-3h0m0 1h0m0-77h0m1 2h0m0 72h0m0 2h0m0 2h0m0-72h0m0-52h0m0 45h0m2-24h0m0 27h0m1-2h0m0 1h0m0 0h0m0 76h0m0-137h0m1 22h0m0 117h0m0-102h0m0 98h0m0-106h0m0 105h0m0 1h0m1-104h0m0-8h0m0 31h0m0-5h0m0 90h0m0-83h0m1-29h0m0 35h0m0-7h0m0 5h0m0-127h0m1 134h0m0 73h0m0-114h0m0-3h0m1 112h0m2-130h0m0 20h0m0 9h0m1 27h0m0 2h0m0 73h0m0-107h0m0 22h0m0 84h0m1-65h0m0-30h0m0-2h0m1 30h0m0-5h0m0 3h0m0-21h0m0-14h0m0 1h0m0-38h0m1 140h0m0-88h0m0-17h0m0 33h0m1 2h0m0 72h0m1-82h0m0-24h0m0 12h0m1-10h0m0-55h0m0 82h0m0 8h0m0 1h0m0-109h0m1 97h0m0 78h0m0-67h0m0-4h0m0 72h0m0-68h0m1-13h0m1 8h0m0-26h0m0 2h0m0 99h0m0-109h0m1 39h0m0-32h0m1-21h0m0 44h0m0-6h0m1-14h0m0 29h0m0 3h0m0-7h0m0-173h0m0 165h0m1-28h0m0 31h0m0-17h0m0 13h0m0-40h0m0 124h0m0-125h0m0 31h0m1-2h0m0-27h0m0 36h0m0 87h0m1 2h0m0-73h0m1 1h0m1-5h0m0 7h0m0-38h0m0-44h0m1 72h0m0 7h0m1-6h0m0 5h0m0-27h0m0-14h0m0 15h0m0 14h0m1 10h0m0-4h0m0-24h0m0 21h0m0-1h0m0-34h0m1 10h0m0-67h0m0 69h0m1 23h0m0 1h0m0-1h0m0 77h0m0-105h0m0 106h0m1-82h0m0-17h0m0 31h0m0-28h0m0 95h0m1-73h0m0 8h0m0-51h0m0 31h0m1 86h0m0 1h0m0-97h0m0 101h0m0-111h0m1-25h0m2 64h0m0 69h0m0-1h0m0-74h0m0-45h0m1 122h0m0 17h0m0-100h0m1 12h0m0-18h0m0 12h0m0-10h0m0 96h0m0-86h0m0 4h0m0-32h0m1 24h0m0-30h0m0 9h0m0 18h0m0 79h0m1-136h0m0 137h0m1-69h0m0-12h0m1-34h0m0 45h0m0 0h0m1 72h0m1-124h0m0 48h0m0 5h0m1 3h0m0-8h0m0 74h0m0-75h0m0-7h0m0 2h0m1-66h0m0 17h0m0-7h0m0 46h0m1-40h0m0 134h0m0-77h0m0 5h0m0-2h0m0-23h0m0 28h0m1 71h0m0-3h0m0-70h0m0 1h0m0 68h0m0-72h0m1-9h0m0 80h0m0-84h0m0-80h0m0 86h0m0 78h0m0-135h0m0 4h0m1 131h0m0 2h0m1-75h0m0-15h0m0-47h0m0 28h0m0 32h0m0-67h0m1 60h0m0 6h0m0-11h0m1 16h0m0 69h0m0-75h0m1-2h0m0 78h0m0 0h0m0-74h0m0-8h0m1-97h0m0 105h0m0-53h0m0-5h0m1 32h0m0 12h0m0 87h0m0-92h0m1 5h0m0 91h0m0-143h0m1 51h0m0 13h0m1-8h0m0-27h0m0 36h0m0-8h0m1 15h0m0 77h0m0-79h0m0-11h0m0-17h0m0 25h0m0-7h0m0-4h0m1 1h0m0-2h0m0 16h0m0-5h0m1-26h0m0 108h0m0-5h0m0-76h0m0 77h0m1-132h0m0 127h0m0-70h0m0-15h0m0-22h0m1 43h0m0-2h0m0-1h0m0-38h0m0 33h0m0-1h0m0 5h0m1-12h0m0-14h0m0 95h0m0-68h0m1 70h0m0-114h0m0 112h0m0 1h0m1-111h0m0 34h0m0-5h0m1 10h0m0 3h0m0 0h0m0 67h0m0-80h0m1-36h0m0 167h0m0-51h0m0-94h0m0 97h0m1-69h0m0 67h0m0-1h0m1-67h0m0-13h0m0 12h0m1-19h0m0 99h0m0-92h0m1 16h0m0-56h0m1 125h0m1-99h0m0 11h0m0 9h0m0 10h0m0-3h0m0 68h0m0-78h0m2 3h0m0 5h0m0 4h0m1-5h0m0-4h0m0 80h0m1-116h0m0 25h0m1 20h0m0-48h0m0 40h0m1-2h0m0-95h0m0 72h0m1 6h0m0 23h0m0 72h0m0-68h0m0 68h0m0-152h0m1 18h0m0 132h0m0-87h0m0-65h0m0 78h0m1 77h0m0-78h0m0-103h0m0 178h0m1-96h0m0 10h0m0-4h0m1 22h0m0 1h0m0-46h0m1 9h0m0 105h0m0-94h0m0 11h0m1-1h0m0-6h0m1 96h0m0-7h0m0-140h0m0 57h0m1 90h0m0-84h0m0-4h0m1 94h0m0 12h0m1-102h0m0 8h0m0 71h0m0-73h0m0-55h0m0 127h0m0-79h0m0 3h0m1-16h0m0 10h0m1 86h0m1-86h0m0 11h0m1 71h0m0 1h0m0-127h0m1 127h0m0-92h0m0 10h0m0-23h0m0 9h0m1-18h0m0 6h0m0 9h0m0 29h0m0-32h0m0 23h0m0-53h0m1 53h0m0 1h0m0 8h0m0-14h0m0 0h0m0 88h0m0-112h0m0 2h0m0 4h0m1 34h0m0 0h0m0 68h0m0-76h0m1-5h0m0 4h0m0 80h0m0-85h0m1-9h0m0 6h0m0 83h0m1-108h0m0 31h0m0 1h0m0-7h0m0 18h0m0-1h0m0-6h0m0-24h0m1 25h0m0 1h0m0-14h0m0-7h0m0 20h0m1-22h0m0 93h0m0-93h0m0 27h0m0-36h0m0 32h0m1 69h0m0 6h0m0 7h0m0-101h0m0-1h0m0 10h0m0 8h0m1-1h0m0-25h0m0 22h0m1 5h0m0-26h0m0 98h0m0-2h0m1-78h0m1 2h0m0-20h0m0 27h0m1-8h0m0-22h0m0 32h0m0 0h0m1-4h0m0 74h0m1-72h0m0-23h0m0-103h0m0 117h0m0-9h0m1 7h0m0 80h0m0-69h0m0 70h0m1-86h0m0 7h0m0-13h0m0 25h0m1 70h0m0-3h0m0-82h0m0 2h0m0 4h0m0 5h0m0 5h0m1-2h0m0-2h0m0-51h0m1 20h0m0 15h0m0 17h0m0-33h0m0 28h0m1-26h0m0 100h0m1-1h0m0-98h0m0 13h0m0 16h0m1 71h0m0 7h0m0-113h0m0 107h0m1-75h0m0-57h0m0 42h0m0 7h0m0-38h0m0 41h0m0-4h0m1-16h0m0 16h0m0-5h0m0 96h0m0-83h0m1 6h0m0-14h0m0 8h0m0-88h0m1 71h0m0 25h0m0-36h0m1 102h0m0-122h0m0 19h0m0 105h0m0-3h0m0 6h0m0-106h0m1 34h0m0-106h0m1 106h0m0-46h0m1-62h0m0 18h0m0 86h0m1-57h0m0 46h0m0-3h0m0-7h0m1 26h0m1-18h0m0 84h0m0-112h0m0 44h0m0 68h0m0 0h0m1-73h0m0 73h0m0-75h0m0-23h0m0-4h0m1 37h0m0-30h0m0 15h0m0-3h0m0 14h0m0-10h0m1-12h0m0 5h0m0 88h0m0-87h0m0-11h0m0-21h0m0 49h0m0 67h0m1-83h0m0 83h0m0 8h0m1-74h0m0-33h0m0 102h0m0-82h0m0 80h0m0-84h0m0 17h0m1-1h0m0-1h0m0 71h0m0-73h0m0-9h0m1 80h0m0-1h0m0-79h0m0 89h0m0-104h0m1-25h0m0 42h0m0 78h0m0-79h0m0 10h0m1 69h0m0-107h0m0-20h0m0 47h0m0-22h0m0 111h0m0-109h0m1 23h0m0-68h0m1 148h0m0-3h0m0-75h0m1-1h0m1 75h0m0-76h0m0-28h0m0-2h0m0 40h0m0-14h0m1 7h0m0 75h0m1-73h0m1 74h0m0-101h0m0 17h0m0 9h0m0-2h0m1-14h0m1 21h0m0 68h0m1-74h0m0 1h0m0-55h0m1 135h0m0-116h0m0 11h0m0 0h0m0 102h0m0-70h0m1-2h0m0-5h0m0-2h0m1 89h0m0-90h0m0 1h0m1 1h0m0-97h0m0 99h0m0 5h0m0-38h0m0 36h0m1-41h0m0 11h0m0 34h0m1-22h0m0 7h0m0-26h0m0 9h0m0 110h0m0-106h0m1 19h0m0 1h0m1-2h0m0-10h0m1 5h0m0 3h0m0-21h0m0 110h0m1-104h0m0 21h0m1-36h0m0 110h0m0-72h0m0-85h0m1 156h0m0-3h0m0-65h0m0-15h0m0 10h0m0 70h0m1-144h0m0 79h0m0-6h0m0-5h0m0-10h0m0 17h0m0-69h0m1 68h0m0-29h0m0 101h0m0-70h0m1-1h0m0-1h0m0 73h0m0-70h0m0-12h0m0 4h0m1 6h0m0-1h0m0-32h0m0 5h0m0-15h0m0 33h0m0-10h0m1-25h0m0 42h0m0 75h0m1-87h0m0 20h0m1-16h0m1-74h0m0 162h0m0-78h0m0-16h0m0-21h0m1-19h0m0 126h0m0-86h0m1 19h0m0-17h0m0 5h0m0 81h0m1 0h0m0 4h0m0-118h0m0-25h0m0 49h0m1 9h0m0-14h0m0 7h0m0 94h0m0-8h0m0-71h0m1 74h0m1-68h0m0-3h0m0 70h0m0-86h0m0 19h0m1 66h0m0-66h0m0-9h0m1-39h0m1 29h0m0 85h0m0-129h0m1 56h0m0-2h0m0 3h0m1 72h0m0-67h0m0-56h0m0 43h0m0-39h0m0 32h0m0 86h0m0-66h0m0 71h0m0-77h0m0-51h0m0 125h0m1-68h0m0-23h0m0 92h0m0-96h0m1 28h0m0 74h0m0-6h0m0-77h0m1 8h0m0 69h0m0-97h0m0-16h0m0 41h0m1 71h0m0-67h0m0-56h0m0 20h0m0-22h0m0 126h0m1-88h0m0 88h0m1-2h0m0-80h0m0-2h0m0-11h0m0 16h0m0 5h0m1-39h0m0 13h0m0-2h0m0 30h0m0-5h0m0 7h0m1 2h0m0-45h0m0 111h0m0 3h0m1-1h0m0-85h0m0 3h0m0-23h0m0 34h0m0-7h0m0-15h0m1 5h0m0-166h0m0 164h0m0 90h0m0 0h0m0-108h0m1 41h0m1 66h0m0 0h0m0-121h0m0 52h0m0 3h0m0-4h0m0-6h0m0 5h0m0-4h0m2 79h0m0-74h0m1 3h0m0-14h0m0 80h0m0-75h0m0-16h0m0-20h0m1-10h0m0 52h0m0-10h0m0-45h0m0 57h0m0 1h0m0 73h0m1-113h0m0 105h0m0 1h0m0-76h0m0 76h0m1-89h0m1 89h0m0-203h0m0 114h0m0-21h0m0 109h0m0-64h0m0-49h0m0 41h0m0-38h0m1 22h0m0 20h0m0-3h0m0 80h0m0-77h0m1-12h0m0-26h0m0 41h0m0-10h0m1 78h0m0-69h0m1 69h0m0-114h0m0 38h0m1-1h0m0-42h0m0-8h0m1-23h0m0 42h0m0 38h0m0-7h0m0 80h0m0-75h0m1 71h0m0-76h0m1-2h0m0-4h0m1 3h0m0 1h0m0 7h0m0-4h0m0-6h0m1 10h0m1 3h0m0 1h0m0 71h0m1-84h0m0 6h0m1-38h0m0 32h0m0 9h0m0-55h0m0 56h0m0 68h0m0-67h0m1-48h0m0 43h0m0 6h0m0 73h0m1-156h0m0 153h0m0-91h0m0 4h0m0 14h0m1 76h0m0-5h0m0 3h0m1-71h0m0-46h0m0 34h0m0 81h0m0-132h0m0 43h0m0-47h0m0 68h0m1-25h0m0 13h0m0-10h0m0 10h0m0 8h0m1 2h0m0-16h0m1 84h0m0-83h0m0-15h0m0 100h0m0 0h0m0 6h0m0-8h0m1-72h0m0-3h0m1 75h0m0-81h0m0-69h0m0 82h0m0-19h0m0 20h0m0 0h0m1-4h0m0 70h0m1-85h0m0 16h0m0-38h0m1 108h0m0-78h0m0-1h0m0 79h0m0-66h0m1-11h0m0-28h0m0 34h0m0-24h0m0-29h0m0-5h0m0 37h0m1-22h0m0 33h0m0 14h0m0-2h0m0-9h0m0-10h0m1 6h0m0 2h0m0-12h0m1 26h0m0-24h0m0 93h0m0-82h0m1 13h0m0-8h0m0-40h0m0 1h0m0 34h0m2 78h0m0-110h0m0 37h0m0-12h0m1-72h0m0 89h0m0 68h0m1-79h0m0 2h0m0-2h0m1 79h0m0-81h0m0 5h0m0-6h0m0 17h0m0-9h0m1 8h0m0 0h0m0-3h0m1-7h0m0-34h0m1 46h0m0 66h0m0-70h0m0 1h0m0-6h0m0-56h0m1 129h0m0-105h0m0 107h0m1-70h0m0-11h0m0 81h0m1-86h0m1-27h0m0 37h0m0 74h0m0 1h0m1-68h0m0-16h0m0-9h0m1 101h0m0-77h0m1-16h0m0 2h0m0-61h0m1-36h0m0 95h0m1 15h0m1-14h0m0-37h0m0 49h0m0 5h0m1 1h0m0-7h0m0-7h0m0 15h0m0 67h0m0-70h0m0-6h0m0-6h0m1-2h0m0-19h0m0 103h0m0-113h0m1 1h0m0 112h0m0-1h0m0-2h0m0 4h0m1-75h0m0-42h0m0 23h0m1 8h0m0 11h0m0 2h0m0 69h0m0 3h0m0-71h0m1-17h0m0 8h0m0-28h0m0 38h0m0 3h0m0-17h0m1-10h0m0 146h0m0-129h0m1 0h0m0-6h0m0 81h0m0-99h0m1-14h0m0 113h0m1 2h0m0-112h0m0 22h0m0 2h0m1 92h0m0-98h0m0 2h0m0 89h0m1-93h0m0 25h0m0-41h0m0-13h0m0 127h0m1 3h0m0-7h0m0-65h0m1-18h0m0 12h0m0-13h0m0 2h0m1-29h0m0 42h0m0-1h0m0-42h0m1 113h0m0-126h0m0 59h0m0 69h0m0-100h0m1 24h0m0-29h0m0 20h0m1-16h0m0 27h0m0-15h0m1 8h0m1 7h0m0-79h0m0 81h0m0-6h0m1-25h0m0 20h0m0-16h0m0-11h0m1 116h0m0-170h0m0 51h0m1 40h0m0-2h0m0-15h0m0 21h0m0 68h0m0-81h0m1 1h0m0 6h0m0-4h0m1-20h0m0-1h0m0 28h0m0-83h0m0 52h0m0 27h0m0 78h0m1-77h0m0-155h0m0 131h0m1 31h0m0-42h0m0 107h0m1-91h0m0 93h0m0-2h0m0-98h0m0 31h0m0-14h0m1 12h0m0 1h0m0-82h0m0 68h0m0 10h0m1 74h0m0-118h0m1 40h0m0 75h0m0-124h0m0 13h0m0 22h0m1 7h0m0 11h0m0-22h0m1 19h0m0-22h0m0 20h0m0-2h0m0-34h0m0 38h0m1 4h0m1 71h0m0-79h0m1-1h0m0-5h0m1-11h0m0 22h0m0-14h0m1 14h0m0-5h0m0 4h0m1 5h0m0 76h0m0-91h0m0-14h0m1 31h0m0 67h0m0 1h0m0-73h0m1-27h0m0-4h0m0 4h0m0 32h0m1-7h0m0 76h0m1-71h0m1 5h0m0-64h0m0 54h0m0 74h0m0-67h0m0-48h0m1 44h0m0-36h0m0 38h0m0-5h0m0 6h0m1 4h0m0-4h0m0-10h0m0 4h0m1 3h0m0 75h0m0-98h0m0-54h0m0 150h0m0-80h0m0 84h0m0-80h0m0 82h0m1-93h0m0 5h0m1 12h0m0-18h0m0 15h0m0-11h0m0 14h0m1-28h0m0 28h0m0 3h0m0-32h0m1 33h0m0-101h0m0 96h0m1 3h0m0-18h0m0 15h0m0 73h0m0-72h0m1-32h0m0-2h0m0 106h0m1-71h0m0-3h0m0-3h0m0-13h0m1-33h0m0 43h0m0-65h0m0 58h0m0 16h0m0 0h0m0 2h0m1-22h0m0 10h0m0 80h0m1 1h0m0-77h0m1-4h0m0 3h0m0-6h0m0 14h0m1-46h0m0 13h0m0 6h0m0 93h0m1-75h0m0 5h0m1-6h0m0-21h0m0 10h0m1 87h0m1 5h0m0-1h0m0-73h0m0-3h0m1-23h0m0 20h0m0-42h0m0 33h0m0 17h0m0-45h0m1-4h0m0 120h0m0-116h0m0-18h0m0 61h0m0-114h0m0 65h0m0 13h0m1 106h0m0-1h0m0-112h0m0 27h0m0 3h0m1 13h0m0-1h0m0 1h0m1-56h0m0 126h0m0-1h0m1-92h0m0 95h0m1-98h0m0-10h0m0 110h0m0-206h0m0 121h0m1-36h0m0 121h0m0-81h0m0 0h0m0-16h0m1 4h0m0 94h0m0-80h0m0 4h0m1-18h0m0 88h0m0-95h0m1 22h0m0 78h0m1-80h0m0-35h0m0 35h0m1 76h0m0-79h0m0-9h0m0 88h0m1 1h0m1-121h0m0 42h0m0-20h0m0-2h0m0 101h0m1-116h0m0 40h0m0-21h0m0 100h0m0 4h0m1-76h0m0-1h0m0 78h0m0-90h0m0 7h0m0 76h0m1 19h0m0-108h0m0 14h0m0-20h0m0 20h0m0 76h0m1-75h0m0 5h0m0-8h0m1 4h0m0-9h0m0-42h0m1 10h0m0 38h0m0 76h0m0-2h0m1-82h0m0 2h0m0-36h0m0 35h0m1 84h0m0 3h0m0-82h0m0-47h0m0 4h0m0 23h0m1 22h0m0 5h0m1 68h0m0-89h0m0-15h0m0 31h0m0 8h0m0-8h0m1 6h0m0 73h0m1-92h0m0-16h0m0 15h0m1 18h0m1-9h0m0 0h0m0-16h0m1 26h0m0 72h0m0-121h0m0-64h0m1 76h0m0 38h0m0-7h0m0 1h0m1 3h0m0-12h0m1-38h0m0 26h0m0-3h0m0 5h0m0 14h0m0 11h0m0-24h0m1 22h0m0 0h0m0-12h0m0 87h0m0-3h0m1-96h0m0 24h0m0-83h0m1 60h0m0 5h0m0-16h0m0 14h0m1-7h0m0 96h0m0-67h0m1 77h0m0-9h0m0-107h0m0 35h0m0-135h0m0 118h0m0 17h0m0-10h0m1-6h0m1-6h0m0-89h0m0 108h0m0 10h0m0 64h0m1-73h0m0-1h0m1 9h0m0-102h0m0 94h0m0-45h0m0 40h0m1 4h0m0-1h0m0-2h0m0-47h0m1 54h0m0-4h0m0 4h0m0-29h0m0 33h0m0 67h0m0-95h0m2-26h0m0 3h0m0 119h0m1-73h0m0-5h0m0-4h0m0 4h0m0-26h0m0 33h0m1-16h0m0 0h0m0 18h0m0-54h0m1 41h0m0-17h0m0 8h0m0-76h0m0 91h0m1-7h0m0 9h0m1-8h0m0-18h0m0 1h0m1 100h0m0-93h0m0 5h0m0 13h0m1-17h0m0 21h0m1-31h0m0 18h0m0-15h0m0 99h0m0-151h0m1 74h0m1 1h0m0 3h0m1-41h0m0 40h0m0-63h0m0 46h0m1 91h0m0-77h0m0 79h0m1-141h0m0 54h0m0-18h0m0 3h0m1 28h0m0-1h0m0 73h0m0-95h0m1 100h0m1-112h0m0 33h0m1-18h0m0 92h0m0-78h0m0-16h0m0 3h0m0 21h0m1-11h0m0-5h0m0 15h0m0-10h0m0 6h0m0-8h0m0 3h0m1 7h0m0-3h0m0-37h0m0 45h0m1 68h0m0-79h0m0 80h0m1-98h0m0 5h0m0 22h0m0-13h0m0 129h0m0-46h0m1-73h0m0-13h0m1 16h0m0-37h0m0 33h0m1 6h0m0-31h0m1 12h0m0 7h0m1 7h0m0 73h0m0 0h0m0 5h0m1-7h0m0-125h0m0 5h0m0 44h0m0-2h0m1 86h0m0-9h0m0-75h0m0-8h0m1-23h0m0 22h0m0 16h0m0 3h0m0 69h0m0-70h0m0 2h0m0-78h0m0 148h0m1-84h0m0-4h0m0 15h0m0-64h0m0 60h0m0 1h0m0-12h0m1 86h0m0-96h0m0 10h0m0-10h0m0 101h0m0-78h0m0-13h0m1-6h0m0 21h0m0-99h0m0 87h0m0 10h0m1-3h0m0-32h0m0 18h0m0 20h0m0 68h0m1 1h0m0-106h0m1 32h0m0 4h0m0-285h0m0 366h0m1-87h0m0-21h0m0 104h0m0-121h0m1 121h0m0-89h0m0 7h0m0 72h0m0 9h0m1-79h0m0 2h0m0-7h0m1-2h0m0-50h0m0 61h0m0-36h0m1 105h0m0-69h0m0-48h0m1 46h0m0 71h0m0-115h0m0 119h0m0-124h0m0 32h0m1-11h0m0-7h0m0 5h0m0 20h0m0 8h0m0 73h0m1-113h0m0 0h0m0-12h0m0 38h0m0 9h0m1 0h0m0-10h0m0 14h0m0 3h0m0-5h0m0 74h0m0-70h0m1-29h0m0 100h0m0-75h0m0 6h0m0-22h0m1 9h0m0 81h0m0-87h0m0 18h0m0-13h0m0-43h0m1 51h0m0-26h0m1-34h0m0 47h0m1 11h0m0 10h0m0 68h0m1-3h0m1-70h0m0 2h0m0-31h0m0 21h0m0 87h0m1-86h0m0-8h0m0 3h0m0 82h0m1 5h0m0-78h0m0 0h0m1-43h0m0 35h0m0-40h0m0 55h0m1-49h0m0 1h0m0 42h0m1-18h0m0-37h0m0 42h0m0 20h0m0-5h0m0-102h0m1 93h0m0-45h0m0 127h0m0-91h0m0-30h0m0 53h0m0 68h0m1-89h0m0-45h0m0 53h0m1-1h0m0 11h0m0 3h0m0-33h0m1-70h0m0 172h0m0-70h0m0-1h0m0-8h0m0-11h0m0 86h0m0-83h0m1 19h0m0 66h0m0-66h0m0 65h0m0-95h0m1 9h0m1 18h0m0-149h0m0 134h0m1-5h0m0-2h0m0 13h0m0 80h0m0-135h0m1 64h0m0 70h0m0-3h0m0-66h0m0-9h0m1-76h0m0 155h0m0-72h0m0 72h0m0-88h0m0 1h0m1 85h0m0-113h0m0 136h0m1-175h0m0 152h0m1-1h0m0-92h0m1 26h0m0-10h0m0 4h0m0 73h0m0-76h0m0 8h0m0-54h0m1 43h0m0-45h0m0 38h0m0 18h0m1 1h0m0-23h0m0-18h0m0 13h0m1-9h0m1-25h0m0 37h0m0 18h0m0 4h0m0 4h0m0-14h0m1 6h0m0 3h0m0-51h0m0 4h0m0 33h0m0-32h0m1 115h0m0-113h0m0 26h0m1 12h0m0-16h0m0 21h0m0 6h0m0-2h0m1 0h0m0 68h0m0-79h0m1 87h0m0-75h0m1 65h0m0 0h0m0-81h0m0-18h0m1 17h0m0 4h0m0-3h0m0 9h0m0-13h0m0 20h0m0-4h0m1 74h0m0-71h0m1-1h0m0-21h0m0 91h0m1 1h0m1-111h0m0 12h0m1-7h0m0 19h0m0-7h0m0 93h0m0-74h0m0-12h0m0-1h0m0-1h0m0 4h0m1 14h0m0-8h0m0-44h0m0 122h0m1-70h0m0 82h0m0-14h0m1-75h0m0-67h0m0 37h0m0 28h0m0-12h0m1 15h0m1-45h0m0 121h0m0-68h0m0-13h0m0-27h0m1 33h0m0-13h0m0 18h0m0-7h0m1 9h0m0-8h0m0 76h0m0-82h0m0-53h0m1 66h0m0 67h0m0-96h0m0 97h0m1 0h0m0 5h0m0-73h0m0-13h0m0-21h0m1 26h0m0 1h0m0-2h0m0-21h0m0-2h0m0 28h0m0-3h0m1-1h0m0-18h0m0 26h0m0-39h0m1-52h0m0 86h0m0-38h0m0 27h0m1 14h0m0-38h0m1 0h0m1 15h0m0 0h0m0 19h0m0-2h0m0-13h0m0 14h0m1 75h0m0-84h0m0-13h0m1 12h0m0 14h0m0 1h0m1 2h0m0-5h0m0-66h0m0 37h0m1 29h0m0-41h0m0 115h0m0-1h0m0-80h0m1-33h0m0-53h0m0 66h0m0 14h0m0 19h0m0-27h0m1 92h0m0-73h0m0-6h0m0 79h0m0-85h0m0-38h0m0 57h0m0-3h0m1 1h0m0 70h0m2-1h0m0-104h0m0 31h0m0-39h0m0 112h0m1-69h0m0 0h0m1 71h0m0-73h0m1-34h0m0 35h0m1-14h0m0 87h0m0-170h0m0 69h0m0 97h0m1-75h0m0 79h0m1-115h0m0 113h0m0-84h0m0-31h0m0 32h0m0 3h0m0-58h0m1 71h0m0-23h0m0-9h0m0-9h0m1 33h0m0-9h0m0 16h0m1-8h0m0-18h0m0 17h0m0 10h0m0-37h0m0 104h0m0-158h0m1 88h0m1 71h0m0-77h0m0-27h0m0 110h0m0-133h0m0 55h0m1-78h0m0 51h0m0 17h0m2 7h0m0 5h0m0 70h0m1-67h0m0-47h0m0 112h0m0-73h0m1-6h0m0-16h0m0 23h0m0 72h0m0-90h0m0 97h0m1-113h0m0 31h0m0 76h0m0-99h0m1 20h0m1-28h0m1 36h0m0-85h0m0 76h0m0-8h0m0 5h0m1 16h0m0-8h0m0 4h0m0-10h0m1 80h0m0-70h0m1-10h0m0-60h0m0 52h0m0-1h0m1 3h0m0 86h0m0-78h0m0 7h0m1 2h0m0 1h0m0-8h0m0-27h0m0 21h0m0 13h0m1-43h0m0 44h0m0-36h0m0 34h0m1-53h0m0 53h0m0-55h0m0-31h0m0 89h0m0-3h0m1-39h0m0 123h0m0-83h0m0-10h0m0-5h0m0 8h0m1 89h0m0-83h0m0-10h0m0 14h0m1 74h0m0-110h0m0 104h0m0-83h0m1 2h0m0-20h0m0 29h0m1-38h0m0 34h0m0 73h0m0 0h0m0-93h0m1 103h0m1-78h0m0-9h0m0-41h0m0 4h0m0 47h0m0 70h0m1-82h0m0-6h0m1 5h0m0-1h0m0 8h0m0-8h0m1-30h0m0 45h0m0-19h0m0-1h0m1 6h0m0-25h0m0 13h0m1 14h0m0-22h0m0 104h0m0-71h0m1 68h0m0-74h0m0 3h0m0 75h0m0-4h0m0-104h0m1-7h0m0 41h0m0-10h0m1-4h0m0 85h0m0-75h0m0 8h0m0-15h0m0-64h0m0-17h0m1 97h0m0-20h0m0 8h0m1-22h0m0 26h0m1 2h0m0 79h0m0-9h0m0-148h0m0 84h0m1-4h0m0-5h0m1-5h0m0-4h0m0 4h0m0 10h0m1 4h0m0-9h0m0 93h0m0-105h0m0 21h0m0-34h0m1 23h0m0 3h0m0-4h0m0 86h0m0-89h0m0 100h0m0-19h0m0-71h0m1-79h0m0 151h0m0-113h0m0-63h0m0 101h0m0-5h0m1-42h0m0 14h0m1 41h0m0 67h0m0-78h0m0 4h0m0 3h0m1-5h0m0 0h0m1 77h0m0-74h0m0 6h0m0-31h0m1 26h0m0 72h0m0-89h0m0 92h0m1-78h0m0 0h0m1 3h0m0 2h0m1-12h0m0-19h0m0-32h0m1 130h0m0-95h0m0 13h0m1-43h0m0 38h0m0 1h0m1-12h0m1 30h0m0 1h0m0-54h0m1 48h0m0 78h0m0-85h0m0 1h0m1 4h0m0 2h0m0-12h0m0 21h0m0-61h0m1 152h0m0-117h0m1-31h0m0 53h0m0-16h0m0 89h0m0-144h0m0 65h0m0 6h0m0-22h0m1 100h0m0-121h0m0 32h0m0 84h0m1-116h0m0 16h0m0 96h0m0-93h0m0 8h0m0 5h0m1 12h0m0-7h0m0 1h0m0-3h0m0-6h0m1-34h0m0-19h0m0 20h0m0 24h0m1 21h0m0-26h0m0 17h0m0-5h0m1 85h0m0-84h0m0 85h0m0-92h0m1 98h0m0-80h0m0 4h0m0-46h0m1 119h0m0-73h0m0 71h0m0-75h0m1-3h0m0-87h0m0 76h0m0 94h0m0-88h0m1 82h0m0 1h0m0-77h0m0 6h0m0 0h0m1-7h0m0-5h0m0 15h0m0 79h0m1-125h0m0 39h0m0 73h0m0-75h0m0 3h0m0-16h0m0 16h0m1 6h0m1-18h0m0 8h0m0 3h0m0 79h0m1-7h0m0-109h0m1 30h0m0-10h0m0 89h0m1 1h0m0 8h0m1-119h0m0 38h0m0 7h0m1-5h0m0-54h0m0 59h0m1 67h0m0 1h0m0-89h0m1-21h0m1 10h0m0 99h0m0-97h0m0 98h0m0-126h0m0 130h0m1-72h0m0-28h0m0-1h0m0 97h0m1-2h0m0-65h0m0-21h0m0 1h0m0-67h0m1 81h0m0-31h0m0 105h0m0-115h0m1 43h0m0 69h0m0-82h0m0-54h0m1 30h0m0 107h0m0-73h0m0-38h0m0 22h0m0 6h0m1-49h0m0 65h0m0 67h0m0-87h0m0 87h0m0-106h0m1 104h0m0 3h0m0-69h0m0-42h0m1 19h0m0 94h0m0-70h0m1-47h0m0 27h0m1 86h0m0-77h0m0-63h0m1 37h0m0 21h0m1 10h0m0 73h0m0-67h0m0-6h0m0-32h0m1 37h0m0-8h0m0 3h0m1 0h0m0-17h0m1-72h0m0 161h0m0 2h0m0-87h0m0 15h0m0-19h0m1 6h0m0 85h0m0-82h0m0-63h0m0 146h0m0-95h0m0 16h0m0-30h0m1 35h0m0-5h0m0-7h0m1 86h0m0-82h0m1 10h0m0-12h0m0-1h0m0 8h0m1 2h0m0-1h0m1-41h0m0 115h0m0 0h0m1-85h0m0 9h0m0 76h0m0-69h0m0 1h0m1 66h0m0-73h0m0-49h0m0 56h0m0 75h0m0-7h0m1-102h0m0 107h0m0-77h0m1 3h0m0 73h0m0-171h0m0 97h0m0-13h0m1-6h0m0 16h0m1-4h0m0 6h0m0 79h0m0-85h0m0-30h0m0-37h0m0 75h0m0 73h0m0-88h0m0-15h0m1 32h0m0 65h0m0 0h0m0-123h0m0-33h0m0 92h0m0 67h0m0 11h0m1-87h0m0 4h0m0 2h0m1 67h0m0-75h0m0-20h0m0 24h0m1 2h0m0-18h0m1 12h0m0-12h0m1 9h0m0 11h0m1-15h0m0-42h0m0 51h0m0 76h0m1 7h0m0-87h0m0 4h0"/>
<line x1="865.6" y1="1219.6" x2="865.6" y2="1485" stroke="#fff" stroke-width="1.8"/>
<line x1="911.8" y1="1219.6" x2="911.8" y2="1485" stroke="#fff" stroke-width="1.8"/>
<line x1="957" y1="1219.6" x2="957" y2="1485" stroke="#fff" stroke-width="1.8"/>
<line x1="988.2" y1="1219.6" x2="988.2" y2="1485" stroke="#fff" stroke-width="1.8"/>
<line x1="1026.4" y1="1219.6" x2="1026.4" y2="1485" stroke="#fff" stroke-width="1.8"/>
<line x1="1062.8" y1="1219.6" x2="1062.8" y2="1485" stroke="#fff" stroke-width="1.8"/>
<line x1="1092.4" y1="1219.6" x2="1092.4" y2="1485" stroke="#fff" stroke-width="1.8"/>
<line x1="1119.4" y1="1219.6" x2="1119.4" y2="1485" stroke="#fff" stroke-width="1.8"/>
<line x1="1142.7" y1="1219.6" x2="1142.7" y2="1485" stroke="#fff" stroke-width="1.8"/>
<line x1="1169.8" y1="1219.6" x2="1169.8" y2="1485" stroke="#fff" stroke-width="1.8"/>
<line x1="1193.8" y1="1219.6" x2="1193.8" y2="1485" stroke="#fff" stroke-width="1.8"/>
<line x1="1231.2" y1="1219.6" x2="1231.2" y2="1485" stroke="#fff" stroke-width="1.8"/>
<line x1="1244.1" y1="1219.6" x2="1244.1" y2="1485" stroke="#fff" stroke-width="1.8"/>
<line x1="1264.2" y1="1219.6" x2="1264.2" y2="1485" stroke="#fff" stroke-width="1.8"/>
<line x1="1284.4" y1="1219.6" x2="1284.4" y2="1485" stroke="#fff" stroke-width="1.8"/>
<line x1="1299.7" y1="1219.6" x2="1299.7" y2="1485" stroke="#fff" stroke-width="1.8"/>
<line x1="1320.8" y1="1219.6" x2="1320.8" y2="1485" stroke="#fff" stroke-width="1.8"/>
<line x1="1333.7" y1="1219.6" x2="1333.7" y2="1485" stroke="#fff" stroke-width="1.8"/>
<line x1="1343.1" y1="1219.6" x2="1343.1" y2="1485" stroke="#fff" stroke-width="1.8"/>
<line x1="1354.5" y1="1219.6" x2="1354.5" y2="1485" stroke="#fff" stroke-width="1.8"/>
<line x1="1360.8" y1="1219.6" x2="1360.8" y2="1485" stroke="#fff" stroke-width="1.8"/>
<line x1="1368.4" y1="1219.6" x2="1368.4" y2="1485" stroke="#fff" stroke-width="1.8"/>
<rect x="799.7" y="1218.6" width="589.5" height="267.4" fill="none" stroke="#8C8C8C" stroke-width="1.3"/>
<text x="833" y="1507.5" text-anchor="middle">1</text>
<text x="1005.6" y="1507.5" text-anchor="middle">5</text>
<text x="1155.9" y="1507.5" text-anchor="middle">10</text>
<text x="1273.6" y="1507.5" text-anchor="middle">15</text>
<text x="1350.3" y="1507.5" text-anchor="middle">20</text>
<text x="1380.6" y="1507.5" text-anchor="middle">X</text>
<text x="1094.5" y="1528.3" text-anchor="middle">Chromosome</text>
<text x="819.7" y="1253.6">n = 29,577</text>
<text x="1367.2" y="1253.6" font-size="20.2" text-anchor="end">Rep. 2</text>
<text x="731.7" y="1352.3" font-size="25.2" text-anchor="middle" font-weight="bold" transform="rotate(-90 731.7 1352.3)">RNA</text>
<text x="755.4" y="1352.3" font-size="25.2" text-anchor="middle" font-weight="bold" transform="rotate(-90 755.4 1352.3)">C-to-U editing (%)</text>
<line x1="1510.6" y1="1474.9" x2="2100.2" y2="1474.9" stroke="#E6E6E6" stroke-width="1.3"/>
<text x="1503.8" y="1482.1" text-anchor="end">0</text>
<line x1="1510.6" y1="1413.9" x2="2100.2" y2="1413.9" stroke="#E6E6E6" stroke-width="1.3"/>
<text x="1503.8" y="1421.1" text-anchor="end">20</text>
<line x1="1510.6" y1="1352.8" x2="2100.2" y2="1352.8" stroke="#E6E6E6" stroke-width="1.3"/>
<text x="1503.8" y="1360" text-anchor="end">40</text>
<line x1="1510.6" y1="1291.8" x2="2100.2" y2="1291.8" stroke="#E6E6E6" stroke-width="1.3"/>
<text x="1503.8" y="1299" text-anchor="end">60</text>
<line x1="1510.6" y1="1230.7" x2="2100.2" y2="1230.7" stroke="#E6E6E6" stroke-width="1.3"/>
<text x="1503.8" y="1237.9" text-anchor="end">80</text>
<rect x="1511.1" y="1414.2" width="588.6" height="33.6" fill="#8E1A1F"/>
<path transform="scale(0.5)" fill="none" stroke="#8E1A1F" stroke-width="5.8" stroke-linecap="round" d="M3023 2897h0m1-88h0m0 85h0m0 0h0m0 0h0m1-66h0m0-44h0m0 45h0m0-40h0m0 18h0m1 89h0m0-84h0m1-20h0m0 105h0m0 3h0m0-75h0m0-84h0m0 74h0m0 6h0m0-2h0m1 3h0m0-2h0m0 9h0m0 68h0m0-81h0m0-8h0m0-34h0m0-24h0m1 73h0m0 73h0m0-76h0m1-5h0m0-21h0m0 104h0m0-77h0m0-56h0m0 48h0m0 17h0m0-20h0m0-1h0m1 19h0m0-12h0m0 80h0m0 7h0m0-93h0m0-11h0m0-15h0m0 38h0m0 81h0m0-83h0m0 8h0m1-4h0m0 6h0m0 66h0m0-132h0m0-113h0m0 170h0m1-18h0m0 23h0m0-1h0m0 1h0m0-20h0m0 90h0m0-99h0m0 17h0m0 14h0m1-36h0m0 34h0m0-20h0m0 3h0m1 85h0m0-65h0m0 75h0m0-74h0m0 75h0m1-128h0m0 117h0m0-71h0m0-5h0m0-17h0m0 94h0m0-97h0m0 29h0m0-34h0m0 21h0m1 12h0m0-16h0m0 4h0m0 6h0m0-61h0m0 28h0m0 115h0m0-93h0m1 86h0m0-87h0m1-37h0m0 42h0m0 6h0m0-29h0m1 15h0m0-14h0m0 36h0m1-6h0m0-14h0m0-9h0m0-2h0m0-70h0m0 83h0m1-75h0m0 55h0m0 41h0m0-17h0m0-3h0m0 87h0m0-92h0m2 91h0m0-82h0m0-17h0m0 8h0m1-65h0m0 158h0m0-3h0m0-82h0m1 83h0m0-78h0m0-21h0m0-4h0m0-29h0m0 25h0m0 112h0m0-7h0m0 3h0m0-95h0m1 101h0m0-79h0m0 73h0m0-109h0m0 38h0m0-51h0m0 11h0m0-30h0m1 44h0m0 4h0m0 16h0m0-36h0m1 114h0m0-75h0m0-17h0m0 90h0m0 0h0m0-79h0m1 77h0m0-81h0m0 83h0m0-79h0m0 81h0m0-79h0m0 4h0m0-3h0m1 77h0m0-74h0m0-28h0m0 102h0m0-104h0m1-35h0m0 72h0m0-20h0m0 8h0m1 10h0m0 2h0m0-3h0m1 0h0m0 0h0m0-29h0m0 29h0m0 75h0m0-84h0m0-22h0m0 98h0m0-73h0m1-1h0m0 77h0m0 9h0m0-128h0m0 36h0m0-6h0m1-11h0m0 29h0m0 68h0m0-68h0m0-5h0m0 77h0m0-4h0m0-95h0m1 25h0m0-31h0m0 20h0m0 11h0m0 0h0m1-33h0m0 26h0m0-73h0m0 152h0m0-79h0m0 0h0m0-127h0m0-128h0m0 248h0m0 13h0m1-23h0m0 94h0m0 3h0m0 5h0m0-8h0m0-104h0m0-6h0m0 45h0m0-14h0m0-18h0m0 30h0m1-40h0m0 37h0m0 5h0m0 66h0m0-87h0m0 89h0m1-72h0m0-2h0m0-42h0m0 42h0m1 81h0m0-9h0m0-66h0m0-8h0m0 83h0m0-82h0m1 5h0m0 0h0m0-13h0m0 2h0m0 2h0m0 9h0m0-26h0m1 19h0m0 10h0m0-48h0m0 40h0m0 73h0m0 7h0m1-107h0m0 19h0m0 10h0m1 71h0m0 2h0m0-89h0m0 12h0m0-2h0m0 7h0m0 1h0m0 2h0m0-56h0m1 122h0m0 2h0m0 4h0m0-88h0m0 7h0m1 76h0m0-74h0m0 76h0m0-68h0m0-5h0m0 1h0m0-10h0m0-14h0m1 20h0m0 74h0m0-67h0m0 70h0m0-198h0m0 200h0m0-70h0m0 69h0m1-77h0m0 6h0m0 2h0m0-13h0m1 77h0m0-87h0m1 14h0m0-4h0m0 79h0m0-126h0m0 52h0m0-14h0m0 88h0m1-98h0m0 31h0m0-75h0m0 57h0m0-33h0m0 116h0m0-125h0m0 36h0m1-3h0m0 101h0m0-80h0m0-17h0m0 19h0m0-4h0m0-19h0m0 14h0m1-9h0m0 87h0m0-68h0m0 71h0m0-93h0m1 90h0m0 7h0m0-4h0m1 8h0m0-79h0m0-64h0m1-19h0m1 78h0m0-13h0m0 88h0m0-72h0m0 73h0m0 2h0m0-69h0m0-30h0m1 21h0m0 80h0m0-71h0m0-7h0m0-2h0m0-10h0m1 4h0m0-51h0m0 53h0m0-54h0m1 64h0m0-4h0m0-26h0m0-34h0m1 131h0m0-87h0m0 11h0m0 8h0m0-9h0m0 6h0m1-3h0m0 74h0m0-93h0m0-53h0m0 146h0m0-66h0m0 68h0m0 1h0m0-93h0m0-13h0m1-38h0m0 73h0m0-13h0m0 8h0m0 3h0m1 4h0m0-1h0m0-14h0m0 90h0m0-83h0m0 76h0m0-89h0m0-16h0m1 105h0m0-67h0m0-6h0m0-70h0m1 69h0m0-42h0m0 117h0m0-79h0m1 0h0m0-92h0m0 62h0m0-29h0m0 60h0m0 78h0m0-87h0m1 87h0m0 0h0m0-71h0m0-2h0m0 79h0m0-104h0m0-3h0m0-14h0m0 41h0m0 5h0m0-14h0m0 82h0m1-90h0m0 19h0m0-64h0m0 34h0m1 101h0m0-90h0m0 16h0m0-2h0m0 74h0m0-97h0m1-12h0m0 7h0m0 12h0m0 22h0m1-17h0m0 0h0m0 10h0m0 8h0m0-3h0m1 75h0m0-3h0m0-75h0m0 7h0m1 74h0m0-3h0m0-71h0m0 66h0m0 8h0m0-86h0m0 10h0m0-13h0m0-44h0m0-43h0m0 171h0m0-3h0m1 0h0m0 6h0m0-169h0m0 90h0m0-31h0m1 36h0m0-12h0m0 7h0m0-20h0m0 19h0m0 6h0m0-33h0m1 104h0m0-82h0m0-10h0m0 4h0m0 13h0m0-48h0m0 30h0m0 22h0m0-16h0m0 10h0m0 3h0m0-5h0m0 11h0m0-43h0m0 39h0m1-2h0m0-2h0m0-15h0m0 91h0m0-96h0m0 95h0m0-76h0m1-29h0m0 36h0m0 70h0m0-84h0m0 10h0m0-9h0m0 81h0m0-197h0m1 116h0m0 82h0m0-88h0m1 86h0m0-64h0m0 67h0m0-99h0m0 21h0m0 5h0m0-49h0m0 40h0m0 84h0m1-82h0m0-52h0m0-5h0m0 35h0m1 19h0m0-24h0m0 40h0m0-93h0m1 167h0m0-76h0m0-3h0m0-41h0m0-13h0m1 35h0m0-15h0m0 38h0m0-15h0m1 5h0m0 0h0m0 8h0m0-16h0m0 16h0m0-64h0m0 49h0m0 86h0m1-70h0m0-54h0m0 48h0m0 78h0m1-79h0m0-53h0m0 46h0m0 86h0m0-92h0m0 93h0m0-90h0m0 87h0m0-2h0m1-95h0m0-41h0m0 68h0m0 68h0m0-74h0m0 81h0m0-79h0m1-20h0m0 16h0m0 77h0m0-72h0m0 71h0m0-2h0m1-72h0m0 7h0m0-4h0m0-14h0m0 1h0m0 15h0m0 74h0m1-75h0m0-2h0m0-6h0m0 12h0m0 69h0m0-1h0m0-126h0m0 21h0m1 20h0m0 14h0m0 70h0m0 1h0m0-247h0m0 245h0m0-123h0m0 124h0m0-78h0m0 4h0m0-2h0m0-40h0m0 114h0m0-153h0m1 155h0m0-84h0m0 14h0m0-4h0m1-20h0m0 21h0m0-12h0m0 10h0m1-113h0m0 111h0m0-2h0m0-77h0m1 24h0m0 59h0m0 75h0m0-5h0m0-67h0m0-69h0m0 55h0m0 13h0m0 83h0m0-12h0m0 0h0m1-82h0m0 91h0m0-84h0m0-95h0m0 93h0m0 9h0m0-4h0m0 73h0m0-69h0m0-21h0m1 15h0m0-4h0m0-21h0m0-3h0m0 30h0m0 70h0m0-93h0m0 17h0m1 10h0m0-11h0m0 0h0m0-5h0m0-6h0m0-10h0m1 99h0m0-2h0m0-71h0m0 3h0m0-63h0m0 67h0m0-48h0m0 48h0m0 66h0m0-1h0m0 5h0m1-86h0m0-71h0m0 156h0m0-138h0m0 55h0m0 79h0m0-79h0m0 8h0m0 4h0m0-7h0m0-12h0m1-44h0m0 1h0m0 4h0m0 44h0m0 8h0m0-35h0m1 41h0m0 80h0m0-139h0m0 56h0m0-6h0m0 77h0m0-99h0m0 24h0m0 73h0m1 8h0m0-73h0m0-26h0m1 18h0m0-11h0m0 92h0m0-4h0m0-89h0m0-2h0m1-10h0m0 23h0m0-105h0m0 179h0m0-76h0m0-1h0m0 11h0m1-14h0m0 9h0m0 72h0m0-68h0m0-9h0m0 3h0m0-7h0m0-39h0m0 48h0m1-17h0m0 13h0m0 10h0m0-19h0m1 18h0m0-9h0m1 9h0m0-10h0m0-18h0m0 22h0m0-66h0m0 70h0m0-13h0m0 84h0m0 4h0m0-132h0m1-20h0m0 60h0m0 3h0m0-8h0m1-36h0m1 130h0m0-111h0m0 107h0m0-122h0m1 57h0m0 67h0m0-67h0m0-93h0m1 160h0m0-69h0m0-13h0m0 87h0m0-6h0m0-123h0m1 55h0m0-10h0m0-41h0m0 46h0m0-32h0m1 32h0m0-62h0m0 69h0m0-15h0m1 4h0m0 79h0m0-79h0m0-23h0m0 101h0m0 0h0m0-95h0m0 20h0m1-16h0m0 14h0m0 81h0m1-136h0m0 45h0m0 14h0m0-12h0m0 9h0m0 9h0m0 66h0m1-88h0m0-27h0m0 114h0m0-74h0m1-35h0m0 32h0m0 1h0m0 12h0m1-4h0m0 0h0m0-3h0m0 71h0m0-73h0m0-26h0m0-22h0m1 52h0m0 5h0m0-40h0m0 39h0m0-4h0m1-9h0m0 7h0m0-15h0m0 2h0m0-26h0m0 27h0m0-36h0m0 51h0m0-27h0m0 20h0m1 4h0m0-20h0m0 16h0m1-56h0m0 41h0m0-40h0m0 61h0m0 93h0m0-105h0m1 11h0m0 5h0m0-32h0m0 5h0m0 18h0m0-64h0m0 71h0m0-24h0m1 24h0m0-5h0m0-12h0m0-12h0m0-1h0m0-2h0m0 99h0m0 1h0m0-94h0m1-19h0m0 122h0m0-10h0m1-68h0m0-27h0m0 3h0m0 92h0m1-80h0m0 10h0m0-5h0m0 11h0m0 70h0m0-5h0m0-87h0m1-15h0m0 26h0m0-7h0m0 5h0m0-10h0m0 95h0m1-80h0m0 4h0m0-72h0m0 55h0m1-30h0m0 25h0m0 22h0m0 76h0m0-96h0m0 91h0m1-71h0m0-48h0m0 24h0m0 100h0m0-156h0m0 63h0m1 5h0m0-30h0m0 113h0m0-1h0m0-103h0m0 113h0m0-169h0m0 86h0m0 81h0m1-79h0m0-39h0m0 34h0m0 82h0m0-72h0m0-15h0m0-4h0m0 15h0m0-55h0m0 125h0m1-93h0m0 25h0m0-8h0m0-13h0m0 92h0m0-81h0m0-1h0m0 79h0m1-101h0m0 33h0m0-60h0m0 28h0m0 27h0m0 74h0m1-71h0m0-19h0m0-4h0m0 21h0m1-23h0m0 95h0m0-1h0m1-65h0m0-16h0m0-18h0m1 28h0m0 79h0m0-6h0m0-120h0m0 50h0m0-26h0m0-50h0m0 76h0m0-36h0m1 26h0m0-15h0m0 26h0m1-28h0m0 3h0m0 8h0m0 4h0m0-150h0m0 162h0m0 1h0m0-19h0m1 5h0m0 4h0m0-5h0m0 84h0m0-69h0m0-11h0m0 81h0m0-99h0m1 25h0m0-25h0m0 98h0m0-2h0m0 4h0m0-70h0m0-46h0m0 117h0m0-89h0m0 15h0m1-10h0m0 13h0m0-31h0m0-9h0m0 39h0m0-6h0m0 0h0m0 78h0m1-4h0m0-67h0m0-5h0m0 6h0m0-25h0m0 12h0m0 77h0m1-108h0m0 110h0m0-68h0m0 0h0m0 68h0m0-124h0m1-2h0m0 54h0m0 73h0m0-72h0m0 1h0m1-42h0m0 35h0m0-11h0m0 9h0m0-5h0m0-10h0m0 96h0m0-82h0m0 82h0m1-96h0m0 8h0m0-15h0m0 100h0m0-129h0m0 129h0m0-1h0m0 7h0m0-7h0m1-83h0m0 0h0m0 18h0m0-35h0m0 21h0m0-16h0m0 23h0m1 72h0m0-94h0m0 16h0m0 10h0m0-21h0m0-18h0m0 31h0m1-21h0m0 17h0m1-6h0m0 8h0m0 78h0m0-67h0m0-4h0m0-27h0m0 11h0m1 94h0m0-75h0m0-5h0m0 0h0m0 78h0m1-70h0m0 68h0m1-106h0m0 23h0m0-9h0m0 10h0m0-83h0m0 86h0m0 11h0m0-8h0m0 73h0m1-66h0m1-4h0m0 4h0m0 0h0m0-32h0m1-15h0m0-10h0m0 125h0m0-77h0m0 82h0m0-81h0m1 7h0m0 74h0m0-79h0m0 0h0m1 75h0m0-1h0m0 1h0m0-94h0m0 26h0m0-6h0m0-33h0m1 107h0m0-91h0m0 7h0m1 10h0m0 0h0m0 73h0m2-70h0m0 1h0m0-23h0m0-21h0m0 22h0m0 22h0m0-74h0m0 58h0m0 9h0m0 0h0m1-30h0m0 26h0m0-3h0m0 1h0m1 6h0m0 9h0m1-8h0m0 3h0m0 73h0m0-69h0m1-31h0m0 27h0m1 71h0m0-85h0m0 14h0m0 79h0m0-8h0m0-68h0m0 69h0m1-77h0m0 77h0m0-180h0m0 84h0m0 29h0m0 68h0m0-83h0m1 4h0m0 10h0m0 72h0m0-3h0m0-183h0m1 115h0m0 69h0m0-116h0m0 30h0m0-13h0m0 99h0m0-85h0m0-21h0m0-5h0m1 33h0m0-3h0m0 79h0m0-80h0m0 80h0m0-76h0m1-8h0m0 16h0m0-3h0m0-8h0m0 3h0m0 74h0m1-72h0m1-6h0m0 6h0m0-86h0m0 75h0m0 18h0m0-48h0m0 40h0m0 6h0m1-25h0m0 25h0m0-6h0m1 76h0m0-96h0m0 8h0m0 15h0m1 5h0m0 70h0m0-93h0m0 88h0m0-72h0m0-2h0m0-72h0m1 73h0m0 75h0m1-67h0m0 66h0m0 2h0m0-3h0m0-72h0m0-18h0m1 15h0m0 76h0m0-1h0m1 9h0m0-83h0m0-31h0m0 28h0m0-8h0m0-1h0m0 18h0m1-3h0m0-2h0m0-2h0m0-20h0m0 9h0m0 7h0m0 89h0m1-83h0m0 81h0m0-83h0m0 0h0m0 8h0m0 1h0m1-42h0m0-49h0m0 58h0m0 99h0m0-122h0m0 27h0m1-33h0m0 15h0m0 113h0m0 8h0m0-73h0m0-11h0m0-17h0m0 18h0m0-62h0m0 36h0m1-16h0m0 43h0m0-29h0m0 26h0m0 9h0m0-32h0m0 104h0m1-79h0m0-4h0m0 6h0m0-1h0m0-19h0m1-6h0m0-13h0m0 35h0m0 11h0m0-1h0m0-3h0m1 3h0m0-55h0m0 56h0m0 68h0m0-90h0m0 23h0m0 68h0m0-68h0m1-10h0m0-20h0m0-26h0m0 33h0m1 89h0m0 0h0m0-113h0m0 21h0m1 92h0m0-230h0m0 160h0m0-10h0m0 80h0m0-80h0m0 10h0m0 69h0m0-77h0m0-34h0m0 9h0m0 102h0m1-67h0m0 69h0m0 2h0m0-70h0m0 70h0m0-108h0m1 21h0m0 0h0m0-25h0m0 31h0m1 2h0m0-9h0m0 10h0m0 76h0m0-118h0m0 47h0m1-7h0m0-14h0m0 15h0m0-4h0m0-60h0m0 150h0m0-78h0m0-23h0m1 91h0m0-133h0m0 52h0m0 9h0m0 6h0m0 66h0m0 6h0m0-3h0m1-99h0m0 26h0m0 4h0m0 72h0m0-76h0m0 4h0m0-1h0m0-124h0m0 121h0m0-1h0m1-59h0m0 137h0m0-100h0m0 93h0m0-69h0m0-11h0m0 80h0m0-69h0m1-17h0m0 9h0m0 79h0m0-69h0m0-9h0m0 83h0m1-4h0m0-109h0m0 105h0m0-70h0m0 0h0m0-25h0m0-5h0m0 18h0m0 2h0m0-4h0m0-20h0m1 104h0m0-84h0m1 87h0m0-1h0m0-133h0m0 7h0m0 53h0m0 78h0m1 1h0m0-91h0m0-14h0m0 32h0m0 68h0m1-74h0m0-40h0m0 45h0m0-53h0m0 2h0m0 53h0m0 67h0m0-73h0m0 74h0m0-78h0m0 82h0m0-95h0m0-5h0m1 19h0m0-7h0m0-72h0m0 156h0m0-76h0m0-39h0m0 115h0m0-72h0m0-10h0m0-70h0m1 83h0m0-58h0m0 124h0m0-107h0m1-94h0m0 202h0m0-82h0m0 12h0m0-26h0m0 28h0m0 69h0m0-99h0m0 26h0m0 70h0m1 3h0m0-71h0m0-6h0m0-36h0m0-20h0m0 132h0m0-108h0m0 28h0m0 79h0m0 3h0m0-85h0m0 13h0m0 71h0m1-134h0m0 65h0m0 69h0m0-2h0m0-76h0m0 76h0m1-102h0m0 36h0m0-136h0m0 204h0m0-79h0m0 10h0m0-7h0m0-3h0m0 78h0m0 1h0m1-209h0m0 132h0m0 4h0m0 73h0m1-118h0m0 40h0m1-57h0m0 64h0m0-27h0m0 21h0m0-47h0m1 55h0m0 76h0m0-92h0m0 85h0m0-3h0m0 0h0m0-77h0m0 79h0m1-74h0m0 8h0m0 66h0m0-75h0m1-86h0m0 85h0m0 6h0m0-11h0m0 11h0m0 2h0m1 67h0m0-75h0m1 6h0m0-78h0m0 149h0m0-88h0m0 88h0m0-124h0m0 51h0m0-14h0m0 86h0m0-88h0m0 18h0m1 72h0m0-85h0m0-33h0m0 47h0m0 70h0m0-96h0m1-3h0m1-22h0m0 120h0m0-73h0m0-1h0m0 73h0m0-69h0m0-6h0m0-5h0m1 80h0m0-1h0m0-114h0m0 126h0m0-126h0m0-18h0m0 42h0m0 24h0m0-5h0m0-5h0m1 0h0m0 79h0m0-94h0m0 22h0m0-7h0m0 79h0m1-113h0m0 45h0m0-34h0m0 17h0m0-2h0m0 18h0m0 68h0m2 6h0m0-73h0m0-10h0m0-49h0m0 126h0m0 12h0m1-78h0m0 69h0m0-185h0m0 110h0m0-5h0m0 78h0m0-84h0m1-9h0m0 23h0m0-26h0m0-2h0m0 27h0m0-73h0m1 144h0m0-80h0m0 12h0m0-64h0m0-18h0m0 53h0m0 12h0m0 84h0m0-72h0m0-28h0m0 30h0m1 68h0m0 2h0m0-1h0m0-99h0m0 98h0m0-128h0m0 128h0m0-81h0m0 83h0m0-69h0m0-24h0m0 18h0m0-18h0m0 5h0m1 16h0m0 71h0m0-66h0m0 65h0m0-65h0m0 1h0m0-34h0m1 10h0m0 15h0m0-19h0m0 94h0m0-105h0m0 8h0m0-17h0m0 29h0m0 86h0m1 0h0m0-76h0m0-18h0m0-63h0m0 62h0m1 25h0m0-1h0m0 68h0m0 5h0m0-124h0m1 44h0m0 79h0m0-4h0m0-72h0m0-1h0m0 75h0m0-78h0m0 76h0m1-127h0m0 43h0m0 9h0m0 77h0m0-133h0m0 11h0m1 49h0m0-16h0m0-24h0m0 4h0m0 31h0m1 85h0m0-83h0m0 10h0m0-97h0m0 71h0m1 23h0m0-21h0m0-47h0m0 65h0m0 73h0m0-77h0m0 6h0m0 1h0m0 1h0m0 69h0m0 0h0m0-77h0m1-19h0m0 15h0m0 5h0m0-32h0m0 25h0m0 14h0m0-9h0m0-30h0m0 40h0m0-1h0m1 67h0m0-135h0m0 29h0m0 37h0m0 4h0m1-12h0m0 82h0m0-148h0m0 60h0m0 16h0m0-32h0m0 99h0m0-83h0m0 85h0m0-75h0m1 76h0m0-70h0m0 0h0m0-53h0m0 40h0m0 13h0m0 67h0m0-70h0m0 3h0m1-12h0m0 79h0m1-67h0m0-18h0m0 12h0m0 6h0m0 1h0m0-3h0m0-9h0m1 0h0m0-2h0m0-19h0m1 11h0m0-13h0m0 26h0m0-77h0m0 80h0m0-14h0m0 94h0m0-75h0m0 1h0m1 65h0m0-66h0m0 74h0m0-7h0m1-78h0m0 12h0m0-3h0m0 69h0m1-103h0m0 5h0m0 24h0m0 2h0m0 5h0m0-6h0m0-14h0m0 87h0m0 6h0m1-93h0m0-49h0m0 64h0m0 72h0m0-107h0m0 38h0m0 2h0m0-1h0m1-51h0m0 8h0m0 116h0m0-76h0m0-32h0m1 17h0m0 10h0m0 6h0m0 4h0m1 77h0m0-77h0m0 70h0m0-69h0m1 68h0m0-3h0m0-99h0m0-5h0m0 28h0m0 76h0m0 2h0m0-80h0m0 2h0m1-48h0m0 59h0m0-20h0m0 13h0m0 76h0m0-113h0m0 43h0m0-2h0m1-1h0m0 70h0m0-155h0m0 71h0m0 11h0m0-74h0m0 77h0m0 68h0m1-67h0m0-85h0m1 60h0m0-154h0m0 246h0m0-90h0m0-5h0m0-15h0m0 15h0m0 28h0m1 75h0m0-73h0m0 1h0m0-82h0m0 59h0m0-1h0m0 20h0m0 78h0m0-9h0m0-133h0m0 46h0m1 86h0m0-102h0m0 105h0m0-68h0m0-34h0m0 31h0m0-3h0m0-41h0m1 22h0m0 21h0m0-27h0m0 4h0m1 25h0m0 68h0m0-174h0m0 93h0m0 82h0m0 1h0m1-68h0m0-16h0m0-15h0m0-5h0m0 101h0m0-86h0m0 89h0m0 1h0m1-2h0m0-71h0m0 0h0m0-9h0m0 8h0m1 73h0m0-123h0m1 52h0m0 2h0m0-2h0m0-13h0m0 1h0m1 6h0m0 3h0m0-13h0m0-55h0m0 62h0m0 8h0m0-23h0m0 94h0m1-79h0m0 6h0m0-52h0m0 51h0m0-6h0m0-15h0m1 20h0m0 74h0m0-115h0m0 47h0m0-4h0m1-4h0m0 76h0m0-125h0m0 47h0m0-10h0m0 23h0m0-62h0m0 61h0m1-1h0m0-2h0m0-10h0m0 7h0m0 74h0m0-71h0m0-18h0m1 13h0m0-9h0m0-67h0m0 37h0m0 9h0m1-90h0m0 208h0m0-83h0m0-18h0m0 22h0m1-7h0m0-10h0m0-12h0m0 25h0m0-19h0m0 12h0m1-14h0m0 13h0m0-9h0m0 11h0m0 75h0m0 2h0m0-118h0m0 35h0m1 12h0m0 69h0m0 3h0m0-76h0m0 73h0m1-71h0m0-12h0m0-36h0m1 133h0m0-12h0m0 10h0m0-107h0m1 99h0m0-4h0m0-66h0m1-6h0m0-7h0m0 4h0m0-33h0m0-35h0m0 56h0m0 14h0m1-6h0m0 80h0m0-137h0m0 51h0m0 12h0m0-2h0m0-19h0m1 94h0m0-151h0m0 85h0m0-20h0m1 4h0m0 0h0m0-25h0m0 112h0m0-100h0m1 9h0m0 86h0m0-66h0m0-61h0m0 126h0m1-77h0m0-3h0m1-10h0m0 24h0m0-10h0m0 80h0m0 3h0m0-75h0m0-55h0m1 128h0m0-114h0m0 43h0m0 66h0m0 4h0m0-79h0m0 5h0m0-60h0m0 59h0m0-3h0m1 2h0m0-38h0m0 45h0m0 1h0m0-11h0m0 0h0m0-43h0m0 43h0m0 7h0m1 4h0m0-23h0m0-6h0m0-11h0m1 18h0m0 11h0m0 75h0m0-99h0m0 29h0m1-49h0m0-4h0m0 124h0m0-68h0m0 70h0m0-71h0m0-27h0m0 4h0m0 7h0m1 9h0m0 79h0m0-74h0m0 72h0m0-69h0m0-19h0m0-4h0m0 8h0m0 9h0m0-40h0m0 45h0m1 69h0m0-86h0m0-42h0m0-10h0m0 68h0m0 72h0m0-2h0m0-1h0m0-79h0m1 89h0m0-113h0m0 36h0m0-6h0m0-68h0m0 69h0m0-20h0m0 21h0m0-5h0m0 77h0m0-69h0m0 68h0m1-68h0m0-45h0m0 114h0m1-67h0m0-50h0m0 118h0m1-67h0m0-69h0m0 134h0m0 3h0m0-99h0m0 97h0m1-70h0m0-15h0m0 11h0m0-73h0m1 70h0m0-2h0m0-1h0m0-16h0m0-26h0m1 23h0m0 4h0m0 95h0m0-1h0m0-110h0m0 111h0m0-66h0m1-20h0m0 18h0m0 69h0m0-96h0m0 16h0m0 81h0m0-1h0m1 4h0m0-75h0m0 74h0m0-143h0m0 65h0m0 75h0m0-67h0m0-10h0m0 10h0m0-48h0m1 123h0m0-97h0m0 7h0m0-60h0m1 52h0m0 95h0m0-110h0m0 22h0m0 11h0m0-10h0m0-6h0m1-5h0m0 95h0m0-4h0m1-108h0m0 13h0m0 20h0m0-34h0m0 26h0m0 8h0m0-3h0m0 9h0m1-96h0m0 169h0m0 5h0m0-75h0m0-46h0m1 25h0m0 1h0m0 17h0m0-49h0m0 119h0m0-67h0m0 1h0m0-13h0m1-7h0m0 15h0m0-22h0m0 26h0m0 66h0m0-112h0m1 30h0m1 11h0m0-6h0m0 11h0m0-32h0m0 9h0m0 92h0m1 6h0m0-83h0m0-6h0m0 0h0m0-34h0m0-18h0m0 136h0m0-68h0m0-2h0m0-9h0m0-44h0m0 6h0m0 38h0m1 11h0m0-3h0m0 69h0m0-74h0m0 73h0m0-75h0m0 5h0m0-31h0m0 27h0m0 7h0m0-19h0m0-25h0m0 112h0m0-71h0m1 4h0m0-102h0m0 99h0m0 0h0m0-15h0m0 15h0m0-62h0m0 62h0m1-11h0m0 14h0m0-16h0m0 84h0m0-3h0m0-64h0m0-11h0m1-2h0m0 84h0m0-6h0m0-80h0m0 5h0m0-2h0m1 80h0m0-69h0m0-69h0m0 55h0m0 1h0m0 78h0m0 3h0m0-85h0m1 7h0m0-80h0m0 157h0m0-88h0m0 17h0m0-62h0m1 45h0m0 90h0m0-100h0m0-7h0m0 105h0m1-68h0m0-4h0m0-103h0m0 83h0m1 6h0m0-59h0m0 40h0m0 17h0m0 13h0m0-4h0m1-8h0m0 87h0m0 2h0m1-3h0m0-84h0m0 11h0m0-10h0m0 13h0m0-2h0m0 7h0m1-6h0m0 73h0m0-96h0m0 11h0m0 7h0m0 2h0m0 75h0m1-97h0m0-37h0m0 22h0m1 43h0m0 72h0m0-85h0m0 5h0m0 9h0m0 66h0m0-96h0m0 5h0m1 91h0m0-78h0m0-162h0m0 169h0m0 78h0m1 0h0m0-117h0m0 41h0m0 71h0m1-100h0m0 23h0m0 1h0m0 5h0m0-13h0m0 16h0m1-31h0m0 33h0m0-18h0m0 14h0m0-9h0m1 6h0m0 2h0m0-23h0m0 95h0m0-3h0m0-91h0m0 6h0m1 87h0m0 1h0m1-69h0m0-15h0m0 14h0m0-18h0m0 19h0m0 1h0m0 74h0m1-101h0m0-20h0m0 46h0m1-5h0m0 71h0m1-95h0m0 15h0m0 16h0m0-76h0m1 144h0m0-116h0m0 40h0m0-14h0m0 10h0m1-40h0m0 45h0m0 71h0m0 0h0m0-71h0m0 73h0m1 11h0m0-81h0m0 75h0m0-85h0m0-6h0m0 19h0m0 68h0m1-118h0m0 117h0m0-71h0m0-18h0m0-31h0m0 120h0m0-96h0m0 96h0m1 0h0m0-94h0m0 92h0m0-65h0m0-3h0m1 76h0m0-132h0m0 39h0m0 86h0m0-71h0m0 72h0m0-80h0m0-11h0m0-8h0m1-19h0m0 46h0m0-2h0m0-38h0m0 0h0m0 40h0m0 79h0m0-127h0m0 45h0m1-24h0m0 30h0m0-3h0m0-63h0m0 135h0m1-90h0m0 1h0m0-1h0m0-18h0m1-17h0m0 18h0m0 108h0m1-101h0m0-58h0m0 55h0m0 23h0m0 2h0m0-47h0m0 126h0m0-84h0m0 13h0m0-66h0m0 66h0m0 69h0m0 1h0m1-71h0m0-19h0m0-34h0m0 123h0m0-94h0m0-30h0m0 130h0m1-86h0m0 82h0m0-72h0m0-16h0m0-25h0m0 112h0m1-75h0m0 76h0m1-107h0m0 104h0m0 3h0m0-74h0m0 1h0m0-11h0m1 83h0m0-103h0m0 105h0m0-80h0m0-36h0m0 23h0m0 16h0m0-6h0m0 15h0m1-79h0m0-17h0m0 84h0m0 78h0m0-75h0m0 77h0m0-4h0m0-68h0m1 80h0m0-8h0m0-89h0m0 88h0m0-1h0m0-67h0m1-11h0m0 83h0m0-82h0m0-26h0m0 104h0m0-114h0m0 43h0m0 72h0m0-1h0m0-129h0m1 50h0m0-19h0m0 30h0m0-28h0m0 7h0m0 5h0m0 86h0m1-5h0m0-99h0m0 3h0m0 101h0m0-125h0m0 121h0m0 0h0m1-65h0m0-13h0m0-10h0m0-4h0m0 11h0m0 81h0m0-66h0m0-8h0m0 75h0m1-74h0m0 3h0m0-33h0m0 23h0m0-57h0m0 139h0m0-76h0m1 5h0m0-14h0m0 18h0m0 67h0m0-3h0m0-78h0m0 81h0m1-70h0m0-26h0m0 26h0m0-1h0m0-8h0m0 7h0m0-2h0m1-22h0m0 19h0m0 77h0m0-70h0m0-4h0m0 2h0m1-19h0m0 90h0m0-96h0m0 96h0m0-149h0m0 76h0m1-17h0m0-28h0m0 46h0m0 72h0m1-83h0m0 7h0m0 6h0m0-14h0m0 14h0m1-72h0m1 71h0m0 79h0m0-104h0m0 8h0m0 93h0m0-78h0m0-9h0m0 11h0m0-14h0m1 12h0m0-44h0m0 115h0m0-129h0m0 60h0m0-9h0m0-11h0m0-8h0m1-7h0m0 108h0m0-108h0m0 16h0m0 106h0m0-100h0m0 87h0m0-69h0m0-24h0m0 89h0m0-165h0m0 33h0m0 56h0m1 5h0m0-30h0m0 15h0m0-6h0m0 94h0m1-85h0m0 10h0m0-18h0m1 92h0m0-104h0m0 28h0m0 0h0m0-6h0m1 5h0m0 76h0m0-66h0m0 1h0m0 66h0m1-78h0m1 3h0m0 79h0m0-5h0m0 0h0m0-74h0m0-18h0m1 93h0m0 0h0m0 1h0m0-1h0m0-1h0m0-75h0m0 2h0m1 3h0m0 72h0m0 9h0m0-87h0m1-95h0m0 78h0m0 0h0m0 17h0m1-11h0m0-4h0m0 92h0m0 1h0m0 0h0m0-72h0m0-7h0m0 8h0m0 71h0m0-1h0m1-68h0m0-2h0m0-3h0m0-8h0m0 79h0m1-67h0m0-5h0m0-42h0m0 15h0m0 106h0m0-90h0m1-4h0m0 96h0m0-98h0m0 6h0m0-79h0m0 75h0m1 17h0m0-9h0m0 81h0m0 2h0m0-3h0m0 8h0m0-110h0m0 35h0m0-5h0m0 5h0m1-33h0m0-14h0m0 115h0m0-136h0m0 65h0m0-13h0m1 16h0m0-4h0m0 97h0m1-98h0m0-35h0m0 31h0m1-24h0m0-15h0m0-10h0m1 26h0m0-4h0m1 36h0m0-138h0m0 107h0m0 20h0m0-7h0m0 17h0m1-26h0m0-5h0m0-28h0m0 57h0m0 72h0m0-74h0m0-14h0m0 17h0m0 1h0m0 2h0m1-49h0m0 114h0m0-66h0m0-64h0m0 64h0m0 73h0m0-72h0m1-3h0m0 71h0m0-72h0m0 1h0m1-3h0m0-15h0m0 19h0m0 3h0m0-13h0m0 12h0m0 74h0m0-78h0m1-24h0m0 12h0m1-4h0m0 18h0m0-6h0m1-10h0m0 19h0m0-29h0m0 96h0m0-1h0m0-82h0m1 9h0m0-8h0m0 4h0m0-26h0m0 114h0m0-85h0m0-9h0m1-27h0m0 11h0m0-41h0m0 143h0m0 1h0m0-79h0m0 73h0m1 0h0m0-82h0m0-13h0m0 21h0m0 5h0m1 2h0m0 68h0m0 0h0m0-70h0m0 71h0m1 0h0m0-71h0m0-16h0m1 91h0m0-93h0m0 8h0m0 82h0m0-73h0m0-83h0m0 84h0m0 79h0m0-8h0m0-69h0m1-7h0m0-25h0m0 16h0m0 10h0m0 76h0m1-106h0m0 29h0m0 5h0m0 4h0m0-41h0m0 107h0m0-93h0m1 13h0m0-83h0m0 63h0m0 25h0m0-6h0m0 3h0m0 79h0m1-80h0m0 80h0m0 6h0m0 1h0m1-79h0m0 1h0m0-23h0m0-12h0m0 116h0m0-8h0m1-69h0m0-1h0m0-12h0m0 11h0m0-2h0m0-9h0m1-9h0m0 87h0m0 9h0m0-77h0m1 70h0m1-99h0m0-2h0m0 101h0m0-79h0m0 80h0m0-98h0m0-2h0m0 101h0m0-77h0m1 75h0m0-112h0m0 9h0m0-24h0m0 52h0m1 74h0m0-1h0m0-98h0m0 101h0m0-149h0m0 37h0m1 113h0m0-87h0m0 83h0m0 6h0m1-83h0m0 11h0m0 72h0m0-6h0m1-150h0m0 152h0m0-75h0m1 85h0m0-93h0m0 89h0m0-82h0m0-4h0m0-9h0m0 87h0m0-129h0m0 41h0m1 96h0m0-143h0m0 135h0m1-78h0m0-112h0m0 117h0m0 7h0m1-9h0m0-115h0m0 13h0m0 84h0m0 13h0m0 82h0m0-85h0m0-3h0m0-10h0m0 19h0m0 11h0m1-24h0m0 3h0m0-5h0m1 95h0m0-2h0m0-70h0m1-79h0m0 74h0m0-33h0m0 41h0m0-6h0m0 73h0m0-75h0m1 82h0m0-78h0m0-23h0m0 27h0m0 68h0m0-97h0m0 98h0m0-2h0m1-82h0m0 88h0m0-1h0m0-93h0m0 10h0m0 79h0m0 2h0m0-73h0m0 78h0m1-82h0m0-32h0m0 33h0m1-4h0m0 5h0m0-86h0m0 51h0m0 36h0m0-26h0m0 22h0m0 74h0m0-98h0m1 32h0m0-9h0m0 9h0m0-3h0m1-15h0m0-85h0m0 100h0m0-19h0m0-70h0m0 169h0m0-76h0m1-31h0m0 98h0m0-221h0m0 149h0m0-32h0m0 102h0m0-70h0m0 71h0m0-106h0m0 112h0m0-93h0m1-92h0m0 110h0m0-13h0m0-72h0m0 37h0m0 43h0m1-8h0m0 6h0m0-31h0m0 20h0m1 21h0m0-1h0m0-24h0m0 26h0m0-35h0m0 26h0m0-9h0m0 11h0m1-19h0m0 2h0m0 5h0m0 17h0m0-38h0m1-21h0m0 129h0m0-98h0m1 100h0m0-86h0m0 83h0m0-78h0m0-7h0m1-11h0m0-16h0m0-129h0m0 246h0m0-76h0m0 2h0m1-25h0m1 22h0m0-33h0m0 120h0m0-107h0m0 18h0m0-6h0m0 11h0m0 0h0m0-13h0m0 81h0m0-73h0m0-33h0m1 113h0m0-7h0m0-67h0m0 67h0m0-94h0m0 95h0m0-72h0m0-3h0m0-59h0m1 57h0m0 9h0m0-4h0m0 70h0m0-124h0m0 56h0m0 68h0m0-75h0m0-7h0m1 1h0m0 82h0m0 9h0m0-137h0m0 128h0m1-143h0m0-43h0m0 103h0m0 81h0m0-79h0m1-50h0m0 53h0m0-1h0m0 9h0m0-15h0m0 2h0m0 3h0m0-19h0m1-1h0m0 7h0m0-10h0m0 23h0m1-11h0m0 15h0m0 4h0m0-7h0m0-117h0m0 85h0m0 39h0m1-5h0m0-22h0m0 11h0m0 86h0m0-122h0m0 129h0m0-82h0m0 6h0m1-76h0m1 81h0m0-36h0m0 12h0m0 91h0m0-136h0m0 50h0m0 18h0m0-4h0m0-8h0m0 3h0m1-28h0m0 38h0m0 65h0m0-117h0m0 27h0m0-23h0m0 19h0m0 99h0m1-77h0m0 3h0m0 76h0m1-138h0m0 47h0m0-20h0m0 117h0m0-12h0m0-118h0m0 46h0m0-25h0m0 25h0m1-30h0m0 20h0m0 83h0m0-134h0m0 61h0m0-42h0m0-2h0m0 118h0m0-81h0m1 4h0m0-35h0m0 14h0m0 22h0m0 74h0m0-87h0m0 85h0m1-175h0m0 111h0m0-7h0m0-16h0m0-7h0m0 94h0m0 6h0m1-5h0m0-99h0m0 101h0m0 5h0m0-4h0m0-80h0m1-76h0m0 80h0m0-22h0m0 13h0m0 14h0m0-7h0m0 77h0m1-68h0m0-29h0m0 28h0m0-1h0m0 70h0m0-97h0m1-16h0m0 26h0m0 91h0m0-94h0m0 91h0m0-71h0m1-13h0m0-25h0m0 11h0m0-2h0m1 99h0m0-69h0m0-28h0m1-9h0m0 103h0m0-92h0m0 95h0m0-81h0m0-98h0m1 98h0m0 13h0m0 67h0m0 14h0m0-86h0m1-4h0m0 8h0m1 70h0m0-79h0m0-9h0m0-10h0m0 20h0m0-77h0m0 74h0m0-17h0m0 97h0m1-74h0m0-101h0m0 104h0m0-18h0m0 97h0m1-8h0m0-88h0m0 86h0m0-87h0m0-25h0m0 40h0m1-11h0m0 3h0m0 83h0m0-4h0m0-68h0m1-24h0m0 13h0m0-9h0m0 90h0m0-81h0m0-3h0m0-31h0m0 120h0m1 17h0m0-131h0m0 23h0m0 85h0m0-70h0m0-26h0m0 11h0m0 94h0m0-109h0m0 26h0m0 81h0m1-78h0m0 2h0m0 68h0m0 4h0m0-83h0m0 9h0m1 71h0m0-74h0m0 81h0m0-74h0m0-11h0m1-69h0m0 59h0m0-28h0m0 116h0m0 0h0m0-73h0m0-49h0m0 123h0m0-101h0m1-6h0m0 25h0m0-31h0m0 36h0m0-24h0m0 13h0m0 9h0m0-19h0m1 30h0m0 1h0m0 1h0m1-120h0m0 114h0m0-9h0m0-2h0m1 16h0m0-23h0m0-17h0m0 25h0m0 5h0m0-1h0m0-39h0m1 124h0m0-75h0m0 1h0m0-27h0m0 28h0m0-9h0m0-51h0m0 51h0m1 74h0m0-73h0m0 4h0m0-103h0m0 171h0m0-91h0m0 17h0m0 3h0m0-37h0m1 34h0m0-50h0m0 32h0m0 96h0m0 6h0m1-79h0m0 69h0m0-68h0m0 70h0m0 1h0m1-101h0m0 30h0m0-38h0m0 31h0m0-23h0m0 100h0m0-75h0m0 76h0m0-1h0m1-153h0m0 154h0m0 4h0m0-87h0m0 2h0m0 84h0m1-99h0m0 28h0m0-46h0m0 37h0m0 1h0m0 75h0m1-2h0m0-79h0m0-50h0m0 3h0m0 17h0m0 29h0m0 12h0m0 69h0m1-67h0m0-33h0m0 100h0m0-94h0m0-14h0m0 108h0m0-100h0m0 12h0m1 100h0m0-88h0m0 2h0m1 4h0m0-26h0m0 105h0m0-96h0m0 1h0m0 88h0m1-71h0m0 70h0m0-70h0m0 4h0m0-50h0m0 32h0m0-43h0m0 44h0m1 4h0m0 77h0m0-71h0m0-8h0m0 5h0m1 4h0m0 72h0m0-74h0m0 72h0m0-84h0m0 10h0m1-43h0m0 119h0m0-68h0m0 0h0m0 72h0m0-76h0m0 2h0m0-47h0m0 49h0m0-4h0m0 71h0m1-75h0m0 75h0m0-82h0m0-20h0m0 10h0m0-17h0m0 24h0m0 6h0m0-24h0m0 37h0m1-21h0m0-30h0m0 44h0m0 1h0m0 73h0m0-74h0m0-51h0m0 124h0m1-68h0m0 70h0m0-83h0m0-28h0m0 111h0m0-96h0m0-30h0m0 37h0m0-24h0m1 39h0m0 82h0m0-86h0m0 11h0m0-15h0m0 81h0m0-66h0m1-2h0m0-24h0m1-25h0m0 117h0m0-120h0m0 24h0m0-17h0m1 39h0m0 1h0m0-31h0m0 36h0m0-21h0m0-9h0m1-18h0m0 42h0m0-9h0m0 90h0m0-116h0m0 39h0m0-19h0m1 5h0m0 15h0m0 1h0m0-17h0m0 16h0m0 67h0m0-105h0m1 36h0m0-23h0m0 95h0m0-68h0m0-28h0m0 22h0m0-1h0m1-7h0m0 82h0m0-120h0m0 27h0m0 20h0m1-17h0m0 8h0m0 79h0m0 3h0m0-72h0m0-8h0m0 83h0m1-70h0m0-10h0m0-49h0m0 57h0m0-18h0m0 8h0m1 6h0m0-29h0m0 115h0m0-96h0m0-13h0m0 17h0m0-1h0m0 85h0m1-7h0m0 3h0m0-74h0m0-1h0m0 2h0m0-31h0m0 15h0m0 88h0m1-67h0m0-25h0m0-23h0m0 28h0m0 6h0m0 78h0m0-89h0m0-13h0m1 30h0m0 8h0m0-5h0m0-11h0m1-15h0m0-5h0m0 31h0m0 71h0m0-92h0m0 92h0m1-70h0m0 69h0m0-84h0m0 84h0m0-75h0m0-11h0m0-44h0m0 36h0m0-1h0m1-9h0m0 23h0m0 11h0m0-61h0m0 131h0m0-88h0m0 6h0m0-25h0m0 18h0m0-72h0m1 84h0m0 7h0m1-13h0m0-9h0m0 5h0m0-26h0m0 45h0m0-14h0m1 15h0m0 74h0m0-89h0m0-58h0m0 142h0m0-105h0m0 10h0m1 25h0m0-33h0m0 105h0m0-143h0m0 139h0m1-101h0m0 24h0m0 8h0m0 71h0m0 11h0m1-91h0m0-15h0m1-8h0m0 32h0m0-31h0m0 29h0m0-13h0m1 12h0m0-34h0m0-20h0m0 60h0m0-32h0m0 33h0m1-1h0m0 0h0m0-74h0m0 50h0m0 23h0m0-4h0m0-13h0m0 8h0m0 81h0m1-5h0m0-142h0m0 65h0m0-31h0m0 28h0m0 6h0m0-20h0m0 24h0m0-17h0m1 100h0m0-191h0m1 181h0m0-74h0m0 74h0m0-186h0m0 114h0m0 3h0m0-21h0m0 21h0m0-20h0m0 15h0m0-1h0m1-90h0m0 65h0m0 29h0m0-20h0m0 89h0m0-152h0m0 52h0m1 25h0m0 75h0m0-120h0m0 39h0m0-23h0m0 31h0m0-69h0m0 148h0m0 0h0m1-74h0m0-37h0m0 108h0m0-81h0m0 77h0m1-83h0m0 12h0m0-10h0m0-20h0m0 100h0m0-78h0m0 81h0m0 5h0m0-82h0m1 9h0m0 69h0m0-1h0m1-3h0m0 3h0m0 1h0m0-79h0m0-33h0m0 36h0m0-31h0m1 108h0m0-3h0m0-75h0m0 76h0m0-140h0m1 46h0m0 20h0m0 5h0m0-12h0m0 3h0m1-20h0m0 96h0m0 2h0m0-83h0m0 8h0m0 6h0m1 70h0m0-78h0m0 76h0m0-73h0m0 0h0m0 6h0m1-7h0m0-12h0m0 90h0m0-142h0m0 59h0m1-56h0m0 51h0m0-56h0m0 139h0m0-72h0m1 4h0m0 3h0m0-7h0m0 81h0m0-78h0m0 70h0m0-70h0m0-33h0m1-7h0m0 43h0m0-9h0m0-19h0m0 102h0m0-100h0m0 91h0m0-99h0m1 27h0m0 72h0m0-73h0m0 76h0m0-77h0m0 78h0m0-94h0m0 94h0m0-71h0m0-8h0m0-1h0m0-5h0m0-10h0m1-10h0m0 5h0m0 27h0m0-57h0m0-7h0m0 33h0m0 34h0m1 1h0m0 68h0m0-70h0m0-58h0m0 126h0m0-72h0m0-17h0m0 21h0m1 67h0m0-87h0m0 13h0m0 77h0m0-88h0m1 87h0m0-100h0m0 98h0m0 2h0m0-74h0m0-40h0m1 17h0m0 20h0m0 10h0m0 79h0m0-90h0m0-93h0m1 100h0m0-41h0m0 41h0m0 71h0m1-1h0m0-98h0m0-30h0m0 52h0m0 78h0m0-99h0m0 27h0m1 72h0m0-106h0m0 27h0m0-18h0m0 18h0m1-42h0m0 37h0m0 2h0m0 80h0m0 3h0m0-132h0m0 48h0m0 86h0m0-71h0m1-3h0m0-18h0m0 9h0m0-73h0m0 79h0m0 80h0m0-79h0m0-4h0m0-6h0m0 8h0m0-18h0m1-2h0m0 14h0m0 2h0m0-6h0m0-14h0m1 22h0m0 3h0m0 5h0m0-28h0m0 15h0m0-13h0m0 24h0m0 75h0m1-111h0m0-5h0m0 42h0m0-18h0m0 17h0m0-10h0m0 83h0m0-95h0m0-35h0m1 38h0m0 10h0m0 81h0m0-93h0m0-8h0m0 27h0m1 73h0m0-76h0m0 74h0m0 0h0m0-97h0m0-18h0m0 39h0m1-8h0m0 85h0m0-68h0m0-21h0m0 19h0m0 2h0m0-9h0m0 11h0m1-8h0m0 8h0m0-15h0m0 6h0m0-17h0m0 18h0m0 72h0m0-147h0m0 83h0m0 65h0m0 5h0m1-79h0m0 74h0m0-99h0m0 19h0m0-18h0m0 6h0m1 91h0m0-67h0m0-7h0m0-17h0m0 91h0m0-74h0m0 2h0m0-13h0m1 88h0m0-75h0m0-28h0m0 11h0m0-14h0m0 28h0m0-24h0m0 15h0m0 91h0m0-183h0m0 57h0m0 124h0m0-115h0m1 44h0m0-4h0m0-26h0m0 27h0m0-11h0m1 5h0m0 3h0m0-20h0m0 16h0m0-1h0m1-1h0m0 6h0m0 7h0m1 1h0m0-65h0m0 61h0m0-28h0m1-27h0m0-30h0m0 87h0m0 76h0m0-82h0m0-2h0m0-57h0m0 134h0m1-120h0m0-37h0m0 49h0m0 0h0m0 22h0m0-39h0m0 36h0m1 20h0m0-49h0m0 44h0m0-6h0m0-7h0m0-1h0m0 88h0m1-76h0m0 4h0m0 1h0m0-31h0m0 15h0m0-17h0m0 36h0m1-8h0m0-48h0m0 51h0m0 75h0m1-77h0m0 4h0m1-17h0m0 0h0m0 85h0m0 2h0m0-100h0m0 99h0m0-74h0m0-4h0m0 78h0m1-1h0m0-73h0m0-14h0m0 6h0m0-25h0m0 107h0m0-73h0m1 80h0m0-110h0m0-6h0m0 109h0m1-83h0m0 6h0m1-25h0m0 4h0m0 98h0m0-73h0m1 72h0m0 3h0m0-71h0m0-6h0m0-3h0m0 12h0m0-5h0m0-46h0m0 30h0m1 93h0m0-75h0m0 4h0m0-28h0m1-30h0m0 50h0m0 6h0m0-54h0m0 129h0m0-77h0m0-36h0m0 36h0m1-18h0m0 22h0m0 67h0m0 5h0m0-155h0m0 83h0m0 64h0m1-79h0m0-23h0m0 7h0m0 101h0m0-3h0m0-84h0m1-10h0m0-17h0m0 44h0m0-40h0m0 15h0m0 7h0m0 85h0m1-88h0m0 8h0m0-18h0m0 99h0m0-121h0m0 120h0m1-104h0m0 30h0m0-26h0m0-30h0m0 135h0m0-5h0m0-70h0m1-20h0m0-11h0m0 21h0m0 7h0m0-14h0m0 7h0m0-7h0m0 89h0m0-112h0m1 108h0m0-85h0m0 87h0m0-93h0m1 20h0m0 78h0m0-85h0m0 9h0m0-4h0m1-85h0m0 165h0m0-1h0m0-84h0m0-15h0m1 95h0m0-2h0m0 5h0m0-78h0m0-73h0m0 69h0m1 92h0m0-132h0m0 120h0m0-1h0m1-83h0m0 6h0m0 75h0m0-65h0m0-54h0m0 26h0m0 98h0m1-72h0m0-39h0m0 20h0m0 89h0m0-97h0m0-8h0m0 101h0m1-65h0m0-12h0m0 87h0m0-86h0m0 76h0m0-114h0m0 118h0m1-96h0m0-39h0m0 46h0m0-63h0m0 75h0m0 9h0m1-11h0m0-57h0m0 67h0m0 78h0m0-105h0m0 13h0m1-8h0m0 88h0m0 2h0m0-90h0m0-41h0m1-25h0m0 77h0m0 7h0m0-13h0m0-2h0m1-14h0m0 29h0m0-2h0m0-13h0m1-41h0m0 47h0m0 79h0m0-77h0m0 91h0m0-82h0m0 68h0m0 3h0m0-74h0m1-60h0m0 140h0m0-78h0m0-8h0m0 11h0m0-4h0m0-12h0m1 83h0m0-76h0m1-39h0m0 116h0m0-125h0m0-20h0m1 144h0m0-107h0m0-74h0m1 82h0m0-57h0m0 82h0m0-33h0m1 35h0m0 5h0m0-38h0m0-6h0m0 13h0m0 31h0m1-40h0m0 108h0m0-75h0m0 77h0m0-72h0m1 75h0m0-86h0m0 13h0m0-4h0m1 3h0m0-45h0m0 15h0m0 27h0m0-99h0m0 36h0m1 60h0m0-63h0m0 64h0m0-14h0m0 87h0m0-194h0m0 199h0m0-6h0m0-70h0m0-12h0m1 88h0m0-125h0m0 19h0m0 33h0m0-102h0m0 92h0m0-5h0m0-12h0m0 21h0m0 3h0m0-42h0m0 14h0m1-9h0m0 24h0m0 5h0m0-16h0m0 6h0m1 17h0m0-4h0m0-3h0m0 80h0m1 1h0m0-70h0m0 73h0m0-75h0m0-6h0m0-27h0m1 24h0m0 82h0m0-82h0m0-127h0m0 118h0m0 1h0m0 20h0m0-8h0m0-2h0m1-39h0m0 119h0m0-110h0m0 39h0m0-3h0m0-2h0m0 79h0m1-85h0m0 79h0m0-70h0m0-7h0m0 9h0m0-95h0m0 85h0m0-4h0m1 82h0m0-83h0m0 9h0m0 75h0m1-83h0m0 16h0m0 68h0m0-94h0m0 17h0m0 5h0m1-10h0m0 2h0m1-30h0m0-12h0m0 53h0m0 70h0m0-94h0m0 18h0m0 77h0m0-94h0m0-16h0m0 35h0m1-14h0m0 12h0m0-9h0m1 16h0m0-25h0m0 18h0m1-25h0m0 21h0m0 10h0m0-12h0m0 78h0m0-1h0m0-67h0m1 76h0m0-6h0m0-2h0m0 3h0m0-127h0m0 124h0m0-73h0m0 73h0m0-192h0m1 75h0m0 7h0m1 112h0m0-155h0m0 77h0m0-27h0m1 27h0m0-6h0m0 10h0m0-3h0m0 8h0m0-9h0m0 75h0m0-82h0m0 86h0m0-92h0m0 90h0m0-150h0m1 72h0m0-4h0m0 0h0m0 4h0m0-128h0m0 135h0m0-17h0m0 88h0m0-80h0m0-21h0m1 16h0m0 91h0m0-74h0m0-43h0m0 45h0m0-4h0m1-14h0m0-37h0m0 16h0m0 26h0m0 78h0m0-75h0m1 76h0m0-76h0m0-12h0m0 11h0m0-11h0m0 21h0m0-42h0m1 37h0m0-46h0m0 40h0m0 8h0m0-7h0m0-17h0m0 4h0m0-7h0m1 17h0m0 13h0m0-13h0m0 6h0m0 73h0m0 12h0m1-132h0m0-7h0m0 129h0m0-71h0m0-25h0m0 22h0m0 73h0m0-70h0m0 68h0m1-108h0m0 19h0m0 19h0m0-8h0m0 81h0m0-77h0m0 0h0m1-8h0m0 16h0m0 1h0m0 0h0m0-42h0m0 110h0m1 0h0m0-75h0m0 5h0m0 67h0m0-66h0m0-7h0m0 9h0m1-1h0m0-35h0m0 18h0m0 15h0m0-17h0m0 86h0m0-108h0m0 13h0m0 5h0m1-111h0m0 128h0m0-6h0m0 78h0m0-98h0m0 21h0m0-2h0m1 79h0m0-87h0m0 17h0m1 71h0m0 0h0m0-84h0m0-1h0m0-10h0m0-6h0m0 101h0m1-169h0m0 84h0m0-36h0m0 121h0m0-1h0m0-189h0m1 123h0m0-56h0m0 15h0m0 34h0m0-4h0m0-4h0m0-73h0m0 77h0m0 9h0m0-16h0m1 91h0m0-7h0m0-171h0m0 104h0m1 0h0m0-34h0m0-7h0m0 108h0m0-76h0m0 78h0m1-116h0m0 22h0m0 17h0m0-1h0m0 79h0m0-158h0m0 58h0m0-17h0m0 48h0m0-27h0m0-21h0m0 4h0m1 111h0m0-146h0m0-3h0m0 76h0m0 74h0m0-99h0m0 99h0m0-116h0m0 115h0m0-117h0m0 47h0m0 3h0m1-4h0m0 71h0m0-1h0m0 5h0m0-117h0m0 12h0m0 107h0m0-76h0m0 72h0m0-93h0m0-3h0m1 28h0m0-14h0m0 8h0m0-30h0m0 23h0m0 9h0m1 73h0m0-85h0m0-20h0m0 6h0m0 16h0m0 79h0m0-114h0m0 49h0m0-39h0m1 34h0m0-46h0m0 19h0m1 26h0m0-30h0m0 6h0m0 100h0m0-84h0m0 14h0m0-12h0m0-37h0m1 48h0m0-12h0m0 10h0m0 2h0m1 68h0m0-73h0m0 2h0m0-25h0m0 94h0m0 0h0m1-82h0m0 6h0m0-9h0m0 9h0m0 7h0m0-10h0m0 80h0m1-69h0m0-6h0m0-20h0m0 14h0m0 3h0m0 76h0m1-68h0m0 68h0m0-83h0m0-27h0m1 110h0m0-67h0m0-68h0m0 136h0m0-90h0m0 89h0m0-74h0m0-17h0m0 92h0m1 4h0m0-69h0m0-8h0m1-49h0m0 123h0m0-126h0m1-2h0m0 48h0m0-2h0m0 11h0m0 3h0m1-75h0m0 53h0m0 5h0m0 86h0m0-119h0m0 118h0m0 0h0m0-85h0m0 4h0m0-21h0m0 102h0m0-76h0m1 83h0m0-108h0m0 4h0m0 17h0m0 8h0m0-28h0m0-30h0m0 28h0m1 35h0m0 75h0m0-109h0m0-60h0m0 78h0m0-20h0m1 8h0m0-3h0m0 97h0m1 1h0m0-69h0m0-46h0m0 46h0m0-38h0m0 26h0m0-11h0m0 25h0m0-9h0m1 8h0m0 71h0m0-5h0m0-102h0m0 17h0m1-5h0m0 3h0m1-66h0m0 79h0m0 77h0m0-91h0m0 91h0m0-114h0m0 3h0m0 108h0m1 4h0m1-69h0m0 68h0m0-80h0m0-28h0m0 18h0m0 91h0m0-139h0m0 137h0m1-103h0m0 109h0m0-106h0m0-18h0m0 24h0m1-1h0m0 20h0m0 6h0m0-50h0m1 121h0m0-71h0m0-10h0m0 77h0m0-191h0m0 112h0m0 79h0m0-88h0m0-11h0m0 34h0m0 67h0m0 5h0m1-104h0m0 100h0m0-79h0m0 6h0m0-87h0m1 80h0m0-15h0m1 20h0m0 78h0m0-78h0m0 7h0m0-11h0m1-16h0m0-129h0m0 145h0m1-16h0m0 17h0m0 7h0m1 0h0m0-33h0m0 35h0m0-56h0m0 34h0m0-19h0m0 25h0m1 86h0m0-2h0m0 3h0m0-85h0m0 88h0m0-96h0m0 18h0m0 71h0m0-69h0m0-7h0m1-1h0m0 1h0m0 10h0m0-6h0m0-3h0m0 74h0m0-105h0m0 36h0m0-16h0m1 16h0m0-18h0m0 2h0m0-24h0m0 6h0m0 104h0m0-73h0m0-35h0m0 141h0m0-24h0m0-86h0m0 9h0m1 68h0m0-88h0m0 1h0m0 88h0m1 2h0m0-84h0m0-69h0m0 55h0m0 109h0m0-85h0m0-11h0m1-7h0m0 91h0m0-94h0m1 94h0m0-78h0m0 1h0m0-7h0m0 86h0m1 5h0m0-76h0m0 66h0m0-81h0m0 8h0m0 73h0m0-78h0m1 81h0m0-80h0m0 3h0m0-23h0m0 23h0m1-14h0m0-19h0m0-5h0m0 31h0m0 15h0m0 67h0m0-69h0m1-4h0m0 3h0m0-17h0m0-12h0m0 102h0m0-100h0m0 12h0m0 84h0m1-108h0m0 38h0m0-26h0m0-42h0m0 40h0m0 23h0m0 77h0m1-70h0m0-14h0m0-11h0m0 26h0m0-3h0m0-15h0m0-27h0m0 13h0m1 15h0m0 86h0m0-1h0m1 7h0m0-112h0m0 29h0m0 76h0m0-79h0m0 86h0m0-73h0m0-25h0m1 94h0m0-4h0m0-64h0m0 69h0m0-126h0m0 46h0m0 6h0m0-29h0m0 29h0m1-29h0m0 18h0m0-8h0m0 90h0m0-77h0m0-12h0m0-7h0m0 28h0m0-8h0m0 7h0m0-4h0m0 2h0m0 5h0m0-11h0m0 3h0m1-14h0m0-11h0m0 25h0m0-34h0m0 41h0m0-32h0m0 10h0m1 14h0m0-25h0m0 18h0m0 88h0m0-7h0m1-95h0m0 19h0m0 4h0m0 72h0m0-99h0m0-31h0m0 49h0m0 2h0m0 1h0m1 78h0m0-107h0m0 20h0m0 89h0m0 4h0m0-76h0m0-13h0m1-69h0m0 52h0m0 25h0m0-69h0m0 64h0m1-72h0m0 82h0m0 5h0m0-3h0m1-25h0m0 8h0m0 9h0m0 77h0m0-66h0m0-102h0m1 70h0m0 17h0m0-2h0m0 83h0m0-66h0m0-5h0m1-26h0m0 20h0m0 83h0m0-79h0m0 0h0m0-2h0m0-17h0m0 92h0m0-72h0m0-23h0m1 29h0m0-4h0m0 70h0m0-98h0m0 21h0m0 76h0m1 2h0m0-115h0m0 25h0m0-7h0m0-6h0m0 17h0m1 83h0m0-70h0m0 1h0m0 69h0m0 6h0m0-86h0m0 13h0m1 69h0m0-76h0m0 80h0m0-111h0m0 4h0m1 101h0m0-94h0m0 95h0m0-67h0m0 69h0m0-71h0m0-4h0m0 8h0m1-5h0m0-24h0m0 27h0m0-12h0m0-63h0m0 145h0m1-71h0m0-5h0m0-43h0m0 11h0m1 36h0m0-93h0m0 164h0m0-1h0m0-94h0m0 94h0m1-69h0m0 76h0m0-8h0m1-119h0m0 38h0m0-7h0m0 23h0m0-34h0m0 18h0m1-20h0m0 101h0m0 2h0m0-3h0m0-89h0m1 89h0m0 7h0m0-84h0m1-36h0m0 20h0m0 7h0m0 19h0m0-6h0m0 8h0m0 69h0m1-78h0m0 84h0m1-93h0m0-55h0m0 66h0m0-3h0m0-4h0m0 3h0m0 0h0m0 11h0m2-11h0m0-4h0m0-28h0m0 110h0m0-77h0m0 77h0m0-2h0m0-75h0m0 3h0m0-15h0m1-3h0m1 12h0m0-15h0m0-28h0m0 56h0m0-10h0m0 7h0m1-6h0m0-19h0m0 95h0m1-70h0m0-27h0m0 18h0m0 13h0m0-19h0m0-19h0m0 9h0m0 97h0m0-113h0m0 45h0m0-14h0m0-10h0m1 94h0m0-146h0m0 59h0m0-18h0m0-5h0m0 14h0m0 90h0m0-77h0m0-6h0m0-8h0m0-23h0m0 117h0m0 12h0m0-10h0m0-97h0m0-25h0m1 33h0m0 87h0m0-3h0m0-75h0m0 78h0m0 3h0m0-71h0m0-20h0m0-1h0m0 13h0m0-3h0m0-75h0m1 9h0m0 68h0m0-13h0m1-6h0m0-14h0m0 111h0m0-123h0m1 51h0m1-49h0m0 117h0m0-67h0m0 71h0m0-82h0m0 3h0m0 3h0m0 79h0m0-7h0m0-92h0m0 100h0m0-74h0m1-44h0m0 23h0m0 90h0m0-106h0m0 31h0m0 74h0m0 8h0m1-81h0m0-26h0m0 99h0m0-116h0m0 35h0m0 15h0m0-42h0m1 7h0m0-18h0m0 119h0m1 4h0m0-118h0m0 36h0m0-2h0m0-2h0m0 80h0m0 1h0m1-89h0m0 10h0m0 3h0m0 2h0m0-57h0m0 38h0m0 95h0m0-78h0m0-98h0m0 174h0m1-107h0m0-11h0m0 18h0m0-4h0m0 27h0m0 11h0m1-9h0m1 75h0m0-66h0m0-11h0m0-36h0m0-18h0m0 46h0m0-23h0m1 26h0m0 2h0m0-6h0m1-52h0m0 139h0m0-66h0m0-10h0m0 75h0m1-1h0m0-72h0m0 73h0m0-1h0m0-74h0m0-1h0m0-63h0m0 25h0m1 20h0m0 18h0m0 78h0m0-69h0m0-64h0m1 64h0m0 67h0m0 9h0m0-83h0m0-5h0m0 14h0m0 67h0m1-131h0m0-7h0m0 65h0m0-18h0m0 90h0m0-76h0m1-34h0m0 39h0m0-41h0m0 114h0m1-74h0m0-1h0m0 6h0m1-50h0m0 36h0m0 80h0m0 2h0m0 1h0m0-85h0m0 84h0m1-142h0m0 65h0m0-47h0m0 124h0m0-113h0m0 33h0m0 13h0m0-30h0m1 94h0m0-81h0m0 88h0m0-92h0m1 5h0m0-10h0m0 21h0m0-5h0m0 10h0m1-15h0m0 7h0m0 73h0m0-79h0m0 1h0m0 77h0m0 8h0m0-3h0m0-77h0m0-4h0m0-21h0m0-29h0m1 128h0m0 0h0m0-75h0m0 7h0m0 69h0m0-110h0m0 30h0m0 7h0m0-4h0m0 74h0m0-85h0m1 86h0m0 0h0m0-95h0m0 14h0m0-30h0m0 23h0m1-29h0m0 120h0m0-4h0m0-197h0m0 7h0m1 115h0m1-1h0m0-15h0m0 15h0m0-12h0m1 22h0m0 73h0m0-80h0m0-3h0m0 6h0m0 4h0m0-30h0m0 106h0m0-115h0m0 37h0m0-1h0m1-24h0m0 11h0m0 3h0m0-21h0m0 101h0m1 1h0m0-2h0m1-74h0m0-34h0m1 20h0m0 16h0m0-43h0m1 0h0m0 10h0m0 106h0m0-87h0m1-1h0m0 20h0m0-31h0m0 30h0m0 1h0m0-73h0m0 59h0m0 13h0m0 70h0m1-81h0m0 79h0m0-65h0m0-1h0m0 69h0m0-75h0m1 72h0m0 8h0m0 1h0m1-9h0m0 9h0m0-74h0m0-70h0m0 139h0m0-75h0m0-4h0m1 8h0m0 67h0m0 3h0m0-1h0m1-1h0m1-126h0m0 49h0m0 78h0m1 1h0m0-3h0m1-69h0m0 72h0m0 0h0m0-87h0m0 20h0m0-3h0m0 3h0m0-18h0m0-10h0m0 0h0m1 23h0m0-47h0m0 48h0m0 72h0m0-2h0m0-158h0m0 163h0m1-85h0m0 10h0m0-6h0m0-8h0m0 2h0m0-113h0m0 125h0m1-11h0m0-5h0m0-41h0m0 130h0m0-76h0m1 71h0m0 3h0m0-75h0m0 7h0m0 68h0m1-78h0m0 79h0m0-107h0m0 23h0m0-1h0m1-30h0m1 42h0m0-76h0m0-1h0m0 146h0m0-69h0m0-10h0m1 3h0m0-7h0m0 1h0m0 17h0m0-39h0m0 21h0m0 1h0m1 8h0m0-3h0m0-182h0m0 188h0m0 3h0m0 4h0m0 66h0m0-95h0m0-18h0m0 43h0m1-9h0m0 79h0m0-76h0m0 8h0m0 1h0m0-16h0m0-3h0m1 15h0m0-73h0m0 70h0m0-2h0m0-6h0m1-16h0m0 32h0m0-31h0m0 22h0m0-86h0m0 159h0m1 9h0m0-7h0m0 0h0m0-66h0m0-49h0m0 120h0m1-5h0m0-72h0m0-40h0m0 112h0m0-75h0m0-6h0m0 10h0m1 2h0m0 69h0m0-123h0m0 50h0m1-44h0m0 115h0m0-71h0m0-7h0m0 78h0m0 2h0m0-75h0m0-31h0m0 27h0m0-11h0m0-94h0m1 94h0m0 7h0m0 4h0m0 78h0m0-65h0m0-47h0m0 113h0m1-74h0m0-6h0m0 3h0m0-4h0m0 12h0m0-18h0m0 13h0m0 2h0m0 72h0m0 3h0m0-118h0m1-52h0m0 98h0m0 2h0m0 66h0m0-74h0m0 74h0m0-78h0m1 12h0m0-59h0m0 54h0m0-23h0m0 15h0m0 81h0m0-85h0m0-5h0m1 87h0m0-118h0m0 49h0m0 73h0m0-88h0m0 7h0m1-7h0m0 14h0m0 3h0m0-2h0m0-23h0m0 17h0m1-2h0m0 6h0m0 72h0m1-82h0m0-3h0m0 4h0m0 82h0m0-136h0m1 134h0m0-84h0m0-5h0m0 12h0m0 0h0m0 2h0m0-2h0m0-39h0m0 119h0m1-1h0m0-76h0m0 2h0m0-1h0m0-5h0m0 1h0m0 83h0m0-2h0m0-86h0m0 6h0m1-53h0m0 132h0m0-88h0m0 10h0m0 81h0m0-105h0m0-4h0m1 33h0m0-12h0m0-18h0m0 32h0m0-2h0m1 4h0m0-6h0m0 0h0m0 3h0m0 0h0m0-94h0m0 164h0m0-68h0m0 68h0m0 2h0m1-98h0m0 98h0m0-89h0m0-25h0m0 114h0m0-2h0m0-88h0m1 92h0m0-109h0m0 26h0m0-21h0m0 20h0m0 85h0m0-76h0m0 70h0m1-75h0m0-40h0m0 47h0m0-13h0m0 82h0m1-114h0m0 113h0m0-122h0m0 54h0m0-2h0m0-25h0m0-3h0m0-19h0m0 48h0m1 3h0m0-8h0m0-1h0m0-44h0m0 119h0m0-71h0m0-13h0m0-9h0m0-4h0m1 21h0m0 79h0m0 5h0m0-103h0m0 97h0m1-71h0m0-1h0m0-5h0m0 6h0m0 4h0m0-33h0m0 25h0m0-35h0m0 38h0m0-107h0m0 90h0m1 17h0m0 4h0m0 68h0m0-92h0m0 15h0m0 78h0m0-92h0m0-5h0m0 6h0m1 89h0m0-79h0m0-8h0m0 18h0m0-5h0m1-14h0m0 91h0m0-79h0m1 11h0m0-4h0m1-1h0m0-9h0m0 7h0m0 5h0m0-24h0m0 90h0m0-64h0m0 64h0m0 1h0m1-67h0m0-15h0m0 81h0m0-91h0m0 12h0m0 85h0m0-100h0m1-4h0m0 27h0m0 75h0m0-79h0m0 78h0m1-75h0m0-4h0m0 77h0m0-113h0m0-7h0m0 34h0m0-30h0m0 122h0m0-94h0m1 10h0m0 5h0m0-14h0m0-5h0m0 9h0m0 85h0m0-106h0m0 39h0m1 66h0m1-67h0m0-3h0m0-32h0m0-19h0m0-1h0m0 6h0m0 38h0m1 8h0m0-75h0m0 146h0m0-80h0m0-24h0m0 109h0m0-5h0m0-107h0m1 30h0m0 9h0m1-35h0m0 14h0m0 0h0m0 9h0m0 0h0m1-3h0m0 83h0m0-2h0m0-77h0m0-62h0m0 72h0m0-9h0m1 8h0m0-23h0m0 92h0m0-93h0m0-14h0m1 115h0m0-85h0m0 3h0m0-13h0m0 89h0m0-93h0m0 94h0m0-78h0m1-33h0m0 112h0m1-91h0m0 20h0m0 67h0m0-66h0m0 66h0m0 1h0m1-110h0m0 109h0m0-94h0m0-32h0m0 133h0m0-85h0m0 82h0m0-83h0m1 9h0m0-23h0m0 24h0m0-77h0m0 146h0m1-86h0m0-13h0m0 25h0m0 74h0m0-74h0m0-3h0m0-38h0m1 45h0m0-2h0m0 72h0m0-122h0m0 47h0m0 76h0m0-96h0m0 18h0m1-26h0m0 30h0m0 0h0m0-3h0m0 75h0m0-153h0m0 44h0m0 29h0m1 79h0m0-68h0m0-86h0m0 79h0m1-9h0m0 4h0m0 81h0m0-111h0m1 31h0m0 8h0m0-35h0m0 1h0m0 109h0m0-68h0m0 72h0m0-7h0m0-65h0m1 76h0m0-102h0m0 26h0m0-33h0m0 32h0m0-17h0m1 17h0m0-23h0m0 95h0m0-74h0m0-92h0m1 87h0m0 79h0m1 2h0m0-79h0m0-36h0m1 116h0m0-117h0m0 110h0m0-102h0m0 21h0m1-36h0m0 17h0m0-64h0m1 162h0m0-89h0m0 19h0m0 0h0m1-5h0m0-10h0m0 9h0m0 2h0m0-12h0m0 91h0m0-3h0m1-88h0m0 2h0m0-58h0m0 71h0m0-17h0m0 89h0m0-72h0m1-37h0m0 39h0m0-6h0m0 1h0m0 7h0m1 67h0m0-121h0m0 52h0m1-6h0m0-27h0m0 33h0m0 4h0m0-31h0m0 98h0m1-69h0m0-5h0m0-31h0m0-25h0m0 43h0m0 87h0m0-2h0m1-67h0m0-6h0m0 77h0m0-3h0m1-67h0m0-44h0m0 26h0m0-32h0m0 26h0m0 89h0m0-76h0m1 1h0m0-4h0m0-30h0m0-3h0m1 16h0m0 27h0m0 74h0m0-108h0m0-4h0m0 15h0m1 23h0m0-35h0m0 33h0m0 4h0m0 67h0m0-137h0m1 71h0m0-1h0m0-12h0m0 6h0m0-66h0m1 20h0m0 44h0m0 8h0m0 3h0m0-22h0m0 8h0m0-54h0m1 66h0m0-55h0m0 40h0m0-64h0m0 80h0m0-3h0m0-10h0m0 5h0m1-31h0m0 114h0m0-84h0m1-20h0m0 3h0m0 26h0m0 67h0m1 1h0m0-89h0m0 14h0m0-30h0m0 104h0m1-2h0m0-158h0m0 89h0m0-2h0m0-9h0m0-11h0m0-7h0m0 2h0m0 21h0m0-48h0m0 55h0m0-1h0m0-8h0m0-32h0m1-25h0m0 69h0m0-15h0m0 80h0m1 1h0m0 6h0m0-99h0m0 93h0m0-79h0m0 79h0m1-92h0m0-28h0m0 35h0m0 18h0m0-1h0m1 1h0m0-3h0m0-4h0m0 80h0m0-79h0m0 75h0m0-147h0m0-1h0m1 57h0m0 17h0m0-17h0m0-5h0m0 15h0m0 82h0m1-95h0m0 93h0m0-89h0m0 17h0m0-9h0m0-6h0m0 13h0m0-26h0m1 101h0m0-67h0m0-14h0m0 88h0m0-1h0m0-6h0m1-76h0m0-63h0m0 60h0m0 1h0m1 79h0m0-94h0m0-45h0m1 69h0m0-38h0m0 30h0m0-21h0m0 96h0m1-118h0m0 118h0m0-72h0m0-8h0m1 14h0m0-31h0m0 99h0m0-80h0m0-19h0m1 23h0m0 75h0m0-102h0m0 10h0m0 96h0m0-100h0m0 1h0m0 20h0m0 4h0m0-13h0m0 85h0m0-88h0m0-25h0m1 18h0m0 97h0m0-81h0m0-27h0m0 104h0m1-81h0m0 3h0m0 81h0m0-72h0m0-22h0m0 19h0m0-10h0m1 84h0m0-71h0m0 69h0m0 4h0m1-91h0m0 13h0m0-36h0m0 44h0m0-4h0m0 2h0m0 67h0m0-65h0m0-6h0m0 1h0m0-48h0m1 120h0m0-2h0m0-105h0m0 25h0m0-106h0m0 115h0m0-33h0m0-34h0m0 29h0m0-20h0m1-29h0m0 164h0m1-6h0m0-66h0m0-51h0m0 2h0m0 36h0m1 7h0m0-50h0m0 52h0m0 6h0m0-39h0m0 10h0m0 27h0m0 66h0m1-97h0m0-65h0m0 98h0m0-4h0m1 2h0m0-28h0m0 21h0m0 75h0m1-2h0m0 4h0m0-68h0m0-20h0m0-32h0m0 40h0m0-7h0m0 17h0m0-8h0m0-20h0m0-39h0m1 45h0m0 8h0m0 12h0m0-2h0m0-34h0m1 106h0m0-121h0m0 27h0m0 19h0m0 73h0m1-70h0m0-15h0m0 10h0m0-35h0m0-13h0m0 52h0m1-4h0m0-39h0m0 18h0m0 5h0m0-34h0m0 5h0m0 25h0m1 96h0m0-143h0m0 71h0m0-9h0m0 13h0m0 77h0m0-74h0m0-38h0m1 33h0m0-27h0m0 96h0m0-68h0m0-9h0m0 10h0m0-79h0m1 149h0m0-69h0m0-8h0m0-3h0m0 79h0m0-69h0m0-11h0m0 83h0m0-80h0m1 79h0m0-4h0m0-83h0m0-26h0m0 112h0m0-86h0m0 87h0m1-69h0m0-51h0m0 24h0m0-56h0m0 19h0m0 62h0m1 2h0m0 65h0m0-67h0m0 74h0m0-140h0m0 4h0m1 48h0m0-2h0m0 15h0m0-3h0m1 72h0m0-185h0m0 110h0m0-3h0m0 80h0m1-138h0m0 53h0m0 7h0m0-3h0m0 4h0m0-14h0m0 21h0m1 3h0m0-45h0m0 112h0m0 6h0m0-91h0m0-22h0m0 18h0m1 98h0m0-93h0m0 5h0m0-14h0m0-21h0m1 113h0m0 3h0m0-71h0m0 69h0m0-79h0m0-36h0m1 46h0m0-2h0m0-40h0m0 17h0m0-4h0m0 16h0m0 85h0m0-5h0m0-94h0m0 95h0m0 0h0m1-75h0m0 3h0m0-23h0m0 22h0m0-17h0m0 10h0m0-3h0m0 82h0m0-69h0m0 2h0m1-10h0m0-9h0m1-45h0m0 40h0m0 26h0m0-26h0m0 91h0m0-154h0m0 66h0m1 6h0m0 4h0m0 79h0m0-66h0m0-34h0m0 13h0m0 91h0m0-71h0m0 69h0m1-231h0m0 133h0m0 97h0m0-125h0m0 34h0m0 9h0m1-2h0m0 91h0m0-10h0m0-68h0m0-1h0m0-54h0m1 54h0m0-10h0m0-31h0m0 41h0m0 72h0m0-80h0m0-4h0m0-9h0m1 93h0m0-86h0m0-13h0m0 18h0m0 78h0m0-93h0m0 14h0m0-14h0m0 3h0m0-2h0m0 24h0m0 71h0m1-88h0m0 17h0m0 2h0m0-8h0m1 2h0m0 73h0m0-104h0m0 14h0m1 12h0m0-11h0m0 14h0m0-12h0m0 15h0m0-18h0m1-8h0m0 16h0m0 16h0m0-17h0m0-57h0m0 57h0m1-11h0m0 9h0m0-21h0m0 30h0m0-7h0m0-1h0m1 86h0m0-142h0m0 194h0m1-45h0m0-79h0m0-5h0m0 6h0m0-24h0m0-10h0m0 36h0m0 1h0m1-126h0m0 114h0m0 1h0m0-8h0m0-19h0m0 28h0m0-12h0m0-5h0m0 95h0m0-2h0m0-70h0m1 72h0m0-67h0m0-1h0m0-59h0m1 131h0m0-75h0m0-6h0m0 83h0m1-6h0m0-89h0m0-13h0m0 19h0m1-2h0m0 10h0m0 1h0m0 6h0m0-17h0m0 10h0m0-26h0m1 18h0m0-10h0m0 92h0m0-92h0m0 21h0m0 72h0m1-113h0m0 117h0m0-74h0m0-40h0m0 21h0m1 95h0m0-85h0m0-15h0m0 95h0m0 2h0m0-73h0m0-2h0m0-6h0m0-3h0m0 82h0m0-76h0m1-11h0m0 3h0m0 5h0m1-14h0m0-15h0m0 30h0m0-54h0m1 51h0m0 79h0m0-70h0m0-39h0m0 107h0m0 8h0m1-4h0m0 1h0m0-98h0m0-2h0m0-41h0m0 138h0m0-96h0m1 96h0m0-72h0m0-2h0m0-8h0m0 80h0m0 4h0m0-98h0m0 5h0m1-45h0m0 50h0m0 7h0m0 5h0m0 0h0m0 80h0m1-76h0m0-20h0m1-15h0m0 14h0m0 21h0m0 70h0m0-92h0m0 3h0m0 18h0m0-30h0m0-37h0m1 70h0m0-33h0m0 105h0m0-94h0m1 95h0m0-79h0m0-9h0m0-28h0m0-33h0m0 51h0m1 24h0m0-61h0m0 37h0m0 101h0m1-153h0m0 145h0m0-95h0m0 97h0m0-73h0m0-3h0m1 4h0m0 73h0m0-72h0m0 74h0m0-77h0m0-10h0m0 5h0m0-12h0m1 92h0m0-73h0m0-9h0m1 11h0m0-76h0m0 146h0m0-68h0m0-56h0m0 47h0m0 76h0m1-2h0m0-75h0m0 3h0m0-31h0m1 25h0m0 7h0m0 5h0m0-9h0m0 5h0m1-4h0m0-64h0m0 61h0m1 78h0m0-1h0m0-88h0m0 23h0m0-63h0m0 50h0m0-4h0m0 82h0m0-75h0m0 6h0m1 2h0m0-23h0m0-13h0m0 114h0m0-4h0m0-102h0m0 8h0m0 4h0m1 15h0m0-13h0m0 11h0m0-47h0m0 15h0m0 27h0m1-18h0m0 24h0m0 70h0m0-81h0m0 3h0m1-19h0m0-70h0m0 168h0m0-101h0m0-77h0m0 69h0m1-2h0m0 29h0m0 4h0m0 7h0m0 79h0m0-9h0m0-138h0m1 54h0m0 9h0m0-73h0m0 149h0m1 7h0m0-84h0m0 76h0m0 0h0m0-78h0m0 11h0m1-24h0m0 4h0m0-14h0m0 26h0m1-21h0m0 24h0m0-20h0m0 93h0m0-68h0m0 65h0m0 2h0m0-91h0m0-24h0m0 39h0m0 8h0m0-41h0m1 107h0m0-111h0m0 19h0m0 4h0m0 9h0m1 80h0m0-69h0m0 70h0m0-89h0m1 87h0m0-108h0m0 27h0m0-1h0m0-55h0m0 46h0m0 17h0m1-26h0m0 106h0m0-84h0m0 80h0m1 4h0m0-109h0m0 25h0m0-5h0m0 83h0m2-69h0m0 4h0m0-14h0m0 9h0m1-2h0m0 4h0m0-1h0m1 71h0m0-77h0m0-10h0m0 16h0m0-15h0m0-20h0m1 105h0m0-70h0m0-2h0m1 7h0m0-28h0m0 27h0m1-12h0m0-36h0m0 40h0m0 7h0m0-101h0m0 103h0m0-29h0m1-13h0m0 33h0m0-50h0m0 55h0m1-6h0m0-42h0m0 116h0m1-74h0m0 76h0m0-82h0m0 82h0m1-86h0m0-24h0m0 35h0m0 8h0m1-40h0m0 35h0m0 6h0m0-14h0m1 82h0m0-82h0m0-48h0m0 45h0m0-6h0m0 19h0m0-17h0m0 0h0m0-1h0m1 1h0m0 21h0m0-29h0m0-33h0m0 60h0m0-23h0m0-3h0m0 95h0m0 3h0m0-136h0m1 133h0m0 0h0m0-85h0m0 13h0m0-15h0m1 84h0m0-78h0m0-20h0m1 13h0m0-10h0m0 24h0m0-25h0m0 102h0m1-2h0m0-109h0m0 7h0m1 99h0m0-114h0m0 37h0m0 80h0m0 0h0m0-155h0m0 64h0m0 89h0m1-105h0m0 29h0m0-40h0m0 3h0m1-3h0m0 7h0m0 108h0m0 1h0m0 4h0m0-116h0m1 40h0m0 71h0m0-111h0m0 110h0m0-65h0m0-69h0m1 63h0m0-14h0m0 87h0m1 1h0m0-141h0m0 60h0m0-3h0m0-60h0m0 150h0m0-137h0m0-52h0m0 100h0m0-25h0m0 4h0m0 103h0m1 5h0m0-3h0m0-69h0m0-23h0m0 9h0m1 13h0m0-17h0m0 2h0m0-36h0m1 118h0m0-75h0m0 78h0m0-73h0m0 4h0m0 68h0m0-68h0m0-19h0m0-56h0m1 56h0m0-4h0m0 19h0m0 70h0m1-1h0m0-109h0m0 21h0m0 19h0m0 5h0m0 66h0m0-82h0m0-68h0m0 77h0m1 71h0m0 1h0m0-98h0m0 28h0m0-2h0m0-51h0m0 50h0m0-14h0m0-50h0m1 21h0m0 29h0m0-44h0m0 47h0m0-26h0m1 33h0m0-69h0m0 70h0m0 8h0m0 0h0m0-10h0m1 12h0m0 66h0m1-69h0m0-18h0m0-60h0m0 52h0m0 104h0m0-75h0m0 70h0m0-3h0m0-72h0m0 5h0m0 0h0m0 66h0m1-102h0m0 5h0m0-42h0m0 140h0m0-75h0m0-50h0m0 52h0m0-4h0m0 78h0m0-82h0m0 131h0m1-149h0m0 31h0m0 67h0m0-103h0m0 22h0m0-14h0m0 106h0m0-94h0m0 15h0m0-3h0m0-24h0m0 97h0m1-96h0m0 27h0m0 1h0m0-11h0m0 76h0m0-98h0m0 11h0m1 2h0m0 7h0m0 81h0m0-3h0m0-75h0m0 81h0m0-73h0m0-36h0m1 103h0m0-98h0m0 7h0m0 18h0m0 7h0m1-38h0m0 33h0m0 3h0m0-12h0m0-16h0m0 26h0m1-32h0m0-2h0m0 33h0m0 81h0m0-8h0m0-74h0m1-24h0m0 21h0m0-21h0m0-14h0m0 17h0m1 22h0m0 72h0m0-75h0m0-1h0m0 82h0m0-4h0m1-232h0m0 165h0m0-3h0m0-7h0m0 6h0m0 69h0m0-67h0m0 0h0m0-16h0m1 88h0m0-78h0m0-20h0m0 18h0m1-5h0m0 13h0m0 75h0m1-101h0m0 14h0m0-9h0m0 7h0m1-6h0m0 91h0m0-5h0m0-85h0m1 88h0m0-68h0m0-3h0m1-17h0m0 86h0m0-119h0m0 120h0m0-68h0m0-1h0m0-25h0m0-33h0m1 55h0m0 2h0m0-25h0m0-37h0m0 134h0m0-70h0m0-34h0m0-79h0m0 111h0m1-10h0m0 11h0m0-5h0m0-29h0m0-3h0m0 24h0m0 6h0m1-27h0m0 18h0m0-8h0m1-58h0m0 149h0m0 2h0m0-78h0m0-17h0m0 24h0m0-35h0m1 5h0m0 107h0m0-118h0m0 34h0m0 82h0m0-86h0m0 81h0m0-96h0m0 14h0m1 0h0m0 15h0m0 68h0m0-70h0m0 0h0m0 2h0m0 66h0m0-75h0m1-8h0m0 14h0m0-2h0m0 73h0m0-1h0m1-109h0m0 108h0m0-77h0m0-36h0m0 116h0m0-109h0m0 21h0m0 87h0m1-2h0m0-68h0m0 70h0m0-93h0m1-7h0m0-9h0m0 27h0m0-23h0m0 108h0m0-103h0m0-11h0m1 44h0m0 0h0m0-11h0m0 7h0m0 71h0m1-112h0m0 36h0m0-2h0m0 11h0m0-14h0m0-13h0m1-13h0m0 36h0m0-76h0m0 69h0m0 7h0m0-103h0m1 94h0m0-12h0m0 8h0m0 2h0m0-55h0m0 52h0m0-41h0m0 132h0m0-93h0m0 9h0m1 11h0m0-2h0m0 71h0m0-90h0m0-19h0m0 106h0m0-69h0m1-4h0m0 74h0m0-84h0m0-24h0m1 107h0m0-104h0m0 103h0m0-84h0m0 12h0m1-4h0m0-4h0m0 90h0m0-79h0m0-28h0m1 8h0m0 91h0m0-74h0m0-3h0m1 79h0m0-4h0m0-129h0m0 54h0m0 9h0m0-36h0m1 32h0m0 72h0m0-115h0m0 49h0m0-1h0m0 65h0m0 1h0m0-71h0m1-19h0m0 90h0m0 2h0m0-116h0m0 22h0m0 19h0m0-29h0m0 24h0m0 6h0m0-44h0m1 48h0m0-22h0m0 20h0m0 3h0m0 0h0m0-3h0m0-18h0m0-7h0m0 30h0m0-17h0m0 13h0m1-25h0m0-17h0m0 30h0m0-2h0m0-85h0m0 168h0m1 0h0m0-65h0m0-69h0m0 54h0m0 79h0m0-74h0m1 7h0m0-42h0m0 39h0m0 72h0m0 3h0m0-3h0m1-76h0m0-9h0m0-9h0m0 1h0m0 94h0m0-80h0m0 77h0m1-69h0m0 70h0m0-73h0m0-33h0m0 109h0m0-70h0m1 73h0m0-109h0m0-71h0m0 67h0m0 24h0m0 17h0m0-66h0m0 63h0m0 72h0m1-3h0m0-74h0m0-45h0m0 53h0m0-9h0m0-3h0m1-56h0m0 138h0m0-75h0m0-6h0m0 80h0m0-99h0m1 21h0m0 1h0m0-34h0m0 110h0m0-78h0m0 1h0m0 76h0m0-96h0m0 29h0m1-45h0m0 18h0m0-58h0m0 161h0m0-111h0m1 104h0m0-97h0m0 3h0m0 8h0m0 11h0m0-94h0m1 91h0m0 1h0m0 4h0m0 3h0m0 2h0m0 76h0m0-9h0m1-90h0m0-35h0m0 122h0m0 3h0m0-82h0m0 5h0m0-37h0m1 114h0m0-1h0m0-70h0m0-30h0m0-2h0m0 100h0m1-103h0m0-24h0m0 59h0m0 68h0m0-119h0m0 53h0m0-51h0m0 50h0m0-26h0m1 12h0m0 8h0m0 4h0m0-23h0m0-34h0m0 61h0m1-8h0m0 81h0m0-7h0m0 0h0m0 5h0m1-6h0m0-66h0m0-93h0m0 94h0m0-7h0m0-1h0m0-2h0m0 1h0m1-3h0m0-12h0m0 14h0m0-72h0m0 30h0m1-3h0m0 42h0m0-39h0m0 125h0m0-95h0m0 7h0m0-5h0m0 16h0m1 2h0m0 67h0m0-75h0m0 84h0m1-7h0m0-2h0m0-67h0m0 67h0m0-84h0m0 15h0m0-12h0m0 1h0m0 90h0m0-78h0m0 0h0m1-87h0m0 56h0m0 108h0m0-94h0m0-41h0m1 45h0m0 14h0m0-72h0m0 73h0m0-34h0m0 16h0m0 88h0m0-87h0m0 15h0m1-4h0m0-1h0m0 4h0m0 70h0m0-79h0m1 4h0m0 8h0m0 67h0m0-83h0m0 88h0m0-4h0m0-102h0m0 105h0m1-108h0m0 39h0m0 0h0m0-23h0m0 90h0m0-67h0m0 65h0m1-137h0m0 52h0m0-62h0m0 27h0m0 26h0m0 23h0m0-4h0m1-3h0m0-4h0m0 9h0m0-30h0m1 102h0m1-101h0m0 36h0m0 68h0m1-78h0m0 1h0m0 6h0m0-4h0m0-43h0m0 14h0m0 26h0m0-19h0m1 10h0m0 85h0m0-82h0m1 6h0m0 10h0m0-14h0m0 1h0m0-34h0m1 44h0m0 4h0m0 0h0m0-11h0m1 0h0m1 75h0m0-67h0m0-38h0m0 108h0m0-78h0m0-69h0m1 71h0m0-32h0m0 19h0m0 20h0m1 66h0m0-113h0m1 159h0m0-45h0m0-105h0m0 109h0m0-73h0m0-17h0m0-18h0m0 104h0m1-78h0m0-25h0m0 20h0m0-45h0m0 46h0m0-18h0m0 2h0m1 30h0m0 1h0m0 2h0m0 68h0m0-81h0m0-8h0m0 88h0m0-89h0m1 6h0m0-4h0m0 3h0m0 81h0m0-66h0m0-23h0m0 17h0m1-29h0m0 34h0m0-33h0m0 26h0m1-19h0m0 15h0m0-34h0m0 47h0m0 68h0m0 0h0m0-74h0m0-11h0m1-20h0m0 104h0m0-74h0m0 73h0m1-97h0m0-47h0m0 144h0m0-66h0m0 68h0m0 0h0m0 2h0m1-69h0m0-13h0m0 78h0m0-96h0m0 20h0m0 77h0m0-82h0m0 7h0m1-14h0m0 22h0m1-4h0m0 3h0m0 0h0m0-43h0m0 41h0m0-55h0m0 58h0m1-5h0m0-72h0m0 150h0m0-87h0m0 81h0m0-88h0m0 8h0m1 79h0m0-121h0m0 120h0m0-87h0m0-1h0m0 6h0m0-12h0m1 98h0m0-72h0m0 68h0m0-73h0m0 2h0m0-32h0m0 8h0m0 29h0m0-11h0m1 9h0m0 72h0m0-72h0m0-37h0m0 38h0m0 3h0m1 66h0m0 1h0m0-70h0m0 1h0m0-86h0m0 84h0m0-29h0m1 24h0m0-3h0m0-13h0m0 21h0m0 1h0m1-35h0m0 5h0m1 103h0m0-95h0m0-17h0m0 109h0m0-2h0m0-93h0m0 25h0m1-134h0m0 74h0m0 17h0m0 118h0m0-8h0m0 2h0m0-96h0m0 10h0m1 8h0m0 10h0m0 0h0m0 67h0m0-69h0m0 2h0m0-68h0m0 44h0m0-40h0m0 41h0m0 4h0m0 12h0m1-2h0m0-29h0m0 36h0m0-2h0m0 3h0m0-12h0m0 82h0m0-94h0m0 93h0m0-68h0m0 69h0m1-109h0m0 31h0m0-27h0m0 103h0m0-75h0m0-7h0m0-101h0m0 90h0m1-4h0m0 17h0m0-4h0m0-37h0m0 50h0m0-4h0m0 8h0m1-39h0m0 30h0m0 81h0m0 1h0m0-96h0m0 22h0m0 1h0m0 67h0m1-68h0m0-37h0m0 28h0m0-28h0m0 27h0m0-8h0m0 89h0m0-75h0m0-12h0m0 14h0m1-44h0m0 27h0m0 10h0m0 1h0m0-5h0m0-2h0m0 83h0m0-73h0m1-39h0m0 46h0m0-33h0m0 98h0m0-90h0m0 92h0m1-70h0m0-14h0m0-24h0m0 39h0m0-8h0m0 82h0m0-7h0m0-73h0m0 1h0m1-23h0m0 26h0m0-46h0m0 43h0m0-1h0m0-9h0m1-40h0m0 45h0m0 8h0m0-13h0m0-34h0m0 119h0m0-108h0m1 37h0m0-20h0m0 98h0m0-8h0m0-127h0m0 46h0m0-25h0m0-18h0m0 53h0m0-3h0m1-22h0m0-5h0m0 100h0m0-78h0m0 78h0m0-81h0m0-23h0m1 38h0m0-18h0m0 95h0m0-80h0m1-4h0m0 107h0m0-31h0m0-80h0m0 8h0m0-80h0m0 16h0m0 26h0m1 31h0m0-74h0m0 151h0m0-76h0m0-2h0m0 0h0m1 76h0m0 1h0m0-79h0m0-1h0m0-23h0m0 34h0m0 75h0m0-110h0m0 112h0m1-109h0m0 13h0m0 1h0m0 5h0m0 5h0m0 76h0m1-66h0m0-3h0m0-8h0m0 3h0m1 76h0m0-94h0m0-18h0m0-90h0m0 204h0m0-2h0m0-67h0m0-1h0m0-11h0m0-88h0m0 96h0m0-7h0m0-1h0m1 83h0m0-2h0m0-84h0m0-53h0m0 58h0m0 75h0m0-85h0m0-8h0m0 9h0m1 19h0m0-7h0m0-41h0m0 116h0m1-2h0m0-66h0m0-4h0m0-17h0m0 12h0m1-28h0m0 27h0m0 79h0m0-70h0m0-97h0m0 165h0m0-130h0m0 57h0m0-53h0m0 50h0m1-21h0m0 12h0m0 15h0m0-9h0m0 5h0m0 75h0m1-84h0m0-26h0m0 40h0m0 70h0m0-92h0m1 16h0m0-1h0m0 76h0m0-68h0m0-93h0m0 77h0m0-34h0m0 38h0m1 12h0m0 69h0m0-171h0m0 79h0m0 89h0m0 2h0m1-70h0m0-6h0m0 74h0m0-115h0m0 38h0m0 10h0m0-26h0m0 26h0m0-71h0m1 54h0m0 94h0m0-220h0m0 143h0m0-14h0m0 84h0m0-121h0m0 51h0m0-46h0m0 18h0m1 20h0m0 78h0m0-97h0m0 94h0m0-101h0m0 15h0m1-1h0m0 90h0m0-87h0m0 5h0m0-20h0m0 30h0m0 73h0m0-1h0m1-1h0m0-67h0m0-64h0m0 36h0m0 16h0m0-4h0m0 84h0m0-70h0m1-1h0m0 69h0m0-106h0m0 34h0m0 6h0m0-34h0m0 31h0m0-12h0m0 86h0m0-115h0m0 10h0m1 99h0m0-107h0m0 36h0m0-79h0m0 73h0m0 79h0m1-2h0m0-74h0m0 1h0m0 7h0m0-8h0m0 2h0m1-44h0m0 37h0m0 83h0m0-72h0m0-34h0m0 35h0m0 71h0m0-74h0m0-5h0m0 78h0m0 3h0m1-89h0m0 86h0m0-94h0m0 9h0m0 83h0m0-66h0m1 1h0m0-11h0m0 81h0m0-84h0m0-19h0m0 12h0m1 19h0m0-14h0m0 82h0m0-2h0m0 1h0m0-87h0m0 94h0m1-73h0m0 0h0m0-8h0m0-19h0m0 21h0m0-13h0m0-17h0m0 8h0m1 94h0m0-66h0m0-18h0m1 8h0m0-8h0m0 2h0m0-13h0m0 17h0m0 80h0m0-92h0m0 20h0m0 73h0m0-3h0m0 0h0m0-73h0m0-27h0m1 30h0m0-2h0m0-2h0m0-51h0m1 125h0m0-145h0m0 66h0m0 10h0m0 74h0m0-90h0m1 87h0m0 5h0m0-72h0m1-4h0m0-14h0m0-38h0m0 13h0m0 40h0m0 3h0m0-3h0m0-6h0m1-8h0m0 82h0m0-1h0m0-85h0m0-15h0m0 31h0m0-27h0m0 15h0m0 11h0m0-4h0m1-2h0m0-71h0m0 59h0m1 17h0m0-71h0m0 142h0m0 3h0m0-77h0m0-2h0m0 4h0m0 78h0m0-4h0m0-82h0m0 83h0m0-133h0m0 15h0m1 33h0m0 85h0m1-69h0m0 69h0m0-79h0m0 8h0m0-1h0m0-36h0m0 106h0m0 4h0m1-82h0m0 79h0m0-139h0m0 67h0m0-30h0m1 36h0m0-28h0m0 11h0m0 16h0m0-3h0m0-50h0m0 24h0m1 95h0m0-178h0m0 180h0m0 0h0m0-93h0m0 5h0m0 3h0m0 87h0m0-5h0m0-69h0m0-28h0m0 97h0m1-67h0m0-3h0m0-40h0m0 111h0m0-88h0m0 14h0m0 7h0m0 75h0m0-90h0m1 8h0m0 73h0m0-95h0m0 96h0m1-77h0m0-6h0m0 83h0m0 2h0m0-130h0m0 58h0m0 70h0m1-77h0m1 9h0m0-24h0m0 92h0m0-140h0m0 69h0m0-17h0m0 17h0m0-4h0m0-33h0m1 110h0m0-77h0m0-35h0m0 20h0m0-15h0m1 18h0m0 93h0m0-4h0m0-86h0m0 86h0m0-74h0m0-8h0m0-28h0m0 14h0m1 24h0m0-8h0m0-5h0m0 86h0m0-95h0m0 98h0m1-6h0m0-150h0m0 76h0m0 76h0m0-109h0m0 112h0m1-6h0m0-71h0m0 77h0m0-74h0m0 72h0m0-71h0m0 67h0m0-113h0m1 5h0m0-9h0m0 24h0m0 4h0m0 16h0m0-24h0m0 100h0m0 0h0m0-75h0m0 76h0m0-109h0m1 0h0m0 36h0m0 4h0m0 68h0m0-106h0m1-7h0m0 36h0m1-37h0m0-5h0m0 52h0m0-35h0m0 101h0m0-78h0m1 79h0m0-3h0m0 6h0m0-4h0m0-74h0m0-51h0m1 40h0m0-8h0m0 6h0m0-5h0m1 96h0m0-71h0m0-22h0m0 13h0m0 8h0m0-19h0m1 18h0m0 68h0m0 0h0m0-73h0m0 5h0m1 67h0m0-125h0m0 56h0m0 0h0m0-29h0m1 99h0m0-103h0m0 34h0m0-30h0m0 31h0m1 75h0m0-115h0m0 42h0m0 72h0m0-188h0m0 98h0"/>
<line x1="1577.6" y1="1219.6" x2="1577.6" y2="1485" stroke="#fff" stroke-width="1.8"/>
<line x1="1625.5" y1="1219.6" x2="1625.5" y2="1485" stroke="#fff" stroke-width="1.8"/>
<line x1="1672.1" y1="1219.6" x2="1672.1" y2="1485" stroke="#fff" stroke-width="1.8"/>
<line x1="1700.9" y1="1219.6" x2="1700.9" y2="1485" stroke="#fff" stroke-width="1.8"/>
<line x1="1738" y1="1219.6" x2="1738" y2="1485" stroke="#fff" stroke-width="1.8"/>
<line x1="1773.1" y1="1219.6" x2="1773.1" y2="1485" stroke="#fff" stroke-width="1.8"/>
<line x1="1802.6" y1="1219.6" x2="1802.6" y2="1485" stroke="#fff" stroke-width="1.8"/>
<line x1="1830.4" y1="1219.6" x2="1830.4" y2="1485" stroke="#fff" stroke-width="1.8"/>
<line x1="1851.9" y1="1219.6" x2="1851.9" y2="1485" stroke="#fff" stroke-width="1.8"/>
<line x1="1880.4" y1="1219.6" x2="1880.4" y2="1485" stroke="#fff" stroke-width="1.8"/>
<line x1="1904.7" y1="1219.6" x2="1904.7" y2="1485" stroke="#fff" stroke-width="1.8"/>
<line x1="1942.2" y1="1219.6" x2="1942.2" y2="1485" stroke="#fff" stroke-width="1.8"/>
<line x1="1955" y1="1219.6" x2="1955" y2="1485" stroke="#fff" stroke-width="1.8"/>
<line x1="1976.2" y1="1219.6" x2="1976.2" y2="1485" stroke="#fff" stroke-width="1.8"/>
<line x1="1994.3" y1="1219.6" x2="1994.3" y2="1485" stroke="#fff" stroke-width="1.8"/>
<line x1="2010.6" y1="1219.6" x2="2010.6" y2="1485" stroke="#fff" stroke-width="1.8"/>
<line x1="2033.5" y1="1219.6" x2="2033.5" y2="1485" stroke="#fff" stroke-width="1.8"/>
<line x1="2045.7" y1="1219.6" x2="2045.7" y2="1485" stroke="#fff" stroke-width="1.8"/>
<line x1="2053.3" y1="1219.6" x2="2053.3" y2="1485" stroke="#fff" stroke-width="1.8"/>
<line x1="2066.5" y1="1219.6" x2="2066.5" y2="1485" stroke="#fff" stroke-width="1.8"/>
<line x1="2072.4" y1="1219.6" x2="2072.4" y2="1485" stroke="#fff" stroke-width="1.8"/>
<line x1="2078.7" y1="1219.6" x2="2078.7" y2="1485" stroke="#fff" stroke-width="1.8"/>
<rect x="1510.6" y="1218.6" width="589.6" height="267.4" fill="none" stroke="#8C8C8C" stroke-width="1.3"/>
<text x="1544.6" y="1507.5" text-anchor="middle">1</text>
<text x="1718.9" y="1507.5" text-anchor="middle">5</text>
<text x="1864.8" y="1507.5" text-anchor="middle">10</text>
<text x="1986.3" y="1507.5" text-anchor="middle">15</text>
<text x="2063.7" y="1507.5" text-anchor="middle">20</text>
<text x="2090.5" y="1507.5" text-anchor="middle">X</text>
<text x="1805.4" y="1528.3" text-anchor="middle">Chromosome</text>
<text x="1530.6" y="1253.6">n = 44,435</text>
<text x="2078.2" y="1253.6" font-size="20.2" text-anchor="end">Rep. 3</text>
<text x="1444.6" y="1352.3" font-size="25.2" text-anchor="middle" font-weight="bold" transform="rotate(-90 1444.6 1352.3)">RNA</text>
<text x="1468.4" y="1352.3" font-size="25.2" text-anchor="middle" font-weight="bold" transform="rotate(-90 1468.4 1352.3)">C-to-U editing (%)</text>
<line x1="88.5" y1="1843.2" x2="678.1" y2="1843.2" stroke="#E6E6E6" stroke-width="1.3"/>
<text x="80.5" y="1850.4" text-anchor="end">0</text>
<line x1="88.5" y1="1782.2" x2="678.1" y2="1782.2" stroke="#E6E6E6" stroke-width="1.3"/>
<text x="80.5" y="1789.5" text-anchor="end">20</text>
<line x1="88.5" y1="1721.3" x2="678.1" y2="1721.3" stroke="#E6E6E6" stroke-width="1.3"/>
<text x="80.5" y="1728.5" text-anchor="end">40</text>
<line x1="88.5" y1="1660.4" x2="678.1" y2="1660.4" stroke="#E6E6E6" stroke-width="1.3"/>
<text x="80.5" y="1667.6" text-anchor="end">60</text>
<line x1="88.5" y1="1599.4" x2="678.1" y2="1599.4" stroke="#E6E6E6" stroke-width="1.3"/>
<text x="80.5" y="1606.6" text-anchor="end">80</text>
<rect x="89" y="1782.6" width="588.6" height="33.5" fill="#EB4F8F"/>
<path transform="scale(0.5)" fill="none" stroke="#EB4F8F" stroke-width="5.8" stroke-linecap="round" d="M179 3567h0m1-1h0m0-13h0m0-7h0m0 21h0m0-23h0m0 18h0m0-5h0m0 3h0m1 3h0m0-5h0m0-10h0m1 98h0m0-82h0m0-21h0m0 13h0m0-5h0m1-74h0m0 88h0m0-45h0m0 37h0m1 5h0m0-11h0m0-3h0m0 16h0m1-18h0m1-88h0m0 98h0m0 4h0m0-29h0m0 31h0m1-11h0m0-12h0m0-15h0m1 26h0m0 0h0m0-47h0m1 53h0m0-6h0m0 16h0m0-3h0m0-23h0m2 93h0m0-99h0m0 23h0m0-151h0m0 154h0m0 1h0m0-3h0m0-67h0m2 142h0m0-88h0m0 88h0m0-76h0m1-5h0m1 4h0m0 10h0m0-3h0m0-131h0m0 133h0m0-1h0m1-6h0m0-5h0m0-16h0m0-24h0m1 120h0m0-66h0m1-29h0m0 21h0m1 2h0m0-21h0m0 0h0m0-7h0m0 6h0m1 6h0m0 13h0m0 73h0m0 42h0m1-115h0m0-20h0m0-9h0m1 5h0m0 32h0m0-16h0m0-1h0m0-4h0m0 18h0m1-20h0m0 24h0m0-9h0m0 8h0m0-14h0m0 5h0m0-31h0m1 37h0m0-3h0m0 76h0m1-77h0m0-31h0m1 39h0m0-1h0m0-12h0m1 77h0m0-76h0m0-2h0m0 78h0m0-68h0m1-23h0m0 15h0m1-32h0m0 22h0m0 7h0m0 4h0m0 3h0m1-23h0m0 27h0m0-51h0m0 34h0m1-83h0m0 70h0m1 31h0m0-1h0m0-5h0m1 75h0m0-133h0m0 64h0m0-12h0m0 81h0m2-71h0m0-3h0m0 7h0m0-22h0m0-253h0m0 268h0m1-30h0m0 14h0m0 20h0m0-25h0m0 14h0m1 13h0m0-34h0m0 101h0m0-73h0m1-67h0m0 68h0m0 94h0m0-21h0m1-68h0m0-2h0m0 70h0m0-72h0m0-6h0m0-3h0m2 2h0m0-5h0m0-4h0m1 15h0m0-20h0m0 93h0m1-75h0m0-11h0m0 11h0m0 3h0m0 72h0m1-67h0m0-37h0m0 34h0m0 94h0m1-26h0m0-90h0m0 25h0m0-33h0m1-45h0m0 59h0m0-24h0m0 35h0m1 3h0m0 70h0m1-79h0m1-9h0m0 87h0m0 5h0m1-78h0m0-13h0m0 18h0m0-14h0m0 17h0m1-75h0m0 72h0m0 4h0m0-88h0m0-6h0m0 94h0m1-10h0m0-74h0m1 28h0m0-10h0m0 60h0m0 6h0m0-8h0m0 74h0m1-130h0m0 62h0m0-14h0m2 83h0m0-113h0m0-4h0m0 1h0m1 49h0m0-22h0m0 88h0m0-66h0m0-16h0m1 6h0m0-17h0m0 19h0m1-75h0m0 151h0m1-103h0m0 31h0m0-16h0m0 5h0m1 15h0m0-6h0m0-28h0m1 15h0m0-29h0m1 24h0m0 91h0m0-94h0m0-5h0m0 28h0m1-5h0m0-34h0m0 40h0m0-10h0m1 0h0m0 1h0m0-2h0m0 3h0m0-45h0m1 52h0m1 71h0m0 1h0m0-75h0m0 75h0m0-84h0m0-8h0m0 24h0m0-11h0m1-18h0m0 28h0m0-26h0m0-1h0m0 20h0m0 5h0m1 70h0m0-77h0m1-14h0m0-92h0m0 88h0m0 100h0m0-140h0m0 153h0m1-102h0m0 2h0m0-15h0m0 23h0m0 4h0m0-39h0m0 32h0m0 3h0m0-35h0m0-4h0m1 113h0m0-76h0m0 92h0m0-16h0m0-81h0m0 2h0m1-12h0m0-10h0m0 11h0m0 11h0m0 79h0m0-78h0m0 77h0m0 6h0m1-127h0m0 52h0m0 1h0m1-1h0m0-12h0m0 13h0m1-14h0m0 14h0m0-25h0m0-1h0m0 14h0m0-10h0m0 9h0m1 6h0m0 9h0m0-28h0m0-39h0m0 16h0m0 30h0m1 13h0m0-35h0m0 39h0m0-43h0m0 13h0m0-10h0m0 26h0m2 84h0m0-79h0m0 77h0m0 13h0m0-106h0m0 22h0m1-12h0m0 0h0m0-13h0m1 32h0m0-3h0m0-18h0m0-7h0m0 0h0m1 18h0m0 3h0m0 6h0m1-41h0m0 32h0m0-27h0m0 104h0m0-72h0m1-6h0m0-41h0m0 32h0m0-15h0m0 25h0m1 11h0m0 64h0m0-102h0m0 37h0m1-3h0m0-11h0m0 5h0m0-26h0m0 2h0m0 29h0m0 2h0m1 73h0m0-76h0m0-64h0m0 68h0m0 68h0m0-119h0m1 49h0m0-11h0m0 4h0m1 6h0m0-6h0m1-6h0m0-73h0m0 154h0m0-82h0m0-159h0m0 241h0m1-65h0m0 67h0m1-84h0m0 91h0m0-99h0m0 93h0m0-72h0m1 4h0m0-9h0m0-25h0m1 12h0m0 93h0m0-71h0m0 68h0m0 0h0m1-73h0m0 71h0m1-1h0m0-105h0m1 18h0m1-31h0m0 32h0m0 89h0m0-72h0m1 0h0m0 0h0m0-19h0m0-55h0m1 71h0m0-103h0m0 99h0m1-40h0m0 50h0m1-2h0m0-16h0m0 10h0m0 76h0m1-2h0m0 0h0m0-66h0m0-6h0m1-1h0m0-1h0m1-38h0m0 31h0m0 7h0m0-31h0m0 112h0m1-101h0m0 103h0m1-81h0m0-28h0m0 22h0m0-5h0m1 15h0m0-54h0m0 56h0m0-28h0m0 99h0m1-97h0m0 22h0m0-11h0m1 9h0m0 2h0m0-5h0m1 77h0m0-93h0m0-17h0m1 16h0m0 4h0m0 3h0m1-31h0m0 50h0m2-139h0m0 121h0m0 8h0m0-60h0m1 54h0m0 16h0m0-9h0m0-24h0m1 28h0m0 4h0m0-31h0m0 101h0m1-205h0m0 202h0m0-118h0m0 10h0m1 31h0m0-2h0m0 8h0m0-84h0m0 17h0m0 67h0m0 2h0m0-94h0m0 96h0m0-43h0m1 44h0m0-13h0m1 92h0m0-97h0m0 6h0m0-26h0m0-14h0m0 54h0m0-3h0m1-7h0m1-13h0m0 22h0m1-11h0m0-50h0m0 57h0m1-23h0m0-8h0m0 20h0m0 15h0m0 68h0m0-119h0m1-23h0m0 141h0m0-85h0m1 8h0m0-17h0m1 94h0m0-2h0m0-100h0m0 24h0m0-6h0m1 17h0m0-23h0m0-21h0m0 38h0m1-56h0m0 60h0m0 1h0m0-15h0m0-6h0m1-50h0m0 54h0m0 17h0m0-29h0m0 26h0m1 84h0m0-80h0m1-55h0m0 47h0m0-19h0m1 100h0m1 7h0m1-100h0m0 88h0m0-70h0m0-26h0m0-4h0m1 29h0m0-40h0m1 24h0m0 6h0m0 11h0m1-15h0m0 83h0m1-126h0m0 52h0m1 1h0m0 73h0m1-154h0m0 73h0m1 16h0m0-8h0m0 4h0m0 120h0m1-137h0m0-13h0m1-5h0m0 9h0m1 30h0m0-24h0m0 9h0m0 10h0m0-11h0m1 87h0m1-87h0m0 7h0m1 1h0m0-39h0m0 35h0m2 1h0m0-27h0m0 5h0m1 14h0m0-6h0m0-44h0m1 65h0m0 0h0m0-49h0m0 117h0m0 0h0m1-64h0m0-11h0m0 4h0m1-6h0m0-79h0m0 74h0m1 84h0m0-69h0m0-39h0m0 34h0m1 3h0m0-30h0m1 24h0m0 77h0m1-70h0m0-5h0m0 76h0m0-78h0m1-18h0m0 24h0m0 5h0m0-4h0m0-11h0m0-19h0m1 14h0m0-20h0m1 39h0m0-4h0m1-20h0m0-8h0m0-50h0m0 68h0m0 5h0m0-28h0m0 31h0m1-3h0m0 74h0m0-88h0m0 21h0m1-2h0m0 0h0m1-17h0m0 97h0m0 3h0m1-80h0m0-78h0m0 10h0m1 50h0m0 11h0m0-14h0m0-184h0m1 273h0m0-2h0m0-103h0m0 1h0m0 35h0m1-23h0m0 22h0m0-5h0m0 6h0m1-20h0m0-2h0m0-9h0m0 32h0m1-5h0m0-14h0m0 12h0m0-4h0m0 12h0m0 1h0m0-8h0m0-17h0m0 1h0m0-2h0m0 20h0m0-5h0m1-25h0m0 15h0m0 88h0m0-120h0m0 51h0m0-11h0m0-28h0m0-1h0m0 38h0m1-18h0m0 10h0m0-32h0m1 41h0m0 69h0m0-71h0m0 1h0m0 1h0m1-12h0m0 84h0m0-77h0m0-6h0m0-22h0m1-127h0m0 122h0m1 27h0m0-39h0m1 20h0m0-53h0m0 63h0m0 3h0m0 109h0m0-174h0m1 51h0m0 26h0m0-1h0m0 73h0m1-93h0m0 20h0m1 99h0m0-133h0m1 25h0m0 13h0m1-26h0m0 96h0m0-80h0m1 84h0m0-76h0m0-7h0m1 12h0m0-26h0m1-3h0m0 4h0m0 25h0m1 66h0m0-70h0m0 0h0m1-5h0m0 8h0m1-123h0m0 111h0m0-16h0m0 20h0m0 10h0m1-62h0m0 138h0m0-9h0m1-68h0m0-8h0m0-9h0m0 3h0m0-60h0m1 60h0m0 83h0m0-76h0m0-1h0m0 1h0m0 75h0m1-71h0m0-26h0m0 31h0m0 67h0m0 0h0m1-73h0m0-12h0m1 11h0m0 3h0m0-13h0m0 11h0m0 72h0m1-125h0m0 49h0m0-15h0m0 94h0m1-93h0m0 19h0m0-8h0m0 8h0m0-27h0m1 21h0m0-10h0m0 84h0m1 3h0m1-77h0m0 1h0m0-24h0m0-29h0m1 54h0m0 3h0m1 4h0m0 68h0m0-70h0m0-28h0m0-4h0m0 23h0m0 7h0m1-57h0m0 2h0m0 58h0m0-11h0m0-4h0m1 16h0m1-5h0m0-44h0m0 115h0m0-66h0m0-58h0m0 57h0m1-18h0m0-13h0m0 6h0m0-3h0m0 27h0m1-29h0m0-13h0m0-127h0m0 162h0m0-58h0m1 54h0m0 83h0m0-82h0m2 3h0m0-2h0m1 7h0m0 6h0m0-24h0m1 15h0m1-25h0m0 28h0m0 72h0m0 0h0m1-71h0m0-1h0m0-11h0m1-3h0m0 15h0m0 69h0m1-64h0m0-19h0m0-33h0m1 31h0m0 0h0m0 86h0m0-99h0m1 26h0m0-23h0m0 28h0m0-10h0m0-7h0m1 4h0m0-9h0m0-3h0m0 13h0m1 79h0m0-65h0m0-22h0m0 87h0m0-90h0m0 24h0m1-62h0m0 56h0m0-20h0m0 18h0m0-3h0m1 0h0m0 79h0m0-146h0m0 69h0m1 8h0m0 2h0m0-46h0m1 39h0m0-2h0m0 4h0m1-29h0m0 101h0m0-105h0m1 102h0m0-142h0m1 58h0m0 13h0m0-14h0m1 11h0m0-19h0m1 22h0m0 5h0m0 1h0m0-23h0m1 24h0m0-55h0m1 52h0m0-15h0m0-11h0m0 24h0m1-25h0m0 26h0m0-6h0m1 76h0m0 4h0m0-80h0m0 6h0m0 3h0m1-44h0m0 40h0m0-12h0m1 15h0m0-14h0m0 13h0m0-35h0m0-34h0m0 17h0m1 51h0m0-30h0m1 4h0m0-56h0m0 72h0m0-8h0m0 13h0m0 75h0m1-92h0m0 9h0m0-8h0m1-24h0m0 46h0m0 68h0m0-122h0m1 55h0m0-9h0m0-23h0m0 108h0m0-5h0m0 4h0m0-75h0m1 70h0m0-95h0m1 21h0m0 4h0m0-49h0m0 125h0m0-111h0m0 11h0m0 17h0m0 3h0m1-27h0m0 20h0m0-9h0m1 90h0m0-123h0m0 25h0m0 25h0m0-37h0m1 108h0m0-81h0m0-3h0m0 112h0m2-97h0m0 1h0m0 0h0m0-27h0m2 9h0m0 3h0m0-3h0m0 20h0m2-7h0m0 73h0m0-81h0m0-28h0m0 28h0m1-18h0m0-7h0m0 38h0m1 1h0m1-21h0m1 101h0m0-89h0m0-49h0m0 43h0m0-13h0m0 94h0m1-81h0m0 13h0m1-11h0m0 82h0m0-3h0m0-94h0m1 1h0m0 108h0m1-90h0m0-44h0m0 54h0m1-9h0m0-11h0m0-28h0m0 32h0m1 83h0m0-106h0m1 18h0m0 135h0m0-122h0m0-12h0m1 3h0m0 12h0m0 4h0m0-38h0m0-53h0m1-1h0m0 93h0m1-4h0m0 2h0m0-5h0m0-25h0m0 28h0m1-5h0m0 8h0m0 66h0m1-92h0m0-14h0m0-98h0m0 131h0m0 6h0m0-12h0m0 5h0m1 8h0m0-7h0m0-1h0m0-1h0m0-123h0m0 198h0m0-102h0m1 102h0m0 0h0m0 0h0m1-72h0m1 1h0m0-2h0m0 0h0m0-4h0m1 77h0m1-92h0m0 9h0m0 119h0m0-134h0m0 33h0m0-2h0m0 81h0m0-87h0m1-14h0m0 2h0m0 87h0m0-93h0m0 91h0m1-83h0m0 2h0m0 14h0m0 68h0m0-68h0m1 68h0m0-76h0m0-9h0m0 85h0m0-81h0m0 6h0m0-54h0m0 49h0m1 82h0m0-85h0m0-1h0m2 13h0m0 0h0m0-5h0m1 0h0m0 78h0m0-76h0m0-69h0m1 39h0m0 12h0m0 14h0m0 1h0m0-25h0m0 4h0m0 32h0m1-27h0m0 23h0m0-4h0m0 4h0m0 3h0m0-3h0m1-25h0m1 3h0m0 25h0m0-14h0m1-16h0m0 99h0m0-78h0m0 10h0m1-32h0m0-53h0m0-13h0m0 24h0m1 73h0m0-39h0m1-30h0m0 68h0m0 1h0m0-14h0m0 15h0m1-44h0m0 20h0m0-5h0m0 96h0m0-81h0m1-27h0m0 25h0m0 16h0m0-7h0m1 81h0m0-75h0m0 0h0m1-1h0m0-32h0m0-29h0m0 44h0m0 12h0m1-3h0m0 4h0m1-22h0m0 28h0m0-31h0m0 29h0m0-33h0m1 23h0m0 10h0m0 73h0m1-103h0m0 32h0m0-24h0m0 20h0m0 1h0m0 71h0m0-136h0m1 16h0m0 49h0m0 1h0m1-68h0m0 58h0m0 9h0m0 77h0m0-75h0m1-22h0m0 2h0m0-16h0m0-16h0m0 52h0m0-5h0m1-4h0m0 75h0m1-97h0m0 100h0m0-71h0m1-11h0m1 82h0m0-122h0m0 41h0m0-17h0m0 95h0m0-76h0m0-2h0m1-9h0m0 22h0m1-1h0m0 67h0m0-67h0m1-38h0m0 38h0m0-7h0m0 5h0m1 0h0m0 0h0m1 68h0m1 2h0m0-164h0m0 18h0m0 73h0m1-16h0m0-10h0m0 22h0m1-8h0m0 84h0m0-132h0m1 46h0m1 21h0m0-31h0m0 28h0m0-19h0m1 2h0m0 8h0m0-58h0m0 69h0m0-16h0m0 10h0m1-88h0m1 85h0m0 76h0m1-80h0m0 12h0m1-3h0m0-11h0m1 16h0m0-6h0m0-9h0m0-4h0m0 85h0m0-94h0m0 21h0m1-9h0m0 6h0m0-3h0m0 79h0m0-2h0m1-75h0m0 83h0m0-104h0m0 26h0m0-11h0m1-30h0m0 47h0m0-6h0m0 2h0m1-4h0m0-42h0m1 19h0m1 25h0m0-10h0m0 12h0m1-10h0m0 9h0m0-29h0m0 25h0m0-66h0m1 74h0m1-2h0m0 68h0m0-103h0m0 107h0m0-125h0m1 52h0m0-18h0m0 13h0m0-21h0m0 28h0m0-6h0m0 5h0m1-7h0m0-158h0m0 148h0m0 84h0m0-66h0m0 67h0m0-70h0m1-17h0m0 1h0m0 7h0m0-20h0m1-52h0m0 84h0m0 0h0m1-3h0m0-4h0m0-26h0m0-37h0m0 71h0m0-23h0m1 1h0m1 12h0m0-21h0m0 27h0m0-30h0m0 17h0m1 15h0m0-16h0m0 8h0m0 8h0m0-19h0m1 1h0m0 17h0m0-24h0m1 26h0m1-26h0m0 12h0m0 13h0m0-24h0m0-1h0m1 11h0m0 84h0m0-127h0m0 22h0m1 35h0m0-4h0m0 82h0m0-9h0m1-84h0m0 13h0m0-111h0m0 116h0m0-23h0m1 22h0m0-30h0m0 30h0m1-16h0m0 10h0m0-4h0m0 2h0m0 75h0m0-133h0m1 132h0m0-70h0m0 1h0m1-27h0m0 12h0m0-7h0m0 20h0m0-10h0m0 1h0m1-92h0m0 97h0m0-8h0m1-30h0m0 45h0m1-177h0m1 144h0m0 11h0m0 90h0m0-69h0m0 0h0m0 71h0m0-86h0m0 83h0m0-87h0m0 90h0m1-85h0m0 1h0m0 0h0m1-45h0m0 127h0m0-151h0m1 33h0m0 35h0m0-7h0m1 21h0m0-51h0m1 43h0m0-2h0m0 8h0m0-46h0m0 16h0m1 34h0m0-19h0m0 17h0m0-1h0m1-3h0m0-13h0m0 15h0m1-2h0m0 7h0m0-2h0m0-4h0m0 5h0m1-58h0m0 53h0m0 2h0m0-7h0m0-29h0m1 27h0m0 9h0m0-5h0m1-26h0m0 32h0m0-33h0m0 17h0m1-10h0m0-91h0m1 41h0m1 75h0m0-35h0m0-18h0m0 54h0m1-9h0m0-87h0m0 92h0m1-37h0m0 24h0m1-12h0m0 13h0m0 18h0m0 68h0m0-69h0m0 70h0m1-3h0m0-68h0m0-7h0m0 2h0m1 76h0m0 1h0m0-77h0m0-10h0m0 19h0m1-34h0m2 17h0m0 12h0m0-70h0m0 23h0m0 19h0m1 18h0m0 82h0m1-75h0m0-29h0m0 35h0m0 66h0m1-73h0m0 74h0m0-70h0m1 1h0m0-32h0m0-6h0m0 31h0m1-12h0m0-6h0m0 98h0m0-140h0m1 138h0m0-70h0m0-4h0m0 6h0m0-11h0m1-40h0m0 31h0m0-11h0m0 6h0m1 2h0m0-17h0m1-16h0m0 48h0m0 3h0m0 70h0m1-64h0m0-10h0m0-75h0m1 82h0m0-11h0m0-28h0m0 29h0m0-1h0m1 12h0m0-18h0m0-81h0m0 95h0m0 73h0m0-130h0m1 60h0m0-34h0m0-12h0m0 113h0m0-80h0m1 14h0m0 2h0m0-35h0m0 13h0m0 19h0m0-1h0m1 67h0m0-98h0m0 32h0m0-7h0m0-47h0m1 12h0m0 29h0m0 81h0m0-78h0m1 11h0m0-41h0m0 10h0m0 21h0m0 12h0m0-8h0m0-12h0m1-22h0m0 3h0m0 1h0m0 14h0m1 17h0m0-3h0m0-22h0m0 29h0m1-22h0m1 97h0m0-120h0m0 44h0m0 1h0m1-1h0m0 99h0m1-117h0m1 15h0m0-3h0m0 7h0m0 2h0m1 0h0m0-33h0m0 33h0m1 0h0m0-2h0m0 2h0m0-18h0m0-5h0m0 89h0m1-70h0m0-48h0m0 117h0m0-108h0m0 29h0m1 12h0m0-9h0m0-23h0m0 35h0m0 68h0m0-2h0m0-81h0m0 79h0m1-86h0m0 0h0m0 89h0m1-74h0m0-47h0m0 35h0m0-9h0m0 7h0m0-23h0m1 39h0m0-44h0m0 37h0m0 5h0m0-20h0m1-8h0m0 101h0m0-129h0m1 25h0m0 38h0m0 66h0m1-69h0m0-38h0m0 22h0m1 8h0m0 1h0m0 0h0m1 73h0m0-116h0m0-28h0m0 68h0m1-4h0m0 14h0m0-2h0m0-4h0m0-23h0m0 21h0m1-42h0m0 131h0m0-88h0m1 8h0m0-24h0m1 26h0m0 66h0m0-74h0m1 2h0m0-3h0m1-25h0m0 17h0m1-3h0m0 90h0m0-115h0m0 37h0m0-34h0m1-23h0m0 40h0m1-22h0m0 29h0m0 90h0m0-78h0m0-16h0m0-96h0m0 85h0m0 26h0m1 70h0m0-108h0m1-43h0m1 79h0m0-19h0m0 23h0m0-1h0m0-78h0m0 76h0m0-52h0m0 33h0m0 91h0m0-65h0m0-10h0m1 76h0m0-72h0m0 6h0m0-71h0m0-42h0m0 100h0m0-48h0m1 56h0m0-6h0m0 8h0m1 4h0m0-58h0m0 36h0m0 88h0m1-82h0m0 15h0m0 66h0m0-130h0m0 56h0m1 6h0m0-4h0m0 5h0m1-21h0m0 16h0m0 0h0m0-2h0m0 6h0m1 76h0m0-93h0m0 6h0m0-40h0m0 4h0m2 41h0m0 4h0m0-6h0m1 8h0m0-32h0m0 23h0m0 7h0m1-20h0m0 94h0m0-86h0m0 16h0m0-17h0m0-2h0m0-50h0m1 52h0m0 86h0m0-70h0m0 1h0m1-31h0m0-2h0m0-4h0m2 23h0m0-49h0m0 43h0m0 17h0m1-126h0m0 89h0m1 39h0m0-9h0m0 0h0m2-46h0m0 25h0m0 14h0m0-86h0m1 102h0m0-52h0m0 54h0m1-7h0m0-69h0m1 75h0m0-37h0m1 16h0m0 7h0m0-8h0m0 9h0m0 11h0m0-79h0m1 148h0m0-131h0m0 61h0m1-7h0m0-31h0m0 23h0m0-25h0m1 33h0m0-8h0m0 12h0m0-1h0m1-32h0m0 24h0m0 0h0m0-37h0m0 39h0m1-28h0m0 38h0m0-23h0m0-31h0m0 40h0m0-69h0m0 152h0m1-93h0m0 23h0m1-9h0m0 79h0m0-69h0m0 1h0m0-7h0m1 8h0m0 66h0m0-75h0m0-111h0m0 53h0m1 136h0m0-87h0m0-6h0m0-5h0m1 20h0m0-15h0m0 12h0m1 9h0m0-3h0m2-2h0m0 2h0m0-15h0m0-57h0m0 78h0m2-4h0m0-66h0m0 72h0m1-28h0m0 92h0m1-66h0m0-22h0m0 90h0m0 0h0m1-95h0m0 95h0m0-71h0m0-29h0m1 100h0m0-77h0m1 76h0m0-70h0m0 77h0m1-80h0m0 74h0m1-90h0m0-39h0m1 55h0m0 4h0m0-19h0m0-11h0m0 16h0m1 85h0m1 5h0m0-94h0m0 10h0m0 5h0m1-14h0m0 6h0m0-39h0m1 18h0m0 29h0m0 71h0m0 5h0m0-101h0m1 17h0m0-43h0m0 55h0m0-1h0m0-8h0m0 79h0m0 4h0m1-4h0m0-71h0m0-13h0m1-27h0m1 34h0m0-26h0m0 29h0m0 2h0m0-3h0m0 5h0m0-2h0m0-35h0m1 20h0m0 17h0m0 2h0m0-20h0m0-1h0m0 21h0m2 0h0m0-6h0m1 5h0m0-6h0m0-11h0m1 83h0m0 7h0m0-81h0m1-19h0m0 21h0m0-13h0m0 19h0m1-21h0m0 2h0m0 85h0m0-110h0m0 42h0m0-3h0m0-34h0m0 12h0m1 29h0m0 71h0m1-3h0m0-4h0m0-144h0m0 76h0m1-73h0m0-2h0m0 46h0m1 32h0m1-29h0m0-14h0m0 109h0m0-86h0m0 20h0m0-20h0m0 7h0m1 94h0m0-11h0m1-76h0m1 7h0m0-13h0m0-16h0m0-36h0m0 61h0m0 70h0m1-97h0m0-85h0m0 100h0m1 15h0m0 68h0m0-2h0m1-75h0m0 7h0m0-19h0m0-28h0m0 48h0m1-15h0m0 1h0m0 12h0m1-16h0m0 18h0m0-17h0m0-11h0m0 16h0m0 0h0m0-15h0m1-1h0m0-27h0m0 52h0m0-11h0m0 82h0m1-70h0m0-4h0m0-21h0m1 94h0m1-66h0m0 74h0m0-86h0m0-10h0m0 7h0m0 16h0m0 68h0m0-73h0m1 71h0m0-69h0m0-24h0m0 27h0m1-28h0m0 28h0m0-4h0m1 71h0m0-69h0m0-54h0m1 54h0m0-11h0m0-10h0m1 18h0m0 73h0m1-5h0m0-74h0m0-8h0m0 8h0m0-16h0m1 21h0m0 1h0m0-15h0m1 17h0m0-9h0m1 8h0m1-4h0m0-29h0m0 35h0m0-41h0m1 30h0m0-20h0m0 32h0m0 1h0m0-28h0m0 10h0m0 4h0m0-4h0m1 83h0m0-82h0m1 6h0m0-33h0m0 44h0m0-16h0m0 83h0m0-81h0m0 12h0m1-4h0m0-2h0m0 0h0m0-83h0m1 65h0m0 18h0m0-62h0m0 43h0m1-14h0m0 31h0m0-35h0m1 40h0m0 4h0m0-19h0m0 9h0m0-29h0m1 19h0m0-50h0m1 63h0m0-19h0m1 7h0m0 16h0m0-15h0m1 2h0m0 17h0m0-22h0m0-11h0m2 101h0m1-73h0m0-46h0m0 26h0m1 20h0m0-19h0m0-22h0m0-37h0m1 154h0m0-132h0m1-18h0m0 64h0m0 14h0m1 64h0m0-72h0m0 2h0m0-23h0m0 7h0m0 18h0m1-47h0m0 48h0m1 70h0m0-79h0m0 10h0m1-26h0m1 95h0m0-73h0m1 5h0m0-32h0m0 26h0m1 0h0m0-56h0m0 51h0m1 85h0m0-72h0m0-36h0m0 24h0m0-33h0m1 24h0m0-1h0m0-1h0m0 15h0m0-27h0m1 34h0m0-49h0m0 8h0m0 108h0m1-130h0m0 58h0m0 2h0m1-42h0m0 26h0m0-4h0m1 88h0m0-77h0m0-11h0m0 24h0m1 65h0m0-110h0m0 41h0m1-13h0m1 11h0m0 70h0m0-80h0m0 13h0m0-7h0m0-21h0m1 26h0m0 71h0m0 1h0m0-72h0m0 0h0m1 70h0m0-100h0m0 102h0m0-101h0m0 104h0m0-83h0m0 8h0m1-17h0m0-29h0m0 28h0m0-13h0m0 25h0m0 77h0m0-88h0m1-2h0m0 9h0m1-28h0m0 41h0m0-9h0m0-9h0m0-16h0m0 25h0m0 5h0m1-12h0m0 7h0m0 4h0m1-8h0m0 80h0m0-108h0m0 0h0m1 108h0m0 0h0m1-70h0m0-19h0m1 91h0m0 39h0m0-39h0m0-76h0m1-5h0m1 4h0m0-11h0m0 17h0m0-31h0m0-29h0m0 63h0m1-1h0m0-34h0m0 20h0m0 9h0m0-54h0m0 47h0m0-88h0m1 95h0m1 72h0m0-69h0m0-6h0m1-12h0m0 2h0m0 13h0m0-45h0m0 118h0m0-100h0m1 9h0m0 11h0m0 6h0m0-53h0m0 133h0m1-104h0m1-4h0m1-58h0m0 90h0m0-35h0m0-47h0m0 75h0m1 5h0m0-32h0m0 104h0m1-179h0m0 95h0m1-11h0m0 20h0m0 6h0m0 78h0m0-77h0m0-35h0m1 0h0m0 6h0m0 24h0m1-47h0m0 51h0m0 67h0m0-91h0m1 27h0m0-33h0m0-7h0m0 29h0m1-5h0m0 85h0m1 48h0m0-38h0m0-84h0m0 70h0m0-74h0m1-19h0m0 22h0m1-43h0m0-6h0m0 51h0m0-51h0m1 51h0m0-30h0m1 29h0m0-31h0m0 15h0m1 1h0m0 7h0m0 77h0m1-94h0m0 93h0m0-70h0m0 6h0m1-2h0m0-1h0m0-54h0m0 53h0m0 4h0m0 71h0m0-71h0m0-10h0m1 5h0m0 4h0m0 1h0m1-42h0m0 23h0m0-3h0m0 15h0m0 4h0m1 1h0m0-69h0m0 59h0m0-23h0m0 32h0m0 83h0m1-90h0m0 3h0m0 0h0m0-11h0m0 18h0m1-3h0m0-103h0m0 176h0m0-84h0m1 10h0m0-38h0m0 12h0m0-2h0m0 32h0m1-4h0m0 2h0m0-2h0m0-2h0m1-7h0m0 14h0m0-4h0m0-38h0m0 29h0m1 81h0m0-95h0m0 12h0m0 12h0m0 1h0m0-5h0m1-35h0m0 4h0m0 105h0m0-77h0m0-14h0m0 13h0m0-5h0m1 95h0m0-103h0m0-16h0m0-88h0m1 197h0m0 4h0m0-92h0m0 82h0m0-141h0m0 75h0m0-1h0m1-60h0m1 58h0m0-24h0m0-45h0m0 67h0m0-7h0m0 13h0m0-27h0m0-240h0m1 234h0m0 20h0m0 10h0m0 2h0m2 70h0m0-75h0m0-28h0m1 10h0m0 94h0m1-112h0m0 12h0m0 4h0m1-1h0m0 10h0m0-8h0m0 94h0m0-96h0m0-1h0m0 26h0m1-11h0m0 13h0m0-19h0m0 88h0m0-88h0m1 11h0m0-164h0m0 145h0m0-33h0m1 62h0m0-15h0m1-5h0m1 17h0m0-59h0m0 49h0m0 10h0m0-23h0m1 0h0m0 14h0m0 10h0m0-15h0m0 4h0m0-4h0m0 9h0m0 1h0m1-17h0m0-18h0m0 5h0m1 9h0m0 21h0m0 6h0m0 0h0m0-4h0m1 1h0m0-12h0m0 10h0m0-15h0m1 0h0m0 20h0m0-14h0m1-2h0m0 4h0m0 4h0m0-25h0m0 101h0m0-86h0m0 16h0m1-23h0m0 7h0m1 18h0m0-11h0m1-2h0m0-8h0m0 12h0m0 5h0m0 70h0m0 6h0m1-5h0m1-1h0m0 53h0m0-138h0m0 87h0m0-71h0m1 0h0m0-37h0m0 12h0m0 14h0m0-7h0m0 14h0m0 84h0m1-77h0m0-66h0m1 60h0m0 5h0m1-20h0m0-42h0m0 10h0m0 38h0m0-48h0m2 129h0m0-67h0m0-61h0m0 53h0m0 78h0m1-72h0m0-18h0m0 8h0m0 78h0m2-97h0m0 16h0m0 10h0m0 2h0m1 69h0m0-113h0m1 45h0m0 3h0m0-8h0m1 75h0m0-119h0m0 39h0m0-4h0m0 14h0m0-31h0m1 27h0m0 5h0m0-7h0m1 74h0m0-69h0m0-29h0m0 2h0m0 26h0m0 73h0m1-1h0m0-100h0m0-42h0m1 72h0m0-68h0m0 68h0m1 0h0m0 79h0m0-129h0m1-1h0m0 51h0m1-1h0m0-10h0m0-63h0m0 69h0m0-44h0m0 40h0m0 8h0m1 1h0m0 70h0m0 1h0m0-90h0m1-10h0m0 21h0m0 77h0m0-72h0m1-3h0m0 74h0m0-125h0m1 52h0m0-22h0m1-33h0m1 131h0m0-72h0m0-48h0m0 46h0m0-4h0m1-12h0m0 88h0m1-80h0m0-17h0m0 27h0m1 5h0m0-4h0m0 75h0m1-102h0m0-42h0m0 63h0m0-19h0m0-6h0m0 34h0m0-75h0m0 53h0m0 89h0m1 1h0m0-3h0m0-103h0m0 20h0m1 86h0m0-86h0m0-23h0m0 36h0m1-15h0m0-65h0m1 36h0m0 40h0m0 9h0m0-4h0m0-35h0m0 103h0m0-86h0m1 13h0m0-7h0m1-7h0m0-4h0m0-25h0m1-25h0m0 64h0m0 0h0m1 78h0m0-78h0m0-34h0m1 13h0m0 33h0m0-20h0m0 19h0m0-13h0m0-48h0m1 53h0m0 75h0m0-65h0m1-29h0m0-35h0m0 59h0m0 2h0m0-50h0m1 40h0m0 2h0m0-9h0m0-16h0m1 35h0m0-1h0m0-16h0m0 15h0m1 2h0m0-28h0m0 94h0m1-74h0m0-1h0m0 2h0m0 6h0m1-14h0m0-79h0m0 92h0m0-7h0m0-5h0m0-33h0m0 116h0m1-85h0m0 7h0m0-25h0m1 31h0m0-29h0m0 8h0m0 6h0m0 19h0m0-15h0m0 81h0m1-85h0m0-15h0m0 25h0m1-58h0m0 67h0m0-34h0m0 34h0m0-10h0m0-17h0m0 24h0m1-28h0m0 30h0m0-12h0m1-7h0m0 2h0m0-37h0m0-28h0m0 57h0m1 22h0m1-36h0m0 29h0m0 7h0m0 4h0m0-3h0m0-44h0m1 39h0m0 2h0m1-175h0m0 169h0m0-114h0m0 121h0m0 4h0m1-9h0m0 6h0m0-82h0m0 74h0m0 10h0m1-35h0m0 9h0m0 92h0m0-81h0m0 15h0m0 67h0m1-73h0m0-16h0m0 23h0m0 0h0m0-35h0m1 102h0m0-78h0m0-36h0m0 33h0m0 15h0m0-60h0m1 126h0m1-91h0m0 3h0m1-37h0m0 124h0m1-79h0m1 81h0m0-73h0m0-23h0m1 29h0m0-16h0m0 1h0m0-37h0m1 37h0m0 10h0m0-14h0m1 12h0m1 74h0m0-76h0m0-64h0m0 53h0m1-1h0m0 2h0m0 11h0m1-23h0m0 98h0m0 36h0m1-129h0m0 91h0m0-81h0m1-2h0m0-1h0m0-3h0m0-31h0m0 43h0m0 7h0m0-4h0m0-40h0m0-2h0m1 7h0m0 108h0m0-87h0m0 9h0m0-3h0m1-28h0m0 16h0m1 94h0m0-86h0m0-21h0m0 18h0m1 19h0m1-20h0m0-6h0m0 104h0m0-88h0m0 7h0m2 73h0m0-104h0m0 34h0m1 4h0m0-2h0m0-80h0m1 80h0m0-8h0m0-7h0m1-16h0m0 9h0m1 21h0m0-11h0m0 9h0m0-43h0m0 38h0m1 4h0m0-16h0m0 2h0m0 17h0m1-7h0m0 7h0m0-15h0m1 13h0m0 2h0m0 0h0m0-39h0m0 27h0m0 12h0m1-99h0m0 172h0m1-6h0m0-78h0m0 77h0m0-68h0m1-20h0m0 1h0m1-17h0m0 23h0m0 85h0m0-85h0m1 2h0m0-22h0m0 37h0m0-34h0m1-36h0m0 71h0m0-1h0m0 1h0m0-132h0m1 129h0m0-41h0m1 36h0m0 74h0m0-79h0m1-15h0m0 16h0m0-34h0m0 39h0m1-6h0m0 11h0m0 0h0m0-8h0m0-66h0m1 57h0m0 88h0m1 15h0m0-93h0m1 5h0m0-8h0m0-52h0m0 50h0m1 9h0m0-14h0m1-62h0m0 22h0m0 53h0m1-35h0m0 26h0m0 12h0m0-50h0m1 48h0m0-5h0m0-8h0m1 6h0m0 2h0m1 0h0m0 8h0m1 96h0m0-102h0m0-54h0m0 33h0m0 8h0m0-24h0m1 45h0m0-22h0m0 18h0m0-49h0m0 41h0m1 11h0m0 68h0m0-71h0m1-6h0m0 5h0m1-19h0m0 19h0m1 4h0m0-31h0m0 31h0m0-6h0m0-27h0m0 32h0m1-2h0m0-5h0m1 5h0m0-64h0m0 22h0m0 0h0m0 40h0m0 3h0m0-37h0m1 26h0m0-5h0m0 16h0m0-46h0m0 42h0m1-110h0m0 180h0m0-63h0m0-16h0m0-77h0m0 89h0m0 70h0m1-122h0m0 52h0m1 71h0m0-111h0m0 35h0m0 79h0m1-74h0m0-13h0m0-64h0m0 65h0m0 12h0m1-51h0m0 40h0m0-12h0m0 12h0m0 82h0m0-104h0m0 0h0m1 35h0m0-4h0m1 1h0m0-14h0m0-94h0m0 110h0m0 70h0m1-100h0m0 11h0m0 94h0m0-7h0m1-67h0m0-17h0m0-60h0m1 74h0m0-10h0m0 7h0m1-59h0m0 57h0m0 7h0m1 71h0m0-71h0m1-13h0m0-94h0m1 58h0m0-16h0m1 54h0m0 11h0m1-15h0m0 10h0m1-1h0m0-31h0m0 39h0m0 67h0m0-97h0m0 21h0m0-50h0m0 41h0m0 8h0m0 7h0m1-36h0m0 17h0m0 17h0m0-11h0m1 87h0m0-5h0m0-73h0m1 72h0m0-67h0m0-6h0m0-16h0m0-6h0m0 96h0m1 0h0m0-75h0m0 2h0m0-6h0m0-18h0m1 28h0m0-5h0m0-80h0m0-3h0m0 59h0m0-16h0m0 43h0m1 72h0m1-91h0m0 90h0m0-78h0m0-47h0m1 54h0m0 73h0m0-79h0m0 76h0m1 3h0m0-74h0m0-5h0m0-5h0m1-90h0m0 85h0m0 1h0m0 12h0m0 2h0m0 1h0m0-1h0m1-15h0m0 19h0m0-43h0m0 43h0m0-2h0m1-25h0m0 18h0m0 7h0m1-5h0m0-16h0m1 142h0m0-133h0m0-8h0m0 23h0m0-5h0m0-24h0m0 18h0m0-60h0m1 67h0m0-2h0m0 74h0m0-75h0m0-14h0m0 9h0m1-3h0m0 15h0m1-16h0m0 1h0m0 81h0m0-75h0m0 4h0m0-42h0m0 113h0m1-73h0m0 4h0m0 0h0m1-39h0m1 44h0m0-31h0m0 1h0m0 96h0m0-89h0m0-26h0m1 18h0m0 1h0m0 2h0m1 94h0m0-70h0m0-16h0m0 90h0m0-85h0m1 2h0m0-9h0m0 13h0m0 8h0m0 0h0m1-1h0m0 68h0m0-87h0m1 7h0m0 11h0m0 0h0m1-25h0m1-55h0m0 44h0m0 39h0m0-43h0m0-38h0m1 71h0m0-73h0m0 76h0m0-21h0m0 107h0m1-85h0m0-100h0m0 87h0m0-6h0m0-3h0m1 12h0m0-21h0m0 30h0m0 6h0m0-26h0m0 19h0m1-74h0m0 147h0m0 6h0m0-84h0m2 12h0m0-30h0m0 141h0m0-118h0m1 1h0m0-13h0m0 13h0m0 5h0m0 1h0m0 67h0m0-68h0m1-10h0m0 77h0m0-101h0m1 11h0m0 23h0m0-62h0m2 22h0m0 32h0m0-29h0m0 8h0m0 26h0m0 71h0m1-73h0m0-17h0m0 24h0m0-28h0m1-85h0m0 68h0m1 45h0m0-29h0m0 24h0m0-12h0m0 6h0m1-54h0m0 139h0m0-80h0m0-11h0m0-55h0m0 67h0m1 1h0m0-16h0m0 5h0m0 13h0m0-2h0m0-13h0m1 14h0m0 70h0m1-78h0m0 77h0m0-72h0m0-28h0m1 28h0m0 2h0m0-18h0m0 5h0m0-8h0m1 22h0m0-28h0m0 27h0m0-44h0m1 21h0m0 94h0m1-75h0m0 8h0m0-7h0m0 77h0m0-83h0m0-15h0m0-48h0m1 74h0m0-3h0m0-14h0m1 87h0m0-73h0m0-19h0m0 87h0m0-66h0m0-7h0m1 3h0m0-19h0m0-12h0m0-52h0m0 156h0m0-69h0m0 67h0m1-86h0m0 88h0m1-88h0m0-1h0m0-9h0m0 96h0m0-106h0m1 19h0m0 15h0m2-11h0m0-29h0m0 33h0m0-11h0m0 92h0m0-68h0m0-5h0m1 4h0m0-14h0m0 11h0m0-56h0m1 52h0m0 0h0m0 74h0m0-72h0m0-68h0m0 76h0m1-5h0m0-5h0m1-85h0m0 159h0m1-76h0m0-27h0m0 13h0m0 91h0m0-76h0m0-2h0m1 11h0m0-26h0m0 6h0m1-10h0m0 99h0m1-115h0m0 47h0m0-2h0m1 0h0m0-17h0m0 86h0m2-89h0m0-11h0m0 30h0m0-52h0m0 48h0m0 4h0m1-35h0m0-2h0m0 22h0m0 12h0m1-84h0m0 64h0m0 16h0m0-49h0m0 42h0m0 5h0m1 5h0m0-1h0m1-19h0m0 7h0m0 18h0m0-4h0m0-20h0m0 23h0m1-1h0m1 5h0m0 67h0m0-73h0m1 71h0m0-99h0m0-26h0m0 52h0m1 4h0m0 67h0m0-63h0m0-29h0m0 9h0m1 87h0m0-1h0m0-112h0m1 34h0m0-21h0m0 27h0m0 5h0m0-14h0m1 11h0m0-1h0m1 5h0m1 73h0m1-108h0m0 27h0m1-28h0m0 11h0m1 91h0m0-2h0m1-72h0m0-13h0m1 86h0m0-72h0m0 71h0m0-72h0m0-21h0m0 0h0m0-21h0m1 30h0m0 0h0m1 18h0m0-33h0m0 35h0m0-11h0m0 6h0m1 1h0m0-51h0m1 44h0m0 8h0m0-1h0m1-7h0m0 77h0m0 3h0m0-3h0m1-95h0m0 27h0m0-1h0m0-30h0m0 29h0m0-28h0m0 97h0m0-1h0m1-99h0m0 31h0m0 1h0m0 2h0m0-4h0m1 4h0m0-2h0m0-39h0m0 38h0m1-1h0m0 3h0m0 1h0m0-15h0m0 80h0m0-74h0m1-1h0m0-28h0m1 38h0m0-42h0m0 20h0m0-6h0m1 26h0m0-5h0m0-9h0m0-3h0m0 20h0m0 66h0m1-86h0m0 10h0m0-1h0m0 77h0m1-144h0m0 40h0m0 17h0m1 16h0m0 3h0m0-4h0m0-35h0m1 34h0m0 6h0m0-4h0m1-4h0m0-4h0m0 8h0m0 69h0m0-70h0m1 4h0m1 1h0m0-21h0m1 8h0m0 8h0m0-14h0m0-14h0m0-4h0m0-48h0m0 62h0m0 7h0m0 12h0m0-52h0m1 10h0m0 28h0m0 19h0m0-16h0m1 80h0m0 1h0m0-93h0m0-19h0m0 37h0m1-2h0m0 8h0m0-44h0m1-54h0m0 84h0m0 97h0m0-105h0m0 25h0m0-15h0m0 2h0m0 10h0m0-30h0m1 28h0m0-3h0m0-16h0m1 96h0m0-150h0m0 60h0m0 99h0m0-90h0m0 4h0m0-41h0m0 36h0m0 8h0m0-115h0m1 115h0m0-18h0m0 136h0m0-120h0m0-32h0m0 15h0m1-3h0m0 90h0m1-89h0m0 20h0m1 69h0m0-75h0m0 9h0m0-9h0m0-35h0m0 40h0m1-63h0m0 134h0m0-69h0m0-19h0m0 21h0m0-49h0m1 19h0m0 25h0m0 6h0m0-18h0m0 18h0m1 65h0m0 8h0m0-85h0m1-9h0m0-8h0m0 24h0m1 5h0m0-36h0m0 103h0m0-94h0m0 20h0m0-46h0m1 53h0m0 0h0m0-11h0m1 1h0m0 6h0m0-6h0m0 2h0m0-31h0m1 33h0m0-15h0m0-7h0m0 22h0m0-15h0m1-19h0m0 38h0m0 2h0m1-23h0m0 16h0m1-19h0m1-46h0m0 19h0m0 34h0m0 10h0m1-2h0m0 8h0m0-20h0m1 18h0m0 71h0m0-88h0m0-16h0m1 105h0m0-69h0m1-13h0m0-20h0m1 24h0m0 0h0m0 81h0m0 1h0m1-83h0m1 8h0m0-12h0m1 8h0m0-45h0m0 28h0m0 22h0m1-14h0m0 10h0m0-9h0m0-29h0m1 11h0m0 6h0m1 20h0m1-10h0m0 11h0m0-5h0m0-17h0m0 16h0m1 1h0m0-24h0m1 101h0m0-84h0m0 17h0m1 0h0m0-2h0m0 2h0m0-3h0m1 3h0m1-34h0m0 103h0m0-91h0m0 88h0m1-84h0m1 10h0m0-3h0m0 85h0m0-91h0m0-11h0m0 13h0m0 86h0m1-70h0m0-14h0m0 81h0m1-67h0m1-17h0m0 0h0m0 15h0m1 1h0m1 68h0m0-80h0m0 14h0m0 63h0m0-67h0m1 68h0m1-77h0m0-3h0m1-25h0m0 17h0m0-3h0m0 19h0m0 3h0m0-5h0m0-5h0m0 2h0m1-40h0m1 18h0m0 100h0m0-76h0m0-3h0m0 2h0m1 6h0m0-1h0m1-22h0m0 93h0m0-77h0m0 77h0m0-75h0m1-21h0m0-48h0m0 46h0m0 20h0m1-52h0m0 64h0m0-50h0m0 47h0m1 69h0m0-68h0m0-26h0m1 25h0m1 5h0m0-22h0m0-30h0m0 49h0m1 67h0m0-81h0m0 5h0m0 5h0m0 2h0m0-38h0m1 40h0m0 2h0m1-19h0m0 3h0m0-39h0m0 43h0m0 77h0m0 4h0m1-68h0m0-36h0m0-38h0m1-104h0m0 176h0m0 68h0m0-101h0m1 24h0m1 7h0m0-41h0m0 111h0m0-83h0m1 12h0m1 69h0m0-71h0m0-8h0m0-28h0m0 41h0m1-3h0m0 69h0m0-68h0m0-7h0m1-111h0m0 107h0m0-8h0m0 89h0m0-173h0m0 98h0m0-1h0m0 8h0m1 1h0m0-40h0m0 39h0m0-15h0m1-2h0m0 10h0m0 0h0m0 2h0m0-17h0m0 12h0m0 12h0m0-1h0m1 74h0m1-82h0m0-72h0m0 53h0m1 93h0m1 2h0m2-82h0m0 12h0m0-1h0m0-14h0m0 4h0m0 7h0m1 5h0m0-2h0m0 0h0m0-42h0m0 31h0m1 0h0m0-8h0m0-41h0m0 46h0m0 2h0m0 13h0m1 70h0m0-68h0m1-3h0m0-4h0m0 72h0m0-69h0m1-23h0m0 25h0m0-17h0m0 5h0m1-29h0m0 10h0m0 33h0m1-52h0m0 49h0m0-4h0m0 4h0m1-17h0m0 86h0m0-99h0m0-25h0m1 46h0m0-3h0m0-1h0m1 15h0m0-30h0m0 23h0m0-37h0m0 45h0m1-27h0m1 26h0m0-22h0m0 19h0m0-5h0m1 5h0m1-23h0m0 26h0m0 1h0m0-22h0m1 14h0m0-2h0m0-14h0m1 92h0m0-88h0m0-82h0m1 94h0m0-20h0m0 27h0m0-14h0m0 80h0m0-84h0m0-38h0m2 16h0m0 38h0m0 69h0m0-115h0m0 49h0m0-32h0m0 29h0m1 3h0m0-16h0m0 11h0m0-4h0m0 5h0m0 0h0m0 71h0m1-91h0m0 91h0m0-71h0m0 72h0m1-118h0m0 23h0m1 95h0m0-67h0m0-63h0m0 57h0m0 2h0m0-50h0m0-21h0m0 70h0m1-5h0m0 3h0m0-10h0m0 7h0m1-2h0m0-7h0m0-27h0m0 24h0m0 19h0m0 69h0m0 1h0m1-82h0m0 9h0m1-3h0m2-18h0m0 18h0m0-2h0m1 7h0m0-20h0m0 18h0m1-8h0m0-36h0m0 114h0m1-68h0m0 73h0m0-74h0m1-12h0m0 15h0m0-41h0m0 32h0m1-6h0m0 12h0m0 73h0m0-69h0m1-38h0m0 25h0m1 10h0m1 3h0m0 69h0m0-98h0m0-42h0m0 69h0m0-16h0m1-19h0m0 35h0m0-6h0m0 3h0m1-39h0m0 10h0m0 9h0m1 92h0m0-67h0m0-55h0m0 43h0m0 77h0m1-68h0m0-14h0m0 18h0m1-2h0m0 0h0m0-39h0m1 33h0m0-9h0m0-3h0m0 87h0m0-109h0m0 38h0m1 69h0m0-68h0m1-42h0m0-123h0m0 45h0m0 82h0m0 25h0m0-2h0m1 6h0m0 81h0m0-2h0m0-3h0m0-71h0m0 106h0m1-124h0m0-60h0m0 84h0m1-58h0m0 58h0m0-5h0m0-8h0m0 10h0m1-4h0m1-74h0m1 71h0m0-2h0m1 79h0m0-3h0m0-114h0m0 22h0m1 27h0m0-11h0m0-3h0m1-35h0m0 40h0m1-7h0m0-6h0m0 104h0m0-94h0m0 12h0m0-12h0m1 98h0m0-87h0m0-22h0m0 23h0m0-44h0m0 41h0m1-24h0m0 14h0m0 88h0m0-104h0m0 97h0m1-72h0m0 70h0m0-107h0m0 41h0m0-21h0m0 11h0m1 9h0m0-127h0m0 119h0m0-2h0m1 10h0m0-63h0m1 56h0m0-10h0m1-3h0m0 89h0m0-103h0m1-9h0m0 32h0m0-15h0m0 99h0m0-93h0m0 8h0m1 2h0m0-6h0m1-9h0m1-58h0m0 50h0m0 21h0m0 82h0m0-80h0m1-72h0m0-29h0m0 54h0m1 40h0m0 87h0m0-106h0m0 10h0m0 19h0m1-7h0m0 7h0m0-9h0m0 18h0m0-58h0m1 124h0m0 0h0m0-83h0m0 1h0m1 11h0m0-15h0m0 7h0m1 7h0m0-9h0m0 1h0m1-172h0m1 254h0m0-137h0m1 67h0m0-64h0m0 29h0m1 23h0m0 14h0m0-25h0m0 23h0m0-16h0m0 12h0m1 2h0m0-1h0m0-67h0m0 137h0m1-71h0m1 3h0m0-30h0m0 107h0m0-73h0m0-5h0m1 3h0m0-7h0m1-24h0m0 1h0m1 20h0m0-47h0m0 14h0m0 40h0m0-55h0m1 13h0m1 14h0m0 7h0m0-8h0m0 12h0m0 11h0m0 75h0m1 0h0m0-89h0m1-1h0m0 24h0m1 0h0m0-17h0m0 5h0m1-13h0m0-7h0m0-13h0m0 45h0m0-8h0m0 5h0m0-27h0m1 27h0m0-11h0m0 8h0m1-10h0m0 89h0m0-78h0m0 72h0m0-114h0m1 31h0m0 15h0m0-5h0m0 1h0m0-10h0m0-54h0m0 51h0m0-19h0m1 37h0m0-8h0m0 4h0m0-51h0m1 23h0m0 23h0m1-66h0m0 70h0m0-2h0m1 75h0m1 0h0m0-2h0m0-77h0m0 2h0m0 9h0m1-31h0m0 16h0m0-28h0m0 113h0m0 5h0m0-78h0m0 4h0m1-2h0m0-67h0m0 68h0m0-24h0m1-23h0m1 25h0m0 3h0m0-6h0m1 9h0m0 16h0m0-26h0m0 22h0m0-30h0m0 27h0m1-60h0m0 16h0m0 117h0m0 6h0m0-72h0m1-19h0m0 21h0m0-38h0m0 102h0m0-83h0m1 8h0m0-10h0m0-11h0m0 27h0m1-2h0m0 75h0m0-73h0m0-10h0m0 7h0m1 75h0m1-77h0m0-11h0m0 85h0m0-69h0m0 1h0m1-31h0m0 30h0m0-16h0m0 18h0m0 69h0m0 1h0m1-69h0m0-18h0m0 87h0m0-79h0m0 8h0m1-26h0m0 9h0m0 13h0m0-55h0m0 48h0m1-18h0m0 17h0m0 9h0m0 1h0m1-8h0m0 0h0m0 9h0m0 0h0m0 2h0m1 0h0m0 67h0m0-74h0m0-33h0m0 32h0m1-52h0m0 35h0m0-37h0m0 134h0m0-75h0m0-6h0m1 78h0m0-69h0m0-38h0m0 37h0m1-18h0m0-27h0m0 7h0m0 41h0m1-20h0m1 18h0m0-24h0m1 25h0m0-4h0m0-12h0m0 9h0m1-13h0m0 13h0m1 72h0m0-72h0m1 73h0m0 0h0m0-69h0m1-1h0m0 4h0m0-22h0m0-12h0m0 105h0m1-73h0m0-36h0m0-14h0m1 120h0m0-68h0m0 69h0m0-67h0m0-4h0m1-41h0m0 44h0m0-10h0m0-26h0m1 105h0m1-4h0m0-72h0m0 75h0m0-68h0m1-44h0m0 43h0m0-37h0m1 20h0m0 1h0m0-63h0m0 78h0m1-40h0m0 28h0m0-65h0m1 147h0m0-138h0m0 160h0m0-110h0m1 85h0m0-119h0m0-42h0m0 63h0m1 32h0m0-23h0m0 17h0m0 8h0m0-106h0m0 67h0m0 104h0m0-98h0m0 30h0m1-3h0m0 73h0m1-103h0m1 32h0m0-22h0m1-33h0m0 51h0m1-1h0m0 7h0m0-1h0m0 3h0m0-47h0m1 33h0m0-4h0m0 83h0m0 8h0m0-101h0m1-3h0m0 23h0m0-16h0m0-64h0m0-22h0m0 107h0m2-3h0m0 2h0m1-47h0m0 41h0m0 9h0m0-6h0m0 3h0m0 0h0m0 0h0m1-7h0m0 7h0m0-3h0m0-2h0m1-10h0m0 18h0m0-42h0m0 108h0m1-88h0m0 22h0m0 74h0m0-6h0m1-95h0m0 21h0m1-9h0m0-3h0m0 85h0m0-71h0m0-14h0m0 15h0m1 69h0m0-66h0m0-7h0m1-26h0m0-13h0m1 36h0m1 6h0m0-15h0m0 7h0m0-4h0m0-1h0m1-45h0m0 19h0m1 24h0m0-4h0m0 21h0m0-5h0m1 72h0m0-77h0m1 1h0m0-20h0m0 16h0m0-18h0m1 30h0m0-3h0m1-14h0m0-14h0m0 30h0m0-40h0m1 44h0m0-22h0m0-16h0m0 34h0m0-18h0m1 14h0m0-6h0m1 88h0m0-82h0m0-20h0m0-7h0m1 34h0m0-12h0m1 79h0m0-68h0m0-22h0m0 25h0m0-11h0m1-9h0m0-46h0m0 53h0m0-17h0m1 30h0m0-17h0m0 89h0m0-72h0m1-100h0m0 98h0m0-11h0m0-13h0m0-52h0m0 72h0m1-12h0m0 11h0m0-28h0m0 25h0m0 77h0m1-73h0m0-10h0m0-24h0m0-4h0m0 41h0m1-4h0m0-10h0m1 10h0m0-9h0m0 80h0m0-76h0m0 3h0m1-9h0m0 84h0m0-99h0m0 16h0m1 16h0m0 0h0m1-2h0m0 1h0m0 1h0m0-34h0m0 26h0m0 8h0m1 67h0m0-141h0m0 141h0m1-87h0m1-30h0m1 31h0m0-9h0m1 4h0m0 0h0m0 20h0m0 69h0m1-78h0m1-15h0m0 25h0m0 0h0m1 2h0m0-66h0m0 65h0m0-3h0m0 72h0m1-78h0m0 4h0m0-28h0m1 2h0m0 31h0m0-12h0m0 14h0m1-6h0m0-7h0m1 8h0m0 4h0m0 76h0m0-89h0m0-2h0m0 9h0m1-2h0m0 4h0m1-27h0m0 97h0m0-134h0m0 56h0m0 2h0m0 4h0m0 5h0m0-74h0m0 36h0m2-7h0m1 37h0m0 11h0m0-12h0m1-12h0m0-36h0m0 53h0m0 2h0m0-30h0m1 16h0m0 14h0m0 78h0m0-75h0m1-13h0m0 10h0m1-4h0m0-16h0m0 11h0m0 77h0m0-68h0m1 69h0m0-86h0m1 21h0m0 0h0m0-1h0m0 66h0m0-65h0m0-8h0m0-18h0m0 15h0m1 12h0m0 0h0m0-5h0m0-6h0m1 101h0m0-181h0m0 68h0m1 92h0m0 4h0m0-5h0m0-93h0m0 8h0m1 81h0m0-97h0m0 14h0m0-8h0m0 22h0m1 69h0m0-81h0m0-28h0m1 41h0m0 3h0m0-25h0m0 18h0m1 2h0m0-7h0m1-26h0m0 16h0m0 90h0m0-3h0m0-164h0m0 167h0m1-93h0m0 91h0m0-77h0m1 11h0m0 68h0m0-69h0m0 0h0m1-14h0m0 11h0m0-7h0m0 7h0m0-16h0m1 4h0m0-25h0m0-36h0m0 157h0m1-138h0m0 44h0m1-8h0m0 10h0m0-33h0m0 31h0m0 8h0m0-4h0m1 78h0m0-74h0m0-40h0m0 24h0m1 91h0m0-91h0m0-3h0m0 25h0m0-15h0m0 95h0m1-12h0m0-95h0m0 19h0m0-1h0m1 4h0m0 2h0m0-14h0m0 14h0m0 70h0m0-70h0m1-24h0m0 27h0m0-45h0m0 5h0m0 41h0m0-6h0m1 74h0m0-81h0m0-1h0m0 7h0m1-15h0m0 18h0m0 0h0m0-7h0m0 6h0m0 5h0m0-53h0m1 34h0m0 17h0m1-43h0m0 23h0m0-6h0m0 91h0m0-68h0m1 71h0m0-67h0m0 75h0m0-74h0m0-13h0m1-36h0m0 113h0m0-88h0m0 88h0m0-97h0m1 17h0m0 3h0m0-25h0m0 37h0m1 0h0m0-12h0m0-36h0m2 19h0m0 4h0m0 12h0m0-16h0m0-62h0m0 156h0m0-75h0m1-16h0m0 24h0m1-7h0m0-6h0m0 12h0m0-23h0m0 27h0m0-75h0m0 72h0m1-45h0m0-12h0m2 42h0m0 16h0m1-23h0m0 23h0m0-13h0m0 4h0m0-93h0m0 102h0m1-5h0m0 4h0m0-11h0m0 3h0m0-62h0m0 140h0m0-76h0m1 83h0m0-92h0m0-80h0m0 72h0m1 17h0m0-45h0m0 42h0m0 10h0m1-51h0m0 51h0m0-12h0m1 82h0m0-127h0m1 58h0m0 69h0m1-104h0m0 110h0m0-79h0m0 1h0m0-1h0m1-34h0m0 34h0m1-28h0m0 97h0m0-94h0m0-10h0m1 32h0m0 72h0m1-69h0m1-38h0m0 113h0m1-123h0m0 118h0m0-105h0m0-5h0m0 23h0m0-44h0m0-2h0m1 133h0m0-75h0m0 6h0"/>
<line x1="156.2" y1="1588.3" x2="156.2" y2="1853.7" stroke="#fff" stroke-width="1.8"/>
<line x1="201.4" y1="1588.3" x2="201.4" y2="1853.7" stroke="#fff" stroke-width="1.8"/>
<line x1="248.3" y1="1588.3" x2="248.3" y2="1853.7" stroke="#fff" stroke-width="1.8"/>
<line x1="277.1" y1="1588.3" x2="277.1" y2="1853.7" stroke="#fff" stroke-width="1.8"/>
<line x1="316.7" y1="1588.3" x2="316.7" y2="1853.7" stroke="#fff" stroke-width="1.8"/>
<line x1="351.4" y1="1588.3" x2="351.4" y2="1853.7" stroke="#fff" stroke-width="1.8"/>
<line x1="380.9" y1="1588.3" x2="380.9" y2="1853.7" stroke="#fff" stroke-width="1.8"/>
<line x1="408" y1="1588.3" x2="408" y2="1853.7" stroke="#fff" stroke-width="1.8"/>
<line x1="429.9" y1="1588.3" x2="429.9" y2="1853.7" stroke="#fff" stroke-width="1.8"/>
<line x1="457.6" y1="1588.3" x2="457.6" y2="1853.7" stroke="#fff" stroke-width="1.8"/>
<line x1="481.9" y1="1588.3" x2="481.9" y2="1853.7" stroke="#fff" stroke-width="1.8"/>
<line x1="519.8" y1="1588.3" x2="519.8" y2="1853.7" stroke="#fff" stroke-width="1.8"/>
<line x1="531.2" y1="1588.3" x2="531.2" y2="1853.7" stroke="#fff" stroke-width="1.8"/>
<line x1="553.8" y1="1588.3" x2="553.8" y2="1853.7" stroke="#fff" stroke-width="1.8"/>
<line x1="571.2" y1="1588.3" x2="571.2" y2="1853.7" stroke="#fff" stroke-width="1.8"/>
<line x1="587.8" y1="1588.3" x2="587.8" y2="1853.7" stroke="#fff" stroke-width="1.8"/>
<line x1="609.4" y1="1588.3" x2="609.4" y2="1853.7" stroke="#fff" stroke-width="1.8"/>
<line x1="621.5" y1="1588.3" x2="621.5" y2="1853.7" stroke="#fff" stroke-width="1.8"/>
<line x1="630.2" y1="1588.3" x2="630.2" y2="1853.7" stroke="#fff" stroke-width="1.8"/>
<line x1="639.9" y1="1588.3" x2="639.9" y2="1853.7" stroke="#fff" stroke-width="1.8"/>
<line x1="646.5" y1="1588.3" x2="646.5" y2="1853.7" stroke="#fff" stroke-width="1.8"/>
<line x1="653.5" y1="1588.3" x2="653.5" y2="1853.7" stroke="#fff" stroke-width="1.8"/>
<rect x="88.5" y="1587.3" width="589.6" height="267.4" fill="none" stroke="#8C8C8C" stroke-width="1.3"/>
<text x="121.5" y="1875.5" text-anchor="middle">1</text>
<text x="299.3" y="1875.5" text-anchor="middle">5</text>
<text x="445.1" y="1875.5" text-anchor="middle">10</text>
<text x="562.5" y="1875.5" text-anchor="middle">15</text>
<text x="639.6" y="1875.5" text-anchor="middle">20</text>
<text x="666.7" y="1875.5" text-anchor="middle">X</text>
<text x="383.3" y="1897" text-anchor="middle">Chromosome</text>
<text x="108.5" y="1622.3">n = 31,270</text>
<text x="656.1" y="1622.3" font-size="20.2" text-anchor="end">Rep. 1</text>
<text x="21.5" y="1721" font-size="25.2" text-anchor="middle" font-weight="bold" transform="rotate(-90 21.5 1721)">RNA</text>
<text x="45.2" y="1721" font-size="25.2" text-anchor="middle" font-weight="bold" transform="rotate(-90 45.2 1721)">C-to-U editing (%)</text>
<line x1="799.7" y1="1843.2" x2="1389.2" y2="1843.2" stroke="#E6E6E6" stroke-width="1.3"/>
<text x="790.7" y="1850.4" text-anchor="end">0</text>
<line x1="799.7" y1="1782.2" x2="1389.2" y2="1782.2" stroke="#E6E6E6" stroke-width="1.3"/>
<text x="790.7" y="1789.5" text-anchor="end">20</text>
<line x1="799.7" y1="1721.3" x2="1389.2" y2="1721.3" stroke="#E6E6E6" stroke-width="1.3"/>
<text x="790.7" y="1728.5" text-anchor="end">40</text>
<line x1="799.7" y1="1660.4" x2="1389.2" y2="1660.4" stroke="#E6E6E6" stroke-width="1.3"/>
<text x="790.7" y="1667.6" text-anchor="end">60</text>
<line x1="799.7" y1="1599.4" x2="1389.2" y2="1599.4" stroke="#E6E6E6" stroke-width="1.3"/>
<text x="790.7" y="1606.6" text-anchor="end">80</text>
<rect x="800.2" y="1782.6" width="588.5" height="33.5" fill="#EB4F8F"/>
<path transform="scale(0.5)" fill="none" stroke="#EB4F8F" stroke-width="5.8" stroke-linecap="round" d="M1601 3564h0m1-31h0m0 100h0m0-72h0m0 71h0m0-81h0m0-46h0m1 18h0m0 22h0m0 21h0m0-36h0m0 110h0m1-77h0m0 2h0m0-13h0m0 5h0m0-25h0m0-23h0m0 36h0m1 5h0m1-12h0m0 20h0m0-34h0m0 113h0m0-78h0m0-35h0m1 109h0m0-1h0m0-70h0m0-30h0m1-1h0m0 26h0m1 0h0m0 0h0m1-23h0m0 1h0m0 103h0m1-104h0m0 32h0m0-8h0m0 73h0m0-70h0m1-34h0m0 29h0m0-4h0m0-4h0m0-4h0m1-7h0m0 97h0m0-249h0m0 165h0m1 8h0m0-4h0m0 6h0m0-29h0m1 5h0m0 8h0m1 14h0m0-37h0m0 117h0m0-80h0m1-15h0m0 91h0m0-118h0m0 38h0m1-16h0m0 15h0m0 11h0m1 70h0m0-1h0m1-1h0m0-107h0m0 14h0m0 100h0m1-8h0m0-116h0m0 118h0m0-84h0m0 15h0m0 69h0m0-122h0m0 127h0m0-82h0m1-11h0m1 87h0m0-76h0m0-1h0m0 9h0m1 2h0m0-33h0m0 19h0m0 12h0m0-7h0m0 8h0m0 74h0m0-75h0m0-15h0m1 4h0m0 86h0m0-74h0m0 1h0m0-28h0m0 18h0m1 78h0m0-96h0m0-30h0m0 55h0m0-16h0m0 15h0m1 69h0m0 9h0m0-90h0m0 5h0m1-13h0m0 8h0m0 3h0m0 2h0m1 4h0m1 0h0m0 5h0m0-80h0m1 147h0m0-79h0m0-17h0m0-3h0m0 35h0m1-53h0m0 52h0m1-13h0m1-45h0m1 54h0m0-54h0m0 122h0m0 4h0m1-294h0m1 210h0m0-9h0m0 17h0m1 75h0m0-79h0m0-3h0m0-7h0m0 9h0m0 10h0m0-28h0m1 98h0m0-83h0m2 82h0m0 0h0m1 2h0m0-113h0m0 41h0m0 72h0m0-71h0m0-3h0m0 71h0m1 2h0m0 1h0m1-2h0m0-74h0m0-7h0m0 10h0m0-7h0m1 85h0m0-79h0m0-1h0m0-15h0m0-21h0m0 19h0m0 92h0m1-85h0m0 1h0m0 81h0m0 3h0m0-72h0m0 4h0m1-179h0m0 176h0m0-32h0m0 25h0m0 77h0m0-71h0m1 69h0m0-78h0m0 83h0m1-95h0m0-5h0m0 98h0m1-101h0m1 9h0m0-14h0m0 105h0m0-160h0m0 160h0m1 7h0m0-74h0m0 69h0m0-73h0m1-60h0m0 46h0m0 85h0m0-68h0m0-2h0m0 2h0m1-17h0m0-23h0m0 13h0m0 17h0m0-27h0m0-74h0m1 100h0m0 77h0m0 5h0m1-78h0m0-21h0m0 14h0m0 81h0m0-75h0m0 4h0m1-1h0m0-20h0m0 90h0m0-76h0m0 9h0m1-27h0m0 95h0m1-118h0m0 37h0m0 15h0m1-9h0m0 75h0m0-92h0m0 19h0m1-26h0m1 18h0m0 16h0m0-7h0m0-8h0m0-28h0m1 44h0m0-9h0m0 6h0m1 75h0m1-96h0m0 91h0m0-82h0m0 12h0m0-124h0m0 126h0m1 1h0m0 67h0m0 5h0m0-79h0m0-34h0m1 106h0m0-95h0m1-13h0m0-3h0m0 21h0m1-28h0m0 120h0m0-81h0m0 13h0m0-3h0m1-22h0m0 93h0m0-77h0m1 1h0m0 73h0m0-78h0m0 11h0m0 70h0m1-81h0m0 10h0m1 70h0m0-82h0m0 81h0m1-76h0m0-13h0m0 24h0m1-31h0m0 12h0m0 91h0m2-73h0m0-14h0m0 6h0m0-39h0m0 112h0m0-76h0m1-7h0m0 10h0m0-64h0m0 55h0m0 4h0m0 80h0m0-71h0m0 4h0m0-13h0m1-11h0m0-5h0m0 7h0m0 89h0m1-66h0m0-14h0m0 81h0m0 3h0m0-179h0m0 78h0m1 25h0m0 71h0m0-99h0m0 5h0m1 10h0m1 18h0m0 68h0m0-83h0m0 7h0m1-2h0m0 6h0m0-16h0m0 14h0m0-6h0m2 84h0m0-4h0m0 6h0m0-116h0m1-15h0m0-16h0m1 58h0m0 9h0m0 4h0m0-51h0m0 25h0m1 19h0m0-3h0m0 77h0m0 16h0m1-93h0m0 7h0m0 2h0m0 70h0m1-125h0m0 42h0m0 84h0m0-93h0m1-128h0m0 145h0m0 0h0m1-7h0m1 83h0m1-80h0m0-15h0m0 20h0m0 0h0m0-75h0m1 70h0m0-78h0m0 83h0m0-6h0m0 13h0m0-5h0m1-69h0m0 138h0m0-87h0m0 5h0m1 4h0m0-4h0m0 10h0m1 77h0m0-188h0m0 77h0m0-29h0m1 139h0m0-4h0m0-66h0m1-3h0m0-23h0m0 98h0m0-73h0m0-15h0m1-54h0m0 14h0m0 129h0m0-82h0m1-2h0m0-3h0m0 89h0m1 2h0m0-88h0m0 81h0m0-77h0m1 1h0m0 73h0m0-145h0m0 76h0m0 70h0m0-79h0m1 5h0m0-3h0m0 77h0m0-101h0m1 34h0m0-4h0m1-7h0m0-13h0m0 23h0m0-14h0m0 5h0m0-85h0m1 4h0m0 158h0m0 40h0m0-38h0m1-78h0m0-6h0m0 12h0m0-4h0m1-28h0m0 102h0m1-72h0m0-3h0m1-8h0m0 14h0m0-11h0m1 78h0m0-94h0m0 26h0m1-11h0m1 8h0m0-21h0m1-7h0m0 34h0m0 0h0m0-21h0m1 5h0m1 16h0m0-2h0m1 1h0m0-11h0m0 14h0m0-32h0m0 23h0m1 7h0m0-26h0m0 95h0m1-141h0m0 73h0m1-23h0m0-11h0m1 1h0m0 99h0m0-1h0m0-131h0m1 64h0m0-53h0m0 6h0m1 118h0m0-82h0m0 5h0m0 73h0m1-64h0m0-6h0m0-20h0m1 90h0m0 1h0m0-94h0m0 96h0m0-70h0m1-5h0m0-5h0m0 11h0m0-85h0m0 154h0m1-107h0m0 27h0m0 80h0m1-152h0m0 84h0m0 72h0m1-74h0m0 67h0m0-84h0m0 9h0m0-11h0m0 12h0m1 8h0m1-19h0m0 18h0m0 3h0m0-10h0m0-4h0m0 13h0m1-3h0m0-43h0m0 122h0m1-85h0m0 2h0m0 73h0m1-109h0m0 117h0m0-91h0m0-33h0m1 20h0m0 5h0m0 11h0m1-37h0m0 122h0m1-71h0m0-25h0m0 17h0m0-37h0m1 28h0m0-64h0m0 146h0m0-65h0m0-34h0m1 6h0m0 18h0m0 4h0m0-1h0m0-82h0m1 62h0m0 92h0m1-106h0m0 37h0m0 69h0m0-65h0m0-10h0m0 2h0m0-31h0m0 28h0m0 77h0m1-89h0m0 91h0m0-148h0m0 72h0m1 77h0m0-74h0m0-45h0m0 43h0m1-2h0m0 9h0m1-1h0m0 67h0m0-142h0m0 45h0m1 31h0m1-10h0m0-10h0m1 18h0m0 67h0m0-81h0m1 84h0m0-107h0m1-8h0m0 21h0m0 93h0m1-76h0m0 3h0m0-4h0m1 8h0m0 2h0m0-39h0m0 9h0m1-63h0m0 161h0m0 3h0m1-104h0m0-21h0m0 27h0m0 15h0m1 7h0m1 5h0m0-10h0m0-8h0m1-6h0m0 7h0m0 8h0m0-20h0m1 16h0m0 1h0m0-16h0m0 9h0m1 7h0m0-32h0m0 40h0m0-25h0m0 94h0m0-91h0m1 94h0m0 0h0m0-80h0m0-11h0m0 2h0m0 15h0m1-4h0m0 3h0m0 75h0m1-76h0m0 74h0m0-67h0m0-89h0m0 91h0m0 71h0m0-7h0m1-85h0m0-28h0m1 46h0m0-22h0m0 4h0m1-4h0m0 20h0m0-5h0m0 84h0m0-123h0m1 40h0m0 0h0m0-4h0m0 88h0m0-83h0m0 75h0m0-70h0m1-50h0m0 122h0m0-123h0m0 126h0m0-7h0m0 4h0m0-98h0m1 3h0m0 17h0m0-7h0m0-40h0m0 52h0m1-14h0m0-30h0m1 11h0m0 34h0m0-6h0m1 2h0m0 73h0m0-112h0m0 39h0m1 74h0m0-72h0m0 2h0m1 71h0m0-70h0m0 68h0m0-86h0m1-13h0m0 29h0m0-8h0m0 5h0m0 72h0m1-73h0m0 75h0m0 10h0m0-78h0m1-39h0m0 16h0m0-29h0m0 50h0m0 67h0m0-79h0m1 11h0m0 3h0m1-13h0m0-19h0m0 7h0m1 91h0m1-79h0m0 13h0m0-22h0m0 21h0m0 69h0m1-70h0m1-21h0m0-14h0m1 36h0m0-1h0m0-54h0m1 34h0m0-71h0m0 160h0m0-71h0m1 3h0m1 68h0m0-124h0m1 36h0m0 95h0m0-76h0m1 68h0m0-200h0m0 202h0m0-72h0m1 3h0m0-30h0m0 17h0m0 9h0m0-6h0m1 76h0m0-76h0m0 76h0m0 1h0m1-104h0m0 129h0m1-125h0m1 34h0m0-28h0m0-10h0m0 29h0m0 75h0m1-72h0m0-102h0m0 74h0m0 4h0m0 24h0m1 2h0m0 4h0m0-9h0m1-41h0m1 29h0m1 89h0m0 0h0m0-146h0m0 20h0m2 131h0m0 0h0m0-176h0m1 83h0m0 19h0m1 1h0m0 64h0m0-74h0m0 0h0m0 75h0m1-78h0m1 1h0m0-12h0m0 90h0m0-75h0m0 8h0m0-47h0m1 28h0m0-19h0m1 27h0m0-19h0m0 32h0m0-9h0m0 5h0m1-1h0m1 69h0m0-71h0m0 7h0m0 73h0m0-7h0m1-76h0m0-51h0m0 124h0m0 1h0m1-80h0m0 14h0m0-6h0m0-3h0m0 11h0m1-16h0m0 5h0m0-8h0m0 10h0m1-21h0m0 26h0m0-85h0m1 86h0m0-4h0m0-35h0m1 15h0m0 93h0m1-89h0m0 16h0m0-4h0m0 5h0m1-4h0m0-9h0m0-11h0m0 29h0m1-55h0m0 25h0m0 5h0m1 8h0m0-1h0m0-7h0m0 24h0m1-21h0m0 10h0m0-11h0m1 21h0m0-10h0m0 1h0m1 11h0m0-3h0m0-62h0m0 62h0m0-13h0m1-10h0m0 94h0m1-68h0m0-11h0m0 79h0m2-178h0m0 62h0m1 114h0m0-90h0m0 4h0m0-62h0m1 47h0m0 22h0m0 13h0m0 65h0m1-82h0m0-18h0m0 1h0m1 30h0m0 1h0m0 71h0m0-77h0m1 81h0m0-73h0m1-26h0m0 91h0m1 1h0m0 1h0m0 8h0m0-134h0m1 41h0m0 17h0m0-11h0m0 85h0m0-113h0m1-6h0m0 44h0m0 76h0m0-4h0m1-73h0m0-2h0m0 74h0m0-130h0m1 28h0m0 30h0m0-1h0m0-28h0m1 101h0m0-68h0m0-2h0m0-9h0m0-8h0m0-8h0m0 22h0m0 73h0m1-81h0m0 81h0m0-74h0m1-35h0m0 109h0m0-69h0m0-6h0m1 3h0m0-45h0m1 48h0m0-3h0m1 71h0m0-3h0m0-80h0m0 84h0m0-1h0m0-103h0m1 104h0m0 1h0m1-3h0m0-75h0m0 8h0m0-16h0m0 14h0m1 0h0m0-22h0m0-45h0m1 61h0m0-3h0m0-16h0m0 23h0m1 73h0m0-78h0m0-37h0m0 44h0m1 1h0m0-5h0m0-3h0m1 91h0m0-90h0m0 10h0m0-9h0m0-2h0m2 7h0m0-6h0m0-95h0m0 74h0m1 104h0m1-102h0m0 11h0m1 8h0m1 73h0m0 3h0m0-70h0m0-5h0m0 7h0m0-20h0m0 17h0m1-13h0m0 12h0m0 70h0m0-89h0m0 23h0m1 66h0m1 1h0m0 2h0m0 0h0m1-77h0m0-16h0m0 14h0m0 10h0m1-11h0m0 7h0m0-7h0m0-26h0m1 106h0m0-70h0m0-3h0m0-6h0m0-13h0m1 91h0m0-113h0m0 45h0m0 65h0m1-86h0m0 16h0m0-2h0m0-21h0m1-23h0m0 48h0m1 3h0m0 69h0m0-76h0m0-3h0m1-62h0m1 68h0m0-102h0m0 180h0m0-80h0m1 74h0m0-74h0m0-17h0m1-35h0m1 45h0m0-1h0m0-33h0m1 46h0m0-15h0m0-7h0m1 20h0m0 5h0m0 64h0m0 0h0m0-66h0m0-1h0m1-63h0m0 40h0m0 3h0m0 89h0m1-68h0m0-27h0m0 21h0m0 75h0m1-3h0m0 2h0m0-69h0m0-22h0m0 91h0m1-1h0m0-71h0m0-73h0m0 17h0m1 46h0m0-2h0m0-15h0m0 20h0m1 76h0m0-89h0m0 90h0m1-69h0m0-6h0m0-7h0m0-1h0m0 92h0m1-85h0m0-9h0m0 8h0m0 79h0m1-1h0m1 2h0m0-103h0m0 21h0m0-11h0m2 15h0m0-23h0m0 3h0m0 26h0m0-6h0m1 9h0m1 74h0m0 0h0m0-8h0m0-83h0m0 85h0m1-71h0m0 71h0m0-96h0m0 8h0m1 18h0m0-25h0m0 96h0m1-72h0m0 70h0m0-153h0m1 84h0m0-5h0m0 2h0m0 1h0m1-17h0m1 15h0m0 75h0m0-110h0m1-120h0m0 156h0m0-32h0m1-20h0m0 34h0m1-10h0m0 25h0m0-11h0m0 13h0m0-9h0m0 16h0m0 0h0m0-41h0m0 25h0m1 7h0m0-30h0m0 113h0m2-73h0m0 65h0m0-68h0m0-20h0m0 89h0m1-73h0m0-40h0m0 19h0m0 23h0m1 72h0m0 0h0m2-4h0m0-114h0m1 114h0m0-66h0m1-7h0m0 2h0m0 0h0m0 76h0m0-96h0m0 96h0m0-88h0m0 17h0m2 72h0m0-94h0m0 97h0m1-98h0m0-29h0m0 55h0m0 68h0m0-84h0m0 15h0m1-56h0m0 31h0m1 93h0m0-80h0m0 84h0m0-159h0m0 152h0m1-71h0m0 6h0m0-5h0m1-26h0m0 12h0m1 91h0m0-106h0m0 35h0m1-1h0m0-4h0m1 0h0m0-7h0m0-39h0m0 117h0m1-77h0m0 83h0m0-73h0m1-12h0m0 76h0m0 0h0m0-79h0m0 2h0m0-8h0m1-33h0m1 128h0m0-80h0m0-22h0m1 26h0m0 71h0m0-79h0m0-2h0m0-19h0m1 15h0m0 16h0m1-3h0m0 68h0m1-71h0m0-35h0m0 20h0m0 1h0m1 21h0m0-53h0m0 122h0m0-2h0m0-130h0m0 51h0m1-37h0m0-35h0m0 81h0m0 67h0m0-67h0m1-1h0m0-10h0m0 9h0m0-13h0m1 17h0m0 0h0m0-53h0m0 128h0m0-132h0m1 46h0m0 9h0m0-36h0m1 106h0m0-105h0m0 28h0m0 8h0m0-23h0m0-3h0m0 24h0m1-24h0m0 92h0m0-86h0m0-28h0m1 50h0m0-3h0m0 68h0m0 0h0m1-66h0m0-12h0m0 5h0m1-20h0m0 23h0m1-11h0m0 8h0m1-4h0m0 9h0m0 2h0m0 66h0m0-2h0m1-64h0m0-41h0m0 23h0m0 12h0m0 3h0m0 68h0m1 2h0m0-73h0m0-15h0m0 10h0m1 4h0m0-19h0m0 23h0m0 4h0m0 67h0m1-2h0m0-74h0m0-2h0m0-64h0m0 55h0m0 85h0m0 3h0m1-2h0m0-151h0m0 58h0m0-42h0m0 48h0m1 88h0m1-3h0m0-120h0m0 120h0m0-68h0m0-31h0m1 99h0m0-121h0m1 20h0m0 101h0m1-81h0m0 14h0m0 67h0m0-92h0m0 4h0m0 90h0m1-1h0m0-75h0m1 4h0m0 4h0m0-38h0m0 29h0m0 79h0m0-73h0m1-26h0m0 146h0m0-214h0m0 96h0m1 76h0m1-8h0m0 2h0m1-85h0m0 83h0m0-109h0m0 29h0m1-15h0m0 20h0m0 73h0m0-74h0m0 1h0m1 1h0m0 5h0m0-41h0m1-18h0m0 60h0m0-31h0m1 101h0m1-128h0m0 16h0m0 112h0m0-109h0m0-27h0m1 52h0m0-13h0m0 24h0m0 2h0m0 69h0m0-68h0m0 69h0m0-68h0m2-3h0m0-23h0m0 7h0m1-49h0m0 59h0m0 8h0m1 73h0m0-105h0m1 104h0m0-132h0m0 45h0m1 5h0m0-4h0m0 7h0m0-17h0m0-13h0m0 120h0m1-96h0m0-2h0m1 82h0m1 0h0m0 1h0m0-100h0m0 13h0m1 90h0m0-82h0m0 12h0m1-7h0m0-4h0m0-46h0m0 28h0m0 11h0m0 86h0m1-78h0m0 5h0m0-1h0m0 78h0m1-71h0m0-31h0m1 96h0m0-147h0m0 148h0m0-97h0m1 20h0m0 8h0m0-22h0m1-3h0m0 16h0m0-15h0m0-162h0m0 186h0m0-36h0m1 28h0m0 9h0m0 69h0m0-67h0m1-4h0m0 70h0m0-75h0m0-5h0m1 12h0m0-24h0m1 91h0m0-68h0m0-65h0m1 134h0m0-120h0m0 49h0m1 72h0m0-94h0m0 20h0m0-20h0m0 95h0m0-77h0m1-5h0m0 9h0m0 71h0m0-98h0m0 10h0m1 14h0m0-6h0m0 9h0m0 1h0m1-18h0m0 88h0m0-73h0m0-3h0m0-2h0m0-14h0m1 14h0m0 10h0m0-21h0m0 93h0m0-116h0m1 115h0m0-78h0m0 6h0m0 70h0m0 7h0m1-9h0m0-70h0m1-2h0m0-40h0m1 113h0m0-65h0m0-26h0m0-24h0m0 40h0m1-3h0m0-7h0m0 15h0m1 4h0m0-3h0m1-3h0m1-38h0m0 108h0m0-109h0m0 2h0m1 115h0m0-6h0m1-1h0m0 0h0m0 1h0m1 2h0m0-75h0m0 72h0m1-124h0m0 46h0m0-21h0m0 29h0m1 5h0m0-26h0m0 22h0m0-5h0m0 8h0m0-51h0m0 26h0m1-9h0m0 100h0m0-72h0m0-2h0m0-1h0m0-38h0m1 31h0m0 87h0m0-77h0m0-26h0m0-12h0m0 114h0m0-3h0m0-70h0m0 3h0m1-29h0m0 96h0m0-87h0m0 20h0m0-18h0m0 18h0m0 81h0m0-133h0m1 119h0m1-100h0m0 30h0m0 76h0m1-4h0m0-70h0m0 70h0m1-84h0m0 80h0m0-98h0m0 108h0m1-9h0m0-89h0m0 16h0m0 3h0m1 3h0m0-8h0m0-28h0m0 34h0m0-7h0m0 10h0m1 66h0m0-80h0m0 12h0m1-3h0m1 3h0m0-35h0m0 25h0m1 85h0m1-92h0m0-3h0m1 24h0m1-93h0m0 75h0m0-26h0m0 110h0m1-93h0m0 25h0m1 1h0m0-28h0m0 21h0m0-14h0m1 20h0m0-2h0m0-15h0m0 85h0m1-73h0m0 5h0m1 0h0m1-29h0m0-72h0m0 168h0m1 6h0m0-83h0m0-10h0m1 87h0m1-71h0m0-27h0m0 138h0m0-136h0m1 96h0m0 0h0m0-82h0m0-11h0m0 93h0m1-72h0m0 74h0m0-70h0m0 1h0m1-37h0m0 37h0m0 73h0m1-113h0m0 39h0m0-12h0m1 14h0m0-26h0m1 95h0m0-95h0m0 91h0m0-97h0m1 0h0m0 30h0m0-21h0m0 12h0m0-38h0m0 39h0m0-14h0m1-20h0m0 109h0m1-85h0m0 92h0m1-86h0m0 10h0m0-15h0m1 19h0m0 68h0m0 5h0m1-125h0m0 29h0m0 1h0m0-45h0m0 55h0m0 9h0m0 2h0m1-5h0m0-17h0m0 24h0m0-50h0m1 43h0m0-14h0m1 10h0m0-13h0m0 6h0m0 95h0m0-120h0m1 32h0m1 77h0m0-68h0m0-27h0m1 93h0m0-65h0m0 73h0m0-73h0m0 67h0m0 0h0m0-84h0m0-29h0m1 35h0m1-15h0m0 93h0m0-67h0m0-2h0m0-25h0m0-15h0m1-9h0m0 46h0m0-16h0m1-18h0m0 21h0m0 85h0m0-80h0m0-115h0m0 122h0m0-7h0m0-9h0m1-20h0m0 23h0m0-27h0m0 10h0m0 109h0m0-136h0m0 49h0m1 79h0m0 0h0m1-74h0m0 9h0m0-38h0m0 32h0m0 73h0m0-97h0m1 15h0m0-100h0m0 102h0m0-7h0m0 18h0m1 67h0m0-98h0m1 32h0m0-33h0m0 3h0m0-11h0m1 106h0m0 7h0m0-79h0m0 5h0m0-6h0m0 77h0m1-82h0m0-61h0m1 35h0m0 104h0m0-63h0m1-3h0m0-4h0m0 4h0m0-4h0m1-4h0m0 10h0m0-8h0m1 73h0m0-92h0m0 21h0m0 71h0m1 3h0m0-98h0m0 6h0m0 90h0m0 2h0m0-121h0m0 14h0m0-14h0m0 34h0m1-30h0m0-3h0m0 42h0m0-6h0m1 81h0m0-85h0m0 85h0m0-109h0m1 30h0m0 5h0m0-3h0m0-150h0m0 142h0m0 87h0m1-119h0m1 22h0m0 6h0m0 92h0m0-70h0m1 81h0m0-12h0m0 1h0m1-68h0m0 74h0m0-114h0m0 28h0m0 11h0m0-18h0m1-9h0m0-60h0m0 159h0m0-5h0m0 9h0m0-8h0m0-88h0m1 88h0m0-67h0m0-12h0m1 8h0m0-28h0m1 106h0m0-106h0m0 32h0m1 65h0m0-1h0m0-69h0m0-41h0m1-20h0m0 57h0m0 77h0m0-76h0m0-11h0m1 87h0m0-84h0m1-1h0m0-13h0m0 8h0m0 21h0m0-6h0m0 3h0m1 69h0m0 2h0m0-103h0m0 13h0m0 21h0m0 67h0m1 0h0m0-129h0m0 139h0m0-134h0m0 49h0m1 10h0m0 69h0m0-94h0m0 23h0m0-4h0m0-55h0m1 134h0m0-97h0m0 8h0m0 90h0m0-9h0m0 2h0m0-95h0m1 8h0m0-7h0m1 24h0m0-23h0m0-37h0m0 54h0m0 74h0m1-80h0m0-12h0m0-1h0m0 25h0m0 69h0m0-81h0m0-25h0m1 30h0m0 2h0m1-7h0m0 6h0m0-11h0m0-9h0m1 0h0m0 97h0m0-92h0m0 16h0m0-15h0m0 92h0m1-92h0m0 19h0m0 69h0m0 2h0m1-96h0m0 30h0m1-33h0m0 26h0m0 4h0m1 2h0m0-1h0m0 67h0m0 2h0m0-96h0m1 93h0m0-71h0m1-6h0m0-1h0m0-20h0m0 12h0m1 6h0m1 12h0m0-11h0m0 79h0m0-87h0m0 15h0m1 75h0m1-117h0m0-2h0m0 46h0m1-7h0m0-14h0m0 99h0m1-78h0m0 0h0m0 73h0m0-98h0m0 27h0m0-44h0m1 117h0m0-103h0m0-66h0m0 55h0m0 111h0m0-84h0m0 8h0m0 74h0m1 13h0m0-139h0m0 58h0m1-1h0m0 68h0m0-71h0m1-25h0m0 97h0m0 4h0m0-112h0m0-16h0m1 11h0m1-3h0m0 10h0m1 15h0m0 22h0m1 78h0m0-107h0m0 32h0m0 69h0m0-93h0m0 92h0m1 0h0m1-69h0m2 71h0m0 2h0m0-101h0m0 8h0m0 89h0m0-73h0m1 73h0m0-97h0m0 95h0m0-80h0m0-63h0m0 148h0m1-89h0m0 94h0m0-76h0m0 70h0m0-69h0m1-8h0m1 76h0m0-119h0m1 117h0m0-1h0m0-91h0m0 21h0m0-15h0m0 15h0m1 6h0m0 66h0m1 7h0m0-9h0m1-97h0m0 31h0m0 69h0m0-116h0m0 46h0m1-43h0m0 25h0m0-48h0m1 160h0m0-104h0m0 9h0m0-5h0m0-30h0m0 104h0m0-68h0m1-97h0m0 76h0m0 10h0m0-17h0m0 9h0m0 18h0m0 70h0m0-71h0m1-20h0m0 9h0m0-20h0m0 104h0m1-76h0m0 76h0m0-170h0m1 70h0m0-12h0m1 22h0m0-31h0m0 38h0m3 80h0m0 2h0m1-68h0m0-10h0m0-24h0m0 26h0m0-127h0m1 202h0m0-2h0m0 5h0m1-84h0m0 12h0m0-55h0m0 26h0m0-1h0m1 97h0m0-114h0m0 43h0m1-5h0m0 2h0m0 78h0m0-79h0m1 77h0m0-89h0m0 18h0m0 2h0m0 68h0m0-108h0m0 37h0m0-23h0m1-6h0m0 31h0m0-38h0m1 35h0m0-38h0m0 45h0m0-4h0m1 2h0m0 69h0m0-99h0m1 126h0m0-126h0m0 4h0m1 93h0m0 2h0m0-1h0m0-66h0m0-24h0m1 90h0m0-95h0m0 94h0m0-141h0m1 74h0m0 68h0m0-72h0m0-26h0m0 99h0m0-93h0m1 14h0m0 83h0m0-77h0m1 69h0m0-116h0m0 120h0m0-68h0m0-9h0m0 77h0m0-79h0m0-10h0m1-25h0m0 21h0m1 8h0m0 15h0m1-23h0m0 20h0m0 71h0m0-66h0m1-43h0m0 23h0m0 14h0m1 74h0m1-69h0m0-3h0m0-5h0m1-8h0m1-24h0m0 35h0m0-5h0m0 80h0m1-1h0m0-106h0m0 104h0m0 1h0m0-97h0m0 99h0m1 2h0m1-80h0m1-6h0m1-50h0m0 132h0m1-77h0m0-7h0m0-11h0m0 20h0m0-8h0m0-16h0m0 29h0m1 72h0m0-88h0m1 12h0m0-4h0m0 76h0m0 3h0m1 3h0m0-86h0m1 0h0m0 16h0m0-4h0m0-10h0m0-33h0m0 28h0m0 3h0m0 12h0m1-6h0m0-31h0m1 39h0m0-14h0m0 88h0m1-106h0m0 31h0m0-17h0m0-54h0m0 140h0m1-67h0m0 71h0m0-97h0m0 8h0m0-22h0m0 106h0m1-1h0m0-88h0m1 11h0m0-47h0m0 35h0m0-18h0m0 39h0m1 71h0m1-105h0m0-4h0m0 106h0m0-84h0m1 17h0m0 68h0m0 0h0m0-97h0m0 97h0m1 0h0m0-1h0m0-95h0m0 96h0m0-105h0m0-35h0m0 50h0m1 13h0m0-31h0m0 108h0m1-109h0m0-4h0m0 34h0m1 9h0m0 0h0m0 1h0m1-30h0m0 32h0m0-9h0m1 3h0m1 75h0m0-1h0m0 7h0m0-74h0m0-4h0m1-2h0m0-41h0m0 43h0m1-11h0m0-6h0m1 89h0m0-94h0m0 25h0m0 69h0m0 10h0m1-10h0m0-76h0m0 81h0m0-77h0m0 72h0m0 31h0m0-135h0m0 104h0m0-71h0m1-6h0m0-25h0m0-16h0m0 26h0m0 11h0m0 78h0m0-71h0m0 4h0m1-13h0m0 1h0m0 2h0m1-5h0m0 11h0m0-25h0m0-60h0m1 49h0m0 37h0m0 1h0m0 72h0m0-88h0m1 100h0m0-95h0m1 81h0m1-75h0m1 76h0m0-73h0m1-5h0m0 77h0m1-76h0m0-7h0m0-34h0m1 48h0m0-19h0m0 15h0m0-27h0m1-47h0m1 79h0m0-1h0m1-34h0m0 102h0m0-76h0m0 3h0m0 77h0m0-181h0m0 81h0m1 16h0m0-12h0m0 17h0m0-24h0m0-87h0m0 189h0m1-88h0m0 87h0m0 11h0m0-109h0m1 32h0m0-102h0m0-49h0m0 215h0m0-96h0m0 11h0m0 4h0m0 81h0m1-66h0m0-21h0m0 10h0m0 8h0m0-26h0m0 3h0m0 27h0m0 1h0m0 0h0m0-58h0m1 123h0m0-145h0m0 63h0m1 1h0m0-24h0m0 36h0m1-22h0m0-6h0m0 27h0m0-9h0m1-17h0m0-47h0m0 70h0m0 3h0m0 72h0m0-78h0m0 75h0m1-67h0m0 67h0m2-73h0m0 7h0m0-3h0m0 2h0m0-25h0m0 4h0m0 92h0m2 9h0m0-101h0m0 90h0m0-2h0m1-75h0m0 7h0m0 4h0m2-38h0m1 31h0m0-11h0m0 85h0m1-1h0m0-116h0m0 114h0m0-66h0m0-40h0m0 5h0m1 17h0m0-106h0m1 116h0m0-22h0m0 27h0m0 77h0m0-114h0m0 116h0m1-8h0m0-99h0m0-6h0m0 18h0m0 13h0m1 5h0m0-22h0m0 90h0m0-75h0m1 2h0m0-2h0m1-28h0m0 4h0m0-30h0m0 54h0m1-19h0m0 22h0m0 1h0m1-19h0m0 89h0m0-78h0m1 82h0m0-86h0m0-13h0m0 27h0m0-47h0m2 115h0m1-78h0m0 5h0m0 73h0m0-91h0m0 90h0m1-115h0m0 51h0m0-2h0m0-26h0m0 95h0m1 10h0m0-84h0m0-62h0m0 47h0m1-28h0m0 114h0m0-123h0m0 32h0m0 14h0m0-5h0m0-50h0m1 134h0m0-107h0m1 31h0m0 3h0m0 4h0m0-26h0m1 99h0m0-71h0m0 67h0m0-69h0m1-69h0m0-15h0m0-23h0m0 98h0m1 9h0m0 3h0m1-6h0m1 79h0m0-127h0m0 122h0m0-72h0m0 1h0m1 70h0m0-92h0m0 26h0m0-2h0m0-21h0m0 1h0m0 18h0m0-5h0m1 74h0m0 2h0m0-90h0m0-3h0m0 21h0m0 73h0m0-97h0m1 3h0m0 1h0m1 89h0m0-65h0m1-4h0m0-12h0m0 85h0m1-79h0m0 76h0m1-1h0m0-109h0m1 109h0m0-66h0m0-6h0m0-16h0m0 15h0m1-54h0m0 130h0m0-70h0m0-20h0m1 19h0m1 71h0m0-80h0m0-38h0m1 44h0m0-10h0m0 13h0m0 70h0m1-94h0m0-33h0m0 55h0m1 75h0m0-73h0m0-43h0m0 9h0m1 37h0m0-19h0m0 20h0m1-63h0m0 59h0m0 69h0m0 6h0m0-75h0m0-2h0m0 6h0m1-62h0m0 49h0m1-13h0m0 19h0m0-8h0m0 13h0m0 68h0m0-123h0m0 55h0m1-16h0m0 15h0m1-1h0m0-30h0m0 101h0m0-73h0m1 70h0m0-1h0m0-71h0m0 3h0m0-2h0m0-39h0m0 36h0m1 10h0m0-37h0m0-22h0m0 37h0m0 15h0m0-1h0m1-2h0m0 5h0m1-8h0m1-92h0m0 169h0m0-76h0m0-13h0m0 92h0m1-1h0m0 0h0m1-72h0m0-2h0m0-60h0m0 65h0m1 69h0m1-129h0m1 51h0m0 5h0m0-16h0m0 6h0m0-39h0m1 55h0m0 73h0m0-108h0m0 26h0m1 9h0m0-25h0m0 26h0m0-6h0m0 72h0m0-74h0m1-22h0m0 4h0m0 15h0m0-14h0m0 12h0m0 77h0m1 0h0m0-94h0m0 103h0m0-6h0m0-68h0m0-23h0m1 91h0m0-69h0m0 75h0m1-8h0m0-90h0m1-3h0m0 91h0m0 22h0m0-118h0m0-31h0m0 62h0m1-5h0m1 7h0m0 67h0m0-126h0m1 30h0m0-24h0m0 44h0m0-29h0m1 109h0m0-138h0m1 131h0m0 4h0m0-98h0m0 28h0m1 75h0m0-93h0m0 85h0m0 0h0m0-76h0m1-131h0m0 207h0m0-2h0m0-81h0m0-14h0m0 99h0m0-126h0m1 43h0m0 80h0m0-106h0m0-40h0m0 29h0m0-6h0m1 9h0m0 40h0m1 74h0m0-71h0m0-43h0m0-20h0m0 134h0m0-109h0m1 111h0m0-100h0m1 98h0m0-98h0m0 30h0m0 69h0m0-94h0m0 94h0m1-74h0m0-15h0m0-71h0m1 161h0m0 0h0m0-68h0m1 69h0m0-96h0m0 18h0m1 81h0m0-110h0m0 109h0m0-5h0m0-81h0m0 85h0m0-76h0m1-4h0m1 5h0m0 3h0m0-1h0m1-7h0m0-7h0m0 3h0m0 10h0m0-42h0m1 33h0m0-7h0m0 20h0m0 75h0m0-117h0m0 41h0m0 69h0m1-121h0m1 31h0m0-26h0m0 15h0m1 100h0m0-71h0m1-115h0m1 67h0m0 125h0m1-78h0m0-34h0m0 24h0m0-6h0m1 1h0m0 8h0m0-28h0m0 106h0m0-107h0m1-37h0m0 44h0m0 33h0m0-5h0m1-31h0m0 104h0m0-76h0m0 75h0m1-72h0m0 5h0m0 78h0m1-86h0m0 9h0m0-5h0m1 74h0m0-125h0m0 123h0m0-98h0m0 33h0m1-25h0m0 22h0m0-23h0m0 26h0m0-55h0m0 24h0m0 19h0m1 11h0m1-1h0m0-22h0m0 11h0m0-8h0m0-16h0m1 17h0m0 8h0m0 1h0m0 77h0m0-93h0m0 22h0m1-30h0m0 34h0m1-22h0m0 87h0m0-68h0m1-2h0m0-1h0m0-5h0m0-9h0m1 85h0m0 4h0m1-84h0m0 81h0m0-67h0m1-9h0m0 77h0m1-77h0m0-13h0m0-20h0m0 40h0m0-8h0m0-26h0m0 102h0m0-83h0m0 19h0m1-5h0m1-22h0m0-33h0m1 12h0m0-11h0m0 30h0m0-1h0m1 93h0m0-74h0m0-9h0m1 11h0m1-16h0m0 23h0m1-84h0m0 153h0m0-2h0m0-72h0m0 6h0m0 68h0m1-93h0m0-43h0m0 40h0m1 28h0m0-15h0m0-10h0m1 91h0m0-139h0m0 69h0m1 72h0m0-71h0m0-29h0m0 104h0m0-152h0m1 79h0m0 69h0m0-68h0m0-43h0m1 44h0m0-10h0m0 8h0m0 0h0m0 0h0m0 0h0m1-6h0m0-58h0m0 132h0m1-99h0m0-7h0m0 104h0m1-67h0m0-10h0m0-18h0m1 96h0m0 5h0m0 10h0m1-84h0m0-7h0m0 77h0m0-85h0m0-1h0m0-4h0m0 92h0m1-69h0m0-13h0m1 6h0m0-15h0m0-10h0m1 12h0m0 7h0m0-1h0m0 3h0m1 10h0m0-10h0m0-17h0m1 96h0m0-84h0m0 4h0m0-16h0m0 93h0m0-82h0m1 82h0m0-70h0m1-2h0m0 75h0m0 3h0m1-99h0m0 3h0m1 4h0m0-68h0m1 89h0m0-8h0m0 75h0m0-81h0m0-13h0m0 16h0m1 76h0m0 8h0m1-114h0m1-14h0m0 14h0m0 108h0m0-2h0m1 28h0m0-22h0m0-124h0m0 25h0m0 18h0m1 0h0m0 76h0m1 2h0m0-72h0m0-5h0m1 82h0m0-114h0m0-23h0m0 63h0m0-29h0m0 115h0m1-96h0m0 79h0m1-103h0m0 9h0m0 20h0m1 3h0m0 1h0m0 68h0m1-105h0m1 34h0m0-23h0m0 19h0m0-3h0m1 3h0m0-19h0m0-39h0m0 48h0m0-14h0m0-9h0m1 39h0m0-37h0m0 106h0m0-71h0m0 3h0m1 0h0m0-26h0m0 95h0m0 0h0m1-71h0m0-43h0m1 25h0m0 20h0m0-8h0m0-19h0m0 12h0m1 12h0m0 72h0m0-114h0m1 39h0m0 7h0m0-2h0m0-4h0m0-8h0m0-76h0m1 21h0m0 60h0m0-17h0m0 102h0m0-91h0m0-12h0m0 10h0m0 12h0m1 0h0m1-2h0m0-1h0m0-6h0m0 15h0m0-68h0m0 51h0m0 84h0m1-161h0m0 84h0m0-16h0m1 7h0m0 8h0m0 5h0m2-27h0m0 11h0m0 90h0m1-67h0m0-69h0m1 65h0m0 2h0m1-14h0m0 80h0m0-75h0m0-4h0m1 10h0m0-24h0m0-7h0m0 27h0m0 76h0m0 4h0m0-4h0m0-76h0m1 73h0m0-1h0m0-78h0m1 88h0m0-93h0m0-17h0m1 13h0m0 89h0m1 2h0m0 3h0m1-3h0m0-105h0m0 22h0m0 4h0m1 78h0m0-98h0m0 1h0m0-11h0m0 37h0m1-20h0m0-7h0m0 21h0m1 77h0m0-91h0m0 23h0m1-17h0m0 3h0m1 12h0m0-6h0m0-11h0m0-12h0m0 25h0m0-22h0m1-4h0m0 22h0m0-24h0m1-15h0m0 42h0m0 73h0m0-77h0m1-27h0m0-26h0m0 54h0m1 77h0m0-88h0m1 20h0m0-87h0m0 67h0m1 11h0m0 5h0m1 3h0m0 72h0m0 5h0m0-135h0m1 59h0m0 2h0m0 0h0m0-3h0m1-49h0m0 36h0m0 82h0m0 8h0m0-120h0m0 17h0m0 19h0m1 78h0m0-97h0m0 10h0m0 84h0m0-88h0m1 0h0m0-23h0m0 24h0m0 4h0m1 16h0m0-4h0m0 2h0m2 0h0m0 5h0m0-10h0m0 5h0m0 69h0m1-65h0m0 70h0m0-94h0m0 5h0m0 87h0m1-83h0m0 8h0m0 2h0m0 72h0m0-68h0m1-2h0m1 70h0m0-126h0m0 33h0m0-17h0m0 33h0m0-7h0m1 82h0m0-68h0m0 75h0m1-3h0m0-82h0m0 79h0m1-99h0m0 28h0m1-7h0m0 4h0m0-16h0m0 89h0m0-66h0m1 67h0m0-73h0m0 74h0m0-92h0m2 92h0m1-92h0m1 92h0m0-90h0m0 17h0m0 72h0m1-99h0m0-27h0m0 46h0m1-56h0m0 38h0m1 31h0m0 69h0m1-75h0m0 75h0m1-92h0m0 92h0m0-96h0m1 96h0m1-94h0m0-14h0m0 114h0m0-118h0m0 43h0m1-2h0m0-15h0m0 85h0m0-84h0m1-36h0m0 118h0m1-137h0m0 140h0m0-84h0m0 7h0m0 76h0m0-74h0m1 0h0m0-14h0m0 14h0m0-103h0m0 89h0m1-14h0m0-2h0m1 38h0m0-18h0m0 88h0m0 1h0m1-107h0m0 26h0m0 9h0m0-20h0m0 17h0m2-84h0m0 55h0m1 20h0m0 5h0m0-11h0m1 14h0m0-124h0m0 123h0m1-3h0m1 74h0m0-94h0m0 21h0m0 75h0m0-142h0m1 52h0m0 2h0m0 86h0m0-71h0m0-8h0m1 12h0m0-26h0m0 93h0m0 1h0m0 1h0m1-92h0m0 91h0m0-129h0m1 130h0m0-95h0m0 15h0m1 77h0m0 0h0m1 0h0m0 8h0m0-122h0m0 11h0m1 32h0m1-6h0m0 9h0m0 3h0m1 70h0m0-118h0m0 8h0m0 32h0m0 76h0m1-105h0m1-17h0m0 120h0m0-73h0m0-8h0m0-18h0m0 23h0m1-30h0m0 33h0m0 7h0m0 66h0m1-110h0m0 112h0m0-4h0m1 4h0m0-2h0m1-119h0m0 53h0m0-1h0m0-52h0m0 49h0m0-46h0m0 12h0m0 29h0m0 4h0m0-40h0m1 34h0m0-45h0m0 51h0m0-2h0m0 5h0m1-23h0m0-22h0m0 8h0m0 105h0m1-66h0m0-6h0m0-8h0m0 84h0m0 5h0m1-86h0m0-11h0m0 91h0m0-86h0m0 88h0m1-4h0m0-2h0m0-77h0m1 2h0m0-8h0m0 4h0m0 82h0m0-79h0m0-29h0m0 25h0m1 11h0m0-16h0m0 84h0m0-114h0m0 2h0m0 48h0m1 0h0m1-46h0m0 41h0m0-17h0m0-7h0m0 14h0m1 83h0m0 0h0m0-89h0m0 85h0m1-78h0m0-31h0m0 42h0m0-36h0m0 36h0m0 70h0m0-90h0m0-2h0m3 12h0m0-70h0m0 79h0m1 68h0m0-136h0m1 6h0m0 46h0m1 10h0m0-23h0m2 11h0m0-1h0m0-46h0m1-16h0m1 72h0m0-33h0m0 114h0m0-132h0m0 41h0m1 88h0m2 1h0m0-73h0m0-27h0m1-34h0m0 65h0m0-7h0m0 83h0m0-77h0m0 5h0m1-84h0m0 36h0m0 43h0m0-21h0m0 22h0m1-23h0m1 93h0m0-66h0m0-15h0m0 10h0m0-2h0m0 6h0m1-28h0m0-43h0m0 63h0m0 8h0m1-25h0m0 18h0m0 74h0m0-98h0m0 96h0m0-72h0m1 6h0m0-62h0m0 128h0m1-73h0m0-11h0m1-29h0m1-11h0m0 125h0m1-66h0m0 118h0m0-155h0m0 103h0m0-74h0m0-36h0m0 44h0m0 67h0m1-106h0m0 40h0m0 65h0m0-68h0m0 68h0m0 1h0m0-109h0m0 42h0m1 1h0m0-75h0m0 49h0m0 26h0m0-23h0m1 90h0m0-88h0m0 8h0m0 9h0m0-35h0m0 10h0m1 100h0m0-76h0m0-13h0m1 15h0m2 67h0m0-87h0m0 9h0m0 80h0m0-74h0m0-49h0m0 46h0m0-21h0m0 4h0m1-7h0m1 27h0m0-93h0m0 168h0m1 6h0m1-100h0m0 15h0m1 5h0m0-3h0m0 77h0m1-79h0m1-43h0m1 128h0m0-87h0m0-12h0m0 17h0m1-27h0m0 15h0m1 4h0m0 10h0m1-10h0m0 84h0m0-94h0m1-34h0m0 35h0m0 17h0m0 126h0m0-149h0m0 32h0m1-13h0m0 10h0m0 2h0m1-27h0m0 22h0m0 2h0m0-6h0m0-128h0m1 137h0m0-6h0m0-3h0m0-7h0m1 13h0m0-1h0m0 70h0m1-83h0m0-27h0m0 32h0m0 3h0m1 74h0m0-67h0m0-22h0m0 94h0m0-4h0m1-132h0m0 133h0m0-154h0m1 80h0m0-8h0m1 84h0m0-89h0m1 19h0m0-11h0m1 11h0m0 0h0m0-48h0m0 23h0m0 23h0m0-15h0m0 17h0m1-31h0m0 23h0m0-31h0m1 23h0m0 8h0m0-15h0m1 10h0m0 0h0m0 13h0m1-3h0m0-33h0m0 27h0m0 10h0m1-65h0m0 66h0m0-3h0m1-160h0m0 153h0m0-10h0m0 18h0m0-15h0m1 7h0m0 2h0m0-23h0m0 29h0m0 74h0m0-7h0m1-84h0m0 14h0m0-44h0m1 115h0m1-1h0m0 7h0m0-76h0m0 1h0m1-37h0m1 105h0m0-131h0m1 57h0m0-69h0m0 73h0m0 1h0m1-6h0m1 4h0m0 73h0m0-1h0m0 0h0m1-102h0m0 33h0m0 67h0m0-66h0m0-35h0m1 27h0m0-24h0m0-1h0m1 20h0m0 10h0m0-8h0m1 10h0m1 69h0m0-81h0m0-35h0m0 42h0m1-25h0m0 100h0m0-79h0m0 3h0m0 73h0m1-94h0m0 94h0m0-88h0m0-9h0m0 14h0m0 7h0m1 3h0m0-12h0m1 0h0m0 13h0m0-44h0m1 115h0m0-80h0m0 82h0m1-83h0m0-35h0m0 43h0m0-15h0m0 21h0m0-91h0m1 71h0m0 13h0m0 6h0m0-18h0m0 4h0m1 2h0m0 3h0m0-25h0m1 0h0m0-27h0m0 65h0m1-44h0m0 36h0m0 82h0m0-6h0m0-70h0m0-6h0m0 75h0m0-122h0m1 121h0m0-117h0m0 116h0m0 4h0m1-73h0m0-20h0m0 90h0m0-73h0m0-7h0m0-17h0m0 5h0m0 7h0m1 84h0m0-115h0m0 22h0m1 15h0m0-15h0m0 8h0m0-12h0m0 98h0m0-83h0m0 16h0m1-20h0m0 14h0m0-46h0m1 121h0m0-78h0m1 76h0m0-91h0m0 23h0m0 2h0m0 68h0m0-85h0m0 83h0m0-140h0m0 64h0m1 2h0m0-7h0m0-32h0m0 44h0m0 68h0m0-115h0m1 15h0m0 109h0m0-87h0m1-114h0m0 120h0m0 6h0m0-21h0m0 90h0m0-123h0m1 52h0m0-8h0m0 75h0m1-85h0m0 20h0m1-47h0m0 113h0m0-66h0m1-2h0m0-30h0m0 24h0m0-28h0m0 19h0m0 87h0m1-4h0m0-68h0m0-1h0m0 71h0m1-72h0m0-23h0m1 9h0m0 7h0m0 80h0m0-139h0m0 139h0m1 12h0m0-94h0m0 1h0m0-24h0m1 21h0m0-12h0m2 4h0m0-11h0m1 100h0m0-132h0m0 133h0m0-75h0m1-1h0m0-13h0m0 90h0m1-84h0m0 85h0m0-3h0m0 2h0m0-2h0m0-68h0m1-10h0m1-13h0m0 18h0m0-10h0m1 84h0m0-73h0m0 2h0m0-2h0m0 6h0m0-51h0m1 12h0m0 8h0m0 21h0m0-58h0m0 52h0m0-36h0m1 118h0m0-66h0m0-27h0m1 96h0m0-1h0m0-2h0m0-86h0m1 94h0m0 0h0m1-81h0m0 74h0m0-82h0m0 82h0m0-66h0m0-5h0m0-27h0m1-17h0m0 116h0m0-73h0m1 3h0m0-3h0m0-15h0m0 91h0m0-106h0m1 5h0m0 21h0m0-32h0m0 29h0m1 6h0m0 6h0m0-5h0m1 3h0m0-8h0m0 113h0m0-102h0m1 68h0m0-71h0m0 2h0m0-31h0m1 23h0m0 8h0m0-8h0m0-110h0m0 104h0m1-62h0m0 72h0m1-19h0m0 16h0m0-28h0m0 13h0m0 17h0m0-29h0m0 18h0m1 91h0m0-81h0m0 73h0m1-78h0m0-9h0m1 20h0m0 68h0m0-70h0m0-40h0m0 29h0m1-25h0m0-4h0m0 42h0m0-14h0m0-45h0m0 17h0m0 41h0m0 68h0m1 0h0m0-75h0m0-9h0m0 14h0m0 0h0m0-82h0m1 64h0m0 12h0m1-22h0m0 19h0m0-10h0m0-6h0m0 26h0m0 71h0m1-111h0m0 107h0m0-73h0m0 9h0m0-14h0m1 8h0m0-19h0m0 26h0m0-11h0m0-63h0m1 147h0m0-83h0m0 3h0m0 6h0m1-100h0m0 1h0m0 171h0m0-97h0m0 0h0m0 23h0m1-7h0m0-44h0m0 38h0m0 7h0m0-33h0m0-10h0m0 47h0m1-15h0m0 5h0m0-5h0m0 17h0m0-28h0m1 30h0m0 66h0m0-1h0m1 4h0m0-80h0m0-7h0m1 83h0m0-67h0m0-12h0m0 12h0m0-30h0m0 12h0m1 18h0m0-24h0m0 19h0m1-46h0m0-20h0m0 42h0m0 7h0m0 8h0m1 13h0m0 71h0m0-85h0m0 0h0m0 16h0m0-16h0m0 14h0m1-26h0m0 21h0m0-57h0m0 133h0m1-216h0m0 139h0m1-43h0m0 34h0m1 85h0m0-71h0m0 2h0m0 68h0m1-83h0m0 84h0m0 4h0m0-2h0m0-71h0m1-2h0m0-116h0m0 82h0m0 32h0m0 4h0m0 68h0m0-1h0m1 1h0m0 0h0m0 1h0m1-121h0m0 21h0m0 25h0m0 75h0m0-74h0m1 6h0m0 74h0m1-77h0m0 69h0m0-111h0m0 29h0m0-18h0m0 4h0m0 19h0m1 4h0m0-72h0m0 79h0m0 70h0m1-78h0m1-15h0m0 17h0m0-19h0m0 95h0m0-2h0m0-82h0m1-13h0m0 101h0m0-103h0m0 18h0m1 4h0m0 74h0m0-114h0m0 45h0m0-18h0m0 85h0m0-92h0m0 28h0m1-4h0m0-68h0m0 41h0m1 30h0m0 65h0m0 1h0m1-71h0m0-8h0m1-2h0m0-5h0m0-3h0m1 17h0m0 1h0m0-1h0m0 72h0m1-72h0m0-45h0m0 47h0m0-15h0m1 21h0m0-1h0m0 66h0m0-84h0m0 83h0m1-97h0m1 28h0m0-16h0m0-60h0m0 155h0m0-91h0m0-5h0m1 6h0m0-11h0m1 22h0m0-4h0m2 74h0m0-82h0m1 11h0m0-5h0m0 10h0m0-5h0m0-19h0m1 24h0m0-38h0m0-27h0m1 4h0m0-34h0m0 161h0m1-75h0m0-2h0m1-14h0m0 24h0m0 0h0m0-44h0m0-3h0m0 116h0m1 0h0m0-95h0m0 28h0m1-10h0m1 78h0m1-120h0m0 35h0m1-5h0m0-242h0m0 249h0m0 5h0m0-29h0m0 37h0m1-33h0m0 100h0m0 3h0m1-95h0m0 93h0m0-125h0m0 39h0m0 13h0m0-25h0m1 18h0m0 2h0m0-10h0m0 88h0m1-156h0m0 83h0m0-16h0m0 23h0m0-45h0m1 24h0m0-10h0m0 28h0m0 69h0m1-96h0m0-13h0m0-30h0m0 37h0m1 24h0m0-1h0m0 78h0m0-126h0m0 49h0m0 1h0m1-12h0m0 20h0m0 1h0m0-9h0m0 0h0m1 7h0m0-5h0m0 1h0m0 6h0m1-34h0m0 17h0m0 13h0m0-1h0m1 71h0m0-71h0m0-40h0m2 43h0m0 70h0m0-2h0m0-65h0m0-14h0m0 82h0m1-69h0m0-25h0m0 4h0m0-4h0m0 23h0m0 75h0m0-75h0m0-10h0m0-1h0m0 3h0m0 9h0m1 68h0m0-87h0m1 19h0m0-23h0m1-55h0m0 29h0m0 41h0m1 1h0m0 5h0m0 4h0m1-3h0m0 73h0m0-78h0m1 75h0m0-104h0m0 36h0m1-27h0m0 17h0m1 78h0m0-105h0m0 104h0m0-81h0m1-75h0m0 84h0m0 74h0m0-85h0m0 10h0m1 1h0m0-28h0m0 32h0m0-20h0m0-18h0m0 40h0m0-18h0m1-6h0m0 92h0m0-73h0m0-6h0m0-72h0m0 151h0m0-73h0m1 5h0m0-6h0m0 3h0m0-8h0m1 0h0m1 3h0m0 8h0m0 65h0m0-135h0m0 135h0m1 28h0m0-105h0m0 6h0m1 7h0m1-5h0m0-2h0m0-6h0m0 78h0m1-107h0m0 38h0m1-4h0m0-77h0m1 82h0m0 67h0m0-112h0m1 115h0m0 2h0m0-87h0m1 83h0m0-79h0m0-6h0m0 10h0m0 5h0m0 69h0m1-148h0m0 47h0m0 9h0m0 18h0m0-16h0m0 26h0m0-15h0m1 80h0m0-97h0m0 17h0m0 82h0m2-76h0m0 1h0m1-13h0m1 12h0m0-1h0m0 82h0m0-74h0m1-49h0m0 117h0m1-71h0m0 70h0m0-97h0m1 20h0m0 76h0m0-90h0m1 17h0m1 4h0m0 71h0m0 5h0m0-104h0m1 124h0m0-24h0m0-78h0m0-16h0m0 17h0m0-1h0m0-5h0m0 89h0m1-77h0m1-147h0m0 149h0m0-50h0m1 32h0m0 7h0m0 1h0m1-11h0m0-27h0m0 120h0m1-85h0m0 2h0m0 13h0m1-36h0m0 102h0m1-72h0m1-117h0m0 191h0m1-1h0m0-79h0m1 7h0m0-35h0m0-41h0m0 27h0m0-30h0m1 13h0m0 64h0m0-19h0m0-33h0m0 43h0m1-23h0m0 22h0m0 12h0m0 2h0m0 1h0m1 67h0m1-87h0m0 87h0m0 8h0m1-102h0m0 19h0m0-20h0m0 96h0m1-2h0m0-71h0m0-7h0m0 12h0m1-31h0m0 98h0m0-113h0m0 11h0m0 37h0m0-10h0m1 5h0m0-44h0m0 32h0m1 0h0m0-21h0m0 102h0m0-96h0m0 31h0m0-12h0m1 9h0m0 71h0m0-91h0m1 88h0m0-139h0m1 63h0m0-26h0m1 102h0m0 3h0m0-119h0m0 118h0m0-82h0m0-21h0m0 33h0m0 3h0m1-21h0m0-20h0m0 108h0m0-109h0m0 109h0m1-68h0m0 66h0m1-81h0m0-29h0m0 29h0m0-9h0m0-90h0m0 187h0m1-7h0m0-151h0m0 28h0m1-16h0m0 140h0m0-114h0m0 40h0m1-1h0m1 9h0m0-14h0m0 81h0m0-98h0m0-38h0m0 21h0m1 16h0m0 1h0m0 96h0m0-75h0m0-24h0m1-8h0m0 37h0m1-10h0m0 14h0m0-62h0m0 40h0m1-35h0m0-49h0m0 103h0m0-4h0m1-16h0m0 16h0m0 6h0m1-19h0m0 12h0m0-156h0m1 123h0m0 38h0m0 4h0m0-23h0m1-11h0m0-24h0m0 124h0m0-67h0m2-3h0m0-11h0m0 81h0m0 2h0m0 5h0m0-83h0m1-16h0m0 12h0m0-19h0m1 16h0m0 88h0m1-89h0m0 15h0m0-66h0m0 136h0m1-117h0m0 116h0m1-91h0m0 93h0m0-70h0m0-20h0m0 15h0m0-2h0m0-4h0m1 86h0m0-83h0m0-14h0m1 23h0m0-9h0m0 81h0m1-109h0m0 111h0m0-129h0m0 129h0m0-138h0m0 7h0m0 50h0m0-31h0m0 105h0m0-164h0m0 164h0m1-100h0m0 31h0m0 0h0m0 71h0m0-84h0m1 86h0m0-82h0m0-14h0m0 14h0m0-9h0m1-28h0m0 48h0m0-24h0m1-4h0m0 23h0m0-5h0m1 3h0m0-34h0m0 108h0m1-68h0m0-32h0m0 5h0m0 19h0m1-2h0m0-13h0m0 96h0m1-6h0m1-67h0m0-38h0m1 38h0m0 1h0m0-9h0m0-48h0m0 34h0m1 6h0m1 2h0m0 17h0m0-29h0m0 7h0m0 10h0m0 77h0m0-66h0m0-12h0m1-7h0m0 88h0m0 47h0m1-142h0m0 10h0m0-61h0m0 142h0m0-81h0m0 17h0m0 66h0m1-67h0m0-10h0m0-12h0m0 19h0m0 1h0m1-25h0m0 20h0m0 3h0m1-23h0m0 17h0m0 3h0m1 75h0m0-81h0m0 10h0m0-6h0m1 76h0m1-84h0m0 4h0m0 78h0m0-91h0m1 18h0m1-9h0m0-93h0m0 178h0m0-75h0m1-15h0m0 22h0m0-16h0m0 5h0m0-11h0m1 21h0m0-8h0m0-6h0m0 80h0m1-100h0m0 26h0m0-8h0m0 18h0m0-17h0m0-94h0m1 86h0m0-4h0m0-7h0m0-17h0m0 23h0m1 25h0m0-26h0m0 8h0m1-13h0m0 100h0m0-66h0m0-28h0m0 12h0m0-106h0m1 106h0m0 14h0m0 2h0m0-32h0m0 25h0m0-2h0m1 9h0m0-9h0m0 11h0m0-9h0m0 3h0m1 2h0m0 70h0m0-71h0m0 72h0m0 0h0m0 3h0m1-81h0m0 114h0m0-161h0m0 17h0m1 112h0m0-104h0m0 106h0m0-73h0m0-14h0m1 12h0m0-2h0m0 78h0m0-91h0m0-32h0m0 29h0m1-49h0m1 65h0m0 4h0m1-7h0m0 3h0m0-65h0m1 61h0m0-30h0m0-9h0m0 29h0m0 11h0m0-1h0m1-37h0m0 109h0m0-88h0m0-10h0m0 0h0m0 101h0m1-110h0m0 110h0m0-84h0m0-37h0m0 52h0m0-34h0m0 2h0m1 33h0m1 72h0m0-1h0m0-91h0m0-20h0m0 108h0m0-3h0m0 0h0m1-86h0m0 21h0m0-24h0m0 1h0m0 6h0m0-27h0m1-25h0m0 31h0m0 31h0m0-47h0m0 45h0m0 8h0m0-2h0m0 70h0m1-73h0m0-57h0"/>
<line x1="864.9" y1="1588.3" x2="864.9" y2="1853.7" stroke="#fff" stroke-width="1.8"/>
<line x1="910.1" y1="1588.3" x2="910.1" y2="1853.7" stroke="#fff" stroke-width="1.8"/>
<line x1="955.9" y1="1588.3" x2="955.9" y2="1853.7" stroke="#fff" stroke-width="1.8"/>
<line x1="985.4" y1="1588.3" x2="985.4" y2="1853.7" stroke="#fff" stroke-width="1.8"/>
<line x1="1023.6" y1="1588.3" x2="1023.6" y2="1853.7" stroke="#fff" stroke-width="1.8"/>
<line x1="1058.3" y1="1588.3" x2="1058.3" y2="1853.7" stroke="#fff" stroke-width="1.8"/>
<line x1="1088.9" y1="1588.3" x2="1088.9" y2="1853.7" stroke="#fff" stroke-width="1.8"/>
<line x1="1116.7" y1="1588.3" x2="1116.7" y2="1853.7" stroke="#fff" stroke-width="1.8"/>
<line x1="1139.2" y1="1588.3" x2="1139.2" y2="1853.7" stroke="#fff" stroke-width="1.8"/>
<line x1="1167" y1="1588.3" x2="1167" y2="1853.7" stroke="#fff" stroke-width="1.8"/>
<line x1="1191.3" y1="1588.3" x2="1191.3" y2="1853.7" stroke="#fff" stroke-width="1.8"/>
<line x1="1227.8" y1="1588.3" x2="1227.8" y2="1853.7" stroke="#fff" stroke-width="1.8"/>
<line x1="1241" y1="1588.3" x2="1241" y2="1853.7" stroke="#fff" stroke-width="1.8"/>
<line x1="1262.5" y1="1588.3" x2="1262.5" y2="1853.7" stroke="#fff" stroke-width="1.8"/>
<line x1="1280.6" y1="1588.3" x2="1280.6" y2="1853.7" stroke="#fff" stroke-width="1.8"/>
<line x1="1297.2" y1="1588.3" x2="1297.2" y2="1853.7" stroke="#fff" stroke-width="1.8"/>
<line x1="1318" y1="1588.3" x2="1318" y2="1853.7" stroke="#fff" stroke-width="1.8"/>
<line x1="1330.2" y1="1588.3" x2="1330.2" y2="1853.7" stroke="#fff" stroke-width="1.8"/>
<line x1="1339.6" y1="1588.3" x2="1339.6" y2="1853.7" stroke="#fff" stroke-width="1.8"/>
<line x1="1351" y1="1588.3" x2="1351" y2="1853.7" stroke="#fff" stroke-width="1.8"/>
<line x1="1357.3" y1="1588.3" x2="1357.3" y2="1853.7" stroke="#fff" stroke-width="1.8"/>
<line x1="1365" y1="1588.3" x2="1365" y2="1853.7" stroke="#fff" stroke-width="1.8"/>
<rect x="799.7" y="1587.3" width="589.5" height="267.4" fill="none" stroke="#8C8C8C" stroke-width="1.3"/>
<text x="834.7" y="1875.5" text-anchor="middle">1</text>
<text x="1003.8" y="1875.5" text-anchor="middle">5</text>
<text x="1154.2" y="1875.5" text-anchor="middle">10</text>
<text x="1271.2" y="1875.5" text-anchor="middle">15</text>
<text x="1348.6" y="1875.5" text-anchor="middle">20</text>
<text x="1380.6" y="1875.5" text-anchor="middle">X</text>
<text x="1094.5" y="1897" text-anchor="middle">Chromosome</text>
<text x="819.7" y="1622.3">n = 27,811</text>
<text x="1367.2" y="1622.3" font-size="20.2" text-anchor="end">Rep. 2</text>
<text x="731.7" y="1721" font-size="25.2" text-anchor="middle" font-weight="bold" transform="rotate(-90 731.7 1721)">RNA</text>
<text x="755.4" y="1721" font-size="25.2" text-anchor="middle" font-weight="bold" transform="rotate(-90 755.4 1721)">C-to-U editing (%)</text>
<line x1="1510.6" y1="1843.2" x2="2100.2" y2="1843.2" stroke="#E6E6E6" stroke-width="1.3"/>
<text x="1503.8" y="1850.4" text-anchor="end">0</text>
<line x1="1510.6" y1="1782.2" x2="2100.2" y2="1782.2" stroke="#E6E6E6" stroke-width="1.3"/>
<text x="1503.8" y="1789.5" text-anchor="end">20</text>
<line x1="1510.6" y1="1721.3" x2="2100.2" y2="1721.3" stroke="#E6E6E6" stroke-width="1.3"/>
<text x="1503.8" y="1728.5" text-anchor="end">40</text>
<line x1="1510.6" y1="1660.4" x2="2100.2" y2="1660.4" stroke="#E6E6E6" stroke-width="1.3"/>
<text x="1503.8" y="1667.6" text-anchor="end">60</text>
<line x1="1510.6" y1="1599.4" x2="2100.2" y2="1599.4" stroke="#E6E6E6" stroke-width="1.3"/>
<text x="1503.8" y="1606.6" text-anchor="end">80</text>
<rect x="1511.1" y="1782.6" width="588.6" height="33.5" fill="#EB4F8F"/>
<path transform="scale(0.5)" fill="none" stroke="#EB4F8F" stroke-width="5.8" stroke-linecap="round" d="M3023 3548h0m1-10h0m0 96h0m0-72h0m0 69h0m1 2h0m0-124h0m0 50h0m0 74h0m1-68h0m0-9h0m0 75h0m0-71h0m0 73h0m0-103h0m1 7h0m0 95h0m0-93h0m0 94h0m0 3h0m1-74h0m0-10h0m0 85h0m0-106h0m0 109h0m1-76h0m0 70h0m0-81h0m0 78h0m0-143h0m1 46h0m0 100h0m0-95h0m1-12h0m0 151h0m0-119h0m0 6h0m0-79h0m0 146h0m1-103h0m0-10h0m0 31h0m0 81h0m0 0h0m1-101h0m0 2h0m0 102h0m1-83h0m0 80h0m0-69h0m0-108h0m1 178h0m0-247h0m0 179h0m0-4h0m1 72h0m0-74h0m0 74h0m0-113h0m0 36h0m0-13h0m1-6h0m0 95h0m0 1h0m0 0h0m0-69h0m1-20h0m0 23h0m0 67h0m0 1h0m0-76h0m0 76h0m0-1h0m1-77h0m0 78h0m0 6h0m0-80h0m0-47h0m1 33h0m0 11h0m0-22h0m0 103h0m0-4h0m0 5h0m1-74h0m0-9h0m1-33h0m0 36h0m0-84h0m0 90h0m1 68h0m0-86h0m0 86h0m0-78h0m0 77h0m1-130h0m0 38h0m0 10h0m0 83h0m1-72h0m1-20h0m1 21h0m0-8h0m0-8h0m1-8h0m0 95h0m0-83h0m0 82h0m0-87h0m1-16h0m0-50h0m0 155h0m0-70h0m0 1h0m1 69h0m0 5h0m0-140h0m1 7h0m1-20h0m0 48h0m0 7h0m0 11h0m0 80h0m1-87h0m0 21h0m0-28h0m0-14h0m0 107h0m0-79h0m1 15h0m0 65h0m0 1h0m1 1h0m0-3h0m0 1h0m0 35h0m0-137h0m0 29h0m0 80h0m1-143h0m0 135h0m0-73h0m0 82h0m0-84h0m0 77h0m0 1h0m1-2h0m0-137h0m0 46h0m0-34h0m0 47h0m1-4h0m0-112h0m0 116h0m0-10h0m0 96h0m0-3h0m1-72h0m0-2h0m0 70h0m1 3h0m0-303h0m0 227h0m1 71h0m0 0h0m0-77h0m1 12h0m0-51h0m0 119h0m0-123h0m0 48h0m0 6h0m1-28h0m0 96h0m0-80h0m0 0h0m1-27h0m0 37h0m0-74h0m0 66h0m0 79h0m0 0h0m0-96h0m1 1h0m0 4h0m1 91h0m0-1h0m0-90h0m1-10h0m0 106h0m0-99h0m0 14h0m0 7h0m1-3h0m0-15h0m0 97h0m0-137h0m1 131h0m0-93h0m0-16h0m0-5h0m0-24h0m1 136h0m0-106h0m0 10h0m1 95h0m0-65h0m0-10h0m0-31h0m0 33h0m0 6h0m0 76h0m0-78h0m0 0h0m0 4h0m1-16h0m1 82h0m0-78h0m0 4h0m0-1h0m0 79h0m1-94h0m0 22h0m0 3h0m1-8h0m0-37h0m0 41h0m0 2h0m1 67h0m0-108h0m0 112h0m1-79h0m0-24h0m0-32h0m0 136h0m0-82h0m0-22h0m0 104h0m1-74h0m0-1h0m1 73h0m0-2h0m0-69h0m0-7h0m0-9h0m0 84h0m1-80h0m0-11h0m0-52h0m0 70h0m1-11h0m0 89h0m0-4h0m0 12h0m0-89h0m0 76h0m1-84h0m0-10h0m0 24h0m0-13h0m0-40h0m1 124h0m0-67h0m0-3h0m0-66h0m1 143h0m0-88h0m0 81h0m0-72h0m0 70h0m0 1h0m0 0h0m0-75h0m1-11h0m0 17h0m0-24h0m0 17h0m0-23h0m0 104h0m1-149h0m0 7h0m0 139h0m0-1h0m1-69h0m0 69h0m1 1h0m0-132h0m1 132h0m0 2h0m0-76h0m0-8h0m0 14h0m0-47h0m1 41h0m0-4h0m0 77h0m1-104h0m0 34h0m0 68h0m0 2h0m1-86h0m0-13h0m0 99h0m0-74h0m0-38h0m0 35h0m0 3h0m0 4h0m0-95h0m1 83h0m0 13h0m0 67h0m0 2h0m0-67h0m0 68h0m1-68h0m0-32h0m0 2h0m0 99h0m0-150h0m1 148h0m1-77h0m0 75h0m0-118h0m0 125h0m0-5h0m0 7h0m0-7h0m0-1h0m0-1h0m1-79h0m0 82h0m0-74h0m0 70h0m1-98h0m0 24h0m0 77h0m1 1h0m0-1h0m0-68h0m0-46h0m0 115h0m1-2h0m0-74h0m0-5h0m0 10h0m0 70h0m1-3h0m0-72h0m0-11h0m0 12h0m1 81h0m0-9h0m1-96h0m0 96h0m0 9h0m0-8h0m0 1h0m0 2h0m0-3h0m0-72h0m1 72h0m0-68h0m0 75h0m0-89h0m0-53h0m1 70h0m0-4h0m0 0h0m1 78h0m0-112h0m0 10h0m0 18h0m0 81h0m1-5h0m0-100h0m0 28h0m0 72h0m1-83h0m0 87h0m0-74h0m0 2h0m0 70h0m0-111h0m0 26h0m0 6h0m1 74h0m0-103h0m0 25h0m0-41h0m1 52h0m0-5h0m0-2h0m0-8h0m0 15h0m1-22h0m0 20h0m1 73h0m0-2h0m0-132h0m0 132h0m0-74h0m0 77h0m0-83h0m1 81h0m0-88h0m0-11h0m1 30h0m0-91h0m0 74h0m0 0h0m0 90h0m0-94h0m0 23h0m0 65h0m0-81h0m0-6h0m1 0h0m0 12h0m0 2h0m0 73h0m0-72h0m1 7h0m0 86h0m0-129h0m1 108h0m0 0h0m0-69h0m0-124h0m0 193h0m0-109h0m1 24h0m0 91h0m0-6h0m0-83h0m1-33h0m1 41h0m0-43h0m1 31h0m0 87h0m0-65h0m0-6h0m1-56h0m0 4h0m0 123h0m0 2h0m1-1h0m0 2h0m0 33h0m0-101h0m0 68h0m1-95h0m0-19h0m0 118h0m0-7h0m0-66h0m0 66h0m0-97h0m0 21h0m1 11h0m0 72h0m0-4h0m0-94h0m0 10h0m0-15h0m0-24h0m1 16h0m0 105h0m0-86h0m1 85h0m0-110h0m0 40h0m0-20h0m1 23h0m0 67h0m0 0h0m0 3h0m1 7h0m0-8h0m0-68h0m0-37h0m0-15h0m0 40h0m0 77h0m0-68h0m1-6h0m0-83h0m0 161h0m0-146h0m0 61h0m0-7h0m0-20h0m0 40h0m0 71h0m1-68h0m0 66h0m0-69h0m0 3h0m0 1h0m1-12h0m0 11h0m0-16h0m1 8h0m0 74h0m0 3h0m0-102h0m0 101h0m0-1h0m0 2h0m1-148h0m0 63h0m0 17h0m0 74h0m0-9h0m0 9h0m0-4h0m0-168h0m0 165h0m0-79h0m0 10h0m1-7h0m0 74h0m0-103h0m0 104h0m0-72h0m0-69h0m0 146h0m1-76h0m0-21h0m0 10h0m0-24h0m0-2h0m0 40h0m1 68h0m0-100h0m0-42h0m0 28h0m1 36h0m0 9h0m0-28h0m0 27h0m1 4h0m0-46h0m0 42h0m0-36h0m1 36h0m0 2h0m0 68h0m0-86h0m0 91h0m1-6h0m0-65h0m0-29h0m0 28h0m0-3h0m0-50h0m0 9h0m1 44h0m0-1h0m0-13h0m1 83h0m0-131h0m0 55h0m0 3h0m1 77h0m0-107h0m0 100h0m0-78h0m0-60h0m0 58h0m1 16h0m0 102h0m0-115h0m0-26h0m1 111h0m0-105h0m0 97h0m0 4h0m0-1h0m0-83h0m0 12h0m0 75h0m0 2h0m0-77h0m1-52h0m0 18h0m0 22h0m1-45h0m0 127h0m0-1h0m1 7h0m0-81h0m0 4h0m0 71h0m1-2h0m0-74h0m0-37h0m0 17h0m0 30h0m0 67h0m0-144h0m1 57h0m0 12h0m0 3h0m0-20h0m0-21h0m1 34h0m0-56h0m0 136h0m0 4h0m0-128h0m1 122h0m0-108h0m0 107h0m0 0h0m1-86h0m0 86h0m0-90h0m1-6h0m0-55h0m1 72h0m0 12h0m0-57h0m0 57h0m0-22h0m1 93h0m0-171h0m0 181h0m0-104h0m0 91h0m1 12h0m0-86h0m0 76h0m1-90h0m0-5h0m0 9h0m0 17h0m0 1h0m1-3h0m0-115h0m0 187h0m1-118h0m0 36h0m0 9h0m1 68h0m0-71h0m0-16h0m0 8h0m0 83h0m0-70h0m0-11h0m0 5h0m1-9h0m0 81h0m0-90h0m0 17h0m0-52h0m0 127h0m0-129h0m0 126h0m0-85h0m0 87h0m1-88h0m0-50h0m0 138h0m0 2h0m0-91h0m1 91h0m1-74h0m0-7h0m0-74h0m0 70h0m1 5h0m0 4h0m0 80h0m0-95h0m1 5h0m0 12h0m0 4h0m0-62h0m1 37h0m0 137h0m0-123h0m0 82h0m1-75h0m0 78h0m0-5h0m1 1h0m0-107h0m0-34h0m1 65h0m0-25h0m0 31h0m0-11h0m1 88h0m0-119h0m0-18h0m0 53h0m0 75h0m1-68h0m0-27h0m1 16h0m0 81h0m1-182h0m0 179h0m0-97h0m1 100h0m0 0h0m0-84h0m0-41h0m0 122h0m0-98h0m0 98h0m0-66h0m0-24h0m0 100h0m1-98h0m0 92h0m0 0h0m0-90h0m0 88h0m1 2h0m0-3h0m0 1h0m0 0h0m0-136h0m0 64h0m1 72h0m0-86h0m0 11h0m0 75h0m0-141h0m0 74h0m1-4h0m0-21h0m0 91h0m0 1h0m0-73h0m1 73h0m0-69h0m0-80h0m0 49h0m0 101h0m0-1h0m1 1h0m0-143h0m0 70h0m0 71h0m0-97h0m0 101h0m1-90h0m0 2h0m0 16h0m0 70h0m0-194h0m0 193h0m0-107h0m1 108h0m0-3h0m0 2h0m1-98h0m0 112h0m0-97h0m0 81h0m0 8h0m0-154h0m1 29h0m0 34h0m1 12h0m0-17h0m0-23h0m0 114h0m0-1h0m1-72h0m0-29h0m0 27h0m0 72h0m0-155h0m0 158h0m1-1h0m0-2h0m1 1h0m0-66h0m0 1h0m0-4h0m0-12h0m1 1h0m0 13h0m0 74h0m0-199h0m0 114h0m0 78h0m0-84h0m1 86h0m0-141h0m0-13h0m0-1h0m0 73h0m0 4h0m1-39h0m0 12h0m0 102h0m0-77h0m0 83h0m1-80h0m0 74h0m0-80h0m0 0h0m1-28h0m0 37h0m0 71h0m0-109h0m0-17h0m0-22h0m0 70h0m1-2h0m0-35h0m0 115h0m0 2h0m0-68h0m0-3h0m1 72h0m0-97h0m0 27h0m0-45h0m1-11h0m0 53h0m0 70h0m0-183h0m0 115h0m1-47h0m0 34h0m1 4h0m0-75h0m0 183h0m1-98h0m0-15h0m0-5h0m0 22h0m0-32h0m1 100h0m0-98h0m0 21h0m1-9h0m0 84h0m0-69h0m0-43h0m0 40h0m0 75h0m0-113h0m2 17h0m0 91h0m0 3h0m0 4h0m0 3h0m0-7h0m0-70h0m0-20h0m1-73h0m0 76h0m0 1h0m1-10h0m0 19h0m0-35h0m0 111h0m0 7h0m1-83h0m0 76h0m1-82h0m0-7h0m0-12h0m1 103h0m0-82h0m1-27h0m0 13h0m0 26h0m0 68h0m1-81h0m0 5h0m0 124h0m0-183h0m0 143h0m0-74h0m1 67h0m0-1h0m0-76h0m1 88h0m1-111h0m0 103h0m0-83h0m0-19h0m1 100h0m0-76h0m0 73h0m0 5h0m0-4h0m1-77h0m0 7h0m0-26h0m0 23h0m0 71h0m1-80h0m0-15h0m0 102h0m0-115h0m0-27h0m1 138h0m1 1h0m0-91h0m1-44h0m0 138h0m0-86h0m0-28h0m0 43h0m0-11h0m1 79h0m0-72h0m0 3h0m0-8h0m1 78h0m0 2h0m0-75h0m1 5h0m0 0h0m0-22h0m0-2h0m0 17h0m0 78h0m1-88h0m0 82h0m0 3h0m0-77h0m0-8h0m1-10h0m0 93h0m0-74h0m0-83h0m0 73h0m1-88h0m0 79h0m0-39h0m0 43h0m0-31h0m0 48h0m0-3h0m0 74h0m1-80h0m0 12h0m0-35h0m0 14h0m0 19h0m1 72h0m0-70h0m0-127h0m0 114h0m1-23h0m0 104h0m0 2h0m0-109h0m0 39h0m1 1h0m1 68h0m0-94h0m0 17h0m0-15h0m0 26h0m1-6h0m0-8h0m0-47h0m0 56h0m0-4h0m0-22h0m1-39h0m0 12h0m0 58h0m1-11h0m1 78h0m0-75h0m0-12h0m0 84h0m0-71h0m0-47h0m0 36h0m1 85h0m0-74h0m0-57h0m0 49h0m0 87h0m1-88h0m0 15h0m0 67h0m1 6h0m0-123h0m0 44h0m1-73h0m0 80h0m0-60h0m0 123h0m1-99h0m0 25h0m0 75h0m0-1h0m1 1h0m0 1h0m0-102h0m0 101h0m0-69h0m0-21h0m0 93h0m1-97h0m0 20h0m0 5h0m0-1h0m0 79h0m0-83h0m0-28h0m0 103h0m1-87h0m0 20h0m0-33h0m0 29h0m0-5h0m1-130h0m0 212h0m0 0h0m0-4h0m0-74h0m1 73h0m0-82h0m0 5h0m0-17h0m0 20h0m0 3h0m1 69h0m0-82h0m0 1h0m0 84h0m0-72h0m1-49h0m0 12h0m0 19h0m0 22h0m0 65h0m1-81h0m0 85h0m0-5h0m0-91h0m1 26h0m0-2h0m0-57h0m0 54h0m0-6h0m1-27h0m0 1h0m1-20h0m0-25h0m0 24h0m0 29h0m0 24h0m0-20h0m0 5h0m1 86h0m0-98h0m0 101h0m0-76h0m0-11h0m1 9h0m0 2h0m0 0h0m1-7h0m0-69h0m0 52h0m1 96h0m0 2h0m0 24h0m0-104h0m0 80h0m0-100h0m1 17h0m0 91h0m0-6h0m0-85h0m0 5h0m0-29h0m1 39h0m0 67h0m0-73h0m0-3h0m0 3h0m1 73h0m0-68h0m0-15h0m0-48h0m0 51h0m0 14h0m0 75h0m1-120h0m0 33h0m0-69h0m0 147h0m0-132h0m1 39h0m0 3h0m0 23h0m0 69h0m0-1h0m1-1h0m0 0h0m0-86h0m0 4h0m0 82h0m1-67h0m0-22h0m0 98h0m0-9h0m0-88h0m0 90h0m0-98h0m1 99h0m0-2h0m0-78h0m0-28h0m0 23h0m0 2h0m1 83h0m0-2h0m0 1h0m0-87h0m0-54h0m1 50h0m0-12h0m1 36h0m0-7h0m0 73h0m0-98h0m0-6h0m0 14h0m0-81h0m0 90h0m0 83h0m1-78h0m0-74h0m0 156h0m0-73h0m1 1h0m0-31h0m0 17h0m0-34h0m1 32h0m0 1h0m0-38h0m0 6h0m0-85h0m0 202h0m0 0h0m0-114h0m1 38h0m0-28h0m0 0h0m1-30h0m0 54h0m0-5h0m0 6h0m0 3h0m1 73h0m0 5h0m0-96h0m1 6h0m0-32h0m1 115h0m0-117h0m1-31h0m0 80h0m0-34h0m0-33h0m1 42h0m0 101h0m0 7h0m0-81h0m0 67h0m1-125h0m0 129h0m0-71h0m0-12h0m0-2h0m0 8h0m0 74h0m0-82h0m1 91h0m0-89h0m0-75h0m0 153h0m0-107h0m0 26h0m1-1h0m0 86h0m0-158h0m0 74h0m1 82h0m0-95h0m0 94h0m0 0h0m0 0h0m0-1h0m0-66h0m1-3h0m0-6h0m0 6h0m0 71h0m1-66h0m0 67h0m0 0h0m1-83h0m0 83h0m0-70h0m0 69h0m0-103h0m0 24h0m0 2h0m0-1h0m1-95h0m0 93h0m0 84h0m0-5h0m0-68h0m1-3h0m0 2h0m0 2h0m0 66h0m1-64h0m0 64h0m0-67h0m0 2h0m0 72h0m1-100h0m0 96h0m0-71h0m0-50h0m0 39h0m0 8h0m0 71h0m0-88h0m1 10h0m0 11h0m0-23h0m0 15h0m0 77h0m0 1h0m0-2h0m1 3h0m0-116h0m0-21h0m0 134h0m0 1h0m0-67h0m1-17h0m0 82h0m0-69h0m0-4h0m0-3h0m0 76h0m0-98h0m1 8h0m0 24h0m0-79h0m1 78h0m0-43h0m0 20h0m1 25h0m0 74h0m0 0h0m0-153h0m0 146h0m0-90h0m0 14h0m0 1h0m1 76h0m0-70h0m0 68h0m0-114h0m1 42h0m0-1h0m0-3h0m1 0h0m0 1h0m0 82h0m0-2h0m0-85h0m0 79h0m1 3h0m0-84h0m0 6h0m0 8h0m0 68h0m0-77h0m1 6h0m1-80h0m0 71h0m1 87h0m0-126h0m1 119h0m0 2h0m0-73h0m0-11h0m1-5h0m0-78h0m0 166h0m1-76h0m0 76h0m0-80h0m0 81h0m1-1h0m0-86h0m0-22h0m0-15h0m0 50h0m0 78h0m1-72h0m0-12h0m0 80h0m0-68h0m0-26h0m0 92h0m1-85h0m0-27h0m1 28h0m0-56h0m1 139h0m0 1h0m0-2h0m0 10h0m0-164h0m1 157h0m0-110h0m0-5h0m0 117h0m1-73h0m0-39h0m1-4h0m0 45h0m0-28h0m1 98h0m0-71h0m0-67h0m0 45h0m0 93h0m0 4h0m0-4h0m1-90h0m0 11h0m0 10h0m0-49h0m1 44h0m0-8h0m0-27h0m0 115h0m0 13h0m1-20h0m0-1h0m0 1h0m0-88h0m1-20h0m0 6h0m0 103h0m0-2h0m1-134h0m0 136h0m0 0h0m0-70h0m1-4h0m0-4h0m0-120h0m0 115h0m0 81h0m0-70h0m1-3h0m0-78h0m0 69h0m1-1h0m0 9h0m1 2h0m0-70h0m0 141h0m0 3h0m0-4h0m0-124h0m1 46h0m0 14h0m0 0h0m0-19h0m0-59h0m1 145h0m0-68h0m0-10h0m0 78h0m0-2h0m0-78h0m0 11h0m0 0h0m0 68h0m0-74h0m1 74h0m0-74h0m0-37h0m0 111h0m1-67h0m0 66h0m0-108h0m0 115h0m0-103h0m1 26h0m0 2h0m0 2h0m0-19h0m0 87h0m1 2h0m0-110h0m0 38h0m0-7h0m0-7h0m0-11h0m0-49h0m0 49h0m0 24h0m0 71h0m0-71h0m1 72h0m0-74h0m0 73h0m0-93h0m0 1h0m0 91h0m0 1h0m0-100h0m0-2h0m1 3h0m0 98h0m0 22h0m0-96h0m0 3h0m0 73h0m1-77h0m0-14h0m0-63h0m0 79h0m1 72h0m0-81h0m0 82h0m0-67h0m0-7h0m0 7h0m0-24h0m0-38h0m0 57h0m0 74h0m1-95h0m0-1h0m0 15h0m0 11h0m0-8h0m1 3h0m0-9h0m0-2h0m0 91h0m0-9h0m1-78h0m0 12h0m0-1h0m0-29h0m0 31h0m1-43h0m0 24h0m0 90h0m0-92h0m0 8h0m1-47h0m0 133h0m0-117h0m0 111h0m0 0h0m1 9h0m0-10h0m0 1h0m0-70h0m0-5h0m0-23h0m0 17h0m0 80h0m1 2h0m0-132h0m0 24h0m0 37h0m1-3h0m0 74h0m0-147h0m1 75h0m0-7h0m0 86h0m0-9h0m0 3h0m0-73h0m0 72h0m1 2h0m0-2h0m0-85h0m1 19h0m0 70h0m0-128h0m0 48h0m1-23h0m0-6h0m0 110h0m0-6h0m1-96h0m0 25h0m0 71h0m0-87h0m0-1h0m1-35h0m0 28h0m0 18h0m0 2h0m0 74h0m1-91h0m0 0h0m0 92h0m0-70h0m0 71h0m1-2h0m0-80h0m0-18h0m0 33h0m0-16h0m0 84h0m1-73h0m0 74h0m0-79h0m0 4h0m1-5h0m0-7h0m0 86h0m0-3h0m0-71h0m1 4h0m0 69h0m0 3h0m0-74h0m0-23h0m0 92h0m1-91h0m1 25h0m0 0h0m0 68h0m0-142h0m0 70h0m0-100h0m0 170h0m1 0h0m0-1h0m0-71h0m0-44h0m0 117h0m0 0h0m0-174h0m0 176h0m1-126h0m0 50h0m0-16h0m0-12h0m0 104h0m1-80h0m0 77h0m0 9h0m0-7h0m0-67h0m0 67h0m0-2h0m0-75h0m1-8h0m0 17h0m0-136h0m0 205h0m1-70h0m0-2h0m0 69h0m0-90h0m0 92h0m1-103h0m0 23h0m1 9h0m0 70h0m0-80h0m0-4h0m1 2h0m0-2h0m1 84h0m1-68h0m1-45h0m0-44h0m0 157h0m0-91h0m0-2h0m0 97h0m1-86h0m0 82h0m0-71h0m1 69h0m0-63h0m0-17h0m1-30h0m0 41h0m0 0h0m0 80h0m0-2h0m0-111h0m0 13h0m1-22h0m0 44h0m0-10h0m0 79h0m0-68h0m0 66h0m1-73h0m0 5h0m0 73h0m0-73h0m1 73h0m0-3h0m0-103h0m0 115h0m0-171h0m0 90h0m1 71h0m0-71h0m0-33h0m0 26h0m0 79h0m0-75h0m1-7h0m0-123h0m0 136h0m0-7h0m0-36h0m0 109h0m1-92h0m0 92h0m0 0h0m0 0h0m0 1h0m0 1h0m1-72h0m0 70h0m0-79h0m0 2h0m1 1h0m0 82h0m0-77h0m0 78h0m0-75h0m0-55h0m1 125h0m1-86h0m0 84h0m0-93h0m1 96h0m0-73h0m0-57h0m0 140h0m0-14h0m0 0h0m1 1h0m0-68h0m0-11h0m0-67h0m1 51h0m0 94h0m0-93h0m0-59h0m0 82h0m1-4h0m0-21h0m0-8h0m1 34h0m0-15h0m0 18h0m0-12h0m0 3h0m1-30h0m0-18h0m0 51h0m0-4h0m1 11h0m0-58h0m0 55h0m0-8h0m1-6h0m0 85h0m0-1h0m0 52h0m1-134h0m0 8h0m0 78h0m0-96h0m0-83h0m1 79h0m0-34h0m0 63h0m0 67h0m0-70h0m0-34h0m0 27h0m0 78h0m0 2h0m0-112h0m1 34h0m0-20h0m0-36h0m1 60h0m0 5h0m0-5h0m1 3h0m0-18h0m1 9h0m0 78h0m0-108h0m0 10h0m0 3h0m1-72h0m1 92h0m0-5h0m0-44h0m0 32h0m0 14h0m0 76h0m0-70h0m0-2h0m1-10h0m0 81h0m0-94h0m0-11h0m0 38h0m0 68h0m1-71h0m0 0h0m0 71h0m1-118h0m0 44h0m0 73h0m1-120h0m0 51h0m0-35h0m0 16h0m0 13h0m1 9h0m0-14h0m0 82h0m0-80h0m0 81h0m0-77h0m1 79h0m0-176h0m0 172h0m0-1h0m0-102h0m0-32h0m0 65h0m0 0h0m1 75h0m0-100h0m0 25h0m0 4h0m1-2h0m0 67h0m0-80h0m1 83h0m0-70h0m0-4h0m0-2h0m0-7h0m0 81h0m0 1h0m0-78h0m0-5h0m0 83h0m0-149h0m1 81h0m0-2h0m1 70h0m0-72h0m0-5h0m0 7h0m0-8h0m1-13h0m0 12h0m0-41h0m0 121h0m0-122h0m0 54h0m1 66h0m0-67h0m0 1h0m1 67h0m0 3h0m0-4h0m0-119h0m0 121h0m0-72h0m1-55h0m0 51h0m0-89h0m1 94h0m0 0h0m0-1h0m0-31h0m0 31h0m0-8h0m1 82h0m0-3h0m0-67h0m0-18h0m0 17h0m0-4h0m0-19h0m0-29h0m1 42h0m0 76h0m0-64h0m0 66h0m0-131h0m0 39h0m1 89h0m0-105h0m0 107h0m0-65h0m1 66h0m0-86h0m0 0h0m0-32h0m0 17h0m1 28h0m0 71h0m0 3h0m0 0h0m1-73h0m0-43h0m0 114h0m0-82h0m0 90h0m0-85h0m1 75h0m0-91h0m0 93h0m0 9h0m0-9h0m0-78h0m0 5h0m1-58h0m0 130h0m0-138h0m0 28h0m0 124h0m1-129h0m0 50h0m0-135h0m0 134h0m0-1h0m1-22h0m0-8h0m0 18h0m0 11h0m0 0h0m0-8h0m0 9h0m1-31h0m0 100h0m0-68h0m0 2h0m0 65h0m0-96h0m1-41h0m0 59h0m1 9h0m0 1h0m0-1h0m0-2h0m1 5h0m0-1h0m0-23h0m0-5h0m0 1h0m0 6h0m0 90h0m0-1h0m1-94h0m1 25h0m0 74h0m0-72h0m0-3h0m0 68h0m0-76h0m1 80h0m0-76h0m0-15h0m0 91h0m0-74h0m1-31h0m0 25h0m0 85h0m0-102h0m0 25h0m1-18h0m0 87h0m0 5h0m1-2h0m0 2h0m0-72h0m1 72h0m0-72h0m0-4h0m0 72h0m0-115h0m1 48h0m0-7h0m1-21h0m0-10h0m2 37h0m0-14h0m0 88h0m0-110h0m1 14h0m0 91h0m0 0h0m1-103h0m0 30h0m0 70h0m0 1h0m0-68h0m0-1h0m0 71h0m0-102h0m1 12h0m0 88h0m0 8h0m0-4h0m1-4h0m0-69h0m0 2h0m0 0h0m0-13h0m0-2h0m0 9h0m0-11h0m1-99h0m1 90h0m0 0h0m0 0h0m0 9h0m0-1h0m0-8h0m1 100h0m0-84h0m0-3h0m0-40h0m0 52h0m1 1h0m0 68h0m0-2h0m0-112h0m0 114h0m0 0h0m0-83h0m0-3h0m1-26h0m0 112h0m0-3h0m0 14h0m0-84h0m1-2h0m0 82h0m0-75h0m1 75h0m1-88h0m0-24h0m0 36h0m0 66h0m0-66h0m1-1h0m0 1h0m0 68h0m0-71h0m0-5h0m1 76h0m0-92h0m0 94h0m0 1h0m0-3h0m0-128h0m1 41h0m0-43h0m0 61h0m0-10h0m1-12h0m0 18h0m0 75h0m0-100h0m0 22h0m0-8h0m1 18h0m0 71h0m0-73h0m1-15h0m0 83h0m0-100h0m0 28h0m1 3h0m0-5h0m0-1h0m1 75h0m0-1h0m0-142h0m0 142h0m0 2h0m0 1h0m0-81h0m1 3h0m0 7h0m0 71h0m0-82h0m0-33h0m0 112h0m0 1h0m1-81h0m0 5h0m0 81h0m0-87h0m0 4h0m0-17h0m1 9h0m0 86h0m0 0h0m0-97h0m0-75h0m0 76h0m1 9h0m0 98h0m0-80h0m0-8h0m0-5h0m1 85h0m0-3h0m1-2h0m1-80h0m0-8h0m0 10h0m1-32h0m0 117h0m0 0h0m0-5h0m0-111h0m0 112h0m0-75h0m0-31h0m0 8h0m1 98h0m0-102h0m0 33h0m0-4h0m0-22h0m0 25h0m0-59h0m1 130h0m0-96h0m0 95h0m0-76h0m0-9h0m1 11h0m1 74h0m0-70h0m0-18h0m0 88h0m1-1h0m0 0h0m0-101h0m0 35h0m0-7h0m0 82h0m1-81h0m0-13h0m0-11h0m0 29h0m0-2h0m1 68h0m0-71h0m0 2h0m0 69h0m0-67h0m0 74h0m0-7h0m0-136h0m1 72h0m0-10h0m1 77h0m0-120h0m1-86h0m0 105h0m0 8h0m1 2h0m0 92h0m0-70h0m0-13h0m0 10h0m1 2h0m1 71h0m0-81h0m0 8h0m0 72h0m0-78h0m0 83h0m1-101h0m0 100h0m0-71h0m1-4h0m0 69h0m0 1h0m0-73h0m1 3h0m1 69h0m0-104h0m0 105h0m0 1h0m0-1h0m0 1h0m0-3h0m1 7h0m0-82h0m0-1h0m0-20h0m0 96h0m1 2h0m0-2h0m0 2h0m0-2h0m0-143h0m1 76h0m0-1h0m0 68h0m0-84h0m0 4h0m0 11h0m0 4h0m1 66h0m0 11h0m0-9h0m1-74h0m0 6h0m0 68h0m0-2h0m0-66h0m1-2h0m0-11h0m0 6h0m1-4h0m0 79h0m1-1h0m0-68h0m0-14h0m1 80h0m0-66h0m0-8h0m0-2h0m0 75h0m0-64h0m0-5h0m0-28h0m0 103h0m1-4h0m0-91h0m0 96h0m0-4h0m0 0h0m0 0h0m1-82h0m0 0h0m0-67h0m0 68h0m0-11h0m0 93h0m1-76h0m0-15h0m0 91h0m0 0h0m0-68h0m0-48h0m0 49h0m0-26h0m1 19h0m0-10h0m0-21h0m1 14h0m0 15h0m0-7h0m0-4h0m0-9h0m1-97h0m0 192h0m0-1h0m0 3h0m0-94h0m1 24h0m0-51h0m0 121h0m1-83h0m1 79h0m0 4h0m0-101h0m1 11h0m1 8h0m0 80h0m0 6h0m0-139h0m0 66h0m0 68h0m0-87h0m0 17h0m1 68h0m0-101h0m0 20h0m0 82h0m1-2h0m0-89h0m0 5h0m0-4h0m1 1h0m0 11h0m0 85h0m0-141h0m0 134h0m0-2h0m0-65h0m0 67h0m0 1h0m1-84h0m0 10h0m1-7h0m0 13h0m0-8h0m0-15h0m0 18h0m0 6h0m1-9h0m0-15h0m0 13h0m0 78h0m0-2h0m1-70h0m0 1h0m1-28h0m0 101h0m0-100h0m0 21h0m1 4h0m0 2h0m0-28h0m0 149h0m0-136h0m0 19h0m0 66h0m1-79h0m0 78h0m0-74h0m0-26h0m0 31h0m0-1h0m0-60h0m0 65h0m0 70h0m1-145h0m0 140h0m0-95h0m1 12h0m1-67h0m0 154h0m0-85h0m0 14h0m1-2h0m0 2h0m0-12h0m0-86h0m0 21h0m1 150h0m0-77h0m0 71h0m0-107h0m0-16h0m1 56h0m0 66h0m0-78h0m0 83h0m1 3h0m0-78h0m1 71h0m0-1h0m1-107h0m0 111h0m0 4h0m0-8h0m0 3h0m0-122h0m1 122h0m0-73h0m1 72h0m0 6h0m0 0h0m0-92h0m1-33h0m0-1h0m1 54h0m0-2h0m0-4h0m0-54h0m0 28h0m0 96h0m1-71h0m0 78h0m0-4h0m1-87h0m0 87h0m0-71h0m0-34h0m0 7h0m1-45h0m0 143h0m0-3h0m0-66h0m1-6h0m0-32h0m0 0h0m0-20h0m0 50h0m0 10h0m0-21h0m0-5h0m0 25h0m1-89h0m0 61h0m0 27h0m0 70h0m0-97h0m0-14h0m0 33h0m1 5h0m0-25h0m0-11h0m1-16h0m0 22h0m0 15h0m0 4h0m0 83h0m0-134h0m0 66h0m0-82h0m1 7h0m0-31h0m0 51h0m1-4h0m0 126h0m0-148h0m0 154h0m0-142h0m1 49h0m0 17h0m0-24h0m0 9h0m0-28h0m0 40h0m1 4h0m0 72h0m0 0h0m0-106h0m0 35h0m1 66h0m0-78h0m0 9h0m0 72h0m1-1h0m0-70h0m1-110h0m0 178h0m0-66h0m0-19h0m0 11h0m0 77h0m1-96h0m0 21h0m0 3h0m0 78h0m0-95h0m0 96h0m0-104h0m1 6h0m0-8h0m0 25h0m0 74h0m0-77h0m1 0h0m0 10h0m0 66h0m0-98h0m0 0h0m1 15h0m0 7h0m0-113h0m0 193h0m0-87h0m0-48h0m0 36h0m0 15h0m1-45h0m1 125h0m0-110h0m0-17h0m0 53h0m0 74h0m0 1h0m0-109h0m0 14h0m1 93h0m0 7h0m0-83h0m1 5h0m0 72h0m0-73h0m0-34h0m0 18h0m0-38h0m1-42h0m0 74h0m0 28h0m0 72h0m0-86h0m1 81h0m0-66h0m0-12h0m0-5h0m0 15h0m0 1h0m0 66h0m1 1h0m0-92h0m0 21h0m0 68h0m0-152h0m0 155h0m0-148h0m0 47h0m0 101h0m0-78h0m0 81h0m0-74h0m1 3h0m0-4h0m0-4h0m1 5h0m0-9h0m0-34h0m1-19h0m0 133h0m0-159h0m0 89h0m0 76h0m0-4h0m1-80h0m0-12h0m0-18h0m0 0h0m0 107h0m0-78h0m1 78h0m0-83h0m0 89h0m0-87h0m0-1h0m0 88h0m0-76h0m1 72h0m0-69h0m0-9h0m1 75h0m0 9h0m1-102h0m0 28h0m0-25h0m0 93h0m0-82h0m1-5h0m0 88h0m0-4h0m0-69h0m0-5h0m0 6h0m1 72h0m0-90h0m1 87h0m0-105h0m0 31h0m0-4h0m0 77h0m0-69h0m1-10h0m0 82h0m0-83h0m0-16h0m0 17h0m1 15h0m0-6h0m0-73h0m0 41h0m0 30h0m0 73h0m1-78h0m0 12h0m0 66h0m0 1h0m0-67h0m0-23h0m1 88h0m0-80h0m0 6h0m1 75h0m0 8h0m0-8h0m0 1h0m0-119h0m0 120h0m0-123h0m0 121h0m1 1h0m0-111h0m0-5h0m0 120h0m0-6h0m0-112h0m0 32h0m1 81h0m0-73h0m0 81h0m0-100h0m0-75h0m0-10h0m0 178h0m1-82h0m0 14h0m0-14h0m0-10h0m1 21h0m1-2h0m0 73h0m0-93h0m0 22h0m0-70h0m1 27h0m0 113h0m1-72h0m0-10h0m0 91h0m0-7h0m1-71h0m0 74h0m0-81h0m0 75h0m1-117h0m0 37h0m1 0h0m0-50h0m0 23h0m0 111h0m0-93h0m0 24h0m1-24h0m0-53h0m0 70h0m0 75h0m0-74h0m0 74h0m1-72h0m0-3h0m0-5h0m0-11h0m1 19h0m0 1h0m0 0h0m1-11h0m0 80h0m0-86h0m0 91h0m0-122h0m0 119h0m0 6h0m0-77h0m1-89h0m0 157h0m0-135h0m0 50h0m0 7h0m0-17h0m0 22h0m0 81h0m1-100h0m1 93h0m0 0h0m0-66h0m0-7h0m1 71h0m0-115h0m0 37h0m1-10h0m0 91h0m0 2h0m0-69h0m1-77h0m0 70h0m0 4h0m0 2h0m0-6h0m0-20h0m0 26h0m0-1h0m1-5h0m0-8h0m0 86h0m0-71h0m0 67h0m0-3h0m1 2h0m0 2h0m0-127h0m0 127h0m0 3h0m0-7h0m1 4h0m0-124h0m0 130h0m0-75h0m0 71h0m1 10h0m0-103h0m0 95h0m0 0h0m0-7h0m1-67h0m0-14h0m0 84h0m0-80h0m0-14h0m0 97h0m0-3h0m1 6h0m0-98h0m0 91h0m1-117h0m0 121h0m0-107h0m1 102h0m0-70h0m0 4h0m0-3h0m0 68h0m0-66h0m0-22h0m0 87h0m0 4h0m0-71h0m1 76h0m0-5h0m0-78h0m0 79h0m1-72h0m0 0h0m0-17h0m1 88h0m0-81h0m1 80h0m0-113h0m0 25h0m0 1h0m0 17h0m0-5h0m0 2h0m0 3h0m0 3h0m1-45h0m0 43h0m0-13h0m0 82h0m1 0h0m0 0h0m0-92h0m1 6h0m0-27h0m0-10h0m1-21h0m0 142h0m0-116h0m0 120h0m0-3h0m0-66h0m1-7h0m0 72h0m0-84h0m0 84h0m1 1h0m1-70h0m0-1h0m0-17h0m0-8h0m1-50h0m0 69h0m0 78h0m0-72h0m0 78h0m1-7h0m0-88h0m0-2h0m0 89h0m0-82h0m1 85h0m0 4h0m0-74h0m0 67h0m0 2h0m0-1h0m1-1h0m0-93h0m0 28h0m1 64h0m0 3h0m0-74h0m0 79h0m0-79h0m0 71h0m1-144h0m0 147h0m0-94h0m0 92h0m0 3h0m1-159h0m0 57h0m0 99h0m0-80h0m0 4h0m0 76h0m0-67h0m1-16h0m1 89h0m0-6h0m0 2h0m1-71h0m0-20h0m0 97h0m0-6h0m0-104h0m1 20h0m0-2h0m0-32h0m0 3h0m0 19h0m0 94h0m0-87h0m1-48h0m0 36h0m0 18h0m1 82h0m0 1h0m0-68h0m0-1h0m0 75h0m1-77h0m0-1h0m0 0h0m0 75h0m0-129h0m0 55h0m1-25h0m0 25h0m0 72h0m0-110h0m1 11h0m1 19h0m0 83h0m0-5h0m0 1h0m1 13h0m0-126h0m1 112h0m0 1h0m0 1h0m1-108h0m0-7h0m0-11h0m1 56h0m0-60h0m0 45h0m0-6h0m0 88h0m0-97h0m0-65h0m0 97h0m0-20h0m1 87h0m0 19h0m0-97h0m0-31h0m0 110h0m0-93h0m0 91h0m0-306h0m0 230h0m0-33h0m1-5h0m0-1h0m0 43h0m0-10h0m0 12h0m1 72h0m0-73h0m0 71h0m0-2h0m1 4h0m0-76h0m0-48h0m0 128h0m0-107h0m1 28h0m0 74h0m0-85h0m0 86h0m0-98h0m1 17h0m0 7h0m0-18h0m0-11h0m0 19h0m1 81h0m0-77h0m0-1h0m0 2h0m1-51h0m0-8h0m0 27h0m0-11h0m0-10h0m1 50h0m0 85h0m0-131h0m0 48h0m0 76h0m1-98h0m0-69h0m0 169h0m0-134h0m0-13h0m1 72h0m0-19h0m0 13h0m0-10h0m0-20h0m0 39h0m0-2h0m1-10h0m0 11h0m0 77h0m0-126h0m0 27h0m0 96h0m1-99h0m0 21h0m0 8h0m0 0h0m0 1h0m1-8h0m0 78h0m0-2h0m0 1h0m0 3h0m0-4h0m1-67h0m0-10h0m0 75h0m1 2h0m0-93h0m0 23h0m0 1h0m0-13h0m0 83h0m1-123h0m0 45h0m0 10h0m0-86h0m0 67h0m1-2h0m0 92h0m0-69h0m0-3h0m0 0h0m0 71h0m1-125h0m0 47h0m0-43h0m0 121h0m0-72h0m0-143h0m1 138h0m0 73h0m0-69h0m0-27h0m1-40h0m0 137h0m0 2h0m0 0h0m0-3h0m1-79h0m0 6h0m0 81h0m1-91h0m0 87h0m0-112h0m1-9h0m0 120h0m1-109h0m0 41h0m0-7h0m0 4h0m1-8h0m0 76h0m1 2h0m0-1h0m0-74h0m0 83h0m0-107h0m0 100h0m0-3h0m1-87h0m0 16h0m0 73h0m0-99h0m0-1h0m0 3h0m1 27h0m0-16h0m0-71h0m0 155h0m0-91h0m1 93h0m0-71h0m0 72h0m0-69h0m0-2h0m0-45h0m0 134h0m1-131h0m0 112h0m0 0h0m1-73h0m0-50h0m0 41h0m1 80h0m0-78h0m0 79h0m0-84h0m1-12h0m0 98h0m0 2h0m0-82h0m0 6h0m0 74h0m0-3h0m1 1h0m0-98h0m0 18h0m0-19h0m0 14h0m1 10h0m0-7h0m0 14h0m0-5h0m0-17h0m0-5h0m1-60h0m1 156h0m0-88h0m0 12h0m0 2h0m1-39h0m0 113h0m0 42h0m0-119h0m0-17h0m1-61h0m0 154h0m0 3h0m0-83h0m0 0h0m0-6h0m1 16h0m0 70h0m0-66h0m0-13h0m0-48h0m1 41h0m0-31h0m0 49h0m1 68h0m0-90h0m0 12h0m1-33h0m0 113h0m0-71h0m0 71h0m0 1h0m0-89h0m0 87h0m0-71h0m1-12h0m0-1h0m0 83h0m0 0h0m0-73h0m1-7h0m0 11h0m0 1h0m0-3h0m0-13h0m1 86h0m0-142h0m0 68h0m0 74h0m0-67h0m1 73h0m0-88h0m0 8h0m0 3h0m1-27h0m0-26h0m0 48h0m0-52h0m0 128h0m0-134h0m1 54h0m0 86h0m1-102h0m0 94h0m0-70h0m0 89h0m1-95h0m0-75h0m1 78h0m0-15h0m0 91h0m0-72h0m0 69h0m0-85h0m0 89h0m0-98h0m0 21h0m1-2h0m0 3h0m0-34h0m0 110h0m0-167h0m0 203h0m1-111h0m0 78h0m0-76h0m1-3h0m0-26h0m0-29h0m0 126h0m0 3h0m0-94h0m0-7h0m1 99h0m0-70h0m0 76h0m0-96h0m0 94h0m0-75h0m0 70h0m1-115h0m0 34h0m0 8h0m0 6h0m1 0h0m0-27h0m0 97h0m0-95h0m0 116h0m0-131h0m0 113h0m0-94h0m0-41h0m1 62h0m0-2h0m1-79h0m0 69h0m0 80h0m0-67h0m0-9h0m0-5h0m0 84h0m0-70h0m0-18h0m1 85h0m0-140h0m0 73h0m0 66h0m0-87h0m1 89h0m0-75h0m0 4h0m0-45h0m1 7h0m0-13h0m0 30h0m0 21h0m1-8h0m0 77h0m0-67h0m1-32h0m0 34h0m0-8h0m0-8h0m0 81h0m0-84h0m1 16h0m0-17h0m0 2h0m0 11h0m0-17h0m0 89h0m0-90h0m1 7h0m0 99h0m2-118h0m0 105h0m0-95h0m0 23h0m0 70h0m0-79h0m1-28h0m0 9h0m0 11h0m0 89h0m0-71h0m0-153h0m1 82h0m0 73h0m0 65h0m0 1h0m0 3h0m0-93h0m0 8h0m0 13h0m1-7h0m0-5h0m1-29h0m0 42h0m0-12h0m0 82h0m0 6h0m1-95h0m1 92h0m0-2h0m0 5h0m0-168h0m0 90h0m0-38h0m1 40h0m0-19h0m0 1h0m0-3h0m0 4h0m1 20h0m0 0h0m1-12h0m0 84h0m0-86h0m0-14h0m0 93h0m0-88h0m0 92h0m0-79h0m1 78h0m0 0h0m0-70h0m0-8h0m0-64h0m0 141h0m0-2h0m1-83h0m0 92h0m0-7h0m0-82h0m0 81h0m1-78h0m0 79h0m0 1h0m1-2h0m0 2h0m0 4h0m0 8h0m0-15h0m1-65h0m0-9h0m0 7h0m0 71h0m0-99h0m1 28h0m0-33h0m0 105h0m0-72h0m1-54h0m0 121h0m0-121h0m0 122h0m1-84h0m0 83h0m0-93h0m0 9h0m1 86h0m0 0h0m0 6h0m0-7h0m1-78h0m0 79h0m0-66h0m0-12h0m0 0h0m0 79h0m1-1h0m0 7h0m0-82h0m0 74h0m0-92h0m0 25h0m1 65h0m0-175h0m0 59h0m0 28h0m1 1h0m0-53h0m0 63h0m1 3h0m0 10h0m0-3h0m0-26h0m0 93h0m1 1h0m0-72h0m1-5h0m0 80h0m0-70h0m0 73h0m0-79h0m1 6h0m0 70h0m0-73h0m0 77h0m0-6h0m0-71h0m0 73h0m2-105h0m0 106h0m0-72h0m0 70h0m0 24h0m0-26h0m1 3h0m0 10h0m0-81h0m1 84h0m0-100h0m0 9h0m1-21h0m0 95h0m0 9h0m0-7h0m1 20h0m0-111h0m0 97h0m0-7h0m0 5h0m1-73h0m0-61h0m0 65h0m0-25h0m0 19h0m0 6h0m0-43h0m1 37h0m0-136h0m0 212h0m0-3h0m0-2h0m1-87h0m1-16h0m0 35h0m0 72h0m1-134h0m0 61h0m0 70h0m0-98h0m0-31h0m1 25h0m0 34h0m1-64h0m0 39h0m0 23h0m0-4h0m0 77h0m0-68h0m1-96h0m0 60h0m0-3h0m1-18h0m0 58h0m0 67h0m0-75h0m1-17h0m1-13h0m0 116h0m0-83h0m0 70h0m1-70h0m0 1h0m0 76h0m1-161h0m0 158h0m0-3h0m0 0h0m1-103h0m0 24h0m0 83h0m0-80h0m1-66h0m0 62h0m0 78h0m0-71h0m1-6h0m0-4h0m0 84h0m1-90h0m0 5h0m0-2h0m0 93h0m1-102h0m1 21h0m0 1h0m0-31h0m0 35h0m0-39h0m0 36h0m1 71h0m0-1h0m0 9h0m1-79h0m0-43h0m1 119h0m0-95h0m0 92h0m0-90h0m0 21h0m0-4h0m0-15h0m1-27h0m0 46h0m0 73h0m1-90h0m0 85h0m0-69h0m0 3h0m0-3h0m1-28h0m0 27h0m0 1h0m1 68h0m0-75h0m0-7h0m0-1h0m1-68h0m0 62h0m0 22h0m0-53h0m0 51h0m0 69h0m1-89h0m0 91h0m0-73h0m0 73h0m0-74h0m0-12h0m1 16h0m0-7h0m0 75h0m1-105h0m0-44h0m0 150h0m0-82h0m0 12h0m0 2h0m0-9h0m0 9h0m0-25h0m0 100h0m1-145h0m0 142h0m0-74h0m0 69h0m1 4h0m0-75h0m0 6h0m0 67h0m0-75h0m0 2h0m0-32h0m1 35h0m0-30h0m1 24h0m0-109h0m0 183h0m0 3h0m1 4h0m0-7h0m0-102h0m0 32h0m0-72h0m0 66h0m0 77h0m1-68h0m0 67h0m0-70h0m0-1h0m0 3h0m0-28h0m0 96h0m1 3h0m0-4h0m0-118h0m0 123h0m1-6h0m0-65h0m0-38h0m0 30h0m1 73h0m0-126h0m0 19h0m1 30h0m0-8h0m0-10h0m0 97h0m1-2h0m0-69h0m0-9h0m1 8h0m0-4h0m0 76h0m1-1h0m0-121h0m0 53h0m1-20h0m0 90h0m0-80h0m0 11h0m0 2h0m0-3h0m0-45h0m1 45h0m0 71h0m0-102h0m1 21h0m0 87h0m0-111h0m0 111h0m0-84h0m0-18h0m1 28h0m0 73h0m0-4h0m0-79h0m0 9h0m0 69h0m0-77h0m1 10h0m0 64h0m0 2h0m0-67h0m1 65h0m0 7h0m0-74h0m0 101h0m0-100h0m1-6h0m0-28h0m0 99h0m0 4h0m0-68h0m1-7h0m0-49h0m0-12h0m0 48h0m0-37h0m0 33h0m1 97h0m0-112h0m1 104h0m0-93h0m0 17h0m1 85h0m0-98h0m0 11h0m0-3h0m0 84h0m0-69h0m1-15h0m0-32h0m1 20h0m0-44h0m0 45h0m0 14h0m0 5h0m0 73h0m0 3h0m1-74h0m0-12h0m0 85h0m0-96h0m1-84h0m0 179h0m1-73h0m0 76h0m0-114h0m0 15h0m0 27h0m1-5h0m0 0h0m0 74h0m0-93h0m0 26h0m0 66h0m0-64h0m0-46h0m0 40h0m1 78h0m0-82h0m0 76h0m1-2h0m0-92h0m0 24h0m0 76h0m0-2h0m1-5h0m0-65h0m0-123h0m0 91h0m1 101h0m0-2h0m0-171h0m0 64h0m0 35h0m0 4h0m0 70h0m1 1h0m0-86h0m0 90h0m0-110h0m1 9h0m0 4h0m0-36h0m1 126h0m0 37h0m0-133h0m0 101h0m0-162h0m0 82h0m0 75h0m1-1h0m0-111h0m0 0h0m0-26h0m1 18h0m0 48h0m0-4h0m0 73h0m0 0h0m0-70h0m1-67h0m0 140h0m0-96h0m0 21h0m0 7h0m0-2h0m0-8h0m0-107h0m0 184h0m1-142h0m0 144h0m0-1h0m0-2h0m0-84h0m0 85h0m0 1h0m0-84h0m0 84h0m1-79h0m0 80h0m0-111h0m0 21h0m0 89h0m1-94h0m0 16h0m0-82h0m0 156h0m1 4h0m1-2h0m1 1h0m0-80h0m0-87h0m1 95h0m0-1h0m0 4h0m0-40h0m1 9h0m0 17h0m0-62h0m0 76h0m0-40h0m0 0h0m0-28h0m0-40h0m0 106h0m0-4h0m1-83h0m0 85h0m0-34h0m1 38h0m0 71h0m0-2h0m0-103h0m0 106h0m0-114h0m1 43h0m0-10h0m0 7h0m0 72h0m0-1h0m0-72h0m0-29h0m0 8h0m1 94h0m0 6h0m0 7h0m0-80h0m0-15h0m0-8h0m0 89h0m0-105h0m1 37h0m0 69h0m0-2h0m1-103h0m0 34h0m0-17h0m0-9h0m0 12h0m0 7h0m1-45h0m0 120h0m1-134h0m0 46h0m1 94h0m0-2h0m0-109h0m0 38h0m1 70h0m0-88h0m0 87h0m0-78h0m0 77h0m0-90h0m0 89h0m1-69h0m0 72h0m0-1h0m0-132h0m1 30h0m0 28h0m0 73h0m0 2h0m0-90h0m0 87h0m1-73h0m0-4h0m0-51h0m0-15h0m0 67h0m1 8h0m0 0h0m0 0h0m1 80h0m0-83h0m1 71h0m0 2h0m0-189h0m0 99h0m0 24h0m0-45h0m0 15h0m1 17h0m0 79h0m0-69h0m0-12h0m0-17h0m0-4h0m0 101h0m1-73h0m1-8h0m0-20h0m0 101h0m0 1h0m0-80h0m0-27h0m0 110h0m1-99h0m0-36h0m0-55h0m0 103h0m0 12h0m0 77h0m1-4h0m0-70h0m0 70h0m0-2h0m0-71h0m1 72h0m0-67h0m0 66h0m0-70h0m1-45h0m0 115h0m0 1h0m0-1h0m0-66h0m1-15h0m0 1h0m0 11h0m0-3h0m0 7h0m0-26h0m1 92h0m0 1h0m0-1h0m1-175h0m0 174h0m0 1h0m0 7h0m0-9h0m0-68h0m0 73h0m1-74h0m0 2h0m0-7h0m0 74h0m1-69h0m0-34h0m0-18h0m0 122h0m0-102h0m0 36h0m0-19h0m0 13h0m1 71h0m0-71h0m0-15h0m0-6h0m0 21h0m0-14h0m1-78h0m0 166h0m0-122h0m0 5h0m0-48h0m0 163h0m1-69h0m0 75h0m0-73h0m0-9h0m0-14h0m0 12h0m0 78h0m0 0h0m1 1h0m0-98h0m0-8h0m0-10h0m1 121h0m0-74h0m0 67h0m0-78h0m0 78h0m0 0h0m0 17h0m0-137h0m1-12h0m0 61h0m0 73h0m0-99h0m0-22h0m1 119h0m0 0h0m0-116h0m0 32h0m1 85h0m0-128h0m0 15h0m0 15h0m0 98h0m0-97h0m0 3h0m0 94h0m0-84h0m1 14h0m1 76h0m0-104h0m0 26h0m0 4h0m1-4h0m0 71h0m0-76h0m0-4h0m0 85h0m1-87h0m0 3h0m1 81h0m0-1h0m0 6h0m0-137h0m0 16h0m1 47h0m0-55h0m0 122h0m0-141h0m1 142h0m0-2h0m0-119h0m0 123h0m1-73h0m0 72h0m0-1h0m0 7h0m0-110h0m0 14h0m0-19h0m1 6h0m0 30h0m1 76h0m1 1h0m0-126h0m0 55h0m0-5h0m0-2h0m0-31h0m0 26h0m1-24h0m0 10h0m0 94h0m0-1h0m0 2h0m0 50h0m0-143h0m1 92h0m0-3h0m0-81h0m0 1h0m0-6h0m1 18h0m0-38h0m0 115h0m0-82h0m1 73h0m0-68h0m0-52h0m0 54h0m0 66h0m0-69h0m0-28h0m0-1h0m1 11h0m0-9h0m1-14h0m0 26h0m0 10h0m0 7h0m0 67h0m0-68h0m0 68h0m1-87h0m0 12h0m0 10h0m0-1h0m0-1h0m0-114h0m1 116h0m0 65h0m0 10h0m1-94h0m0 3h0m0-10h0m0 9h0m0-20h0m1 107h0m0-70h0m1-56h0m0 41h0m0 83h0m0 0h0m1-68h0m0-15h0m0-20h0m0 103h0m1 4h0m0-161h0m0 43h0m0 44h0m0-12h0m0 10h0m1 74h0m0-85h0m0 88h0m0-89h0m0-37h0m0 121h0m1-101h0m0 22h0m0 11h0m1-21h0m0 89h0m0 5h0m0-123h0m1 45h0m0-13h0m0 85h0m0-69h0m0-29h0m0 25h0m1-9h0m0 15h0m0-51h0m1 23h0m0 8h0m0 15h0m0-11h0m0 12h0m1 72h0m0-80h0m0-17h0m0 2h0m0 10h0m0 2h0m1 86h0m0-155h0m0 59h0m1-2h0m0-8h0m0 20h0m0-4h0m1 16h0m0 72h0m1-80h0m0-6h0m0-17h0m1-70h0m0 84h0m0-134h0m0 152h0m0 67h0m1-83h0m0-37h0m0 31h0m0 1h0m0 90h0m0-1h0m0-98h0m0-49h0m0 147h0m0-74h0m1 76h0m0-83h0m0 80h0m0 2h0m0-77h0m1-19h0m0 17h0m1 86h0m0-127h0m1 50h0m0-15h0m0 84h0m0 2h0m1-101h0m0-90h0m0 111h0m0-1h0m0 4h0m0 83h0m0-88h0m1-70h0m0 46h0m0 32h0m0 74h0m0 6h0m0-9h0m0 8h0m0-83h0m0 2h0m0 84h0m1-103h0m0 8h0m0 6h0m0 8h0m1-57h0m0 158h0m0-114h0m0 10h0m0-13h0m1-47h0m0 133h0m0-126h0m1 126h0m0 2h0m0-74h0m1 73h0m0-110h0m0 112h0m0-3h0m0 1h0m0 1h0m1-162h0m0 91h0m0 71h0m0-77h0m0-59h0m0 135h0m1-75h0m0-21h0m0 16h0m0-3h0m1 114h0m0-99h0m0-3h0m0-4h0m0-39h0m1 33h0m0 81h0m0-73h0m0 73h0m0-73h0m1 0h0m0 75h0m0-186h0m1 186h0m0-1h0m0-80h0m0-4h0m0-38h0m1 123h0m0-88h0m0-66h0m0 21h0m0 48h0m0-41h0m0 125h0m1-79h0m0 78h0m0 1h0m1-2h0m0 3h0m0-69h0m0 115h0m1-170h0m0 54h0m0-19h0m0-7h0m1 26h0m0 68h0m0-79h0m0 81h0m0-127h0m0 126h0m0-3h0m1 2h0m0 3h0m0-76h0m0 4h0m0 68h0m1-96h0m0 3h0m0 94h0m0 1h0m0-1h0m1-92h0m0 20h0m0-11h0m0 85h0m0-79h0m0 6h0m1-40h0m0 114h0m0-85h0m0-37h0m0 126h0m0-75h0m0-45h0m0 45h0m1 71h0m0-69h0m0 65h0m1-123h0m0 39h0m0 89h0m1-6h0m0-89h0m0 14h0m0-50h0m0 29h0m1 13h0m0 85h0m0-69h0m0-4h0m0 72h0m0-74h0m0 3h0m1-58h0m0 61h0m0 89h0m0-18h0m1 0h0m0-70h0m1-70h0m0 139h0m0-117h0m0 120h0m0-2h0m0-84h0m1-30h0m0 39h0m0-2h0m0 7h0m1 68h0m0-100h0m0 28h0m0-4h0m1-26h0m0 103h0m0-86h0m0 12h0m0 75h0m0-4h0m1 1h0m0-85h0m1-53h0m0 54h0m0 14h0m0-6h0m0 10h0m0-29h0m1 28h0m0-63h0m0 65h0m0-4h0m1 82h0m0-12h0m0-67h0m0-57h0m0 51h0m0 1h0m0 71h0m0-82h0m0 12h0m0 72h0m1-83h0m0 83h0m1 6h0m0-89h0m0 10h0m0-1h0m0 1h0m0 78h0m0-5h0m1-78h0m0-4h0m0 5h0m1-17h0m0 16h0m0 9h0m0 69h0m0-106h0m0 35h0m0 69h0m0-73h0m0-2h0m1 2h0m0-50h0m0 123h0m0 2h0m0-2h0m1-70h0m0-72h0m0 145h0m0-2h0m1-92h0m0 91h0m0-66h0m0 74h0m0-74h0m0-2h0m1 1h0m0 70h0m0 2h0m0-74h0m1 0h0m0 70h0m0-1h0m0-82h0m0-38h0m0 121h0m1-104h0m0 1h0m0 16h0m0 5h0m0 17h0m1-19h0m0-7h0m0 5h0m1 9h0m0 76h0m0-76h0m1 76h0m0 8h0m0-7h0m0-76h0m1 8h0m0-8h0m0-43h0m0 34h0m0-24h0m1 36h0m0 7h0m0-61h0m0 60h0m0 66h0m0-73h0m0 9h0m1-30h0m0 29h0m0-2h0m0 66h0m0 3h0m1-72h0m0-6h0m0 84h0m0-6h0m1-128h0m0 19h0m0-35h0m0 0h0m0 71h0m0 74h0m1-87h0m0 5h0m0 80h0m1-69h0m0-13h0m0 0h0m0 87h0m1-77h0m0 77h0m0-71h0m0 66h0m0-134h0m0 134h0m0-79h0m0 13h0m0 0h0m1 70h0m0-88h0m0-8h0m0 20h0m1-26h0m0 97h0m0-77h0m1 81h0m0-73h0m0 3h0m0 66h0m1 0h0m0 0h0m0-117h0m1 48h0m0-21h0m0 99h0m0-84h0m0-52h0m0 26h0m0 24h0m1-41h0m0 53h0m0-13h0m0 81h0m0-68h0m0-12h0m0 8h0m1 73h0m0-72h0m0 1h0m0 0h0m1-41h0m0 32h0m0 9h0m0 69h0m0-104h0m0 37h0m0-39h0m1 111h0m0-95h0m0 88h0m0-75h0m0-13h0m0 89h0m1-77h0m0-7h0m0 4h0m0 86h0m0-85h0m0 10h0m0-27h0m0 104h0m0 2h0m1-115h0m0 131h0m0-125h0m0 98h0m0 7h0m1 2h0m0-134h0m0 60h0m0-19h0m1 12h0m0 73h0m0-91h0m0 10h0m0 0h0m1-17h0m0 31h0m0 67h0m0-124h0m0 125h0m1-83h0m1 83h0m0-69h0m0 75h0m0-86h0m0 4h0m0 76h0m0-91h0m0 2h0m1-9h0m0 98h0m0-1h0m0 0h0m0-162h0m1 25h0m0 42h0m0 16h0m1 2h0m0-7h0m0 89h0m0-5h0m0-74h0m1-66h0m0 73h0m0-22h0m0 89h0m0 0h0m0-104h0m0 106h0m2 1h0m0-4h0m0-73h0m0-12h0m1 15h0m0 78h0m1-8h0m0-67h0m0 69h0m0-3h0m1-83h0m0 92h0m0-6h0m0-2h0m0-99h0m0 99h0m1 0h0m1-131h0m0 45h0m0-40h0m0 7h0m0 126h0m1-71h0m0-1h0m0-2h0m0 1h0m0 2h0m1-2h0m0 69h0m0 0h0m1-78h0m0-15h0m0-5h0m0 97h0m0-184h0m1 103h0m0 7h0m0 3h0m0 72h0m1-71h0m0-61h0m0 132h0m1-91h0m0 91h0m0-3h0m0-87h0m0 88h0m0-66h0m0-69h0m0 65h0m0-21h0m0-12h0m1 102h0m0-84h0m0 15h0m0 69h0m0-89h0m0 88h0m1 4h0m0 6h0m0-8h0m1-84h0m0 5h0m0-20h0m1 98h0m0 0h0m0-75h0m0-12h0m0-9h0m1 26h0m0-53h0m0 127h0m0-4h0m1 1h0m0-99h0m0-26h0m0 56h0m0-10h0m0 6h0m0-69h0m1 141h0m0-75h0m0 4h0m0 4h0m0-132h0m0 65h0m1 137h0m0 2h0m0-124h0m1 55h0m0 66h0m0-2h0m0 0h0m0-77h0m1-49h0m0 48h0m0 5h0m0-50h0m1 1h0m1 124h0m0-88h0m0-64h0m0 33h0m0 39h0m1 7h0m0 1h0m1 1h0m0-3h0m0-50h0m0 55h0m0 69h0m0-80h0m1-6h0m0-72h0m0 157h0m0-80h0m0-26h0m2 32h0m0-25h0m0 101h0m1-89h0m0 15h0m0-12h0m0 86h0m1-169h0m0 85h0m0 84h0m0 7h0m0-76h0m1-24h0m0 92h0m1-110h0m0 115h0m0-83h0m0-1h0m0-8h0m1 94h0m0-1h0m1-84h0m0-55h0m1 132h0m0-101h0m0 19h0m0 12h0m1-69h0m0 73h0m0 67h0m0-72h0m0 71h0m0-82h0m0 12h0m1-2h0m1-73h0m0 29h0m0 46h0m0 77h0m0-8h0m0-65h0m0-37h0m0 16h0m0 5h0m0 12h0m1 75h0m1-90h0m0-12h0m0 26h0m0 71h0m0-106h0m0 106h0m0-140h0m0 6h0m1 141h0m0-84h0m0 9h0m0 68h0m0-84h0m0 18h0m0-4h0m1 69h0m0 8h0m0-73h0m0-10h0m1 9h0m1-15h0m0 80h0m0-127h0m0 57h0m0-4h0m0 77h0m0-81h0m0-18h0m0 98h0m0-74h0m0 3h0m1-4h0m0-19h0m0 17h0m0-13h0m0 19h0m0-8h0m1 100h0m0-125h0m0 23h0m0 82h0m0-155h0m0 204h0m0-51h0m0-73h0m0-24h0m0-78h0m0 65h0m0 112h0m0-2h0m1-74h0m0 74h0m0-66h0m0-115h0m0 90h0m1 27h0m0-19h0m0 4h0m0-11h0m1 90h0m0 2h0m0-117h0m0 48h0m1 68h0m0-134h0m0 63h0m0 3h0m0-4h0m0 4h0m0 2h0m1 68h0m0-91h0m0 8h0m0-1h0m0 13h0m1-12h0m0-12h0m0 21h0m0-21h0m1 6h0m0 10h0m1-23h0m0 19h0m0 81h0m0 1h0m0-101h0m0 98h0m0 5h0m1-76h0m0 8h0m0 66h0m0-102h0m0 103h0m1-3h0m0 0h0m0 3h0m0 0h0m0 26h0m0-20h0m0-84h0m1 84h0m0-87h0m0 9h0m0-51h0m1 18h0m0 25h0m0-20h0m0 16h0m0 7h0m0 74h0m0-91h0m0 17h0m0-12h0m0 3h0m1 4h0m0 82h0m0-3h0m0 3h0m0-68h0m0 66h0m1-119h0m0 45h0m0 75h0m0 0h0m0-1h0m0-76h0m0 2h0m1-1h0m0 9h0m0-5h0m0-30h0m0 28h0m0 72h0m1-71h0m0-1h0m0-11h0m0-49h0m1 40h0m0 16h0m0 7h0m0-7h0m0-55h0m0 33h0m0 29h0m1-64h0m0 56h0m0-17h0m0 95h0m1 6h0m0-7h0m0-86h0m0 97h0m0-83h0m1-31h0m0-101h0m0 208h0m1-85h0m1 6h0m0-6h0m0 6h0m0 78h0m0-121h0m0 39h0m1 82h0m0-138h0m0-7h0m0 142h0m0 10h0m0-8h0m1-110h0m0 44h0m0-3h0m0 76h0m0 27h0m0-30h0m0-3h0m0-68h0m0-25h0m1-34h0m0 49h0m0-35h0m1 43h0m0-31h0m0 33h0m0 67h0m0 0h0m1-81h0m0 81h0m0-78h0m0-5h0m0-6h0m0-34h0m1-44h0m1 167h0m0-1h0m0-86h0m0 21h0m0-1h0m1-2h0m0-7h0m0 5h0m0 73h0m0-162h0m0 83h0m1 78h0m0-95h0m0 13h0m0 6h0m0-11h0m0 8h0m0 77h0m1-122h0m0 43h0m0 95h0m0-98h0m0-11h0m0 12h0m1 12h0m0-4h0m0-24h0m0 30h0m0-20h0m0 89h0m0-78h0m0 100h0m1-91h0m0-10h0m0 8h0m1 4h0m0 64h0m0 0h0m0 2h0m0-93h0m0 17h0m0-71h0m1 60h0m0 12h0m0 0h0m0 4h0m0-32h0m1 19h0m0 12h0m0-12h0m0 85h0m0-81h0m0 5h0m1 74h0m0 9h0m0-9h0m0-113h0m0 44h0m0-111h0m0 189h0m2-111h0m0 17h0m0-9h0m0 24h0m0 2h0m0-18h0m1 94h0m0-76h0m0-20h0m0 17h0m1 70h0m0-93h0m0 95h0m0-76h0m0 127h0m0-129h0m1 3h0m0-18h0m0 7h0m0 8h0m0-23h0m1 105h0m1-164h0m0 88h0m0-27h0m0 105h0m0-89h0m0 82h0m1 3h0m0-77h0m0-1h0m0 75h0m0-74h0m1-5h0m0 13h0m0-23h0m0 11h0m0 13h0m1-17h0m0 10h0m0-62h0m0 134h0m1-125h0m0 123h0m1-122h0m0 56h0m0-26h0m0 17h0m0-3h0m0 12h0m1-16h0m0-67h0m0 85h0m0 65h0m1-116h0m0 41h0m0 82h0m0-104h0m0 99h0m0-94h0m0 22h0m1-36h0m0 106h0m0-114h0m0 117h0m0-101h0m0 99h0m0-100h0m1 99h0m0-88h0m0 90h0m1-79h0m0 77h0m0-112h0m1-28h0m0 143h0m1-91h0m0 88h0m0-99h0m1 4h0m0-16h0m0 18h0m0-14h0m1 11h0m0 98h0m0-98h0m1 26h0m0 70h0m0-120h0m1 48h0m0-29h0m0 104h0m0-1h0m0-67h0m1-11h0m0 78h0m1 12h0m0-83h0m0-1h0m0-7h0m0 3h0m1-2h0m0 78h0m0-132h0m0 131h0m0 0h0m0-112h0m1 46h0m0-22h0m0 89h0m0 1h0m0-2h0m0 8h0m0-6h0m0-2h0m0 0h0m1-95h0m0 28h0m0-22h0m0 91h0m1-78h0m0-15h0m0 1h0m0 90h0m1-77h0m0-15h0m0-37h0m0 128h0m0-138h0m1 66h0m0 77h0m0-114h0m0 108h0m0-78h0m0-40h0m1 121h0m0-83h0m0 82h0m0-65h0m1-49h0m0 42h0m0 2h0m0 4h0m0-12h0m0 3h0m0-34h0m0 40h0m1-4h0m0 7h0m1-128h0m0 120h0m0 2h0m0-2h0m1 76h0m0 6h0m0-82h0m0 75h0m0-179h0m1 186h0m0-119h0m0 24h0m1 87h0m0 2h0m0-71h0m0-44h0m0 113h0m1-68h0m0-12h0m0 5h0m0 6h0m0-1h0m0-1h0m1 2h0m0-4h0m1 80h0m0-77h0m0 76h0m0-72h0m1 66h0m0 0h0m0-77h0m0 76h0m1-69h0m0-51h0m0 122h0m0-2h0m0-75h0m1 10h0m0-11h0m0 77h0m0 1h0m1-89h0m0-8h0m0 103h0m0-85h0m0 79h0m1-76h0m0-126h0m1 136h0m0 63h0m0-71h0m0-28h0m1 31h0m0 69h0m0 2h0m0-102h0m1 23h0m0 80h0m1-2h0m0-67h0m1-74h0m0 61h0m0 81h0m0-2h0m0 8h0m0-5h0m0 1h0m1-5h0m0-74h0m0-74h0m0 149h0m0 3h0m0-84h0m0 9h0m0-1h0m0-4h0m1-1h0m0 5h0m0 74h0m0-74h0m0-10h0m0-4h0m1 16h0m0 71h0m0-113h0m0 9h0m0 34h0m0-2h0m0-47h0m0 42h0m1-6h0m0-24h0m0 29h0m1 11h0m0-25h0m1 96h0m0-72h0m0 69h0m0-70h0m0-8h0m1-32h0m0 25h0m1-8h0m0 94h0m0-77h0m1 6h0m0-81h0m0 67h0m0-16h0m1 33h0m0 2h0m0 70h0m1-84h0m0 82h0m0-131h0m1 128h0m0-88h0m0 7h0m0 6h0m0-21h0m0-41h0m1 70h0m0-9h0m0 75h0m0 2h0m1-67h0m0-1h0m0 67h0m0 0h0m0 3h0m1-3h0m0-89h0m0 4h0m0 0h0m0-13h0m0 30h0m0-65h0m1 27h0m0-24h0m0 17h0m0 112h0m0-65h0m0-39h0m1 4h0m0 36h0m0-49h0m0 10h0m1 34h0m0-94h0m0 98h0m1-21h0m0 89h0m0-70h0m0-8h0m1 5h0m0 79h0m0-102h0m0 93h0m0-88h0m1 21h0m0-3h0m0 70h0m1-102h0m0 21h0m0 82h0m1-1h0m0-91h0m0 91h0m0 0h0m1-66h0m0-18h0m0-30h0m0 41h0m1-33h0m0 33h0m0-6h0m0 10h0m0 0h0m0 72h0m1-85h0m0 87h0m0-79h0m0 9h0m0 67h0m1-2h0m0 4h0m0-91h0m1 14h0m0 0h0m0 7h0m0 70h0m1-138h0m0 56h0m0 10h0m0 4h0m0-12h0m0 2h0m1 9h0m0-44h0m0 110h0m0-1h0m1 3h0m0-120h0m0 39h0m1 82h0m1-84h0m0-42h0m0 8h0m0 117h0m1-80h0m0-31h0m0-44h0m0 77h0m0-30h0m1-18h0m0 50h0m0 79h0m0-73h0m0 68h0m0-90h0m0 11h0m1 77h0m0-80h0m0-24h0m0 114h0m1-6h0m0-70h0m2 67h0m0-70h0m0-31h0m0 107h0m0-70h0m1-5h0m0-58h0m0-3h0m1 1h0m0 130h0m0 1h0m0-124h0m1 129h0m0-80h0m0 8h0m0-42h0m1 108h0m0-86h0m0-11h0m0 96h0m0-75h0m0 7h0m1 4h0m0 65h0m0-86h0m0 88h0m0-85h0m1 82h0m0-81h0m0 87h0m0-2h0m0-72h0m0-1h0m1 69h0m0 8h0m0-6h0m0-78h0m0 6h0m0 72h0m0-141h0m0 67h0m1-12h0m0-24h0m0 112h0m0-70h0m1 66h0m0 0h0m0-67h0m0-18h0m1-24h0m0 112h0m0-131h0m0 130h0m1-71h0m0-7h0m0 78h0m0-161h0m0 161h0m0-77h0m1-18h0m0-6h0m0-25h0m0 14h0m0 25h0m0 89h0m0-93h0m1 89h0m0 3h0m1 1h0m0-2h0m0-97h0m0 6h0m0 23h0m0-46h0m0 114h0m0 5h0m0-97h0m1 91h0m0-70h0m1-5h0m0 8h0m0 71h0m1 3h0m0-7h0m0-79h0m0 9h0m1 70h0m0-89h0m0 21h0m0 67h0m1 0h0m0 1h0m0-171h0m0 171h0m1-106h0m0 14h0m0 26h0m1-10h0m0 75h0m0-75h0m1-12h0m0 95h0m0-74h0m0 79h0m0-13h0m0-73h0m0-23h0m0-16h0m1-6h0m0 16h0m1 111h0m0-77h0m0 74h0m0-92h0m0 87h0m0-70h0m1-81h0m0 151h0m0-85h0m0 85h0m1 2h0m0-86h0m0-20h0m0 37h0m0 69h0m1-102h0m0 21h0m0 81h0m0 28h0m0-106h0m1-17h0m0 94h0m0 1h0m0-80h0m1 7h0m0 78h0m0-77h0m1-11h0m0-19h0m0 101h0m0-132h0m0 34h0m0-11h0m0 38h0m0 71h0m0 0h0m0-1h0m1-73h0m0 5h0m0-21h0m0 90h0m0-77h0m0 76h0m1-78h0m0-71h0m1 75h0m0 81h0m0-89h0m0 7h0m0 75h0m0-66h0m1-8h0m0-30h0m1 108h0m0-76h0m0-50h0m0 53h0m1 75h0m0-82h0m0 6h0m0-28h0m0 100h0m0-81h0m1 6h0m0-3h0m0 3h0m0-4h0m1-23h0m0 100h0m0-142h0m0 39h0m0 103h0m0-68h0m1-19h0m0-18h0m0 37h0m1-30h0m0 3h0m0 4h0m0 93h0m0-70h0m1 68h0m0-72h0m0 72h0m0-72h0m0-11h0m1-53h0m0 56h0m0-29h0m0 108h0m0 1h0m1 2h0m0-71h0m0-1h0m0-6h0m0 2h0m0-1h0m0 77h0m1 0h0m0-3h0m0-66h0m1 70h0m0-87h0m0-1h0m0 5h0m0 89h0m0-157h0m0 81h0m0 0h0m1-18h0m0 16h0m1 68h0m0 3h0m0-102h0m0 108h0m1-2h0m0-87h0m0 1h0m0 79h0m0-89h0m0-100h0m0 193h0m0-127h0m0 39h0m1 3h0m0-6h0m0 22h0m0 69h0m0-90h0m1 19h0m0-4h0m0-125h0m0 210h0m1-89h0m0 76h0m0-112h0m0 110h0m0 8h0m0-80h0m0 2h0m1 75h0m0 5h0m0-5h0m0-80h0m0 2h0m0 3h0m0 5h0m1-17h0m0 84h0m0-73h0m0-76h0m0 78h0m0 77h0m1-107h0m0 105h0m0 2h0m0-72h0m0-11h0m1-120h0m0 196h0m0 3h0m1-71h0m0-21h0m0 15h0m1-16h0m0 10h0m0 85h0m0-81h0m0 79h0m1-120h0m0 51h0m0-4h0m0-31h0m1 101h0m0-83h0m0 90h0m0-83h0m0-29h0m0 7h0m1 105h0m0-74h0m0-10h0m0 86h0m0-98h0m0-1h0m0 90h0m0-88h0m1 97h0m0-97h0m0 3h0m1 88h0m0-80h0m0 78h0m0-79h0m1-18h0m0 10h0m0 93h0m1-80h0m0-1h0m0-15h0m0 98h0m0-116h0m0 109h0"/>
<line x1="1577.6" y1="1588.3" x2="1577.6" y2="1853.7" stroke="#fff" stroke-width="1.8"/>
<line x1="1625.2" y1="1588.3" x2="1625.2" y2="1853.7" stroke="#fff" stroke-width="1.8"/>
<line x1="1668.9" y1="1588.3" x2="1668.9" y2="1853.7" stroke="#fff" stroke-width="1.8"/>
<line x1="1699.8" y1="1588.3" x2="1699.8" y2="1853.7" stroke="#fff" stroke-width="1.8"/>
<line x1="1739.8" y1="1588.3" x2="1739.8" y2="1853.7" stroke="#fff" stroke-width="1.8"/>
<line x1="1774.8" y1="1588.3" x2="1774.8" y2="1853.7" stroke="#fff" stroke-width="1.8"/>
<line x1="1803.3" y1="1588.3" x2="1803.3" y2="1853.7" stroke="#fff" stroke-width="1.8"/>
<line x1="1831.1" y1="1588.3" x2="1831.1" y2="1853.7" stroke="#fff" stroke-width="1.8"/>
<line x1="1852.6" y1="1588.3" x2="1852.6" y2="1853.7" stroke="#fff" stroke-width="1.8"/>
<line x1="1880.7" y1="1588.3" x2="1880.7" y2="1853.7" stroke="#fff" stroke-width="1.8"/>
<line x1="1905" y1="1588.3" x2="1905" y2="1853.7" stroke="#fff" stroke-width="1.8"/>
<line x1="1941.1" y1="1588.3" x2="1941.1" y2="1853.7" stroke="#fff" stroke-width="1.8"/>
<line x1="1955.4" y1="1588.3" x2="1955.4" y2="1853.7" stroke="#fff" stroke-width="1.8"/>
<line x1="1976.2" y1="1588.3" x2="1976.2" y2="1853.7" stroke="#fff" stroke-width="1.8"/>
<line x1="1994.3" y1="1588.3" x2="1994.3" y2="1853.7" stroke="#fff" stroke-width="1.8"/>
<line x1="2011.6" y1="1588.3" x2="2011.6" y2="1853.7" stroke="#fff" stroke-width="1.8"/>
<line x1="2033.2" y1="1588.3" x2="2033.2" y2="1853.7" stroke="#fff" stroke-width="1.8"/>
<line x1="2045.7" y1="1588.3" x2="2045.7" y2="1853.7" stroke="#fff" stroke-width="1.8"/>
<line x1="2055" y1="1588.3" x2="2055" y2="1853.7" stroke="#fff" stroke-width="1.8"/>
<line x1="2066.2" y1="1588.3" x2="2066.2" y2="1853.7" stroke="#fff" stroke-width="1.8"/>
<line x1="2072.4" y1="1588.3" x2="2072.4" y2="1853.7" stroke="#fff" stroke-width="1.8"/>
<line x1="2079.3" y1="1588.3" x2="2079.3" y2="1853.7" stroke="#fff" stroke-width="1.8"/>
<rect x="1510.6" y="1587.3" width="589.6" height="267.4" fill="none" stroke="#8C8C8C" stroke-width="1.3"/>
<text x="1542.9" y="1875.5" text-anchor="middle">1</text>
<text x="1720" y="1875.5" text-anchor="middle">5</text>
<text x="1865.8" y="1875.5" text-anchor="middle">10</text>
<text x="1987.3" y="1875.5" text-anchor="middle">15</text>
<text x="2063.7" y="1875.5" text-anchor="middle">20</text>
<text x="2091.5" y="1875.5" text-anchor="middle">X</text>
<text x="1805.4" y="1897" text-anchor="middle">Chromosome</text>
<text x="1530.6" y="1622.3">n = 34,679</text>
<text x="2078.2" y="1622.3" font-size="20.2" text-anchor="end">Rep. 3</text>
<text x="1444.6" y="1721" font-size="25.2" text-anchor="middle" font-weight="bold" transform="rotate(-90 1444.6 1721)">RNA</text>
<text x="1468.4" y="1721" font-size="25.2" text-anchor="middle" font-weight="bold" transform="rotate(-90 1468.4 1721)">C-to-U editing (%)</text>
</svg>
</body></html>
